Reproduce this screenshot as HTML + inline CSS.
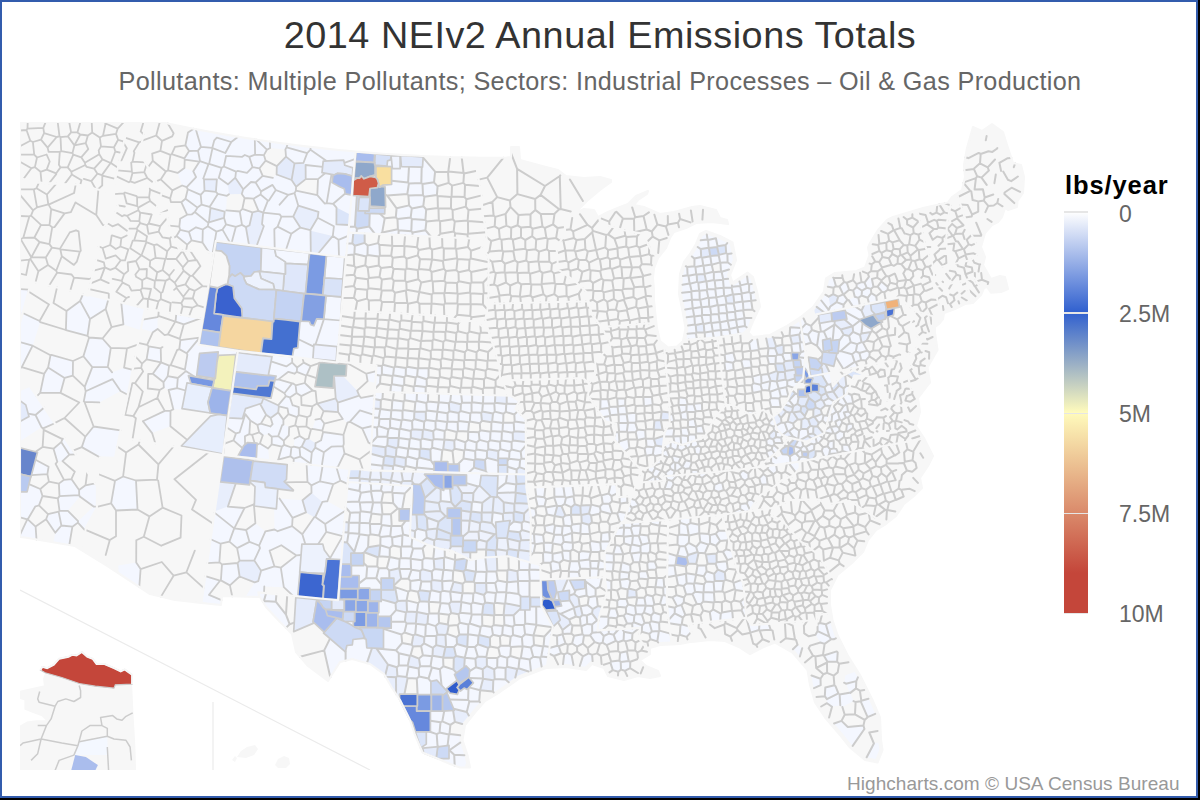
<!DOCTYPE html>
<html><head><meta charset="utf-8"><title>2014 NEIv2 Annual Emissions Totals</title>
<style>
html,body{margin:0;padding:0;background:#000;}
body{width:1200px;height:800px;overflow:hidden;position:relative;font-family:"Liberation Sans",sans-serif;}
#chart{position:absolute;left:0;top:0;width:1194px;height:794px;border:2px solid #335cad;background:#fff;}
#title{position:absolute;left:0;width:1200px;top:13px;text-align:center;font-size:37.8px;letter-spacing:0.52px;color:#333;white-space:nowrap;line-height:44px;}
#sub{position:absolute;left:0;width:1200px;top:66px;text-align:center;font-size:25.2px;letter-spacing:0.36px;color:#666;white-space:nowrap;line-height:30px;}
#map{position:absolute;left:0;top:0;}
#ltitle{position:absolute;left:1065px;top:170px;font-size:25.5px;font-weight:bold;letter-spacing:0.9px;color:#000;white-space:nowrap;line-height:30px;}
#bar{position:absolute;left:1064px;top:212px;width:24px;height:401px;background:linear-gradient(to bottom,#ffffff 0%,#3060cf 25%,#fffbbc 50%,#c4463a 90%,#c4463a 100%);}
.tick{position:absolute;left:1064px;width:24px;height:1.5px;background:#e6e6e6;}
.lab{position:absolute;left:1119px;font-size:23px;color:#666;line-height:26px;white-space:nowrap;}
#credits{position:absolute;right:20.5px;top:773px;font-size:19px;letter-spacing:0.05px;color:#999;white-space:nowrap;line-height:22px;}
</style></head><body>
<div id="chart"></div>
<svg id="map" width="1200" height="800" viewBox="0 0 1200 800">
<defs><clipPath id="plot"><rect x="20" y="122" width="1040" height="648"/></clipPath></defs>
<g clip-path="url(#plot)">
<path d="M20 122l0 415l5 0.5l50 8.5l32.5 20l42.5 28l25 6l46 5l1 -9l38 1l6 10l14 15l12 12l4 18l12 14l20 15l12 -19l12 -3l18 5l14 10l8 14l8 12l10 20l5 15l7.5 17.5l12.5 5l15 6.5l10 3.5l10 0l-2.5 -12.5l-5 -15l2.5 -15l10 -12.5l10 -11.5l15 -9l20 -14l26 -10l20 -1l20 3l6 -6l12 4l4 8l16 4l14 -4l12 2l10 -2l-2 -5l-12 -5l-6 -6l10 -6l0 -6l10 -3l20 -1l10 -2l20 -2l15 1l15 6.5l10 6.5l12.5 -6.5l12.5 -5l17.5 10l15 17.5l2.5 15l5 17.5l10 15l15 17.5l10 12.5l15 12.5l12.5 2.5l5 -12.5l-1.5 -10l-1 -22.5l-7.5 -17.5l-12.5 -25l-12.5 -20l-10 -20l-5 -15l-2.5 -15l0 -15l7.5 -15l14.5 -12l11 -11l5 -12l8 -10l10 -6l10 -8l8 -12l10 -8l8 -8l-2 -10l8 -12l5 -10l-9 -18l-8 -12l4 -14l-2 -14l12 -15.5l-2.5 -15l10 -17.5l-2.5 -17.5l0 -5.5l4 -3l4 -5l1 -6l11 -4l10 -5l8 -1l8 -8l3 -7l3 -1l4 5.7l10 -0.7l7 -3l-3 -12l-5 -1l-9 3l-4 -7l-4 -7l2 -8l-4 -10l4 -14l7 -8l6 -3l4 -5l3 -9l3 2l9 -3l0.5 -6l5.5 -8l1 -16l-3 -12l-8 -2l-5 -15l-5 -16l-11 -8l-10 7l-9 -4l-6 21l-3 17l1 12l-3 13l-10 7l-4 5.5l-25 5.5l-30 9l-6 3l-9 10l-8 13l-2 4.5l1.5 7.5l-4.5 12.5l-8.5 3.5l-21.5 2l-9 5.5l-2 13l-11 15.5l-13 10.5l-13 8.5l-17 9l-17.5 2l-4 -4.5l4.5 -11l7 -15l-3 -15l-4 -14.5l-5.5 -4.5l-15 10l-2.5 -7.5l6 -15l-3.5 -17.5l-12.5 -6.5l-14 -5l-6 3l-4 10l-6 10l-6 8l-4 12l-1 20l3.5 17l3 17l-2.5 13l-6 5.5l-9 1l-8 -6.5l-3 -13l-1.5 -13l-1.5 -15l0 -10l-1 -12l1 -10l4 -10l8 -10l4 -10l4 -6l12 -4l10 -5l16 -1l16 2l-1 -4l-7 -2l-4 -8l-16 -4l-8 1l-18 5l-14 2l-16 -7l-10 -2l4 -5l9 -6l1 -3l-12 5l-8 8l-8 3l-12 5l-10 5l-4 -7l-10 -1l-14 6.6l8 -5.6l10 -10l12 -10l11 -8l0 -2l-11 -3l-16 1l-18 -2l-8 -6l-12 -3l-26 -7l-1 -13l-8 0l0 10l-5.2 0.8l-8.8 0l-8.8 0l-8.8 -0.1l-8.8 -0.1l-8.8 -0.2l-8.8 -0.2l-8.8 -0.3l-8.8 -0.3l-8.8 -0.4l-8.7 -0.4l-8.8 -0.4l-8.8 -0.5l-8.8 -0.6l-8.8 -0.6l-8.7 -0.6l-8.8 -0.7l-8.8 -0.8l-8.7 -0.8l-8.8 -0.8l-8.7 -0.9l-8.8 -1l-8.7 -1l-8.8 -1l-8.7 -1.1l-8.7 -1.1l-8.7 -1.2l-8.7 -1.2l-8.7 -1.3l-8.7 -1.3l-8.7 -1.4l-8.7 -1.4l-8.7 -1.5l-8.6 -1.5l-8.7 -1.6l-8.7 -1.6l-8.6 -1.7l-8.6 -1.7l-8.6 -1.7l-8.6 -1.8l-4.6 -1z" fill="#f7f7f7"/>
<path d="M35.6 526.6l-7.8 -7.3l-0.5 0l-7.3 15.6l0 2l0 0.1l5 0.5l11.5 2zM72.4 526.7l-11 -1.2l-6.1 7.2l-1.9 9.6l15.9 2.7zM35.3 506.5l-15.3 -8l0 18.8l7.3 2l0.5 0zM48 514.2l-1.9 5.1l9.2 13.4l6.1 -7.2l-2.8 -13.9zM58.6 511.6l2.8 13.9l11 1.2l5.5 -4.1l0.2 -1.4l-10.2 -10.4l-8.4 -0.2zM93.6 506.5l-15.5 14.7l-0.2 1.4l7.4 8.1l0.9 -3.7l10.7 -19.3l0 -1zM35.3 506.5l3.7 -1.1l3.5 -9.4l-2.2 -7l-11.3 -4.9l-1.9 7.8l-7.1 0l0 6.6zM59.5 510.6l8.4 0.2l11.9 -14.3l-0.6 -1.3l-19.7 0.9l-1.7 2.3zM79.2 495.2l-0.1 -5.3l-7.7 -10.8l-7.4 0.7l-5.1 3.8l0.6 12.5zM85.5 485.3l-6.4 4.6l0.1 5.3l0.6 1.3l13.8 10l3.3 0.2l0 -20.5l-1.8 -2.8zM47.4 474.1l1.2 -7.4l-13.1 -7l-4 15.4zM53.5 448.7l3.8 13l5.2 -0.6l6.9 -6.4l-8.2 -12.6zM41.6 427.3l-6.1 -12.3l-7.3 -1.4l0.8 3l-9 4.9l0 19.8zM69.4 454.7l6.2 -0.3l-11.3 -16.9l-1.8 1.6l-1.3 3zM35.5 415l6.1 12.3l1.5 1.1l11.6 -5.2l-10.5 -15.7zM20 391.3l0 9.3l5.8 4.3l2.4 8.7l7.3 1.4l8.7 -7.5l-14 -20.8zM20 289.1l0 33.8l9 -33.2zM93.6 426.5l-8.3 10.2l-3.5 10.4l17.9 10.1l15.3 0.5l5.5 -27.3zM48.1 367.6l-3.9 6.2l-4 19.1l20.3 0l4.1 -15zM85.7 391.3l-1.9 10l0.6 0.5l14.9 0.6l21.3 -11.4l-8.2 -11.9zM20 342.1l0 26.2l1.8 -1.1l10.8 -21.5zM51.4 354.9l-0.9 0.4l-2.4 12.3l16.5 10.3l8.2 -2.3l0.2 -14.6zM107.8 367l-15.5 0.1l-7.6 19.8l1 4.4l26.7 -12.2l-0.3 -6.7zM124.1 367.7l-12 4.7l0.3 6.7l8.2 11.9l7.1 3.7l5 -24.8zM22.7 313l-2.7 9.9l0 19.2l12.6 3.6l0.1 0l7.5 -23.6l-0.6 -1.1zM110.8 347.8l-8.3 -9.3l-13.4 -1l-5.7 18.8l8.9 10.8l15.5 -0.1zM66.5 310.9l-0.6 19.1l0 0.1l21.6 5.7l2.5 -16.8l-9.9 -18.1zM80.1 300.9l9.9 18.1l15.7 -10l2.6 -9.5l-20.3 -4.7l-0.2 0.9l-4.9 -1.4zM123.4 324.4l17.3 5.8l4.4 -22l-23.8 -5.6zM176.5 236l10.7 8.6l4.4 -4.3l-2.7 -8.5l-8.7 -2zM196 227.3l-7.1 4.5l2.7 8.5l10.9 2.3l0.3 -13.1zM202.8 229.5l-0.3 13.1l6.4 9.6l3.7 1.2l3.8 -21.8l-8.6 -5.3zM216.4 231.6l-3.8 21.8l1.1 0.4l0.3 -1.9l0.2 -1.3l0.1 0l1.2 -7.5l0 -1.1l0.2 0l0.2 -1.2l14.1 1.8l-7.5 -13zM180.2 218.7l-0.9 8l0.9 3.1l8.7 2l7.1 -4.5l-4 -13l-4.9 0.4zM192 214.3l4 13l6.8 2.2l5 -3.2l0.6 -3.4l-13.6 -10.9zM224 217.8l-15.1 4.5l-0.5 0.6l-0.6 3.4l8.6 5.3l6.1 -2l3.5 -5.2zM235.9 226.8l-9.9 -2.4l-3.5 5.2l7.5 13l1.6 0.2zM245.9 227.1l-3.9 -2.2l-6.1 1.9l-4.3 16l17.4 2.2zM274.3 229.2l-10.5 -3l-7.2 19.8l18.1 2.3zM291.3 233.8l-13.7 -7.2l-3.3 2.6l0.4 19.1l11.3 1.4zM291.3 233.8l-5.3 15.9l24.8 3.2l-0.3 -22.2l-0.2 -0.5l-10 -2.6zM338.5 239.8l-5.7 -3.8l-0.2 0.1l-14.6 17.7l21 2.7zM338.5 239.8l0.5 16.7l4.2 0.6l1.5 0.1l1.4 0.2l2 -21.6zM185.5 198.7l-4.2 3.5l5.8 12.5l4.9 -0.4l2.8 -2.3l2.7 -4.4zM194.8 212l13.6 10.9l0.5 -0.6l1.6 -14.4l-0.9 -1l-8 -2.3l-4.1 3zM224.7 211.6l-0.7 6.2l2 6.6l9.9 2.4l6.1 -1.9l-2.2 -13.4l-13.6 -1.2zM239.8 211.5l2.2 13.4l3.9 2.2l3.6 -1.8l3 -13l-10.1 -3.5zM263.2 212.7l-1.2 11.4l1.8 2.1l10.5 3l3.3 -2.6l3.8 -9.9l-1.7 -2.3zM277.6 226.6l13.7 7.2l9 -6.2l-7.1 -11l-11.8 0.1zM310.5 230.7l22.1 5.4l0.2 -0.1l1.1 -9.7l-16.2 -8.5l-7.4 12.4zM338.5 239.8l9.6 -4l0.9 -10.8l-12.6 -0.6l-2.5 1.9l-1.1 9.7zM201.6 204.6l-0.9 -9.7l-12.9 -5.7l-2.3 9.5l12 8.9zM200.7 194.9l0.9 9.7l8 2.3l8.2 -13l-1.9 -2.1l-11.4 -1.1zM217.8 193.9l-8.2 13l0.9 1l14.2 3.7l1.5 -1.3l0.7 -14.5zM258.5 210.8l4.7 1.9l4.7 -12.1l-7.3 -6.1l-7.2 4.2zM267.9 200.6l-4.7 12.1l16.5 1.7l-0.1 -9.7l-10.7 -4.2zM279.7 214.4l1.7 2.3l11.8 -0.1l5.1 -10.9l-3.8 -12.6l-6.3 1.8l-8.6 9.8zM324.8 203.6l-6.3 8.2l-0.8 6l16.2 8.5l2.5 -1.9l0.1 -16.8l-3.3 -3.8l-6.5 -0.7zM177.6 172.9l4.5 12.6l4.6 1.7l9.4 -10.1l-2.8 -5.8l-8.9 -3.4zM203.3 178.5l-7.2 -1.4l-9.4 10.1l1.1 2l12.9 5.7l3.8 -4.2l-0.5 -11.5zM215.9 191.8l1.9 2.1l9.1 1.9l2.1 -1.6l-1.1 -9.9l-9.1 -6.5l-1.9 1.5zM253.4 198.7l7.2 -4.2l0.4 -3.1l-5.4 -8.9l-4.6 -0.5l-7.8 7.3l-1.4 4.6l2.8 4.1zM260.6 194.5l7.3 6.1l1 -0.1l6.9 -10.5l-3.3 -5.1l-11.5 6.5zM268.9 200.5l10.7 4.2l8.6 -9.8l-12.4 -4.9zM317.3 195.2l-21.4 -4.5l-1.4 2.4l3.8 12.6l20.2 6.1l6.3 -8.2zM333.2 203.8l3.3 3.8l13.5 6.8l1.7 -19.3l-6.5 -1.3l0 -0.3zM193.3 171.3l2.8 5.8l7.2 1.4l5.2 -14.4l-8.5 -2.9l-0.6 0.5zM216.9 179.3l1.9 -1.5l2.9 -10l-12.6 -3.9l-0.6 0.2l-5.2 14.4l0.7 0.7zM223.9 166.5l-2.2 1.3l-2.9 10l9.1 6.5l7.4 -6.6l0.7 -6zM251 182l-4 -9.2l-9.2 -1.9l-1.8 0.8l-0.7 6l7.9 11.6zM255.6 182.5l7.1 -6.6l-3.2 -7.6l-7 -1.2l-5.5 5.7l4 9.2zM261 191.4l11.5 -6.5l0.4 -7l-10.2 -2l-7.1 6.6zM288.2 194.9l6.3 -1.8l1.4 -2.4l0.2 -4l-4.5 -6.7l-15 -5.5l-3.7 3.4l-0.4 7l3.3 5.1zM318 179.1l-0.7 16.1l7.5 8.4l1.9 -0.5l4.8 -28.6l-6.4 -1.2zM344.3 162.8l0.5 2.5l8.1 2.5l0 0.1l0.1 0l-0.7 8.3l-1.2 -0.4l1.3 0.6l-0.3 11.2l-0.1 4.4l0.4 -4.6l2.5 -28.2l-10.6 3.6zM326.7 203.1l6.5 0.7l12 -10.3l-1 -4.8l-4.6 -1.9l-7.6 -4.3l1.1 -7.7l-1.6 -0.3zM184.7 159.7l14.7 2l0.6 -0.5l-2 -10.6l-8.9 0.4l-4.8 7.4zM200 161.2l8.5 2.9l0.6 -0.2l3.4 -15.8l-0.2 -0.3l-11.3 -0.9l-3 3.7zM221.7 167.8l2.2 -1.3l2.2 -10.7l-0.8 -2.8l-12.8 -4.9l-3.4 15.8zM242.2 156.8l-16.1 -1l-2.2 10.7l12.1 5.2l1.8 -0.8zM252.5 167.1l-3.2 -10.3l-4.5 -1.8l-2.6 1.8l-4.4 14.1l9.2 1.9zM259.5 168.3l6.1 -7.7l-1.7 -5.5l-8.8 -0.5l-5.8 2.2l3.2 10.3zM305.6 165l0.1 14.1l12.3 0l7.1 -5.8l-3.1 -0.6l0.6 -5.9zM188 132.5l-2.6 12.8l3.7 5.7l8.9 -0.4l3 -3.7l-5.2 -17.7l-2.1 -0.4zM201 146.9l11.3 0.9l2 -7.5l-14.9 -10.5l-3.6 -0.6zM231.3 142l-14.5 -4.3l-2.5 2.6l-2 7.5l0.2 0.3l12.8 4.9zM231.3 142l-6 11l0.8 2.8l16.1 1l2.6 -1.8l-3.1 -17.7l-3.6 -0.6zM244.8 155l4.5 1.8l5.8 -2.2l-0.3 -15.3l-3.1 -0.4l-8.7 -1.4l-1.3 -0.2zM255.1 154.6l8.8 0.5l3 -5.4l-10.5 -10.1l-1.6 -0.3zM286.6 147.3l-1.2 2.1l0.6 7.2l8.5 6.8l9 -0.6l3.7 -9.7zM303.5 162.8l2.1 2.2l17 1.8l0.6 -5.7l3.4 -0.1l-16.1 -11.3l-3.3 3.4zM214.3 140.3l2.5 -2.6l0.6 -4.5l-0.4 -0.1l-8.7 -1.6l-8.7 -1.6l-0.2 -0.1zM216.8 137.7l14.5 4.3l6.8 -5.3l-3.8 -0.6l-8.7 -1.5l-8.2 -1.4zM266.9 149.7l3.2 -1.7l-0.2 -6.4l-0.8 -0.1l-8.7 -1.3l-4 -0.6zM285.4 149.4l1.2 -2.1l1 -3.3l-1.1 -0.1l-8.7 -1.2l-7.9 -1.1l0.2 6.4zM286.6 147.3l20.6 5.8l3.3 -3.4l0.1 -2.8l-6.7 -0.8l-8.7 -1.1l-7.6 -1zM326.6 161l17.1 -0.9l0.6 2.7l10.6 -3.6l0.7 -7.7l-7.9 -0.7l-8.8 -0.8l-8.7 -0.9l-8.8 -1l-8.7 -1l-2.1 -0.2l-0.1 2.8zM201.8 329.1l5.9 -33.8l1.3 -7.7l5 -35.7l-1.6 9.5l-5.5 33.5l-8.4 49.9l39.4 6.1l21.6 2.3l-40.7 -6l0 -0.1l0.9 -7.7l-1.1 8l-19.2 -2.9l0 -0.1l2.3 -15.3l0.1 0zM298.5 339.2l-0.7 8.6l-4 0.7l-1.4 8.2l-2.5 -0.2l32.4 4.1l-0.5 -0.9l-8.9 -0.8l0.9 -12.3zM261 353.4l19.1 2l-19.1 -2.1zM223.2 314.9l-0.1 0.9l33.7 3.7l-14.5 -1.8l-0.1 -1.9l-0.3 1.8zM323.9 319.1l-0.1 0l-7.1 -0.2l-2.8 6.9l-3.2 -1.1l-1.3 -3.2l-8.2 -0.4l0 0.2l-15 -1.5l13.8 1.9l-1.5 17.5l15.3 7.4l0.1 -2.2l1.6 0.1zM260.7 247.5l13.3 1.6l35.7 3.8l-0.1 0.6l16.8 1.8l0 0.2l16.8 1.6l-127.3 -16.3l-0.2 1.2zM322.7 295.4l0.1 -0.6l-16.7 -1.1l19.4 2l0 -0.1zM304.2 293.6l-0.2 0l-1 10.5zM276.4 290.1l4.4 0.4l-4.4 -0.6zM272.4 324.4l0.4 -2.9l-0.3 0zM215.5 243.1l-1.2 7.5l1.2 -1.3zM315.5 344.5l21.6 2.1l-0.8 14.5l-14.5 -1.4l0.5 0.9l14.5 1.9l3.7 -42l-16.6 -1.4zM343.1 278l-1.5 18.8l-3.5 -0.2l3.9 0.5l-1.3 21.8l5.4 -61.5l-1.4 -0.2l-1.6 20.8zM142.9 421.3l9.2 11.8l18.3 -6.9l0.1 -15.4l-5.7 0.1zM125.2 414.9l7.1 -31.7l-2.1 -0.8l-6.5 32.4zM177 388.1l-8.4 1.9l4.7 19.3l14.7 0.3l-6 -0.9l3.5 -18.2zM177.8 378l-10.1 -1.8l-4.2 6.1l0.3 5.1l4.8 2.6l8.4 -1.9zM185.5 390.5l1.5 -7.7l4 0.7l-2.6 -7.8l6.7 1.2l-9.3 -5.8l-8 6.9l-0.8 10.1zM163.5 382.3l4.2 -6.1l1.4 -10.5l-8 -3.4l-0.1 0.1l-8.2 11.3zM148.7 346.4l-2.1 12.9l14.4 3.1l0.1 -0.1l-0.4 -14zM212.1 387.6l0.9 0.5l18.1 2.7l0 0.1l-1.1 7.8l-0.6 4l-1.1 7.8l0.9 0.1l1.1 -7.6l0.6 -3.7l0.7 -4.6l3.3 -23l0 -0.1l0.9 -8.4l-1 -0.1l-3.2 27.8l-18.8 -3l0.7 -4.9l-1 4.5l0 0.1l-0.1 0l-0.2 -0.1l-0.1 0.1zM187.4 354.6l-2.5 15l0.9 1.5l9.3 5.8l18.9 3.2l0.3 -1.7l-17.6 -2.8l2.5 -18.9zM180.4 340.2l-1.1 8.9l7.3 4.2l13.1 -15.7zM186.6 353.3l0.8 1.3l11.8 2.1l0.4 -3.4l18.6 -1.5l-0.9 8.1l0.2 0l0.9 -4.6l17.4 -0.8l-1 8.6l1 0.1l1.3 -10.7l0.5 0l0.3 -1.6l-39.4 -6.1l1.2 -7.2zM152.9 332.2l4.7 -3.3l-0.1 -11.8l-14.7 2.5l-1.8 9zM175.5 321.6l8.3 2.7l16.7 -5.9l-24.2 -4.5zM310.7 463.7l-10.4 -7.1l-6.5 2.1l-0.3 4.1l17.7 2zM268.1 448.5l-8.2 -5l-2.9 1.3l-0.7 13.9l13 1.4zM291.4 447.5l-7.3 -2.7l-2.2 1.9l-3.6 13l12.1 -3.4zM293.8 458.7l6.5 -2.1l-0.8 -8.6l-5.7 -1.3l-2.4 0.8l-1 8.8zM310.7 463.7l1.1 -11.1l-10.1 -6l-2.2 1.4l0.8 8.6zM310.7 463.7l0.5 1.1l10.6 1.1l2.1 -13.6l-8.6 -4.7l-3.5 5zM344.5 453.4l-1.4 -7.3l-11.4 0.5l-7.8 5.7l-2.1 13.6l15.7 1.8zM244.9 436.3l-5.3 -3.9l-3.6 1l-2.5 7l8.9 7.6l1.4 -2.5l1.3 -1zM283.8 440.7l-5.6 -4.6l-6.4 0.6l-0.1 7.7l10.2 2.3l2.2 -1.9zM299.5 448l2.2 -1.4l3.5 -7.1l-5.5 -3.5l-5.2 2.5l-0.7 8.2zM315.5 443.2l-0.2 4.4l8.6 4.7l7.8 -5.7l-10.6 -6.3zM236 433.4l3.6 -1l5.7 -18.3l-0.7 -2.1l-2.1 6.6l-14.3 -0.7l-1.4 9.7zM239.6 432.4l5.3 3.9l4.4 -2.2l0.9 -13.7l-4.9 -6.3zM270.5 426.5l-9.6 -2.9l-3.5 1.3l1.7 7.4l3.7 3l5.8 -1.3zM278.2 436.1l3.9 -10.9l-9.5 -1l-2.1 2.3l-1.9 7.5l3.2 2.7zM282.1 425.2l-3.9 10.9l5.6 4.6l5 -5.3l0.4 -8.3l-5.8 -2.5zM321.1 440.3l10.6 6.3l11.4 -0.5l0.7 -2.2l-0.3 -9.1l-20.4 -2.8zM231.6 394.7l0.2 -1.4l0.4 0l0.9 -6.6l-0.2 -0.1l-0.1 0l1.1 -7l0.4 -2.8l-0.1 -0.1l-0.4 2.6l-2.2 15.4zM245.3 414.1l4.9 6.3l7.2 4.5l3.5 -1.3l5.2 -8.8l-6.1 -11l-14.4 4.8l-1 3.4zM278.2 412.4l-7.5 5.5l1.9 6.3l9.5 1l1.3 -0.6l0 -5zM312.4 428.9l9.9 1.8l2 -7.1l-3.5 -4.9l-5.4 0.9zM362.2 428.4l6.3 14.2l2.8 1.7l1.2 -18.3zM296.9 417.2l1.8 -2.1l0.1 -8l-6.2 -1.9l-5.1 3.2l1 5.7zM349.8 421.8l12.4 6.6l10.3 -2.4l0.8 -11.4l-13.4 -4.3zM292.6 405.2l-2.7 -7.8l-4 -1.3l-7.8 9.2l0.8 1.1l8.6 2zM338.1 412.1l4.7 6.9l4.6 3.7l2.4 -0.9l10.1 -11.5l1.1 -12.5l-1.8 -2.1l-21.4 7zM361 397.8l-1.1 12.5l13.4 4.3l1.3 -19.2zM284.4 393.2l7.8 -9.8l-13.8 -4l-3.4 0.3l-0.4 1.1l-2.9 -0.2l3 0.5l-1.2 5.3zM296.5 392.9l-0.9 -7.6l-2.8 -2l-0.6 0.1l-7.8 9.8l1.5 2.9l4 1.3zM301.2 396.1l11.4 -5.6l-7.8 -7.5l-9.2 2.3l0.9 7.6zM234.5 375.3l0.5 -3.6l-0.1 0l-0.5 3.6zM278.4 379.4l10 -7.6l-2.1 -5.4l-15.2 -5l-2.7 13.8l7.7 0.9l-1.1 3.6zM294.5 373.7l2.3 -1.9l0.3 -4.3l-4.9 -4.9l-5.9 3.8l2.1 5.4zM310.6 366.1l-6.9 -3.5l-6.6 4.9l-0.3 4.3l9.2 3.7l0.8 -0.6zM339.9 361.7l-3 -0.3l-0.1 1.1l-11.4 -1.5l-4.6 1.6l18.8 1.2zM375.4 383l0.7 -11.4l-0.7 -0.3l-9.1 2.4l1.3 7.4zM237.6 352.5l0.1 0l10 1.3l24.3 2.9l-0.9 4.7l15.2 5l5.9 -3.8l-0.1 -5.9l-2.2 -0.2l-12 -1.4l-16.9 -1.7l-1.7 -0.2l-19.8 -2.1l-1.6 -0.2l-0.3 1.6zM118.3 565.6l0.4 7.8l20.6 13.5l1.3 -17.8l-4.4 -6.7zM115 480.8l-3.9 22.5l4.9 7.2l21.5 -1l-1.5 -29l-12.9 -4zM209 594.8l-6.6 1.4l-0.9 6.7l3.5 0.4l3.7 0.4l12.3 1.3l0.5 -4.9zM205.3 576.1l-2.9 20.1l6.6 -1.4l11 -14.1zM264.3 586.5l-6.1 -5.3l-3.5 1.1l-8.9 14.3l1.8 0.1l7 0.2l4.7 0.1l-1 -4.6l5.7 0.6zM229.9 585.4l9.7 -8.9l-2 -13.5l-15.6 1.4l-1.1 16zM261.1 570.7l-2.9 10.5l6.1 5.3l19.5 0.7l-3 -19.5l-6.4 -1.4zM296.5 555.4l-15.7 12.3l3 19.5l9.3 8.6l4.7 0.5l2 -23.7l-0.1 0l1.4 -17.6zM219.4 562.3l1.3 -18.6l-10 -4.5l-3.5 23.9zM237.1 548.1l2.5 12.5l14.7 -0.2l5.7 -12.3l-0.9 -2.5l-9.6 -3.7zM260 548.1l-5.7 12.3l6.8 10.3l13.3 -4.4l-4.8 -15.6zM214.5 512.6l-3.8 26.6l10 4.5l8.7 -2.1l4.8 -13.2zM246.1 530l-11.8 -1.7l-0.1 0.1l-4.8 13.2l7.7 6.5l12.4 -6.2zM259.1 545.6l6.3 -14.2l-10 -8.1l-9.3 6.7l3.4 11.9zM260 548.1l9.6 2.6l11.7 -5.5l-3.6 -14l-3.2 -1.7l-9.1 1.9l-6.3 14.2zM301.1 555l0.8 -10.9l3.4 0l-3 -9.8l-10.2 -8.2l-14.4 5.1l3.6 14l15.2 10.2zM342.7 536.1l-13 22.8l11 0.6l-0.3 4.7l0.6 0l2.3 -28.3zM337.9 599.6l0.2 0l1.8 -22l0 -0.7l0 -6l-2 28.7zM307.7 572.8l15.3 1.5l0.1 0l-0.7 10.3l0.1 0.1l2.2 -10.4l0.2 -1l-0.7 0l-16.5 -0.5zM244.5 508l-16.6 -1.4l-13.2 4.6l-0.2 1.4l19.7 15.8l0.1 -0.1zM274.5 529.5l3.2 1.7l14.4 -5.1l0.5 -8.2l-13.1 -19.5l-2.3 -1.3l-0.8 11.8l-2.2 -0.3zM326.2 531.9l-1 -7.9l-9.9 -7l-1.1 0.2l-11.9 17.1l3 9.8l12.9 0zM342.7 536.1l0.6 -0.2l2.1 -24.9l-0.5 0l-19.7 13l1 7.9zM302.5 500.3l-23 -1.9l13.1 19.5l13.4 -5.5zM315.3 517l9.9 7l19.7 -13l-17.5 -9.8l-5 0.7zM327.4 501.2l5.8 -17l-13.2 -2.9l-8.6 4.1l0.1 7.3l10.9 9.2zM322.6 466l-16 -1.8l0.9 17.7l3.9 3.5l8.6 -4.1zM340.4 480.7l-3.9 -13.2l-13.9 -1.5l-2.6 15.3l13.2 2.9zM340.4 480.7l7.2 3.1l0.1 -1.8l1.9 -13l-13.1 -1.5zM356.9 228.7l-2 -2.3l-6 0.4l-0.5 5.8l8.2 0.4zM369.3 226.6l-12.4 2.1l-0.3 4.3l18.3 0.9zM382.2 232.4l-1.6 1.8l17.8 0.8l0.3 -4.8l-0.8 -0.9zM398.4 235l14 0.7l0.2 -3.1l-1.3 -1.4l-12.6 -1zM425.4 230.2l-12.8 2.4l-0.2 3.1l18.3 0.8zM354.9 226.4l2 -30.6l-4.3 -0.3l0.5 -15l4.2 -2.4l-3.3 0l0.3 -3.7l-0.7 -0.9l-1.6 18.5l-0.1 3.1l-0.2 0l-2.8 31.7zM369.3 226.6l5.6 7.3l5.7 0.3l1.6 -1.8l2.5 -14.1l-4.7 -4.5l-10.3 -0.3zM410.7 217.5l-13.2 1.6l0.4 10.2l0.8 0.9l12.6 1l0.5 -12.3zM411.8 218.9l-0.5 12.3l1.3 1.4l12.8 -2.4l1 -8.8l-1 -1.5zM411.8 208.4l-2.7 -3l-12.5 2.9l-0.8 9l1.7 1.8l13.2 -1.6zM426.2 209.5l-2.9 -3.3l-11.5 2.2l-1.1 9.1l1.1 1.4l13.6 1zM423.3 206.2l1.1 -9.4l-1.4 -1.7l-14.6 0.4l0.7 9.9l2.7 3zM387.2 195.6l20.1 -1.6l1.6 -10.4l-0.8 -1.1l-16.5 -1.8l0 3.8l-9.1 0.6l-1.8 1.3l4.4 0.5l0.2 7.7zM408.4 195.5l14.6 -0.4l-0.5 -11l-1.2 -1l-12.4 0.5l-1.6 10.4zM437.6 186.3l-3.6 -4l-11.5 1.8l0.5 11l1.4 1.7l12.5 -1.8zM353.6 173.5l0.7 0.9l1.1 -12.8l16 0.8l-16.2 -1.4l1 -9l18.4 1.7l0.1 0l-0.7 8.9l0.7 0l0.5 -8.6l16 1.4l0 0.2l8.9 0.2l0 12.8l-7.7 0l-1.3 -12.2l-0.6 3.5l-3 1l-0.5 5.3l-11.9 -1.1l0 9.8l-4.8 1.4l5.3 1.1l0.6 0.6l-0.3 -0.5l0 -11.4l15.7 0.5l0 0.1l0 14l16.5 1.8l0.9 -15.7l-7.6 -0.2l-0.9 -11l0 -0.1l9.1 0.6l12.3 0.7l0 -0.5l-0.1 -0.3l-3.9 -0.2l-8.2 -0.4l-0.6 0l-8.8 -0.5l-8.8 -0.6l-8.8 -0.6l-8.7 -0.6l-8.8 -0.7l-8.8 -0.8l-0.8 -0.1l-2 22zM408.1 182.5l0.8 1.1l12.4 -0.5l0.4 -16l-12.7 -0.3zM435.1 171.7l-12 -14l-0.6 9.4l-0.8 0l-0.4 16l1.2 1l11.5 -1.8zM354.8 245.7l-2.5 -2.4l-4.9 0.1l-1.1 11.8l7.4 -0.6l0.7 -0.8zM367.7 245.6l-3 -2.7l-9.9 2.8l-0.4 8.1l11.7 2.6l1.4 -1.4zM379.9 255.5l-0.5 -10.7l-1.3 -1.7l-10.4 2.5l-0.2 9.4l11.3 1.6zM352.3 243.3l1.1 -10.4l-5 -0.3l-1 10.8zM402.7 386.1l-10.8 -1.9l-0.9 1l-0.6 7l11.8 0.4zM425.7 387.1l-11.1 -1.3l-1 1l0.1 6.1l11.9 0.4zM375.9 374.8l-0.9 13.9l5 -5.2l0.5 -7.8zM404.3 377.2l-11.2 -1.9l-0.7 0.8l-0.5 8.1l10.8 1.9l1.5 -1.3zM415.7 377.4l-1.1 8.4l11.1 1.3l1.1 -1.4l-0.2 -6.4l-9.5 -3.1zM376.5 365.6l-0.6 9.2l4.6 0.9l1.4 -1.2l0 -8.6zM394 367.6l-11 -2.9l-1.1 1.2l0 8.6l10.5 1.6l0.7 -0.8zM404.3 377.2l1.4 -1.6l0.2 -7.5l-10.8 -1.7l-1.1 1.2l-0.9 7.7zM407.2 366.7l-1.3 1.4l-0.2 7.5l10 1.8l1.4 -1.2l0.7 -7.6zM418.3 368.1l-0.5 0.5l-0.7 7.6l9.5 3.1l1.9 -2.1l0.1 -8.9zM370 464.2l-0.4 6.2l12.8 0.4l0 -5zM393 466.3l-0.1 4.7l10.8 0.3l0.5 -4l-9.9 -2.2zM416.7 467.4l-0.8 0.8l-0.3 3.4l18.4 0.5l0 -2.9zM485.7 471.1l-11.7 -3.5l-5.7 5.4l19.2 0.5zM516.6 469.5l-9.1 -2.8l0 7.3l9.1 0.2zM370.7 453.8l-0.7 10.4l12.4 1.6l0.8 -0.8l0.7 -7.8zM417.4 459.3l-9.9 -2.8l-1.6 1.6l-0.3 7.9l10.3 2.2l0.8 -0.8zM430.8 460.4l-11.4 -2.9l-2 1.8l-0.7 8.1l17.3 1.8l0 -4.4zM474 467.6l0.2 -7.3l-10.7 -1.7l-5.6 5.6l1.4 0l0 8.5l9 0.3zM498.2 460.8l-11.3 -2.9l-1.9 2l0.7 11.2l1.8 2.4l10.7 0.2l0 -8.5l0 -4.4zM516.6 469.5l2.9 -2.4l0.6 -7.1l-11 -1.3l-1.6 2l0 4.5l0 1.5zM526.1 469.6l-0.1 -10.5l-4.5 -0.7l-1.4 1.6l-0.6 7.1zM395.9 456.3l10 1.8l1.6 -1.6l0.7 -7.8l-10.1 -1.8l-1.6 1.3zM408.8 448.2l-0.6 0.5l-0.7 7.8l9.9 2.8l2 -1.8l0.3 -8zM442.3 450.1l-10.1 -2.4l-1.8 1.8l0.4 10.9l3.2 4.4l0 -3.3l7.1 0zM463.5 458.6l10.7 1.7l1.2 -1.4l-0.2 -8l-10.1 -1.4l-0.9 0.9zM487 451l-10.6 -1.4l-1.2 1.3l0.2 8l9.6 1l1.9 -2zM509.1 458.7l0.4 -7.2l-9.2 -2.4l-2 2l-0.1 7.3l9.3 0l0 2.3zM520.1 460l1.4 -1.6l-0.8 -6.8l-9.1 -2.1l-2.1 2l-0.4 7.2zM520.7 451.6l0.8 6.8l4.5 0.7l-0.1 -13.7zM385.5 447.2l1.8 -1.6l0.5 -7.9l-0.6 -0.9l-9.9 -0.3l-5.9 6.2l-0.2 2.5zM408.2 448.7l0.6 -0.5l0.9 -8.8l-10.9 -1.4l-0.1 0.1l-0.6 8.8zM420.8 448.4l-0.2 -8.3l-9.8 -2l-1.1 1.3l-0.9 8.8l10.9 1.3zM430.4 449.5l1.8 -1.8l0.2 -7.1l-10.2 -2.1l-1.6 1.6l0.2 8.3zM433.7 439.1l-1.3 1.5l-0.2 7.1l10.1 2.4l0.9 -0.8l1.2 -9.6zM464.2 450.4l0.9 -0.9l0.3 -7.3l-9.5 -3.1l-1.6 1.5l0.3 8.1zM468 439.9l-2.6 2.3l-0.3 7.3l10.1 1.4l1.2 -1.3l0.2 -7.1zM476.6 442.5l-0.2 7.1l10.6 1.4l1.3 -1.7l-0.1 -7.2l-8.7 -2.2zM500.3 449.1l-0.2 -7.3l-10 -1.5l-1.9 1.8l0.1 7.2l10 1.8zM511.6 449.5l0 -7.5l-10.1 -1.6l-1.4 1.4l0.2 7.3l9.2 2.4zM512.9 440.6l-1.3 1.4l0 7.5l9.1 2.1l5.2 -6.2l-0.1 -3.5zM372.4 427.1l-1 15.6l5.9 -6.2l-0.3 -8.9zM388.4 429.3l-9.7 -3.2l-1.7 1.5l0.3 8.9l9.9 0.3zM399.4 429.4l-9.3 -1.6l-1.7 1.5l-1.2 7.5l0.6 0.9l10.9 0.4l0.1 -0.1zM409.7 439.4l1.1 -1.3l0 -7.1l-10.5 -2.3l-0.9 0.7l-0.6 8.6zM444.4 439.6l0.3 -8.6l-9.1 -2l-2.4 2.3l0.5 7.8l10.7 0.6zM468.2 431.7l-0.2 8.2l8.6 2.6l2.9 -2.6l-0.7 -7.6zM479.5 439.9l8.7 2.2l1.9 -1.8l0.4 -8.6l-10.2 -1.4l-1.5 2zM500.1 441.8l1.4 -1.4l0.4 -8.7l-10.7 -0.7l-0.7 0.7l-0.4 8.6zM512.7 432.8l-10.2 -1.8l-0.6 0.7l-0.4 8.7l10.1 1.6l1.3 -1.4zM377 427.6l1.7 -1.5l0.8 -7.2l-0.7 -1.2l-5.7 -0.3l-0.7 9.7zM390.1 419.1l-10.6 -0.2l-0.8 7.2l9.7 3.2l1.7 -1.5zM390.1 419.1l0 8.7l9.3 1.6l0.9 -0.7l1.3 -8.2l-10.9 -2.1zM402.5 419.6l-0.9 0.9l-1.3 8.2l10.5 2.3l1.6 -1.8l-0.3 -8.1zM412.1 421.1l0.3 8.1l10.5 0.8l0.9 -0.8l0.4 -7.4l-10.1 -2.8zM425.9 420l-1.7 1.8l-0.4 7.4l9.4 2.1l2.4 -2.3l-0.1 -7.7zM435.6 429l9.1 2l1.7 -1.6l0.7 -7.4l-10.7 -1.6l-0.9 0.9zM457.7 421.9l-10.1 -0.5l-0.5 0.6l-0.7 7.4l10.4 2.6l1.1 -1.1zM458.7 420.9l-1 1l0.2 9l10.2 0.7l1 -9.3zM502.5 431l0.5 -8l-10.8 -1.6l-0.8 0.8l-0.2 8.8l10.7 0.7zM514.2 431.2l-0.5 -8.6l-10.5 0.2l-0.2 0.2l-0.5 8l10.2 1.8zM514.7 421.4l-1 1.2l0.5 8.6l11.6 0.9l-0.1 -9.2zM373.7 408.4l-0.6 9l5.7 0.3l1.5 -8.6zM380.6 408.9l-0.3 0.2l-1.5 8.6l0.7 1.2l10.6 0.2l0.6 -0.7l0.6 -7.9zM391.7 410.1l-0.4 0.4l-0.6 7.9l10.9 2.1l0.9 -0.9l0 -8.8zM414.4 411.4l-11.3 -1.3l-0.6 0.7l0 8.8l9.6 1.5l2 -2.1zM436.4 420.4l0.9 -8.6l-10.6 -1.2l-0.9 1.1l0.1 8.3l9.6 1.3zM447.1 422l0.5 -0.6l-0.1 -8.2l-10.1 -1.5l-0.1 0.1l-0.9 8.6zM458.7 412.9l-9.3 -1.7l-1.9 2l0.1 8.2l10.1 0.5l1 -1zM469.9 421.5l0.4 -8.1l-9.7 -2.4l-1.9 1.9l0 8l10.4 1.4zM481.9 420.8l-0.7 -8l-9.6 -0.5l-1.3 1.1l-0.4 8.1l9.9 1.8zM503 423l0.2 -0.2l0.2 -9l-8.6 -2.2l-1.8 1.8l-0.8 8zM525.7 422.9l0 -3.6l-8 -8l-3.4 3.2l0.4 6.9zM403.1 410.1l0.5 -8.6l-10.7 -1.4l-0.6 0.5l-0.6 9.5l10.8 0.7zM426.3 403.1l-9.7 -2.2l-1.2 1.2l-0.9 9.3l11.3 0.3l0.9 -1.1zM437.4 411.7l1.2 -9.2l-10.7 -0.9l-1.6 1.5l0.4 7.5l10.6 1.2zM448.8 403.3l-10 -1.1l-0.2 0.3l-1.2 9.2l10.1 1.5l1.9 -2zM471.6 412.3l-0.1 -9.6l-9.4 0l-1.2 1.5l-0.3 6.8l9.7 2.4zM481.2 412.8l1 -1.2l0.7 -8l-10.8 -1.4l-0.6 0.5l0.1 9.6zM493 413.4l1.8 -1.8l-0.5 -8.1l-11.3 -0.1l-0.1 0.2l-0.7 8zM506.3 404l-11.4 -1.3l-0.6 0.8l0.5 8.1l8.6 2.2l2.4 -1.9zM517.7 411.3l-2.4 -2.4l2.5 -5l-11.1 -0.3l-0.4 0.4l-0.5 7.9l8.5 2.6zM382.9 392l-8.1 -0.2l-0.5 7.1l6.5 1.4l1.7 -1.5zM404.6 400.3l10.8 1.8l1.2 -1.2l0.4 -7.9l-12.2 -0.3zM416.6 400.9l9.7 2.2l1.6 -1.5l0.3 -8.2l-11.2 -0.4zM450.2 401.8l0.9 -7.8l-12.1 -0.3l-0.2 8.5l10 1.1zM450.2 401.8l10.7 2.4l1.2 -1.5l-0.9 -8.4l-10.1 -0.3zM462.1 402.7l9.4 0l0.6 -0.5l0.1 -7.6l-11 -0.3zM483 403.4l0.3 -8.4l-11.1 -0.4l-0.1 7.6l10.8 1.4zM494.3 403.5l0.6 -0.8l0.4 -7.4l-12 -0.3l-0.3 8.4zM506.7 403.6l11.1 0.3l1.5 -2.9l-8.2 -5.2l-4.4 -0.1zM426.8 537.7l-0.7 -6.8l-8.8 -2.1l-2.3 2.3l-0.3 8l6.9 3zM509.2 525.4l-0.9 5.5l11.4 1.3l2.2 -2.2l-0.2 -7.3l-7.9 -1.1zM521.9 530l8.8 2.4l0.1 -9.5l-6.9 -1.8l-2.2 1.6zM502.8 514.1l-10.1 -1.8l-1 10.6l4.3 5.6l-0.3 -6.4l7.6 -0.9zM473 501.6l-1.1 1l-0.7 9l10.4 1.1l0.2 -0.2l0.5 -9.8zM440.7 500.9l10.6 1.4l-1.3 -13.6l-6.3 0l0 1.7l-3 -1.3zM390.9 480.5l-0.4 4.1l10.6 0.7l0.1 -2.8l-10.2 -2zM516.2 484.5l-10.3 -1.6l-8.5 6.5l-0.1 3.7l18.2 -0.8zM445.4 474.9l21.1 0l0 8.2l11.5 3.4l1.7 -0.7l0 -0.1l1.5 -10.6l5.4 0.3l0 -2l-27.3 -0.7l0 1.2l-11.4 0l0 -1.5l-0.1 0l0 1.5l-1.9 0l-0.5 1zM507.1 474.5l-8.9 0l0 -0.8l-11.6 -0.3l0 2l11.3 0.5l-0.5 13.5l8.5 -6.5zM454.2 754.8l-4.8 -4.5l-0.4 -0.1l0 8.4l-11.5 0l12.5 5.4l4.7 1.6zM454.2 754.8l0.5 10.8l5.3 1.9l5.5 0l0 -0.3l-0.1 -0.5l-0.1 -0.6l-0.1 -0.5l-0.2 -0.5l-0.3 -0.5l-0.1 -0.1l1.7 0l-1.7 -8.7l-0.2 -0.5zM449.4 750.3l4.8 4.5l10.2 0.5l-4.2 -12.7zM409.9 719.9l0.1 0.1l1.9 5.8l3.1 9.2l7.5 17.5l1.1 0.5l-0.9 -4.8l14.9 -1.4l-0.9 -12.7l-6.8 -2.3l-3.6 0l0 12.3l-5.6 3.9l-0.1 0l-5.2 -16.1l0 -0.1l-1.7 -5.4l-1.1 -3.7l-2.7 -2.8zM448.9 734.5l-9.4 -1.9l-2.8 1.5l0.9 12.7l1.3 -0.1l-1.2 0.2l9.9 -1.4zM449.5 733.9l-0.6 0.6l-1.3 11l1.4 -0.2l0 4.9l0.4 0.1l10.8 -7.7l-0.5 -1.7l-0.1 -0.2l-0.1 -0.3l0 -0.3l0 -0.3l0 -0.3l0.7 -4.2zM436.7 734.1l2.8 -1.5l1 -10.3l-10.1 -1.6l0 11.1l-0.5 0zM439.5 732.6l9.4 1.9l0.6 -0.6l0.9 -9l-8.1 -3.5l-1.8 0.9zM440.5 722.3l1.8 -0.9l1.9 -10.4l-1.6 0.1l-1 0.1l0 -0.1l-10.2 0l-1 0l0 9.6zM442.3 721.4l8.1 3.5l4.5 -3l-1.8 -11.5l-8.9 0.6zM449.8 699.5l3.8 9.2l13.2 3.3l2.6 -10.7l-1.3 -1.4zM479.2 701.4l-9.8 -0.1l-2.6 10.7l2 3.4l3.9 -4.8l0 -0.1l7.3 -8.3zM446.3 690.3l0.9 1l-0.6 1.4l-1.4 1l1.7 -1.2l2.9 7l18.3 0.4l0.4 -11.9l-1.4 1.5l-3 -1.4l-3.6 2.9l-3.2 -3.5l1.9 -2.6l-1.9 2.6l1.9 2.5l-1.8 4.3l-7.3 -1.1l-3 -3.6zM469.1 687.4l-0.6 0.6l-0.4 11.9l1.3 1.4l9.8 0.1l0.9 -11.1l0 -0.1zM416.6 706l-13.7 -0.2l0.1 0.2l9.8 0zM416.8 678.6l0.8 16l13.3 0l0 -13l-2.4 -3l-9.4 -2.1zM483.1 678.7l-0.1 -0.2l-13.7 -0.6l4.1 4.9l-4.3 4.6l11 2.8zM494.7 679l-1.4 1.3l-0.4 11.1l0.7 1l4.8 -2.9l10.3 -7.2l-3.2 -2.7zM396.8 667.2l0.6 8.7l9.1 1.1l2 -10.4l-0.8 -1l-8.9 -0.2zM406.5 677l1.1 1.1l9.2 0.5l2.3 -2.1l-0.4 -8l-10.2 -1.9zM419.1 676.5l9.4 2.1l3.4 -11l-1.3 -1.7l-10.4 0.4l-1.5 2.2zM439.9 669.2l-8 -1.6l-3.4 11l2.4 3l0 -0.2l5.9 -1.2l4.7 4.9zM439.9 669.2l1.6 15.9l4.8 5.2l0.8 -0.7l-0.8 -0.9l0 -0.1l10.5 -8.1l0.1 0l0.5 0.9l1.8 3.3l4.4 -3.5l3.8 -2.9l-4.2 2.5l-3.4 2l0 0.1l-0.1 0l0 -0.1l-1.7 -1.9l-1.5 -1.6l0 -0.1l-2 -4.7l0 -0.1l0.1 0l1.9 -1.4l-3 -3.4l-10.1 -3.3l-3.5 2.9zM483 678.5l-0.3 -9.3l-6.7 -2l-6.3 3.9l-0.6 6.2l-0.2 0.1l0.4 0.5zM497.2 667.2l-3 2.2l0.5 9.6l10.8 0.6l0.1 -11.5zM345.6 651.2l-0.2 0.7l-15.4 -13.3l-5.8 11.8l6.1 26.9l0.5 -0.8l9.2 -14.5l5.6 -1.4zM345.5 621.9l5.2 2.6l2.6 1.8l0 -4.8l-7.8 0zM345.6 660.6l4.6 -1.1l1.8 -0.5l14.9 4.1l5.1 -15.1l-5.2 -0.2l-0.7 -8.5l-2.6 -1.1l-10.5 1.3l-0.7 5.3l-5.4 0.7l-1.3 5.7zM398.8 653.2l-2.9 -2.9l-19.3 -1.7l11.3 15.9l8.9 2.7l2 -1.8zM407.7 665.6l2.1 -9.8l-11 -2.6l0 12.2zM420.2 666.3l10.4 -0.4l1.5 -9.7l-9.2 -0.9l-3.9 3.3zM432.5 655.8l-0.4 0.4l-1.5 9.7l1.3 1.7l8 1.6l3.5 -2.9l-0.3 -8.7zM464.8 657.8l-0.6 9.5l1.8 -1.4l3.8 3.8l-0.1 1.4l6.3 -3.9l-0.6 -8.4zM497.4 658l-10.6 -0.3l0.1 8.3l7.3 3.4l3 -2.2zM507.3 657.9l-7.2 -2.1l-2.7 2.2l-0.2 9.2l8.4 0.9l1.5 -1.3zM517.3 669.1l1.2 -0.8l1 -9.5l-9.2 -2.8l-3 1.9l-0.2 8.9zM528.6 671.5l2.3 -0.9l-1.2 -11.1l-8.8 -1.6l-1.4 0.9l-1 9.5zM540.1 657.5l-6.9 -0.8l-3.5 2.8l1.2 11.1l10.7 -4.1zM541.3 656.5l-1.2 1l1.5 9l3.3 -1.3l0.3 -0.1l0.3 -0.1l0.4 0l1.2 -0.1l1.1 -7.7zM336.7 618.2l2.8 1.1l3.1 1.3l0 -1.8l0 0.5l-0.1 0l-2.7 -0.7l-2.9 -0.7l-0.2 0.3zM409.8 655.8l0.8 -0.5l2.4 -8.8l-1.3 -1.8l-9.5 -1.7l-6.3 7.3l2.9 2.9zM432.1 656.2l0.4 -0.4l0.4 -8l-8.8 -4.5l-3 2.8l1.8 9.2zM454 647.1l2 8.8l8.8 1.9l2.6 -10.8l-0.1 0l-10.3 -3zM475 647l-7.6 0l-2.6 10.8l10.6 1l2.4 -2.3zM486.3 657.1l1.9 -9.2l-10.3 -3.6l-2.9 2.7l2.8 9.5zM507.3 657.9l3 -1.9l0.7 -8.9l-1.3 -1.4l-9.2 0l-2.2 2.2l1.8 7.9zM529.7 659.5l3.5 -2.8l-2.4 -9.2l-8.1 -1.2l-1.8 11.6zM540.1 657.5l1.2 -1l1.8 -10.1l-9.1 -1.5l-3.2 2.6l2.4 9.2zM541.3 656.5l6.9 0.7l1.4 -10.1l-6 -1.1l-0.5 0.4zM376.6 648.6l19.3 1.7l6.3 -7.3l-0.8 -8.5l-17.9 -5.6l0 19.6l-7.7 -0.3zM432.9 647.8l3.3 -2.7l0.1 -9.4l-11 0.4l-1 1l-0.2 6.2zM447.1 633.9l-1.6 1l0.5 12l8 0.2l3 -3.1l-0.4 -6.7zM467.4 647l7.6 0l2.9 -2.7l0.6 -8.6l-10.5 -1.5l-0.1 0.1l-0.6 12.7zM509.7 645.7l1.3 1.4l11.6 -0.9l-0.7 -8.9l-8.9 -2.3l-2.3 1.7zM522.7 646.3l8.1 1.2l3.2 -2.6l-0.6 -9.5l-8.3 -1.1l-3.2 3l0.7 8.9zM543.6 646l6 1.1l0.2 -1.6l2.8 -17.7l-8.2 8.7zM404.9 621.4l-13.7 0.4l0 6.4l-7.7 0l0 0.7l17.9 5.6l3.1 -2l2.1 -9.1zM415.8 623.5l-9.2 -0.1l-2.1 9.1l8.8 2.9l1.9 -1.1l1 -10.5zM415.2 634.3l9.1 2.8l1 -1l0.5 -11.2l-9.6 -1.1zM435.6 626.1l-8.1 -2.5l-1.7 1.3l-0.5 11.2l11 -0.4l1.2 -1.2zM459.4 634.6l8.5 -0.3l0.1 -0.1l0.4 -9.7l-8.6 -1.8l-2.1 2.4zM478.5 635.7l0.7 -0.7l1.5 -8l-11 -3.5l-1.3 1l-0.4 9.7zM482.3 625.5l-1.6 1.5l-1.5 8l10.8 2.6l3 -2.8l-1.3 -7.9zM502.2 634.8l0.7 -8.7l-9.2 -1.2l-2 2l1.3 7.9l6.9 1.5zM510.7 636.7l2.3 -1.7l-0.3 -8.3l-8.3 -1.8l-1.5 1.2l-0.7 8.7zM525.1 634.3l-1.1 -9.2l-9.4 -0.2l-1.9 1.8l0.3 8.3l8.9 2.3zM536.5 625l-0.2 -0.2l-11.1 -1.2l-1.2 1.5l1.1 9.2l8.3 1.1l0.1 -0.1zM289.6 624.2l-3.6 -9.6l-10.2 -12.9l-11.9 -0.6l-1 0.8l3.1 5.1l14 15l5.9 5.9zM404.9 621.4l1 -9l-9.9 -2.3l-5.5 6.2l0.7 0l0 5.5zM428.2 614.2l-0.7 9.4l8.1 2.5l3.4 -3.1l-0.3 -9.4l-0.2 -0.1l-9.2 -0.2zM459.8 622.7l8.6 1.8l1.3 -1l2.2 -9.2l-0.5 -0.5l-11.2 -1l-1.7 1.5zM482.1 614.5l-10.2 -0.2l-2.2 9.2l11 3.5l1.6 -1.5zM513.6 615.2l-9.6 0l0.4 9.7l8.3 1.8l1.9 -1.8zM513.6 615.2l1 9.7l9.4 0.2l1.2 -1.5l-0.2 -13.6l-4.5 0l0 -1.4zM525.2 623.6l11.1 1.2l-0.1 -18.1l-5.7 0l0 -3.9l-0.6 -0.1l0 7.3l-4.9 0zM536.3 624.8l0.2 0.2l16.2 2.2l0.1 -0.4l-11.5 -20.6l0 0.5l-5.1 0zM263.9 601.1l2.2 -7.9l-7.8 -0.8l1 4.6l0.7 0l2.9 4.9zM263.9 601.1l11.9 0.6l0.6 -7.5l-10.3 -1zM396 610.1l-0.5 -6.9l-14.3 -3.8l0 2l-2.4 0l0 11.4l-0.9 0l0 3.5l12.6 0zM418.2 603.1l-11.6 -2.7l0.4 11.1l9.9 0.5l0 -0.1zM428.8 601.8l0 -0.1l-8.9 -0.4l-1.7 1.8l-1.3 8.8l11.3 2.3l1.1 -0.9zM438.7 613.6l10.4 1.2l2.1 -1.7l-2.2 -9.3l-8.3 -0.9l-2.2 10.6zM471.4 613.8l-0.3 -9.9l-9.7 -1.8l-1.2 10.7zM483.3 604.6l-10.5 -2.1l-1.7 1.4l0.3 9.9l0.5 0.5l10.2 0.2l0.1 -0.1zM397.7 601l8.9 -0.6l1.8 -8.8l-13.3 -4.5zM431.5 590.3l-1.2 1.1l-1.5 10.3l0 0.1l11.4 0.6l0.4 -10.1zM440.6 592.3l-0.4 10.1l0.5 0.5l8.3 0.9l2.2 -2.2l-1 -9.8l-7.6 -1zM451.2 601.6l9.9 0.1l1.3 -8.5l-12 -1.6l-0.2 0.2zM462.4 593.2l-1.3 8.5l0.3 0.4l9.7 1.8l1.7 -1.4l0.6 -8.9l-10.7 -0.7zM484 595l-9.2 -2.6l-1.4 1.2l-0.6 8.9l10.5 2.1l1.9 -2.1zM486.5 592l-2.5 3l1.2 7.5l8.7 1l1.1 -0.8l0.9 -9.8zM495 602.7l9.6 1.1l0.6 -0.5l1.2 -10.9l-0.2 -0.2l-9.2 -0.3l-1.1 1zM520.5 606.3l0 -9.7l0.7 0l-2.6 -2.6l-12.2 -1.6l-1.2 10.9zM376.3 578.2l-10 -0.3l-7.2 5.5l0 4.8l10.7 0l0 1.4l11.3 0l0 -5.5zM410.4 581l-0.1 9.3l7.6 1.4l1.9 -1.5l1.6 -9l-1.3 -1.5zM431.2 581.4l-9.8 -0.2l-1.6 9l10.5 1.2l1.2 -1.1zM442.6 590.8l7.6 1l0.2 -0.2l3.2 -9.8l-0.9 -1.3l-10.5 0.8zM497 591.9l-1.8 -9l-9 -0.1l0.3 9.2l9.4 0.9zM506.2 592.2l0.8 -9.9l-9.2 -1.9l-2.6 2.5l1.8 9zM506.4 592.4l12.2 1.6l-0.7 -12.7l-10.8 1l-0.1 0l-0.8 9.9zM518.6 594l2.6 2.6l8.3 0l0 -15.5l-11.4 0l-0.2 0.2zM366.3 577.9l0.9 -11.4l-3.4 -3.4l0 2.5l-12.4 0l0 9.9l7.7 0l0 7.9zM378.8 568.2l-1.6 -1.8l-10 0.1l-0.9 11.4l10 0.3zM389.2 570.4l-2.3 -2.3l-8.1 0.1l-2.5 10l4.8 5.9l0 -5.9l8.3 0zM411 569l-11.6 -0.3l1.8 9.9l7.2 0.1l3.2 -9zM411.6 569.7l-3.2 9l2 2.3l9.7 -1.3l0.1 -8.7zM443.4 570l-9 -0.9l-2.6 2.4l0.5 8.5l9.7 1.1zM442.2 581.3l10.5 -0.8l0.5 -9.8l-9.2 -1l-0.6 0.3l-1.4 11.1zM473.8 581.8l1.1 1.2l11.1 -0.3l0.5 -10.6l-10.5 -0.5l-0.2 0.2zM497.8 580.4l-1.5 -9.1l-9.4 0.3l-0.4 0.5l-0.5 10.6l0.2 0.1l9 0.1zM519.1 569.8l-1.7 1.4l0.7 9.9l11.4 0l0.3 -0.3l-0.7 -10.9zM529.8 580.8l10.8 -0.1l0 -1.2l-0.2 -9.5l-10.9 -0.6l-0.4 0.5zM399.6 558.9l-9.9 -2l-2.8 11.2l2.3 2.3l9.9 -2.1zM401.1 557.9l-1.5 1l-0.5 9.4l0.3 0.4l11.6 0.3l-0.3 -10.3l-0.3 -0.3zM422.4 569.3l0 -9.1l-11.7 -1.5l0.3 10.3l0.6 0.7l8.6 1.3zM422.4 569.3l9.4 2.2l2.6 -2.4l-0.7 -9.9l-0.4 -0.4l-8.9 -0.8l-2 2.2zM454.1 570l1 -9.9l-0.1 -0.2l-10.2 -2.9l-0.9 0.8l0.1 11.9l9.2 1zM465.5 569.8l10.3 2l0.2 -0.2l-0.1 -12.6l-5.3 1l-3.4 -1.6zM476 571.6l10.5 0.5l0.4 -0.5l-1.6 -14.2l-1.5 0.1l-7.9 1.5zM519.1 569.8l10 0.1l0.4 -0.5l0.3 -7l-10.9 -3.1zM529.5 569.4l10.9 0.6l-0.1 -5l-9.8 -2.4l-0.7 -0.2zM379.1 556.3l10.6 0.6l0.1 -8.8l-9.5 -2.9zM411.5 546.5l-9.5 -0.3l-1.2 0.9l0.3 10.8l9.3 0.5l2.7 -9.8zM424.4 558l-1.8 -9.6l-9.5 0.2l-2.7 9.8l0.3 0.3l11.7 1.5zM433.7 559.2l10.2 -1.4l0.9 -0.8l-0.1 -7.5l-4.6 -0.6l-5.7 -1.9l-1.1 11.8zM347.1 542.5l1.5 -9.6l-0.2 -0.3l-4.8 -0.3l-0.8 9.8zM348.6 532.9l-1.5 9.6l7.2 9.4l5.4 -17.6l-0.5 -0.5zM364.3 552.3l3.8 -5.1l0.5 -11.6l-8.9 -1.3l-5.4 17.6l0.4 1.3l7.8 0zM390.3 535.9l-9.8 1l-0.2 8.3l9.5 2.9l2.8 -2.6l-0.5 -7.9zM402 546.2l0.4 -10.9l-10.3 2.3l0.5 7.9l8.2 1.6zM412.3 538l-2.4 -1.1l0 -0.7l-6.8 -1.7l-0.7 0.8l-0.4 10.9l9.5 0.3zM426.2 544.1l-13.9 -6.1l-0.8 8.5l1.6 2.1l9.5 -0.2zM359.5 522.8l-10.7 -0.2l-0.4 10l0.2 0.3l10.6 0.9zM370 523.8l-0.4 -0.6l-9.9 -0.5l-0.2 0.1l-0.3 11l0.5 0.5l8.9 1.3l1.8 -1.3zM379.1 535.5l2.8 -10.4l-0.8 -1.1l-11.1 -0.2l0.4 10.5zM379.1 535.5l1.4 1.4l9.8 -1l1 -9.7l-9.4 -1.1zM403.1 534.5l-1.3 -8.6l-10.1 0l-0.4 0.3l-1 9.7l1.8 1.7l10.3 -2.3zM409.9 536.2l1 -21.7l-0.4 0l-0.2 0.2l0 6.1l-4.7 0l-3.8 5.1l1.3 8.6zM359.9 512.3l-9.7 0.4l-1.4 9.9l10.7 0.2l0.2 -0.1zM371.6 513.4l-0.5 -0.8l-10.3 -1.4l-0.9 1.1l-0.2 10.4l9.9 0.5zM381.9 525.1l9.4 1.1l0.4 -0.3l-0.7 -11.9l-8.5 0.3l-0.7 0.5l-0.7 9.2zM350.2 512.7l9.7 -0.4l0.9 -1.1l-1 -8.6l-0.9 -1.2l-12.8 0.5l-0.4 5.4zM373.2 502.3l-0.2 -0.2l-13.2 0.5l1 8.6l10.3 1.4zM382.5 514.3l-1.1 -11.7l-0.1 -0.1l-8.1 -0.2l-2.1 10.3l0.5 0.8l10.2 1.4zM358.9 501.4l2 -8.7l-1.5 -1.7l-12.2 -2.4l-1.1 13.3zM358.9 501.4l0.9 1.2l13.2 -0.5l-2.1 -10.9l-10 1.5zM383.2 492.6l-2.3 -2.1l-9.7 0.4l-0.3 0.3l2.1 10.9l0.2 0.2l8.1 0.2zM404.9 493.4l-12.4 -0.7l0.7 10.5l4.6 5.3l2.8 0.4l1.6 0zM359.4 491l1 -8.2l-12.7 -0.8l-0.5 6.6zM370.9 491.2l0.3 -0.3l-0.4 -7.5l-10.4 -0.6l-1 8.2l1.5 1.7zM371.2 490.9l9.7 -0.4l1.2 -6.4l-11.3 -0.7zM393.2 484.8l-11.1 -0.7l-1.2 6.4l2.3 2.1l8.9 -0.6zM392.1 492l0.4 0.7l12.4 0.7l7.2 -7.4l-18.9 -1.2zM578.6 572l-9.6 -0.5l-0.3 7l11.5 -0.5zM598.7 569.5l-0.9 -0.8l-7.2 -0.4l-0.7 0.8l0.1 8.6l8 -0.3zM559.4 562.9l-6.8 -1.9l-2.3 1.7l1.2 9.1l9 -1.9zM569 571.5l9.6 0.5l1.7 -3.4l-1.7 -7.5l-8.1 0.2l-0.4 0.2l-1.5 9.6zM590.2 560.9l-1 -1.4l-10.3 1.2l-0.3 0.4l1.7 7.5l9.6 0.5l0.7 -0.8zM598.9 560.9l-8.7 0l0.4 7.4l7.2 0.4zM599.6 560.2l-0.7 0.7l-1.1 7.8l0.9 0.8l6.1 -0.4l-0.1 -7.4zM543 553l0.3 9.6l7 0.1l2.3 -1.7l0 -7.2l-0.6 -0.8l-7.8 -1.1zM562.1 551.9l-9.5 1.9l0 7.2l6.8 1.9l3.9 -3zM570.1 561.5l0.4 -0.2l-0.2 -10.2l-7.5 -0.5l-0.7 1.3l1.2 8zM590.8 552.1l-9.7 -1l-2.1 1.6l-0.1 8l10.3 -1.2zM534.6 543.4l-4 -0.3l0 12.4l3.1 -2.9l1.7 -8.4zM552 553l0.9 -9.4l-0.7 -0.7l-8.1 -0.3l-0.5 0.5l0.6 8.8zM561.5 544.9l1.3 5.7l7.5 0.5l2.5 -1.7l0.1 -6.3l-0.4 -0.3l-8.8 -1zM599.2 552l1.8 -1.4l-0.7 -8.2l-9.4 -1.4l-1.1 1.8l1.3 9zM600.3 542.4l0.7 8.2l4.7 0.7l4.8 -9.2l-0.6 -0.5l-9 0zM534.6 543.4l-0.6 -9.3l-0.4 -0.5l-2.9 0.1l-0.1 9.4zM534.6 543.4l0.8 0.8l8.2 -1.1l0.5 -0.5l-1 -7.5l-9.1 -1zM562.9 535.9l-1 -1.1l-7.6 -0.1l-2.1 8.2l0.7 0.7l8.6 1.3l2.2 -3.1zM572.5 542.8l-0.5 -9.8l-9.1 2.9l0.8 5.9zM609.9 541.6l-0.7 -9.7l-7.8 1.1l-0.5 8.6zM553.7 534.1l1.3 -8.5l-1.3 -1.5l-9.2 1.9l0.8 6zM553.7 534.1l0.6 0.6l7.6 0.1l0.7 -8.4l-7.6 -0.8zM572 533l0.3 -0.4l-1.5 -6.3l-7 -0.9l-1.2 1l-0.7 8.4l1 1.1zM572.3 532.6l8.1 0.8l0.4 -9.9l-8.4 0.9l-1.6 1.9zM589 524.8l-7.3 -2.1l-0.9 0.8l-0.4 9.9l0.5 0.5l9 0.1zM570.8 526.3l1.6 -1.9l-1.5 -9.6l-5.5 0.6l-2.5 2.1l0.9 7.9zM618.8 511.7l-1.7 1.8l2.8 8.7l1.1 0.8l3.5 -2.5l2.2 -7.5zM534.6 517.2l1.8 -2.3l-1.1 -6.2l-5.9 -1l1.4 8.8l0 1zM554.6 516.1l2.7 -10.2l-0.4 -0.4l-11.2 1.9l1.3 7.2zM589 513.6l2.1 1.9l8.4 -1.8l1.2 -2.5l-0.8 -4.5l-8.5 -2.1l-0.4 0.4zM602.7 503.5l-2.8 3.2l0.8 4.5l9.9 2.8l1.6 -0.9l-2.9 -9.3zM544.2 497.3l-8 -1l-0.7 1.1l2.2 9l6.9 -0.4l1.6 -6.7zM557.3 505.9l4.2 0.1l3 -1.8l1.5 -6.4l-1.2 -1.1l-10.4 -0.2l-0.3 0.7l2.8 8.3zM571.2 507.2l3.6 -3l-1.4 -8l-7.4 1.6l-1.5 6.4zM608.6 493.5l-7.1 1.9l1.2 8.1l6.6 0.3l2.8 -2.5l-0.7 -5.2zM620.6 503.5l6.7 -1l-0.1 -5.9l-7.6 0.5l0.2 5.6zM536.2 496.3l8 1l1.3 -10.4l-10.4 0.4zM554.4 496.5l10.4 0.2l-1.5 -10.5l-9.1 0.3zM573.4 496.2l0.6 -0.9l-1.6 -9.5l-9.1 0.4l1.5 10.5l1.2 1.1zM617 493.4l-0.6 -9.3l-5.7 0.2l-2.1 9.2l2.8 2.6zM610.4 662.6l2.4 7.5l5.5 1.6l2.7 -2.1l-0.3 -7.6l-1.3 -1.5l-8.3 0.9zM621 669.6l3.8 1.2l5.3 -2.7l0.2 -6.3l-1.6 -0.8l-8 1zM571.5 654.9l-4.3 -2l-3 1.5l-1.2 9.7l2.9 -0.1l0.2 0l0.3 0l7.1 1.1zM592.1 654.9l-3.5 -1.6l-5.7 3l-3.1 9.7l5.1 0.8l5 -4.9l0.2 -0.2l0.2 -0.2l0.3 -0.2l0.3 -0.1l0.3 -0.1l0.3 -0.1l0.3 0l0.3 0l0.3 0l0.2 0.1zM620.7 662l8 -1l-1.8 -9.8l-6.7 1.5l-0.8 7.8zM554 656l7.1 -2.8l-2.3 -7l-1.5 -0.4l-7.8 2.2l-0.8 5.3zM557 635.8l0.3 10l1.5 0.4l6.7 -2.7l-3 -9.2zM577.1 646.6l5.7 -3l1.2 -8.1l-1.5 -1.2l-8.4 1.5l-2 7.7zM600.3 632.1l-8.1 0.7l-2.2 2.4l4.8 6.9l5 1.6l2.8 -1.1l1.2 -6.6zM608.8 633.6l-5 2.4l-1.2 6.6l4.1 2.5l9.1 -4.2l-2.2 -6.2zM613.6 634.7l2.2 6.2l2.3 1.3l5.5 -1.9l0.4 -8.6l-1.7 -2.7l-3.6 0.2zM623.6 640.3l2 1.1l6.4 -1.6l0.5 -6.3l-8.5 -1.8zM572.5 625.5l-1.9 -1.8l-8.1 6.3l0.3 4l8.5 -0.5zM584 635.5l6 -0.3l2.2 -2.4l-0.1 -8.2l-4.9 -0.7l-5.8 2.3l1.1 8.1zM597.2 620.3l-5.1 4.3l0.1 8.2l8.1 -0.7l0.3 -1.8l-3.2 0.1l1.2 -9.9zM600.3 632.1l3.5 3.9l5 -2.4l-0.1 -3.8l-8.1 0.5zM608.8 633.6l4.8 1.1l5.1 -5.5l-10 0.6zM624 631.7l8.5 1.8l6.8 -5.5l-17 1zM587.2 623.9l-0.4 -8.5l-4.3 -0.4l-2.6 2.4l0.8 8.2l0.7 0.6zM587.2 623.9l4.9 0.7l5.1 -4.3l-5.2 -7l-5.2 2.1zM569.2 619.5l6.7 -3l-2.1 -8.4l-13.3 5.7zM582.5 615l4.3 0.4l5.2 -2.1l0.7 -4.2l-5 -4.2l-7.2 1.4zM560.5 613.8l13.3 -5.7l0.4 -0.5l-4.8 -7.8l0 0.8l-9.2 0.7l-0.4 -1.4l1.8 6l-6.6 0.9l-0.9 -1.7l1.6 4.2l-8.2 0.6l2.4 1.2l7.2 -0.5l0.9 2.7zM595.6 596l-6.8 1.2l-1.1 7.7l5 4.2l5.1 -3l-1 -9.3zM585.7 581.5l-0.9 -1.6l0 8.6l-9 1.3l-1.7 4.2l4.4 3.2l8.1 -1.8zM585.7 581.5l0.9 13.9l2.2 1.8l6.8 -1.2l0 -7.1zM574.1 594l1.7 -4.2l-1.4 0.3l-4.9 -10.2l10.2 0l0.7 -1.9l-12.4 0.5l-5.4 12.9l6.8 -1l0 5.1zM579.7 579.9l5.1 0l0.9 1.6l9.9 7.4l4.2 -1.9l2.3 -9.8l-18.4 0.7l-3.2 0.1l-0.1 0l-0.7 1.9zM646.6 455.7l6.3 -1.2l0.9 -7.3l-7.3 -0.8l-1.9 2.2l1.1 6.4zM655.7 445.4l-1.9 1.8l-0.9 7.3l2.2 1.5l7.4 -1.5l0.4 -7.7zM629.4 448.2l-1.1 -8.9l-0.5 -0.5l-8.4 2.6l-1.6 2.4l6.8 7.9zM646.5 446.4l7.3 0.8l1.9 -1.8l-1.8 -6.3l-0.4 -0.3l-7.6 -0.4zM619.4 441.4l-0.6 -9.3l-3.8 0.2l-0.9 7.2l3.7 4.3zM637.5 429.6l-1.8 2.4l1.5 7.6l0.5 0.5l8 -1.8l-0.5 -8zM618.8 422.9l-0.5 0.4l0.8 8.5l7.8 -0.3l1.1 -8.7l-0.1 0zM626.9 431.5l0.8 1l8 -0.5l1.8 -2.4l-2.3 -7l-7.2 0.2zM609.8 416l-7.1 1.2l3.1 4.4l5.5 1.1zM626.6 414l-8 0.6l0.2 8.3l9.1 -0.1zM628 422.8l7.2 -0.2l1.1 -1.2l0 -7.5l-1.1 -1.2l-8.3 0.9l-0.3 0.4l1.3 8.8zM609.8 416l0.5 -0.8l-1.4 -7.1l-8.6 1l-1.9 1.9l4.3 6.2zM608.9 408.1l1.4 7.1l8.2 -0.7l-0.9 -7.9l-8 0.4zM626.9 413.6l-0.8 -7.2l-0.9 -0.8l-7.5 0.9l-0.1 0.1l0.9 7.9l0.1 0.1l8 -0.6zM608.1 399.5l-0.6 -0.5l-6.6 0.2l-0.4 0.3l-0.2 9.6l8.6 -1l0.7 -1.1zM617.7 406.5l7.5 -0.9l0.1 -7.1l-8.1 -0.1zM644.6 406.2l7.5 -1.3l0.6 -0.7l-0.8 -7.4l-8.6 0.3l0.6 8.5zM674.5 442.6l6.7 2.2l-0.7 -8.7l-7.2 0.3zM688 436.1l-6.6 -0.9l-0.9 0.9l0.7 8.7l1.1 0.3l5.8 -2.1zM695.5 434.4l-6 0l-1.5 1.7l0.1 6.9l6.3 -2.3l2.2 -0.8zM673.2 436.3l1.1 -7.6l-0.8 -0.7l-7 0.8l-2 4.2l-0.4 3.6zM680.6 428.4l0.8 6.8l6.6 0.9l1.5 -1.7l-2.1 -6.9l-6.5 0.6zM696.1 426.7l0.1 6.9l8.3 -0.2l-2.2 -8l-6.1 1.2zM688.1 419.9l-0.2 7l8.2 -0.2l0.1 -0.1l-1.8 -7.8l-6.3 1.1zM672.8 422l1.3 -1.5l-1.4 -6.4l-3.1 0.5l0.1 7.1zM680.4 413.1l0.9 6.2l6.8 0.6l-0.8 -7.8l-0.9 -0.8zM678.5 404.9l-0.1 0.1l1.9 8l0.1 0.1l6 -1.8l0.2 -6.4zM686.4 411.3l0.9 0.8l8 -0.3l0.5 -0.6l-2.2 -7l-6 -0.3l-1 1zM695.8 411.2l6.4 -0.5l-0.3 -7.7l-7.8 0.7l-0.5 0.5zM687.6 403.9l-1.4 -5.6l-6.9 -1l-0.5 0.6l-0.3 7l8.1 0zM695.8 333.1l-8.3 0.6l-1.2 6.1l10.6 -0.8zM712.5 331.3l-7.7 1.3l0.1 5.8l8.9 -0.6zM712.7 330.9l-0.2 0.4l1.3 6.5l3.5 -0.2l4.3 -0.7l-0.5 -6.7l-0.3 -0.3zM729.2 329.4l-8.1 0.8l0.5 6.7l8.8 -1.5zM729.5 328.9l-0.3 0.5l1.2 6l8.2 -1.3l-1.3 -6.8zM745 326l-7.7 1.3l1.3 6.8l5 -0.8l2.4 -2.5l1.2 -3.1zM695.7 325l-0.8 -0.6l-6.8 1.1l0.4 2l0 0.2l0 0.3l0 0.3l-0.1 0.3l-0.9 5.1l8.3 -0.6l0.6 -0.7zM710.9 322.5l-7.2 1.4l0.7 8.3l0.4 0.4l7.7 -1.3l0.2 -0.4l-1.3 -8zM712.7 330.9l8.1 -1l-0.7 -7.7l-0.3 -0.3l-8.4 1zM727.6 320.7l-7.5 1.5l0.7 7.7l0.3 0.3l8.1 -0.8l0.3 -0.5l-1.8 -8.2zM727.7 320.7l1.8 8.2l7.8 -1.6l-1.3 -7.6l-0.1 -0.1zM736 319.7l1.3 7.6l7.7 -1.3l-0.6 -7.8zM745 326l2.2 1.7l3 -7.3l0.1 -0.2l1.1 -2.3l-6.9 0.2l-0.1 0.1zM694.9 324.4l-0.5 -8l-0.2 -0.2l-7.5 1.1l1.4 8.2zM694.9 324.4l0.8 0.6l7.5 -1.4l-1.6 -8.2l-7.2 1zM710.6 315.1l-8.5 -0.3l-0.5 0.6l1.6 8.2l0.5 0.3l7.2 -1.4zM719.8 321.9l-1.3 -7.9l-7.3 0.4l-0.6 0.7l0.3 7.4l0.5 0.4zM718.9 313.6l-0.4 0.4l1.3 7.9l0.3 0.3l7.5 -1.5l-0.8 -7.7zM727.1 312.6l-0.3 0.4l0.8 7.7l0.1 0l8.2 -1.1l-0.9 -7.9zM744.5 318.1l-1.3 -7.8l-7.8 0.9l-0.4 0.5l0.9 7.9l0.1 0.1l8.4 -1.5zM694.2 316.2l-1.4 -7.8l-0.1 -0.1l-7.5 1.1l0.2 1l0.1 0.1l1.2 6.8zM694.4 316.4l7.2 -1l0.5 -0.6l-0.3 -7.5l-0.3 -0.2l-8.7 1.3l1.4 7.8zM711.2 314.4l-1.1 -7.4l-0.9 -0.6l-7.4 0.9l0.3 7.5l8.5 0.3zM718.5 314l0.4 -0.4l-0.6 -8.2l-0.6 -0.4l-7.6 2l1.1 7.4zM725.8 304.6l-7.5 0.8l0.6 8.2l7.9 -0.6l0.3 -0.4zM735.4 311.2l-1.8 -7.7l-7 0.1l-0.8 1l1.3 8l7.9 -0.9zM743.2 310.3l0.2 -0.3l-0.5 -8.2l-0.4 -0.3l-8.3 1.2l-0.6 0.8l1.8 7.7zM752.5 309.5l-1.3 -8.8l-8.3 1.1l0.5 8.2zM692.7 308.3l-0.8 -8.5l-8.4 1.1l1.7 8.5zM692.8 308.4l8.7 -1.3l-1.2 -7.2l-0.6 -0.5l-7.8 0.4l0.8 8.5zM700.3 299.9l1.2 7.2l0.3 0.2l7.4 -0.9l-0.4 -8.4l-0.5 -0.4zM708.8 298l0.4 8.4l0.9 0.6l7.6 -2l-1.4 -7.6l0 -0.1zM724.1 295.6l-7.8 1.8l1.4 7.6l0.6 0.4l7.5 -0.8l0.8 -1l-1.3 -7.1zM734.2 302.7l8.3 -1.2l-1 -7.8l-8.2 0.8zM751.2 300.7l-0.6 -7.5l-1.5 -1.1l-7.4 1.3l-0.2 0.3l1 7.8l0.4 0.3zM750.6 293.2l0.6 7.5l4.5 -0.4l-1.6 -8.1zM691.9 299.8l-0.6 -8.1l-9.2 1l-0.1 1.1l1.5 7.1zM699.1 290.4l-7.5 0.8l-0.3 0.5l0.6 8.1l7.8 -0.4l-0.2 -8.7zM699.7 299.4l0.6 0.5l8 -2.3l-1.6 -7.6l-7.2 0.7zM708.3 297.6l0.5 0.4l7.5 -0.7l-1.1 -8.4l-7.9 0.4l-0.6 0.7zM716.3 297.3l0 0.1l7.8 -1.8l-0.5 -7.8l-8 0.7l-0.4 0.4zM731.6 287.4l-7.9 0.3l-0.1 0.1l0.5 7.8l1.2 0.9l7.6 -2.3zM741.5 293.7l0.2 -0.3l-1.5 -7.5l-8.1 0.9l-0.5 0.6l1.3 6.8l0.4 0.3zM748 283.6l-7.5 1.8l-0.3 0.5l1.5 7.5l7.4 -1.3l0 -7.8zM749.1 292.1l1.5 1.1l3.5 -1l-2.3 -8.2l-2.7 0.3zM689.9 283.7l-0.3 -0.2l-7.1 1.3l-0.4 7.9l9.2 -1l0.3 -0.5zM698.3 282.7l-1.2 -0.8l-7.2 1.8l1.7 7.5l7.5 -0.8zM706.7 290l0.6 -0.7l-0.8 -7.8l-0.4 -0.3l-7.8 1.5l0.8 7.7l0.4 0.3zM707.3 289.3l7.9 -0.4l0.4 -0.4l-0.9 -7.9l-0.8 -0.6l-7.4 1.5zM723.6 287.8l0.1 -0.1l-0.7 -8l-8.3 0.9l0.9 7.9zM723.2 279.3l-0.2 0.4l0.7 8l7.9 -0.3l0.5 -0.6l-0.2 -1.4l-0.2 0l-0.3 -0.1l-0.3 -0.1l-0.2 -0.2l-0.3 -0.1l-0.2 -0.2l-0.2 -0.2l-0.2 -0.3l-0.1 -0.2l-0.1 -0.3l-0.1 -0.3l-1.6 -4.6zM739.5 281.5l-5.3 3.5l-0.3 0.1l-0.2 0.2l-0.3 0.1l-0.3 0l-0.3 0.1l-0.3 0l-0.3 0l-0.3 -0.1l0.2 1.4l8.1 -0.9l0.3 -0.5zM747.1 276.4l-7.6 5.1l1 3.9l7.5 -1.8zM748 283.6l1.1 0.7l2.7 -0.3l-1.4 -5.3l-3.1 -2.5l-0.2 0.2zM689.6 283.5l-1.1 -7.7l-0.9 -0.6l-4.7 0.9l-0.4 8.7zM696.2 274.2l-7.7 1.6l1.1 7.7l0.3 0.2l7.2 -1.8l-0.4 -7.3zM706.5 281.5l7.4 -1.5l-0.1 -7.8l-0.5 -0.5l-8.7 2.2l-0.1 0.1l1.6 7.2zM713.8 272.2l0.1 7.8l0.8 0.6l8.3 -0.9l0.2 -0.4l-1.6 -7.5l-0.6 -0.4zM721.6 271.8l1.6 7.5l4.9 -0.5l-0.9 -2.9l-0.1 -0.2l-0.1 -0.3l0 -0.3l0 -0.3l0 -0.3l0.1 -0.3l0.1 -0.3l1.8 -4.4zM687.2 267.1l-1.4 -0.9l-2.8 8.4l-0.1 1.5l4.7 -0.9zM695.4 267l-1 -0.8l-7.2 0.9l0.4 8.1l0.9 0.6l7.7 -1.6zM704.5 274l0.1 -0.1l-1 -8.2l-0.3 -0.2l-7.9 1.5l0.8 7.2l0.5 0.4zM704.6 273.9l8.7 -2.2l-1.6 -7l-0.2 -0.2l-7.9 1.2zM727.6 262.2l-7.2 0.5l0.6 8.7l0.6 0.4l7.4 -2.3l1.9 -4.8zM694.5 258.6l-0.1 7.6l1 0.8l7.9 -1.5l-1.2 -7.7l-0.9 -0.7zM703.3 265.5l0.3 0.2l7.9 -1.2l-1.2 -8.3l-8.2 1.6zM710.3 256.1l0 0.1l1.2 8.3l0.2 0.2l8.4 -2.3l-1.4 -7.2zM718.7 255.2l1.4 7.2l0.3 0.3l7.2 -0.5l-0.2 -8.2l-1.2 -0.9l-7.3 1.8zM727.4 254l0.2 8.2l3.3 2.5l2 -5l-1.3 -6.3zM694.5 258.6l6.7 -1.5l-0.4 -8l-3.1 -2.1l-5.1 8.5l-0.2 0.3l-0.5 0.7zM725.6 245.1l0.6 8l1.2 0.9l4.2 -0.6l-1.8 -8.9l-2.6 -1.4zM700.8 249.1l7.8 -1.3l-0.5 -7.8l-0.5 -0.4l-6.9 0.7l-1.9 4.8l-0.1 0.2l-0.1 0.2l-0.9 1.5zM708.6 247.8l0.3 0.2l8.2 -1l0.5 -0.7l-1.7 -8.1l-7.8 1.8zM727.2 243.1l-8.4 -4.3l-2.6 -1l-0.3 0.4l1.7 8.1l8 -1.2zM707.6 239.6l-0.8 -5.1l-0.6 -0.2l-3.8 1.9l-1.7 4.1zM715.9 238.2l0.3 -0.4l-9.4 -3.3l0.8 5.1l0.5 0.4zM746 411.1l-0.7 0.7l4.4 2.4l6 -1.8l-1.8 -1.7zM771 397.9l-1.6 2.2l1.7 6.7l9.6 0.2l-1.4 -8.6zM779 388.8l-0.4 -0.2l-8.5 3.1l0.9 6.2l8.3 0.5l1.5 -1.9zM788.4 396.2l-2.2 -9.1l-7.2 1.7l1.8 7.7zM752.6 393l8.4 -1.7l1 -1.3l-1.4 -5.2l-7.1 -1.7l-1.8 2.1zM768.9 390.6l1.4 -9.5l-8.8 2.3l-0.9 1.4l1.4 5.2zM770.1 391.7l8.5 -3.1l-1.9 -7.1l-6 -0.7l-0.4 0.3l-1.4 9.5zM786.2 387.1l1.1 -1.3l-0.1 -5l-1.5 -1.4l-8.8 1.9l-0.2 0.2l1.9 7.1l0.4 0.2zM787.2 380.8l0.1 5l6.9 2.1l5.3 -5.8l-4.2 0l-0.4 -3.6zM760.6 384.8l0.9 -1.4l-0.4 -8.5l-0.9 -0.5l-7.7 2.2l1 6.5zM770.3 381.1l0.4 -0.3l-2.5 -6.7l-0.2 -0.1l-6.9 0.9l0.4 8.5zM798.8 357.2l-0.3 2.9l0 -0.1l2 0l0.9 7.4l-0.1 -0.5l2.6 -0.3l0 3.1l0.2 -1.6l0.9 -8.9l0.1 -1.2zM733 362.7l-7.6 -1.2l-1 1.3l0.9 7.4l1.3 1.1l7.1 -1.6zM751 367.5l0.7 -0.8l-1.3 -7.3l-7.3 -0.5l-1.8 1.8l1.8 7.9zM775.1 364l0.4 -0.4l0.4 -7.5l-8.2 -0.4l-0.6 0.6l1.8 7.6zM775.9 356.1l-0.4 7.5l7.9 -0.4l1.3 -2l-2.5 -6.5l-4.8 -0.2zM783.7 353.1l-1.5 1.6l2.5 6.5l8.4 -1l0 -0.1l-1.2 0l-0.8 -7.2zM799.1 355.3l-0.3 1.9l6.3 0.8l0.4 -5.3l-0.3 -1.9l-4.3 1.5zM735.6 360.4l-2.3 -7.8l-7.7 1.3l-1 1.3l0.8 6.3l7.6 1.2zM774.9 347.9l-6.4 0.3l-0.8 7.5l8.2 0.4l1.5 -1.6zM800.9 352.3l-1.3 -9.2l-7.6 0.8l-0.7 1l1.1 7.7l7 0l-0.3 2.7zM800.9 352.3l4.3 -1.5l-1.5 -8.6l-3.2 0l-0.9 0.9zM749.1 342.9l1.3 7.8l0.6 0.4l7.4 -1.1l0.4 -0.9l-1.5 -9.6l-4.5 0.5l-0.2 0l-0.3 0l-0.1 0zM803.7 342.2l-2 -12l-2.5 4.3l1.3 7.7zM789.6 335.6l0.5 0.4l9.1 -1.5l2.5 -4.3l-0.4 -2.2l-10.6 -0.8l-0.6 0.4zM801.3 328l-1.2 -7l-9.4 6.2zM644.2 482.2l11.2 -0.9l-0.2 -4.4l-1.9 -0.6zM655.4 481.3l6.5 -0.6l-4.4 -4.2l-2.3 0.4zM655.2 476.9l2.3 -0.4l3.8 -5.6l-6 -2.7l-2.9 5.2l0.9 2.9zM674.7 471.1l-4.2 -2.3l-5.2 4l1.5 3.3l6.7 -0.5zM691.4 474.1l7.1 -0.5l-0.6 -3.3l-6.6 -0.6zM647.7 470.9l4.7 2.5l2.9 -5.2l-1.2 -2.3l-0.6 -0.5l-0.8 0.8l-4.7 1.5zM675.2 462.7l-1.7 -0.8l-3.8 3.6l0.8 3.3l4.2 2.3l0.5 -0.3zM677.7 470.5l4.8 -3.3l-0.2 -0.4l-3.8 -4l-3.3 -0.1l0 8.1zM682.5 467.2l2.8 1.8l4.5 -0.7l2 -5.7l-0.9 -1.1l-5.2 -1.2l-3.4 6.5zM766.4 452.9l2.7 5.5l5.9 -4.6l-3.3 -4.1l-4.5 1.3zM654.1 465.9l7.7 -3l-2.1 -3.4l-6.2 5.9zM678.5 462.8l2.5 -5.3l-7.7 -1.9l-1.4 1.3l1.6 5l1.7 0.8zM774 444.9l-1.6 1.3l-0.7 3.5l3.3 4.1l1.2 -0.9l2.9 -3.3zM667.6 457.3l1.9 -0.7l-2.9 -7.4l-0.2 -0.1l-3.7 2.3l-0.2 4zM695.3 453.6l3.5 1.3l1.6 -1.3l0.8 -6l-2.9 -1.9l-4.1 2zM772.4 446.2l1.6 -1.3l0.5 -1.8l-1.4 -3.9l-3.6 -1.2l-3.3 2.1l0.7 4.7zM773.1 439.2l1.4 3.9l7.8 -0.4l-1.4 -4.9l-4.9 -0.9zM670.5 447.7l0.2 -4l-0.8 -1.2l-5.4 3l1.9 3.6l0.2 0.1zM669.9 442.5l0.8 1.2l-0.2 4l4.6 2.5l2.3 -1.2l0.8 -5.2l-1.6 -0.5l-5.1 -1.7l-1.6 0.9zM677.4 449l3.9 2l5.4 -3.2l-2.2 -3.5l-2.2 0.8l-4.1 -1.3zM686.7 447.8l1.2 0.2l2.8 -1.7l0.7 -4.5l-6.9 2.5zM690.7 446.3l3.5 1.4l4.1 -2l-0.6 -3.9l-1.5 -1.8l-1.8 0.7l-3 1.1zM776.1 432.2l-0.1 4.7l4.9 0.9l1.9 -2.7l-0.8 -0.3l-2.8 -3.1zM773.4 426.6l0.6 3.5l2.1 2.1l3.1 -0.5l-2.4 -2.8l-1.1 -3.5zM769.4 421.7l-0.2 2.8l0 0.1l4.2 2l2.3 -1.2l-2.3 -7.3zM740.1 508.7l-6.1 2.6l-1.1 2l11.5 -1.4zM740.4 504l-0.3 4.7l4.3 3.2l4.9 -0.6l0.8 -1.1l-3.2 -6.9zM751.6 499.7l-3.7 0.6l-1 3l3.2 6.9l4.1 -6.4l1 -1.4zM630.8 512.4l1.2 -4.7l-2.9 -2.9l-2.8 9.7zM632 507.7l6.1 -1.9l0.4 -0.8l-3.1 -4.9l-4.6 -1.4l-1.7 6.1zM718.5 492l5.3 -2l-1.5 -6.9l-2.9 -0.5l-5 2.3l-0.5 5.1zM759.3 478.2l1.4 5.7l1.5 0.8l5.4 -0.5l-1 -7.8l-3.2 -2.4zM672.3 481l-4.7 -1.2l-3.1 9l6.6 0.4l2.6 -5.1zM741.7 478.6l3.2 2.2l3.6 -2.4l-0.1 -4.8l-5.6 -3.4l-3.4 3.6zM767.5 468.9l5.8 5.3l3.8 -2.7l-1 -6.6l-7.4 1zM795.9 472.6l4 -4.7l-0.6 -6.3l-10.6 1.5zM667.6 479.8l4.7 1.2l5.3 -5.6l0 -0.1l-12.9 1zM699.1 476.4l3.1 1.5l4.3 -3.1l0.1 -1.9l-7.1 0.6zM657.3 641.4l1.6 -10.4l-7 0.5l-2.6 2.4l1.2 5.4zM658.1 642.4l1 -0.3l0.4 -0.1l0.4 0l11.3 -0.6l-0.9 -7.8l-10.9 -3l-0.5 0.4l-1.6 10.4zM641.8 631.8l0.3 -6.4l-8.3 -3.2l-1.6 1.2l0.2 5l7.6 -0.5l-0.5 6.2zM649.4 622.6l-4.8 0.5l-2.5 2.3l-0.3 6.4l7.5 2.1l2.6 -2.4zM659.4 630.6l-0.3 -7.8l-7.9 -1.5l-1.8 1.3l2.5 8.9l7 -0.5zM608.1 625.3l0.5 -7.9l-0.7 -0.6l-8.7 -0.3l-0.2 0.6l-1.6 13.3l4.9 -0.2zM627 623.4l5.2 0l1.6 -1.2l0.5 -6.6l-8.3 -2.2l-2.3 2.2zM636 613.9l-1.7 1.7l-0.5 6.6l8.3 3.2l2.5 -2.3l-2.8 -8.7zM651.2 615.5l0 5.8l7.9 1.5l1.5 -1.4l0.3 -6.7l-7.1 -2.2zM618.2 616.2l-2.2 -7.6l-6.2 -0.1l-1.9 8.3l0.7 0.6l7.9 0.8zM628.1 604.5l-2.2 3.1l0.1 5.8l8.3 2.2l1.7 -1.7l-0.9 -7.8zM645.8 605.4l-0.1 -0.1l-9.8 0.1l-0.8 0.7l0.9 7.8l5.8 0.5l2.2 -1.8zM652.7 605.9l-6.9 -0.5l-1.8 7.2l7.2 2.9l2.6 -3zM617.2 600.8l0.2 6l8.5 0.8l2.2 -3.1l-1.7 -5.5l-6.9 -0.3zM645.7 605.3l-1.3 -7.6l-7.2 -0.2l-1.3 7.9zM654.4 604.5l-1.8 -8.3l-6.1 -1.4l-2.1 2.9l1.3 7.6l0.1 0.1l6.9 0.5zM666.9 604.2l-0.2 -2.2l0.1 -6.3l-3.3 -0.7l-1.3 0.9l-2.1 7.9l2 1.7zM664.2 586.6l-1 1.2l0.3 7.2l3.3 0.7l0.2 -9zM611 590l0.4 -0.4l-0.1 -8.5l-6.2 -1.9l1.4 11.2zM619.8 579.8l1.1 8.1l6.8 1.5l1.2 -0.9l1.5 -7.3l-1.7 -2.4zM656.8 577.7l-1.3 9.2l7.7 0.9l1 -1.2l-0.7 -8.6zM629.2 572.7l-9 -1.3l-0.5 0.5l-0.3 7.6l0.4 0.3l8.9 -1zM640.3 571.3l-1.7 1.6l0.4 5.5l8.8 0.9l0.9 -1.2l-2 -6.9zM613 570.7l0.7 -8.3l-9 -0.3l0.1 8.8l7.2 0.5zM630.2 565l-7.9 -2.7l-0.8 0.5l-1.3 8.6l9 1.3l1.4 -1.7zM655.6 569.5l1.4 -2l-2.2 -5.9l-6 0l-1.6 1.3l0.5 7zM613.2 553.7l-8.3 -0.8l-0.3 0.5l0.1 8.7l9 0.3l0.2 -0.2l-0.2 -8zM640.6 552.2l-9.5 1.4l2.3 8.6l5.6 0.1l1 -0.7l1.3 -8.6zM620.2 546l-4.6 -1.1l-2.4 8.8l0.5 0.5l9.6 -0.1zM640.4 546.3l-8.4 -1.9l-1.2 1.1l-1 7.1l1.3 1l9.5 -1.4zM647.7 553.6l2.4 -1.7l0.2 -8.4l-0.8 -0.6l-7.8 1.8l-1.3 1.6l0.2 5.9l0.7 0.8zM633 535.8l-0.1 -0.1l-8.9 1.1l-0.1 6.5l6.9 2.2l1.2 -1.1zM638.7 535.5l-5.7 0.3l-1 8.6l8.4 1.9l1.3 -1.6zM639.8 534.6l-1.1 0.9l3 9.2l7.8 -1.8l-1.4 -7.4zM614.7 535.7l8.7 0.6l0.8 -8.8l-0.2 -0.2l-6.3 1l-3.2 6l-0.4 0.8zM624.2 527.5l-0.8 8.8l0.6 0.5l8.9 -1.1l-2.1 -7.6zM640.9 526l-0.6 -0.6l-7.9 0.6l-1.6 2.1l2.1 7.6l0.1 0.1l5.7 -0.3l1.1 -0.9zM624 527.3l-0.5 -4.1l-3.1 0.2l-2.7 4.9zM624 527.3l0.2 0.2l6.6 0.6l1.6 -2.1l-0.6 -3.4l-8.3 0.6zM640.3 525.4l0 -3.5l-8.5 0.7l0.6 3.4zM659.5 525.6l0.9 -5.2l-9.9 0.8l0.4 2.6l8.6 1.9zM681.7 624.3l-1.2 0.8l-0.8 9.7l6.9 2.1l4.5 -4.8l-2.4 -5.4l-0.1 -0.5zM680.5 625.1l1.2 -0.8l1.2 -6.8l-8.2 -4.2l-6 6.5l0.4 3.5zM720.8 613.7l-7.8 -4.3l-3.2 2.7l1.4 9.5l9 -1zM732.2 611.1l-0.3 -0.3l-9.9 1.6l-1.2 1.3l-0.6 6.9l12.8 -1.3zM742.7 607.6l-1.2 2.6l3.7 7.7l1.1 -0.1l-1 -10.7zM674.7 613.3l0.1 -5.5l-7.6 -1.5l1.5 13.5zM677 606.1l-2.2 1.7l-0.1 5.5l8.2 4.2l2.4 -2.6l-3.8 -9.9zM745.3 607.1l-0.8 -9.1l-4.2 3.8l2.4 5.8zM683.8 602.3l0.2 -4.8l-7.6 -2.4l-4 2.3l4.6 8.7l4.5 -1.1zM696.8 603.9l4 0.2l2.5 -2.7l0 -9l-8.2 -0.6l-2.7 2.3zM703.3 592.4l0 9l10.4 1l0.9 -0.7l-0.7 -9.2l-10.3 -0.5zM692.4 594.1l2.7 -2.3l-1.4 -8.1l-7 -0.5l-3.1 2.9l2.5 8.3zM703.3 592.4l0.3 -0.4l0.4 -7.7l-9.6 -1.2l-0.7 0.6l1.4 8.1zM703.6 592l10.3 0.5l0.5 -0.7l-0.8 -9.9l-7.6 -0.4l-2 2.8zM723.8 581l-9.1 0l-1.1 0.9l0.8 9.9l8 -0.6zM733.5 582.9l1.3 6.1l0.8 0.9l8.3 1.4l-0.6 -7.7l-1.7 -3.7zM686.7 583.2l-0.7 -9.5l-9.8 2l1.8 9.3l5.6 1.1zM694.4 583.1l1.7 -8.3l-0.2 -0.1l-9.5 -1.5l-0.4 0.5l0.7 9.5l7 0.5zM706 581.5l7.6 0.4l1.1 -0.9l-0.5 -7.1l-7.6 -2.6l-2.8 5zM676 575.6l-1.5 -10l-7.2 -0.1l-0.2 11.7zM703.8 576.3l2.8 -5l-0.6 -5.8l-8.4 -0.3l-1.7 9.5l0.2 0.1zM717.8 569.6l7 2.6l3 -3.4l-1.1 -7.6l-10 1.1l-1.2 1.4zM674.5 565.6l1 -0.8l1.4 -8.8l-9.3 -2.9l-0.3 12.4zM727.4 560.1l6.4 -2.2l-1.9 -7l-5.8 -1.7l-3.2 2.6zM686.8 557.4l1.3 -2.4l-3.1 -9l-5.3 0.2l-2.5 9.6zM688.1 555l9.5 -3l-1.4 -5.1l-7.4 -4.1l-3.8 3.2zM697.6 552l1 0.8l6.2 0.5l3.7 -8.7l-8.2 -2.6l-4.1 4.9zM677.5 544.4l2.2 1.8l5.3 -0.2l3.8 -3.2l0.4 -7.3l-0.5 -0.3l-9.5 -0.6l-1.5 1zM699.3 533.2l0 0.1l1 8.7l8.2 2.6l1.6 -1.1l-0.2 -8.4l-1.4 -1.1zM709.9 535.1l0.2 8.4l5.8 2.2l4.3 -4.7l-4.4 -7.3zM718.7 530.5l-2.9 3.2l4.4 7.3l7.1 -0.8l1.3 -1.2l-2.3 -8.2zM679.2 524.7l0 9.9l9.5 0.6l-1.5 -10.1l-6.7 -2.2zM688.7 535.2l0.5 0.3l10.1 -2.2l0 -0.1l-0.2 -8.4l-8.7 -1.8l-3.2 2.1zM687.2 525.1l3.2 -2.1l0.2 -5.3l-11.3 1l1.2 4.2zM873.9 743.5l-7.2 13.8l8.9 1.8l3.8 -9.5l-1.1 -7.2zM847.8 727l-6.3 -6.1l-7.4 2.6l8.2 9.5l0 0.1l4.9 6.1zM864.4 729l-0.9 -3.6l-15.7 1.6l-0.6 12.2l5 6.2l0.5 0.5zM861.3 700.7l-0.6 0.6l6.9 15.9l7.6 -3.3l-5.4 -12.6l-1.3 -2.6zM827 703.2l5 3.5l8.3 -1.5l-0.7 -10.7l-1.2 -1.1l-11.5 5.7zM849.5 692.7l-9.9 1.8l0.7 10.7l2.1 1.8l11.1 -5.9l-3.2 -8.2zM824.8 696.2l2.1 2.9l11.5 -5.7l-2.9 -7.2l-1.1 -0.9l-9.1 2.2zM856.3 681.1l-10.3 2.6l3.5 9l0.8 0.2l5.7 -4.5zM820.7 685.1l-0.2 -6.4l-9 -3.2l1.4 8.8l1.1 3.8zM857.9 677.4l-0.5 -0.9l-2.8 -4.5l-9.1 3.3l-1.4 7.4l1.9 1l10.3 -2.6zM827.3 661.4l9.8 0.4l0.6 -9.3l-1 -1.1l-12.9 4.1zM802.2 648.2l-4.7 -3.4l-4.6 4.5l1.1 0.6l0.3 0.2l0.2 0.2l0.3 0.2l5.1 6zM817.6 631.1l-2.1 3.6l4.9 7.8l4.2 1.4l6.6 -4.6l-1.9 -2.7zM817.6 631.1l11.7 5.5l-3.5 -12.3l-5.9 -1.3l-2.4 1zM831.2 639.3l2.5 0l2.1 -1l-1 -2l-0.1 -0.4l-4.6 -13.7l-4.3 2.1l3.5 12.3zM759 630l0.4 -5.4l-7.8 0.6l-5.3 -7.4l4.1 14.8zM770.7 629.8l-2 -6l-9.3 0.8l-0.4 5.4l0.7 0.4zM807.7 457.5l-5.2 -1l-2.8 1.1l-1.7 4.2l1.3 -0.2l10 -1.9zM776.3 458.2l-3.5 -2.7l-1.7 1.4l0 5.9l3.9 2.2l3.2 -0.4zM782.6 454.2l-6.3 4l1.9 6.4l4.3 -0.6zM789.9 456.4l-2.2 -1.9l-5.1 -0.3l-0.1 9.8l8 -1.2zM799.7 457.6l-3.6 -3.9l-1.6 -0.3l-4.6 3l0.6 6.4l7.5 -1zM796.1 453.7l3.6 3.9l2.8 -1.1l-0.6 -4.8l-1.3 -1.9zM829.3 454l0.9 -4.8l-2.7 -2.9l-4.5 0.9l-1.3 3.7l2.7 6l3.7 -0.6zM836.4 449.1l-2.7 -0.7l-3.5 0.8l-0.9 4.8l8.9 -0.7l0 -0.2zM848.8 445.6l-2.2 -0.9l-4.5 0.1l0.4 6.2l5.6 1.6l3 -0.6zM793.6 447l0.9 6.4l1.6 0.3l4.5 -3.9l0.2 -1.5l-5.9 -1.9zM800.6 449.8l1.3 1.9l6.3 0.1l-2.4 -5l-2.5 -0.9l-2.5 2.4zM805.8 446.8l2.4 5l0.2 0.3l5.7 -2.5l0.2 -5l-2.8 -0.9zM833.7 440.6l-4.9 1l-1.3 4.7l2.7 2.9l3.5 -0.8zM800.8 448.3l2.5 -2.4l-1.4 -5.3l-3.3 -0.7l-0.4 0.3l-3.3 6.2zM811.5 443.7l2.8 0.9l2.6 -1.7l-1.5 -5.6l-6 2.8zM816.9 442.9l2.1 0l4.2 -4.7l-4 -2.7l-3.8 1.8zM839.6 430.9l-4.4 3l0.5 5.3l3.1 1.9l5.2 -4.1l-0.1 -4.8zM823.2 438.2l0.4 -0.1l1.1 -5.9l-0.2 -0.4l-0.4 1.4l-4.9 2.3zM824.7 432.2l6.2 1.5l2.5 -0.7l-2.5 -5.9l-0.5 -0.4l-5.3 3.1l-0.6 2zM839.2 427.9l-2.7 -1.9l-5.6 1.1l2.5 5.9l1.8 0.9l4.4 -3zM853.1 427.7l-0.4 -3.7l-3.1 -0.5l-2.7 1.4l-0.7 6.2l1.3 0.5zM841.5 420.5l-1.8 -1.3l-4.3 2.3l1.1 4.5l2.7 1.9l3 -5.4zM829.7 422.6l1.9 -1.4l0.6 -6.6l-2.5 -0.3l-2.3 7.6zM839.7 419.2l-1.9 -7l-1.4 -0.5l-4.2 2.9l-0.6 6.6l3.8 0.3zM840.1 411.3l-2.3 0.9l1.9 7l1.8 1.3l4.4 -2.9l-2.1 -5.1zM845.9 417.6l2.2 0l3.2 -2.9l-1 -1.7l-2.2 -1.5l-4.3 1zM832.2 414.6l4.2 -2.9l-2.7 -5.5l-1.4 -0.6l-2.6 8.7zM843.7 406l-3.6 5.3l3.7 1.2l4.3 -1l-1.2 -7.4l-0.2 0zM837.3 403l6.4 3l3 -1.9l-4.2 -7.3l-3.1 1.8zM851.5 395l-4.4 -2l-0.6 1.4l-4 2.4l4.2 7.3l0.2 0l5.8 -0.9l0.4 -0.8zM794.1 427.2l-5.1 4l3.8 5.1l5.4 3.1l0.9 -8.6zM807.4 428.8l-6.3 0.3l-2 1.7l-0.9 8.6l0.1 0.4l1.8 0.4l7.8 -4.4l0.5 -1.5zM813.2 433.4l0.2 -6.9l-2.9 -0.8l-3.1 3.1l1 5.5zM784.7 422.8l-3.2 -0.3l-5.6 3.4l0.9 3l5.2 5.9l0.4 0.2l5.2 -4zM794.1 427.2l-1.1 -3.8l-5.3 -1.8l-3 1.2l2.9 8.2l1.4 0.2zM823.6 415.6l-1.6 -1.7l-7.5 3.1l4.3 5.9l3.5 -2.4zM826.9 415.5l-3.3 0.1l-1.3 4.9l4.4 3.8l2.4 -7.9zM832.4 405.2l0.9 -3l0.9 -0.5l-5.4 -3.5l-5.6 2.9l2.1 4.5l4.7 0.3zM793 407.3l0.7 -1.3l-4.6 -5.6l-1.9 0l-2.6 4.1zM795.4 393.5l-6.3 6.9l4.6 5.6l3.7 -2.1l1.4 -7l-0.9 0l0 -2.4zM846.3 386l-2.7 2.4l0.5 7.4l2.4 -1.4l3.6 -8.7zM824.6 387.4l1.5 5.3l6.8 -1.3l-2.2 -7.2l-3.1 0.3zM827.6 384.5l3.1 -0.3l1.5 -1.4l-1.8 -10l-7.7 1.4l0.1 0.5l-0.8 0.1zM803.9 370.7l0.3 0.1l0.3 -2.5l0.5 -0.1l2.3 3.3l2 2.8l-0.5 -2.4l-3.3 -19.2l-0.5 6.5l-0.9 8.9l-0.2 1.6l0 1zM855.6 362.1l-0.9 -0.2l-11.2 7.4l0.1 0.8l14.6 -3zM843.5 369.3l11.2 -7.4l-2.7 -7.7l-11.3 -3.1l-2.5 0.5l-0.2 1.9l-4.6 -0.5l3.5 0.4l-0.9 3.8zM854.7 361.9l0.9 0.2l5.6 -2.1l-1.8 -7l-3.5 -1.7l-3.9 2.9zM867.3 350.6l-7.9 2.4l1.8 7l4.6 0.4l3.6 -4l0.3 -4zM855.9 351.3l1.3 -7.2l-6.5 -1.9l-10 8.9l11.3 3.1zM859.4 353l7.9 -2.4l-4.3 -8l-1.5 -0.5l-4.3 2l-1.3 7.2zM840.7 351.1l10 -8.9l-1.6 -6.3l-5.4 -1.2l-4.3 5.6l-1.2 11.3zM857.2 344.1l4.3 -2l-1.5 -7.1l-6.9 -3.2l-4 4.1l1.6 6.3zM811.1 342.7l-3.1 -8l-5.7 -1.1l1.9 11.1zM808 334.7l3.1 8l5.9 3.1l2 -13.5l-7.1 -2.3zM823.8 331.4l-2.9 -0.1l-1.9 1l-2 13.5l5.6 7.2l0.1 -1.1l6.1 0.6l0.3 -2.1l-5.7 1.1l-0.8 -11.4l4.6 -1zM834.1 324.9l-10.3 6.5l3.4 7.7l3.4 -0.7l0.3 2.3l1.8 -0.3zM843.7 334.7l-2.9 -5.2l-6.2 -5.3l-0.5 0.7l-1.4 15.5l6.8 -0.9l-0.1 0.8zM852.7 326.3l0.4 5.5l6.9 3.2l1.4 -1.6l1.2 -10.5l-2.7 -2.3zM861.4 333.4l9.6 -1.5l1.3 -1l-0.5 -2.6l-0.8 0.5l-5.2 -3l-3.2 -2.9zM808 334.7l3.9 -4.7l-0.8 -4.2l-5.1 -2.2l-4.6 5.1l0.9 4.9zM834.6 324.2l0 -3.2l-2.5 0.4l-0.1 -0.2l-12.3 2.2l1.2 7.9l2.9 0.1l10.3 -6.5zM859.9 320.6l-0.9 -0.8l0.3 -0.2l-13.7 -7.4l1.3 6.9l-2.3 0.4l8 6.7l0.1 0.1zM803.6 318.5l-1.7 1.3l-0.3 0.2l-1.5 1l1.3 7.7l4.6 -5.1zM834.5 310.7l0.1 0.3l0.5 0.5l7.4 -1l2.7 -0.4l0 0.1l0.4 2l13.7 7.4l5.3 -1.8l-3.1 -7.1l-6.6 -4.2l-14.4 2.9l-6 1.3zM843.6 304.7l-7 -2.6l-6.4 4.4l-1.5 3.4l-0.3 2l15.1 -3.1zM848.7 300.1l4.4 6.7l6.7 -1.4l-1.4 -7.5l-3.6 -1.1zM876.2 296.2l-4.9 -3l-3.7 4.6l1.4 5.7l8 -1.6zM821.3 300.5l-4.6 6.4l8 5.8l3.7 -0.8l0.3 -2zM828.7 309.9l1.5 -3.4l-1.5 -9.8l-3.3 -2l-4.1 5.8zM838.2 296.7l-1.6 5.4l7 2.6l3.8 -4.9l-3.8 -5.2l-0.4 -0.2zM853.2 290.4l1.6 6.4l3.6 1.1l3.2 -2.4l0.4 -4.8l-5.4 -3.7zM862 290.7l-0.4 4.8l6 2.3l3.7 -4.6l-0.4 -4.3l-4.1 -1.1zM882 291.8l2.3 0.6l3.5 -2.6l-0.1 -3l-6.3 -5.4l-3.8 5.3zM843.6 294.6l5.5 -4.8l-2.3 -7.1l-2.7 -0.6l-4.7 4.4l3.8 7.9zM856.6 284.2l0 2.8l5.4 3.7l4.8 -2.9l-2.3 -5.2l-3 -0.5zM866.8 287.8l4.1 1.1l2.6 -2.2l-1.6 -7.7l-3 -2.2l-4.4 5.8zM833.6 287.7l2.4 -1.5l-2.4 -8.2l-0.4 -0.4l-4.4 2.7l-1 6.4z" fill="#f4f7ff"/>
<path d="M249 245l7.6 1l7.2 -19.8l-1.8 -2.1l-12.5 1.2l-3.6 1.8zM208.9 222.3l15.1 -4.5l0.7 -6.2l-14.2 -3.7zM252.5 212.3l-3 13l12.5 -1.2l1.2 -11.4l-4.7 -1.9zM310.3 230.2l7.4 -12.4l0.8 -6l-20.2 -6.1l-5.1 10.9l7.1 11zM204.5 190.7l11.4 1.1l1 -12.5l-12.9 -0.1zM243.2 189.3l-7.9 -11.6l-7.4 6.6l1.1 9.9l12.8 -0.3zM311.8 452.6l3.5 -5l0.2 -4.4l-6.9 -4.7l-3.4 1l-3.5 7.1zM266.1 414.8l4.6 3.1l7.5 -5.5l0.7 -6l-0.8 -1.1l-14.7 -6.8l-1.8 4.8l-1.6 0.5zM323.6 411l14.5 1.1l-0.3 -9.4l-2.1 -4.4l-18.5 5.4zM333.8 378.2l0.4 -0.2l1.5 20.3l2.1 4.4l21.4 -7l-2 -5l-14.2 -14.7l-9.1 0l-0.1 2.2zM239.6 560.6l-2 2.4l2 13.5l15.1 5.8l3.5 -1.1l2.9 -10.5l-6.8 -10.3zM244.7 457.4l-21.9 -2.4l-8.1 56.2l13.2 -4.6l7.9 -23.2l-15.7 -1.5l3.6 -25.5l20.3 2.9zM311.5 492.7l-9 7.6l3.5 12.1l8.2 4.8l1.1 -0.2l7.1 -15.1zM377.7 186.6l1.5 -0.3l0.2 0l-0.8 -3zM382.4 465.8l0 5l10.5 0.2l0.1 -4.7l-9.8 -1.3zM516.6 474.2l9.5 0.3l0 -4.9l-6.6 -2.5l-2.9 2.4zM498.3 451.1l-10 -1.8l-1.3 1.7l-0.1 6.9l11.3 2.9l0 -1.5l0 -0.9zM454.6 448.7l-0.3 -8.1l-9.9 -1l0 0.1l-1.2 9.6l9.3 1.6zM410.8 431l0 7.1l9.8 2l1.6 -1.6l0.7 -8.5l-10.5 -0.8zM433.2 431.3l-9.4 -2.1l-0.9 0.8l-0.7 8.5l10.2 2.1l1.3 -1.5zM514.2 431.2l-1.5 1.6l0.2 7.8l12.9 1.3l0 -9.8zM425.8 411.7l-11.3 -0.3l-0.1 0l-0.3 7.6l10.1 2.8l1.7 -1.8zM492.2 421.4l0.8 -8l-10.8 -1.8l-1 1.2l0.7 8l9.5 1.4zM380.8 400.3l-6.5 -1.4l-0.6 9.5l6.6 0.7l0.3 -0.2zM460.9 404.2l-10.7 -2.4l-1.4 1.5l0.6 7.9l9.3 1.7l1.9 -1.9zM494.9 402.7l11.4 1.3l0.4 -0.4l0 -7.9l-11.4 -0.4zM517.6 558.9l12.9 3.7l0.1 -11.1l-11.4 -1.6l-0.8 0.6zM436.3 538.7l-2.2 1.7l0.1 6.5l5.9 2l9.1 1.3l2 -3.9l-0.6 0l0 -5.8zM521.2 540.2l-1.5 1.3l-0.5 8.4l11.4 1.6l0.1 -11.6zM427.6 529.4l-1.5 1.5l0.7 6.8l7.3 2.7l2.2 -1.7l0.9 -10.1zM415 531.1l2.3 -2.3l-0.8 -14.1l-5.1 0l0.9 -9.3l-1 0.1l-1.1 24.5zM479.6 530.5l15 3.8l1.7 -0.6l-0.3 -5.2l-4.3 -5.6l-10 -1.4l-1.6 1.5zM445.6 516.2l-5.1 -5.1l-16.2 0.9l-0.1 2.2l2.7 3.3l11.7 4.3zM461.2 510.5l0 7.7l0 2.4l8.5 0.1l0.3 -0.3l0.9 -8.5zM481.6 512.7l0.1 8.8l10 1.4l1 -10.6l-0.1 -0.1l-10.8 0.3zM503.9 512.9l-1.1 1.2l0.5 7.1l6.8 -0.7l-0.9 4.9l4.6 -3.8l-0.3 -8.9zM440.5 511.1l-1.7 -8.1l-14 -1.9l-0.5 10.9zM455.1 507l-3.8 -4.7l-10.6 -1.4l-1.9 2.1l1.7 8.1l5.1 5.1l1.7 0.1l0 -8.1l7.7 0zM481.8 512.5l10.8 -0.3l1.2 -15.2l-2.9 -0.4l-0.2 -0.2l-8.4 6.3zM492.6 512.2l0.1 0.1l10.1 1.8l1.1 -1.2l-0.2 -10.6l-6.5 -6.2l-0.1 1.3l-3.3 -0.4zM514.3 503.8l-10.6 -1.5l0.2 10.6l9.6 -0.2l0.9 -1.2zM514.9 503.1l-0.6 0.7l0.1 7.7l9.7 2l5.4 -5.4l-0.7 -4.3zM440.7 500.9l0 -11.8l-4 -1.8l-11.8 10.7l-0.1 3.1l14 1.9zM461.7 500.4l10.2 2.2l1.1 -1l0.4 -8.6l-11.5 0.1zM369.5 479.6l-9.6 -1l-0.4 4.2l10.2 0.6zM411.7 481.1l-8.8 -0.4l-1.7 1.8l-0.1 2.8l11 0.7l-0.8 19.5l1 -0.1l0.5 -5.3l-0.7 -16.3l1.8 0.1zM371 470.5l-1.4 -0.1l-9.3 -0.9l-1 8.2l0.6 0.9l9.6 1l0.3 -0.2zM381.2 479.1l9.7 1.4l0.1 0l2.1 -9.5l-12.6 -0.3zM466.8 712l-13.2 -3.3l0.7 1.6l-1.2 0.1l1.8 11.5l7.3 2.1l0 -0.1l0.1 -0.3l0.2 -0.2l0.2 -0.3l6.1 -7.7zM396 677.3l-10.5 -0.6l6.5 11.3l4.1 6.2zM407.6 678.1l-1.1 -1.1l-9.1 -1.1l-1.4 1.4l0.1 16.9l3.4 5l0 -5l4.9 0zM483.1 678.7l-3 11.5l0 0.1l12.8 1.1l0.4 -11.1zM375.8 648.2l-3.8 -0.2l-5.1 15.1l3.1 0.9l14 10l1.1 1.9l2.8 -11.4l-11.3 -15.9zM396 677.3l1.4 -1.4l-0.6 -8.7l-8.9 -2.7l-2.8 11.4l0.4 0.8zM482.7 669.2l0.3 9.3l0.1 0.2l10.2 1.6l1.4 -1.3l-0.5 -9.6l-7.3 -3.4zM517.3 669.1l-10.2 -2.3l-1.5 1.3l-0.1 11.5l3.2 2.7l6.6 -4.7zM518.5 668.3l-1.2 0.8l-2 8.5l3 -2.1l0.3 -0.1l0.3 -0.2l9.7 -3.7zM408.5 666.6l10.2 1.9l1.5 -2.2l-1.2 -7.7l-8.4 -3.3l-0.8 0.5l-2.1 9.8zM486.8 657.7l-0.5 -0.6l-8.5 -0.6l-2.4 2.3l0.6 8.4l6.7 2l4.2 -3.2zM443.2 657.5l2.2 -10.3l-9.2 -2.1l-3.3 2.7l-0.4 8l10.6 1.8zM421.1 646.1l3 -2.8l0.2 -6.2l-9.1 -2.8l-1.9 1.1l-1.6 9.3l1.3 1.8zM436.3 635.7l-0.1 9.4l9.2 2.1l0.6 -0.3l-0.5 -12l-8 -0.4zM439 623l-3.4 3.1l1.9 8.4l8 0.4l1.6 -1l1.6 -8.2l-0.9 -1.3zM416.9 612l-9.9 -0.5l-1.1 0.9l-1 9l1.7 2l9.2 0.1zM425.8 624.9l1.7 -1.3l0.7 -9.4l-11.3 -2.3l0 0.1l-1.1 11.5l0.4 0.3zM325.4 609.4l0.1 0.2l0 -0.1l0.1 0l5 0.5l6.4 0.5l5.6 0.5l0 -0.7l0.5 0l0 -0.5l-11.8 0l-0.1 0l0 -0.1l0 -0.3l-5.8 0zM397.7 601l-2.2 2.2l0.5 6.9l9.9 2.3l1.1 -0.9l-0.4 -11.1zM451.2 613.1l7.3 1.2l1.7 -1.5l1.2 -10.7l-0.3 -0.4l-9.9 -0.1l-2.2 2.2zM505.2 603.3l-0.6 0.5l-1 11l0.4 0.4l9.6 0l6.9 -6.6l0 -2.3zM432.3 580l-1.1 1.4l0.3 8.9l9.1 2l2 -1.5l-0.4 -9.5l-0.2 -0.2zM462.6 583.8l-9 -2l-3.2 9.8l12 1.6l0.3 -0.3zM399.1 568.3l-9.9 2.1l0.2 7.8l4.5 0l0 7.3l7.3 -6.9l-1.8 -9.9zM420.1 579.7l1.3 1.5l9.8 0.2l1.1 -1.4l-0.5 -8.5l-9.4 -2.2l-2.2 1.7zM518.1 581.1l-0.7 -9.9l-8.7 -1.8l-1.3 1l-0.3 11.9l10.8 -1zM444 569.7l-0.1 -11.9l-10.2 1.4l0.7 9.9l9 0.9zM486.9 571.6l9.4 -0.3l1 -1.1l-0.5 -13.4l-11.5 0.6zM348.4 532.6l0.4 -10l-4.3 -0.7l-0.9 10.4zM558 613.3l2.2 6.8l-2.3 2.2l4.6 7.7l8.1 -6.3l-1.4 -4.2l-8.7 -5.7zM575.9 616.5l4 0.9l2.6 -2.4l-2 -8.7l-0.8 -0.4l-5.5 1.7l-0.4 0.5zM597.8 606.1l-5.1 3l-0.7 4.2l5.2 7l1.4 0.2l0.4 -3.4l3.2 -10zM574.2 607.6l5.5 -1.7l-1.2 -8.7l-4.4 -3.2l-4.7 1.5l0 4.3zM540.6 579.5l0.4 17.8l0.3 0l0 6l0.8 -0.3l0.3 -2.7l3 -1.9l-3.5 -2.4l-0.7 -15.4l0 -0.1l13.3 0l0 0.1l2.2 10.9l-1.9 6.6l-0.4 1.4l-2 -0.5l-1.7 -0.3l-2 0l1.9 1l0.9 0.6l-0.2 -0.3l0 -0.1l0.1 0l7.8 0l-0.6 -3.3l-0.8 -4.5l0 -0.1l4.8 -0.6l5.4 -12.9l-27.4 1zM703.7 323.9l-0.5 -0.3l-7.5 1.4l0.7 7.4l8 -0.2zM732.9 294.2l-7.6 2.3l1.3 7.1l7 -0.1l0.6 -0.8l-0.9 -8.2zM697.1 281.9l1.2 0.8l7.8 -1.5l-1.6 -7.2l-7.8 0.6zM776.7 381.5l0.2 -0.2l1.2 -9.1l-1.7 -1.1l-8.2 3l2.5 6.7zM776.9 381.3l8.8 -1.9l-1 -7.7l-6.6 0.5zM785.3 370.9l-0.6 0.8l1 7.7l1.5 1.4l7.7 -2.3l-0.5 -3.8l1.5 0l0 0.7l-0.6 -5.9zM768.2 347.9l0.3 0.3l6.4 -0.3l1.2 -1.6l-2.8 -8.9l-0.6 -0.4l-1.3 0.7l-0.2 0.1l-0.3 0.1l-0.3 0l-0.3 0.1l-4.1 0.4zM792 343.9l7.6 -0.8l0.9 -0.9l-1.3 -7.7l-9.1 1.5zM769.1 434.4l0.4 3.6l3.6 1.2l2.9 -2.3l0.1 -4.7l-2.1 -2.1zM792.8 436.3l-5.2 0.8l1.8 0.8l8.9 1.9l-0.1 -0.4zM800.1 440.2l6.2 1.3l5.6 -2.6l-4 -3.1zM813.2 433.4l-4.8 0.9l-0.5 1.5l4 3.1l5.1 -2.4zM787.6 431l-5.2 4l5.2 2.1l5.2 -0.8l-3.8 -5.1zM817.3 426.2l-3.9 0.3l-0.2 6.9l3.8 3.1l6.6 -3.1zM807.4 428.8l3.1 -3.1l-2.4 -6.3l-3.2 -1.5l-3.4 1.7l-0.4 9.5zM781.5 422.5l-0.5 -4.5l-3.3 -4.8l-4.7 3.8l2.9 8.9zM792.1 411.7l-2.2 1l-2.2 8.9l5.3 1.8l4.8 -4.1l-4.4 -6.8zM797.8 419.3l3.7 0.3l3.4 -1.7l-0.1 -1.8l-4.3 -4.8l-7.1 1.2zM813.3 416.7l1.2 0.3l7.5 -3.1l-1.3 -4.3l-5 -2.2l-2.3 1.9zM829.1 416.4l3.3 -11.2l-2.4 0.7l-3.1 9.6zM781 418l5.3 -6.3l-4 -3.5l-1.9 2.9l-2.7 2.1zM793 407.3l-8.4 -2.8l-2.3 3.7l4 3.5l3.6 1l2.2 -1zM793.7 406l-0.7 1.3l-0.9 4.4l1.3 0.8l7.1 -1.2l0.7 -4.8l-3.8 -2.6zM815.7 407.4l5 2.2l4.6 -4l-2.1 -4.5l-2.2 -1.9l-6.1 3.2zM828.8 398.2l-2.9 -5.1l-4.4 2.6l-0.5 3.5l2.2 1.9zM833.4 391.7l-0.5 -0.3l-6.8 1.3l-0.2 0.4l2.9 5.1l5.4 3.5l4.2 -2.5zM843.6 388.4l-4.4 -2.9l-5.8 6.2l5 7.5l5.7 -3.4zM839.2 385.5l4.4 2.9l2.7 -2.4l-1.1 -11.4l-4.1 2.1l-4 4.6zM821.8 356.6l-4 3.2l4.4 5.3l-2.1 3l1.8 -0.1l0.8 6.2l7.1 -1.3l-4.2 -8.6l-4.4 -1.1l0.8 -6.1zM866.7 340.7l4.3 -8.8l-9.6 1.5l-1.4 1.6l1.5 7.1l1.5 0.5zM852.6 326.2l-8 -6.7l-10 1.5l0 3.2l6.2 5.3zM861.5 310.7l3.1 7.1l8.7 -3l0.1 0l1.3 1.8l2.8 4l0.7 0.1l-3 -4.4l-1 -1.5l1.1 -0.2l-3.8 -4.1l-0.8 -5.8l13.6 -2.8l0.2 -1.5l-20.1 4.1l-2.9 6.2z" fill="#e8eefc"/>
<path d="M310.8 252.9l7.2 0.9l14.6 -17.7l-22.1 -5.4zM276.8 166.1l-0.2 8.4l15 5.5l2.9 -16.6l-8.5 -6.8zM291.6 180l4.5 6.7l9.6 -7.6l-0.1 -14.1l-2.1 -2.2l-9 0.6zM395.9 456.3l-1.2 1l-0.4 7.8l9.9 2.2l1.4 -1.3l0.3 -7.9zM371.2 445.2l-0.5 8.6l13.2 3.4l1.6 -1.5l0 -8.5zM387.3 445.6l-1.8 1.6l0 8.5l9.2 1.6l1.2 -1l0.6 -8.1zM398.1 446.9l0.6 -8.8l-10.9 -0.4l-0.5 7.9l9.2 2.6zM486.2 582.8l-0.2 -0.1l-11.1 0.3l-0.1 9.4l9.2 2.6l2.5 -3zM581.7 522.7l7.3 2.1l3 -2.4l-0.9 -6.9l-2.1 -1.9l-7.6 1.5zM554.6 516.1l8.3 1.4l2.5 -2.1l-3.9 -9.4l-4.2 -0.1zM580.4 506.1l0.4 8.5l0.6 0.5l7.6 -1.5l2 -8.6l-9.7 0.4zM662.9 446.8l0.1 -0.4l1.2 -10.6l-10.3 3.3l1.8 6.3zM654.5 429.6l8.1 0.4l-1.8 -9.8l-0.2 -0.1l-6.2 0.5l-0.7 8.3zM660.6 420.1l0.2 0.1l8.9 -0.1l-0.1 -7.7l-7.8 -1l-0.1 0zM702.1 257.8l8.2 -1.6l0 -0.1l-1.4 -8.1l-0.3 -0.2l-7.8 1.3l0.4 8zM784.7 361.2l-1.3 2l1.9 7.7l10 -1.4l-0.2 -2l0.3 -0.1l-1.5 0l-0.8 -7.2zM782.4 344.7l-6.3 1.6l-1.2 1.6l2.5 6.6l4.8 0.2l1.5 -1.6l-0.1 -7.6zM627.2 597.7l9.6 -0.6l-0.6 -6.7l-7.3 -1.9l-1.2 0.9zM714.2 573.9l0.5 7.1l9.1 0l1.8 -1.2l-0.8 -7.6l-7 -2.6zM696.2 564l2.4 -11.2l-1 -0.8l-9.5 3l-1.3 2.4l1.5 6zM716.7 562.3l-0.2 -8.7l-10.6 0.8l1.7 9.4l7.9 -0.1zM817.3 426.2l1.5 -3.3l-4.3 -5.9l-1.2 -0.3l-5.2 2.7l2.4 6.3l2.9 0.8zM797.4 403.9l3.8 2.6l4.3 -0.5l3.4 -8.1l-1.7 -4.6l-0.6 0.1l0 3.5l-7.8 0zM843.7 334.7l5.4 1.2l4 -4.1l-0.4 -5.5l-0.1 -0.1l-11.8 3.3zM816.7 306.9l-1.3 1.8l-0.1 0.3l-0.2 0.2l-0.2 0.1l-1.5 1.2l0.8 4.3l10.5 -2.1zM838.2 296.7l-5 -2.6l-4.5 2.6l1.5 9.8l6.4 -4.4z" fill="#e4ebfb"/>
<path d="M336.5 207.6l-0.1 16.8l12.6 0.6l1 -10.6zM364.6 233.4l-11.2 -0.5l-1.1 10.4l2.5 2.4l9.9 -2.8zM383.9 457.2l-0.7 7.8l9.8 1.3l1.3 -1.2l0.4 -7.8l-9.2 -1.6zM419.4 457.5l11.4 2.9l-0.4 -10.9l-9.6 -1.1l-1.1 1.1zM495.6 550.6l-9.4 -1l-0.1 0l-0.2 7.8l10.3 -0.5zM518.4 550.5l-9.9 -1.5l-1.3 1.7l-0.5 5.6l1.3 -0.1l9.6 2.7zM494.6 534.3l-7.8 7.5l-0.6 7.8l9.4 1l1.2 -1.3l0.6 -11.2l-0.9 0l-0.2 -4.4zM436.3 538.7l14.3 1.8l0 -4.9l4.3 0l0 -0.1l-3 0l0 -1.2l-14.7 -5.7zM507.4 538.7l12.3 2.8l1.5 -1.3l-1.5 -8l-11.4 -1.3l-1.2 7.2l-0.2 0zM417.3 528.8l8.8 2.1l1.5 -1.5l-0.7 -11.9l-2.7 -3.3l0 0.5l-7.7 0zM451.9 534.3l0 -16.1l-4.6 0l0 -1.9l-1.7 -0.1l-7 5.6l-1.4 6.8zM470.9 511.9l-0.9 8.5l10.1 2.6l1.6 -1.5l-0.1 -8.8l-10.4 -1.1zM513.5 512.7l0.3 8.9l7.9 1.1l2.2 -1.6l0.2 -7.6l-9.7 -2zM471.9 502.6l-10.2 -2.2l-6.6 6.6l-0.1 1.2l6.2 0l0 2.3l9.7 1.4l0.3 -0.3zM451.3 502.3l3.8 4.7l6.6 -6.6l0.2 -7.3l-4.7 -7.7l-4.6 0l0 3.3l-2.6 0zM528.8 503.8l-1.4 -9.3l-11.6 -1.7l-0.9 10.3zM419.8 484.5l0.9 0.1l4.2 12.7l0 0.7l11.8 -10.7l-2.1 -0.9l-4.8 -5.8l-2.5 -2.8zM516.6 484.1l-0.4 0.4l-0.7 7.8l0.3 0.5l11.6 1.7l-1.1 -6.9l-0.1 -4.2zM359.3 477.7l1 -8.2l-1.7 -0.2l-9 -0.3l-1.3 9.1zM516.6 484.1l9.6 -0.7l-0.1 -8.9l-10.4 -0.3zM464.8 657.8l-8.8 -1.9l-2.2 1.9l-0.3 11.8l3 3.4l7.7 -5.7zM453.8 657.8l2.2 -1.9l-2 -8.8l-8 -0.2l-0.6 0.3l-2.2 10.3zM457 644l10.3 3l0.6 -12.7l-8.5 0.3l-2.8 2.7zM490.1 646.5l-0.1 -8.9l-10.8 -2.6l-0.7 0.7l-0.6 8.6l10.3 3.6zM485.2 602.5l-1.9 2.1l-1.1 9.8l11.8 1.1l0.5 -0.4l-0.6 -11.6zM381.2 590l0 9.4l14.3 3.8l2.2 -2.2l0 -0.1l-2.6 -13.8l-1.2 -1.2l0 4.1l-12.7 0zM417.9 591.7l2 9.6l8.9 0.4l1.5 -10.3l-10.5 -1.2zM463.3 571.6l2.1 9.9l8.4 0.3l2 -10l-10.3 -2zM341 564.2l9.9 0l0 -11l3.8 0l-0.4 -1.3l-7.2 -9.4l-4.3 -0.4l-1.8 22.1zM368.1 547.2l-3.8 5.1l13.4 4.9l1.4 -0.9l1.2 -11.1zM580.8 514.6l-0.4 -8.5l-5.6 -1.9l-3.6 3l-0.2 7.5zM726.2 253.1l-0.6 -8l-8 1.2l-0.5 0.7l1.8 7.9zM778.1 372.2l6.6 -0.5l0.6 -0.8l-1.9 -7.7l-7.9 0.4l-0.4 0.4l1.3 7.1zM814.1 449.6l-5.7 2.5l-0.7 5.4l1.6 2.2l3.6 -0.6l2.7 -3.6l0 -4.2zM800.5 411.3l4.3 4.8l3.1 -6.6l-2.4 -3.5l-4.3 0.5zM814.9 402.4l6.1 -3.2l0.5 -3.5l-5.5 -4.2l-4.7 0l0.1 1.2l-4.2 0.6l1.7 4.6zM789.1 400.4l6.3 -6.9l-3.2 -3.3l-1.3 1.4l-2.9 7.7l-0.8 1.1zM821.5 395.7l4.4 -2.6l0.2 -0.4l-1.5 -5.3l-5.9 -1.6l0 5.7l-2.7 0zM830.7 384.2l2.2 7.2l0.5 0.3l5.8 -6.2l-2.1 -4.2l-4.2 5l-0.7 -3.5zM807.9 377.7l2.1 0.2l3 0.3l-2 5.3l-0.1 0l0 0.2l0.3 0.1l0 -0.5l0.1 0l7.3 0.9l0.1 0l0 1.6l5.9 1.6l3 -2.9l-5.6 -9.7l-9.2 1.2l-3 0.5l-0.1 0l-0.1 0l0 -0.2l-1.7 1.4zM853 378.7l1.3 -3.2l13.3 0.8l-14.3 -6l-7.3 3.9z" fill="#dbe5f9"/>
<path d="M354.9 226.4l2 2.3l12.4 -2.1l0.4 -13.1l-4.7 -0.1l0 -0.1l0.3 -2.4l-7.3 0l1.2 -13.8l8.1 0.2l2.7 0l-0.3 -6.2l-0.7 5.5l0 0.1l-2 -0.2l-10.1 -0.7l-2 30.6zM475.4 458.9l-1.2 1.4l-0.2 7.3l11.7 3.5l-0.7 -11.2zM455.1 560.1l-1 9.9l9.2 1.6l2.2 -1.8l1.7 -11.4l-0.4 -0.2zM717.1 247l-8.2 1l1.4 8.1l8.4 -0.9l0.2 -0.3zM789 444.2l0 1.1l4.6 1.7l1.3 -0.6l3.3 -6.2l0.4 -0.3l-6.1 -1.4l0.6 1.8l-4.1 3.9zM805.5 406l2.4 3.5l5.5 -0.2l2.3 -1.9l-0.8 -5l-6 -4.5z" fill="#cddaf5"/>
<path d="M470.3 552.3l-7.7 0l0 -6l-11.4 0l-2 3.9l1.8 0.3l19.2 9.3zM507.2 550.7l-10.4 -1.4l-1.2 1.3l0.6 6.3l10.5 -0.6zM434.1 540.4l-7.3 -2.7l-5.2 4.4l5.5 2.4l7.1 2.4zM486.1 549.6l0.1 0l0.6 -7.8l-7.7 -2.1l-2.5 2.1l0 7.8zM506.9 538.1l-9.5 0l-0.6 11.2l10.4 1.4l1.3 -1.7l-1.1 -10.3zM519.2 549.9l0.5 -8.4l-12.3 -2.8l1.1 10.3l9.9 1.5zM415 531.1l-4.8 -1.1l-0.3 6.9l4.8 2.2zM479.1 539.7l-0.6 -8.2l-9.9 0.3l-5.4 4.7l0 3.9l13.4 0l0 1.4zM479.6 530.5l-1.1 1l0.6 8.2l7.7 2.1l7.8 -7.5zM521.9 530l-2.2 2.2l1.5 8l9.5 -0.3l0 -7.5zM437.2 528.6l1.4 -6.8l-11.7 -4.3l0.7 11.9l9.6 -0.8zM461.2 520.6l0 14.9l-6.3 0l0 0.1l8.3 0l0 0.9l5.4 -4.7l1.1 -11.1zM469.7 520.7l-1.1 11.1l9.9 -0.3l1.1 -1l0.5 -7.5l-10.1 -2.6zM530.8 522.9l0 -6.4l-1.3 -8.4l-5.4 5.4l-0.2 7.6zM478 486.5l-4.6 6.5l-0.4 8.6l9.3 1.1l8.4 -6.3l-11 -10.6zM503.7 502.3l10.6 1.5l0.6 -0.7l0.9 -10.3l-0.3 -0.5l-18.2 0.8l-0.1 3zM359.9 478.6l-0.6 -0.9l-11 0.4l-0.6 3.9l11.8 0.8zM380.5 479.9l-10.7 -0.5l-0.3 0.2l0.2 3.8l10.3 0.6zM390.9 480.5l-9.7 -1.4l-0.7 0.8l-0.5 4.1l10.5 0.6zM461.9 493.1l11.5 -0.1l4.6 -6.5l-11.5 -3.4l0 2.3l-9.3 0zM369.8 479.4l10.7 0.5l0.7 -0.8l-0.7 -8.4l-9.5 -0.2zM391 480.5l10.2 2l1.7 -1.8l-1.6 -9.4l-8.2 -0.3zM402.9 480.7l8.8 0.4l1.6 -9.5l-12 -0.3zM411.7 481.1l2.2 2.8l5.9 0.6l7.5 -6.7l-2.8 -3.3l0.1 -0.3l19 0l0.1 0l0 0.7l1.7 0l0.5 -1l-11.9 0l0 -1.8l-0.1 0l-20.6 -0.5l-1.6 9.5zM516.6 484.1l-0.9 -9.9l-8.2 -0.2l0 0.5l-0.4 0l-1.2 8.4l10.3 1.6z" fill="#eef2fd"/>
<path d="M688.3 563.4l-1.5 -6l-9.6 -1.6l-0.3 0.2l-1.4 8.8l10.4 1.8z" fill="#aabded"/>
<path d="M807.7 457.5l0.7 -5.4l-0.2 -0.3l-6.3 -0.1l0.6 4.8z" fill="#bccbf0"/>
<path d="M782.6 454.2l5.1 0.3l0.9 -8.8l-2.5 0.5l-5.8 3.8z" fill="#c5d4f3"/>
<path d="M789 445.3l-0.4 0.4l-0.9 8.8l2.2 1.9l4.6 -3l-0.9 -6.4z" fill="#a9bdee"/>
<g stroke="#cccccc" stroke-width="2.0" stroke-linejoin="round" stroke-linecap="round">
<path d="M356.9 228.7l-2 -2.3l-6 0.4M356.6 233l0.3 -4.3M369.3 226.6l-12.4 2.1M374.9 233.9l-5.6 -7.3M382.2 232.4l-1.6 1.8M398.4 235l0.3 -4.8l-0.8 -0.9l-15.7 3.1M412.4 235.7l0.2 -3.1l-1.3 -1.4l-12.6 -1M425.4 230.2l-12.8 2.4M430.7 236.5l-5.3 -6.3M440.3 233.8l-2.6 3.1M454.7 237.7l0.4 -4.5l-1.4 -1.8l-13.4 2.4M467.5 234.5l-12.4 -1.3M467.8 238.3l-0.3 -3.8M486.1 232.2l-18 1.6l-0.6 0.7M354.9 226.4l2 -30.6M354.3 174.4l-0.7 -0.9M369.3 226.6l0.4 -13.1M382.2 232.4l2.5 -14.1l-4.7 -4.5M397.5 219.1l-1.7 -1.8l-11.1 1M397.9 229.3l-0.4 -10.2M410.7 217.5l-13.2 1.6M411.3 231.2l0.5 -12.3l-1.1 -1.4M425.4 230.2l1 -8.8l-1 -1.5l-13.6 -1M440.3 233.8l-0.2 -12.5l-1.3 -1.1l-12.4 1.2M453.7 231.4l1.1 -9.9l-1.9 -2.3l-12.8 2.1M468.1 233.8l-0.1 -12.8l-0.4 -0.4l-12.8 0.9M484.3 222.3l-16.3 -1.3M395.8 217.3l0.8 -9M396.6 208.3l-9.3 -12.7l-0.1 0M387.2 195.6l-1.9 -1M411.8 208.4l-2.7 -3l-12.5 2.9M410.7 217.5l1.1 -9.1M426.2 209.5l-2.9 -3.3l-11.5 2.2M425.4 219.9l0.8 -10.4M437.9 208l-11.7 1.5M438.8 220.2l-0.3 -11.6l-0.6 -0.6M452.9 219.2l-0.3 -9.1l-1.6 -1.8l-12.5 0.3M467.6 220.6l0.9 -10.5l-2.7 -3.5l-13.2 3.5M482.2 208.8l-13.7 1.3M387.2 195.6l9.4 12.7M409.1 205.4l-0.7 -9.9l-1.1 -1.5l-20.1 1.6M423.3 206.2l1.1 -9.4l-1.4 -1.7l-14.6 0.4M437.6 195.9l-0.7 -0.9l-12.5 1.8M437.9 208l-0.3 -12.1M451 208.3l0.1 -11.3l-13.5 -1.1M465.8 206.6l0.6 -7.3l-1.8 -2.2l-13 -0.6l-0.5 0.5M481.7 195.4l-15.3 3.9M407.3 194l1.6 -10.4l-0.8 -1.1l-16.5 -1.8M423 195.1l-0.5 -11l-1.2 -1l-12.4 0.5M437.6 186.3l-3.6 -4l-11.5 1.8M436.9 195l0.7 -8.7M452 185.6l-3.3 -2.7l-11.1 3.4M451.6 196.5l0.4 -10.9M464.6 197.1l0.4 -12.4l-1.6 -1.8l-11.4 2.7M479.9 185.9l-14.9 -1.2M408.1 182.5l0.9 -15.7M421.9 156.8l0 -0.5M421.9 156.3l-0.1 -0.3M421.3 183.1l0.4 -16M435.1 171.7l-12 -14M434 182.3l1.1 -10.6M448 171.9l-12.9 -0.2M448.7 182.9l-0.7 -11M463.4 182.9l0.6 -9.3l-0.4 -0.5l-15.3 -1.6l-0.3 0.4M476.9 170.7l-12.9 2.9M421.9 156.3l0.5 0.5M448.3 171.5l1.9 -14.4M463.6 173.1l-1.9 -15.7M471.5 317.2l-1.2 -1.3l-13.2 -1.1l-3.5 3.9M471 320.9l0.5 -3.7M486.1 315.5l-14.6 1.7M357.2 301.2l-3.2 -3.5l-11.5 0.3M355.4 310.8l1.8 -9.6M367 298.6l-9.8 2.6M369 311.6l-0.2 -11.2l-1.8 -1.8M380.6 312.3l1.4 -10.2l-1.6 -2.2l-11.6 0.5M395 303l-0.8 -1.1l-12.2 0.2M394.3 313.1l0.7 -10.1M408 303.8l-0.7 -0.7l-12.3 -0.1M407.6 313.9l0.4 -10.1M419.4 303.8l-1.9 -2l-9.5 2M419.7 314.6l-0.3 -10.8M431.5 303.6l-12.1 0.2M430.9 315.2l0.6 -11.6M443.9 304.7l-12.3 -1.2M444.3 316l-0.4 -11.3M457.3 303.5l-12.1 -0.3l-1.3 1.5M457.1 314.8l0.8 -10.5l-0.6 -0.8M470.6 304l-12.7 0.3M470.3 315.9l0.5 -11.8l-0.2 -0.1M483 304.5l-12.2 -0.4M487.3 309.3l-4.3 -4.8M354 297.7l1.7 -9l-1.8 -2.6l-10.4 1.2M367.2 289.8l-11.5 -1.1M367 298.6l0.2 -8.8M368.5 288.3l-1.3 1.5M380.4 299.9l1.4 -9.4l-0.8 -0.9l-12.5 -1.3M394.2 301.9l0.8 -9.2l-2.4 -2.4l-10.8 0.2M407.3 303.1l-1.4 -12.5l-10.9 2.1M417.5 301.8l1.8 -9.8l-0.1 0l-12.6 -2.2l-0.7 0.8M431.6 303.5l0.1 -8.9l-12.4 -2.6M444.1 293.3l-10.8 -0.4l-1.6 1.7M445.2 303.2l-1.1 -9.9M444.6 292.8l-0.5 0.5M457.3 303.5l0.5 -9.5l-0.4 -0.4l-12.8 -0.8M470.5 293.2l-0.5 -0.6l-12.2 1.4M470.6 304l-0.1 -10.8M483 304.5l0.1 -10.5l-12.6 -0.8M488.4 293.3l-4.6 -0.2l-0.7 0.9M353.9 286.1l2 -8.3l-1.7 -3l-9.7 0.7M367.9 279.2l-12 -1.4M368.5 288.3l-0.6 -9.1M379.5 276.9l-10.6 1.1l-1 1.2M381 289.6l0.9 -10.1l-2.4 -2.6M392.6 290.3l1.2 -9.6l-1.8 -2.4l-10.1 1.2M406.6 289.8l-0.3 -7.6l-1.2 -1.6l-11.3 0.1M419.2 292l2 -9.6l-2.9 -3.2l-12 3M433.3 292.9l-0.6 -11.5l-0.9 -0.9l-10.6 1.9M444.6 292.8l1.2 -10.3l-1.4 -1.7l-11.7 0.6M457.4 293.6l-0.4 -10.5l-11.2 -0.6M470 292.6l0.5 -9.1l-11.7 -2.3l-1.8 1.9M483.8 293.1l-0.6 -10.6l-11.6 0l-1.1 1M488.5 277l-5.3 5.5M354.2 274.8l1.6 -7l-1.6 -1.9l-8.7 -1.2M365.3 265.3l-9.5 2.5M368.9 278l-1.2 -10.6l-2.4 -2.1M378.8 265.5l-11.1 1.9M379.5 276.9l1.5 -9l-2.2 -2.4M392 266.8l-11 1.1M392 278.3l1.6 -9.5l-1.6 -2M405.1 280.6l0.3 -11.1l-11.8 -0.7M418.3 279.2l-0.5 -9.1l-11.2 -1.6l-1.2 1M431.8 280.5l-0.2 -8.5l-1.7 -2l-11 -0.9l-1.1 1M445.9 271l-1.9 -2.1l-12.4 3.1M444.4 280.8l1.5 -9.8M458.5 272.2l-2.1 -2.1l-10.5 0.9M458.8 281.2l-0.3 -9M471.6 282.5l-0.4 -10.4l-2.2 -2.1l-10.5 2.2M488.5 268.6l-17.3 3.5M354.2 265.9l-0.5 -11.3l-7.4 0.6M366.1 256.4l-11.7 -2.6l-0.7 0.8M365.3 265.3l0.8 -8.9M378.8 256.6l-11.3 -1.6l-1.4 1.4M378.8 265.5l0 -8.9M392.8 257.8l-1.6 -2.1l-11.3 -0.2l-1.1 1.1M392 266.8l0.8 -9M406.6 268.5l0 -9.8l-2.4 -2.3l-11.4 1.4M418.9 269.1l1.1 -10.2l-2.3 -3.5l-11.1 3.3M429.9 270l2.2 -10.6M432.1 259.4l-12.1 -0.5M444 268.9l-1.1 -7.8l-10.8 -1.7M456.4 270.1l1.2 -11.1l-0.6 -0.7l-13.3 1.9l-0.8 0.9M469 270l0.5 -10.3l-11.9 -0.7M488.6 262.2l-17.8 -3.7l-1.3 1.2M354.8 245.7l-2.5 -2.4l-4.9 0.1M354.4 253.8l0.4 -8.1M367.7 245.6l-3 -2.7l-9.9 2.8M367.5 255l0.2 -9.4M379.9 255.5l-0.5 -10.7l-1.3 -1.7l-10.4 2.5M391.2 255.7l1.2 -9.6l-0.2 -0.3l-12.8 -1M404.5 246.1l-0.3 -0.4l-11.8 0.4M404.2 256.4l0.3 -10.3M417.7 255.4l1 -5.5l-1.7 -2.7l-12.5 -1.1M432.1 259.4l0 -9.8l-2.1 -1.7l-11.3 2M443.7 260.2l0.1 -11.8l-1.4 -1.2l-10.3 2.4M455.4 248.2l-11.6 0.2M457 258.3l-0.8 -9.4l-0.8 -0.7M470.8 258.5l0.1 -7.8l-3 -3.8l-11.7 2M481.8 247.1l-10.9 3.6M352.3 243.3l1.1 -10.4M364.7 242.9l-0.1 -9.5M378.1 243.1l1.3 -9M392.2 245.8l-0.3 -11.1M404.2 245.7l0.9 -10.4M417 247.2l1.4 -11.2M430 247.9l-0.6 -11.4M442.4 247.2l-0.3 -10.1M455.4 248.2l0.2 -10.5M467.9 246.9l1.4 -8.5M391 385.2l-11 -1.7l-5 5.2M390.4 392.2l0.6 -7M402.7 386.1l-10.8 -1.9l-0.9 1M402.2 392.6l0.5 -6.5M413.6 386.8l-9.4 -2l-1.5 1.3M413.7 392.9l-0.1 -6.1M425.7 387.1l-11.1 -1.3l-1 1M425.6 393.3l0.1 -6.2M426.8 385.7l-1.1 1.4M437.3 393.6l0.6 -6.6l-11.1 -1.3M448.8 387.6l-10.9 -0.6M448.5 393.9l0.3 -6.3M460.3 388.4l-10.1 -2.4l-1.4 1.6M460.1 394.3l0.2 -5.9M471.4 387.8l-10.3 -0.2l-0.8 0.8M471.4 394.6l0 -6.8M482.7 389.3l-10.2 -2.6l-1.1 1.1M483.1 395l-0.4 -5.7M494.6 387.6l-10.6 0.1l-1.3 1.6M494.6 395.3l0 -7.7M495.7 386.3l-1.1 1.3M505.8 388.7l-10.1 -2.4M380 383.5l0.5 -7.8l-4.6 -0.9M381.9 374.5l-1.4 1.2M391.9 384.2l0.5 -8.1l-10.5 -1.6M404.3 377.2l-11.2 -1.9l-0.7 0.8M404.2 384.8l0.1 -7.6M414.6 385.8l1.1 -8.4l-10 -1.8l-1.4 1.6M426.8 385.7l-0.2 -6.4l-9.5 -3.1l-1.4 1.2M437.9 387l0.8 -8.8l-10.2 -1l-1.9 2.1M439.9 376.9l-1.2 1.3M450.2 386l-0.4 -7l-9.9 -2.1M461.1 387.6l0.6 -8.9l-10.2 -1.7l-1.7 2M472.5 386.7l0.4 -7.6l-9.8 -1.8l-1.4 1.4M473.4 378.5l-0.5 0.6M484 387.7l0 -8.5l-10.6 -0.7M495.7 386.3l-0.2 -6l-9.8 -2.9l-1.7 1.8M499.8 375.4l-4.3 4.9M381.9 374.5l0 -8.6l-5.4 -0.3M394 367.6l-11 -2.9l-1.1 1.2M393.1 375.3l0.9 -7.7M405.7 375.6l0.2 -7.5l-10.8 -1.7l-1.1 1.2M407.2 366.7l-1.3 1.4M417.1 376.2l0.7 -7.6l-10.6 -1.9M418.3 368.1l-0.5 0.5M428.5 377.2l0.1 -8.9l-10.3 -0.2M439.9 376.9l-0.3 -7.2l-10.4 -1.9l-0.6 0.5M441.1 368l-1.5 1.7M451.5 377l0.4 -8l-0.3 -0.5l-10.5 -0.5M463.1 377.3l-0.2 -7.7l-11 -0.6M464.3 368l-1.4 1.6M473.4 378.5l0.8 -8.4l-9.9 -2.1M475.5 368.8l-1.3 1.3M485.7 377.4l-0.1 -6.6l-10.1 -2M499.5 370.8l-12.2 -2.1l-1.7 2.1M349.1 354.7l-11.4 -1.6M348.7 362.6l0.4 -7.9M360.6 355.9l-10.2 -2.6l-1.3 1.4M360.3 363.8l0.3 -7.9M362.2 354.2l-1.6 1.7M371.2 365l1.2 -8.5l-10.2 -2.3M383.6 358.1l-10.1 -2.7l-1.1 1.1M383 364.7l0.6 -6.6M395.1 366.4l0.7 -9l-10.7 -0.9l-1.5 1.6M407.2 366.7l0.2 -8.3l-11.5 -1.1M407.7 358.1l-0.3 0.3M418.3 368.1l0.1 -9.3l-10.7 -0.7M429.2 367.8l0.7 -8.1l-11.1 -1.4l-0.4 0.5M430.9 358.5l-1 1.2M441.1 368l-0.5 -8.1l-9.7 -1.4M452.7 360.2l-10.5 -1.9l-1.6 1.6M451.6 368.5l1.1 -8.3M464.3 368l-0.3 -7.4l-10.7 -1l-0.6 0.6M464.7 359.8l-0.7 0.8M475.5 368.8l0.3 -8.5l-11.1 -0.5M487.3 368.7l0.1 -7.6l-10.9 -1.5l-0.7 0.7M497.8 360.4l-9.9 0l-0.5 0.7M350.8 345.5l-12.4 -1.2M350.4 353.3l0.4 -7.8M362.2 354.2l0.7 -7.8l-11.5 -1.6l-0.6 0.7M374.4 347.4l-11.2 -1.3l-0.3 0.3M373.5 355.4l0.9 -8M374.9 346.9l-0.5 0.5M385.1 356.5l-0.5 -8.9l-9.7 -0.7M386 346.1l-1.4 1.5M395.9 357.3l0.8 -8.3l-10.7 -2.9M397.3 348.3l-0.6 0.7M407.7 358.1l0.7 -9.4M408.3 348.5l-11 -0.2M418.8 358.3l0.8 -9.2l-11.2 -0.4M430.9 358.5l-0.2 -7.4l-10.3 -2.8l-0.8 0.8M442.5 350l-10.2 -0.6l-1.6 1.7M442.2 358.3l0.3 -8.3M453.3 359.6l0.2 -8.9l-10.5 -1.2l-0.5 0.5M464.7 359.8l0.2 -7.6l-10.4 -2.5l-1 1M476.5 359.6l0 -7.3l-9.3 -2.7l-2.3 2.6M487.9 360.4l0.2 -8.4l-9.1 -2.2l-2.5 2.5M493.6 346.7l-5.5 5.3M351.4 344.8l0.6 -8.2M351.9 336.4l-12.7 -1.3M363.2 346.1l1 -9.4l-12.2 -0.1M364.5 336.4l-0.3 0.3M374.9 346.9l-0.1 -9l-10.3 -1.5M386 346.1l0.8 -7.5l-10.5 -2.2l-1.5 1.5M397.9 338.8l-10.8 -0.5M397.3 348.3l0.6 -9.5M408.4 339.9l-10 -1.6l-0.5 0.5M408.3 348.5l0.1 -8.6M410.2 338.1l-1.8 1.8M420.4 348.3l0.5 -7.1l-10.7 -3.1M432.5 340.5l-11.3 0.4M432.3 349.4l0.2 -8.9M433.5 339.3l-1 1.2M443 349.5l0.3 -7.6l-9.8 -2.6M454.5 349.7l0.9 -7.7l-10 -2.1l-2.1 2M467.2 349.6l-0.3 -7.5l-11 -0.6l-0.5 0.5M467.5 341.4l-0.6 0.7M479 349.8l-0.2 -8l-11.3 -0.4M492.2 342.4l-13.2 -0.8l-0.2 0.2M351.9 336.4l0.6 -8.9l-12.4 -2M353.1 326.9l-0.6 0.6M364.5 336.4l0 -7.6l-11.4 -1.9M376.3 336.4l0.5 -8.1l-11.2 -1l-1.1 1.5M387.9 329.4l-11 -1.3l-0.1 0.2M387.1 338.3l0.8 -8.9M388.1 329.2l-0.2 0.2M398.4 338.3l0.3 -8.3l-10.6 -0.8M399.7 328.8l-1 1.2M410.2 338.1l0.4 -7l-10.9 -2.3M421.2 340.9l1.3 -10l-11.3 -0.4l-0.6 0.6M433.5 339.3l-0.1 -7.4l-10.9 -1M445.4 339.9l-0.1 -8l-11.7 -0.3l-0.2 0.3M455.9 341.5l0.4 -8.6l-10.4 -1.7l-0.6 0.7M457.9 331.2l-1.6 1.7M467.5 341.4l0 -7.8l-9.6 -2.4M479 341.6l0.6 -7.8l-10.3 -2.2l-1.8 2M489.2 333.1l-8.3 -0.6l-1.3 1.3M354.3 318.1l-13.4 -2.1M353.1 326.9l1.2 -8.7M365.6 327.3l-0.1 -8.7l-11.2 -0.4M376.9 328.1l1 -8.7l-0.4 -0.7l-12 -0.2M388.1 329.2l0.6 -8.9l-10.8 -0.9M399.7 328.8l0.2 -6.9l-10.4 -2.3l-0.8 0.7M411.2 330.5l0.6 -8.8l-0.3 -0.4l-10.1 -1l-1.5 1.6M422.5 330.9l-0.1 -8.5l-10.6 -0.7M434.4 322.9l-10.9 -1.9l-1.1 1.4M433.6 331.6l0.8 -8.7M445.9 331.2l0.6 -8.1l-11.8 -0.5l-0.3 0.3M446.9 322.6l-0.4 0.5M457.9 331.2l0 -7.3l-11 -1.3M469.3 331.6l0.5 -10.6M460 321.7l-2.1 2.2M480.9 332.5l-0.5 -7.5M354.3 318.1l0.4 -7.3M365.5 318.5l0.4 -7.1M377.5 318.7l0.6 -6.6M389.5 319.6l0.6 -6.8M401.4 320.3l-0.1 -6.8M411.5 321.3l1.2 -7.1M423.5 321l0 -6.2M434.7 322.6l0.5 -7.1M446.9 322.6l0.1 -6.5M382.4 470.8l0 -5l-12.4 -1.6M392.9 471l0.1 -4.7l-9.8 -1.3l-0.8 0.8M403.7 471.3l0.5 -4l-9.9 -2.2l-1.3 1.2M405.6 466l-1.4 1.3M415.6 471.6l0.3 -3.4l-10.3 -2.2M416.7 467.4l-0.8 0.8M434 469.2l-17.3 -1.8M485.7 471.1l-11.7 -3.5l-5.7 5.4M487.5 473.5l-1.8 -2.4M516.6 469.5l-9.1 -2.8M516.6 474.2l0 -4.7M526.1 469.6l-6.6 -2.5l-2.9 2.4M383.2 465l0.7 -7.8l-13.2 -3.4M394.3 465.1l0.4 -7.8l-9.2 -1.6l-1.6 1.5M395.9 456.3l-1.2 1M405.6 466l0.3 -7.9l-10 -1.8M417.4 459.3l-9.9 -2.8l-1.6 1.6M416.7 467.4l0.7 -8.1M430.8 460.4l-11.4 -2.9l-2 1.8M434 464.8l-3.2 -4.4M474 467.6l0.2 -7.3l-10.7 -1.7l-5.6 5.6M475.4 458.9l-1.2 1.4M485.7 471.1l-0.7 -11.2l-9.6 -1M498.2 460.8l-11.3 -2.9l-1.9 2M519.5 467.1l0.6 -7.1l-11 -1.3l-1.6 2M526 459.1l-4.5 -0.7l-1.4 1.6M385.5 455.7l0 -8.5l-14.3 -2M387.3 445.6l-1.8 1.6M395.9 456.3l0.6 -8.1l-9.2 -2.6M407.5 456.5l0.7 -7.8l-10.1 -1.8l-1.6 1.3M408.8 448.2l-0.6 0.5M419.4 457.5l0.3 -8l-10.9 -1.3M430.8 460.4l-0.4 -10.9l-9.6 -1.1l-1.1 1.1M442.3 450.1l-10.1 -2.4l-1.8 1.8M441.1 461.5l1.2 -11.4M452.5 450.9l-9.3 -1.6l-0.9 0.8M453.9 464.2l-1.4 -13.3M463.5 458.6l0.7 -8.2l-9.6 -1.7l-2.1 2.2M475.4 458.9l-0.2 -8l-10.1 -1.4l-0.9 0.9M487 451l-10.6 -1.4l-1.2 1.3M486.9 457.9l0.1 -6.9M498.3 451.1l-10 -1.8l-1.3 1.7M498.2 458.4l0.1 -7.3M509.1 458.7l0.4 -7.2l-9.2 -2.4l-2 2M521.5 458.4l-0.8 -6.8l-9.1 -2.1l-2.1 2M525.9 445.4l-5.2 6.2M387.3 445.6l0.5 -7.9l-0.6 -0.9l-9.9 -0.3l-5.9 6.2M398.1 446.9l0.6 -8.8l-10.9 -0.4M408.8 448.2l0.9 -8.8l-10.9 -1.4l-0.1 0.1M420.8 448.4l-0.2 -8.3l-9.8 -2l-1.1 1.3M432.2 447.7l0.2 -7.1l-10.2 -2.1l-1.6 1.6M433.7 439.1l-1.3 1.5M443.2 449.3l1.2 -9.6l-10.7 -0.6M454.6 448.7l-0.3 -8.1l-9.9 -1M465.1 449.5l0.3 -7.3l-9.5 -3.1l-1.6 1.5M468 439.9l-2.6 2.3M476.4 449.6l0.2 -7.1l-8.6 -2.6M488.3 449.3l-0.1 -7.2l-8.7 -2.2l-2.9 2.6M500.3 449.1l-0.2 -7.3l-10 -1.5l-1.9 1.8M511.6 449.5l0 -7.5l-10.1 -1.6l-1.4 1.4M512.9 440.6l-1.3 1.4M525.8 441.9l-12.9 -1.3M377.3 436.5l-0.3 -8.9l-4.6 -0.5M388.4 429.3l-9.7 -3.2l-1.7 1.5M387.2 436.8l1.2 -7.5M399.4 429.4l-9.3 -1.6l-1.7 1.5M398.8 438l0.6 -8.6M410.8 438.1l0 -7.1l-10.5 -2.3l-0.9 0.7M422.2 438.5l0.7 -8.5l-10.5 -0.8l-1.6 1.8M433.2 431.3l-9.4 -2.1l-0.9 0.8M433.7 439.1l-0.5 -7.8M444.4 439.6l0.3 -8.6l-9.1 -2l-2.4 2.3M455.9 439.1l0.9 -7.1l-10.4 -2.6l-1.7 1.6M468.1 431.6l-10.2 -0.7l-1.1 1.1M468 439.9l0.2 -8.2M479.5 439.9l-0.7 -7.6l-10.6 -0.6M490.1 440.3l0.4 -8.6l-10.2 -1.4l-1.5 2M501.5 440.4l0.4 -8.7l-10.7 -0.7l-0.7 0.7M512.7 432.8l-10.2 -1.8l-0.6 0.7M512.9 440.6l-0.2 -7.8M514.2 431.2l-1.5 1.6M525.8 432.1l-11.6 -0.9M378.7 426.1l0.8 -7.2l-0.7 -1.2l-5.7 -0.3M390.1 419.1l-10.6 -0.2M390.1 427.8l0 -8.7M400.3 428.7l1.3 -8.2l-10.9 -2.1l-0.6 0.7M402.5 419.6l-0.9 0.9M412.4 429.2l-0.3 -8.1l-9.6 -1.5M423.8 429.2l0.4 -7.4l-10.1 -2.8l-2 2.1M425.9 420l-1.7 1.8M435.6 429l-0.1 -7.7l-9.6 -1.3M446.4 429.4l0.7 -7.4l-10.7 -1.6l-0.9 0.9M457.7 421.9l-10.1 -0.5l-0.5 0.6M457.9 430.9l-0.2 -9M458.7 420.9l-1 1M468.1 431.6l1 -9.3l-10.4 -1.4M480.3 430.3l-0.5 -7l-9.9 -1.8l-0.8 0.8M491.2 431l0.2 -8.8l-9.5 -1.4l-2.1 2.5M502.5 431l0.5 -8l-10.8 -1.6l-0.8 0.8M514.2 431.2l-0.5 -8.6l-10.5 0.2M514.7 421.4l-1 1.2M525.7 422.9l-11 -1.5M378.8 417.7l1.5 -8.6l-6.6 -0.7M390.7 418.4l0.6 -7.9l-10.7 -1.6M391.7 410.1l-0.4 0.4M402.5 419.6l0 -8.8l-10.8 -0.7M414.4 411.4l-11.3 -1.3l-0.6 0.7M414.1 419l0.3 -7.6M425.8 411.7l-11.3 -0.3M425.9 420l-0.1 -8.3M436.4 420.4l0.9 -8.6l-10.6 -1.2l-0.9 1.1M447.6 421.4l-0.1 -8.2l-10.1 -1.5l-0.1 0.1M458.7 412.9l-9.3 -1.7l-1.9 2M458.7 420.9l0 -8M469.9 421.5l0.4 -8.1l-9.7 -2.4l-1.9 1.9M481.9 420.8l-0.7 -8l-9.6 -0.5l-1.3 1.1M492.2 421.4l0.8 -8l-10.8 -1.8l-1 1.2M503.2 422.8l0.2 -9l-8.6 -2.2l-1.8 1.8M514.7 421.4l-0.4 -6.9l-8.5 -2.6l-2.4 1.9M517.7 411.3l-3.4 3.2M380.8 400.3l-6.5 -1.4M380.6 408.9l0.2 -8.6M382.5 398.8l-1.7 1.5M391.7 410.1l0.6 -9.5l-9.8 -1.8M403.1 410.1l0.5 -8.6l-10.7 -1.4l-0.6 0.5M414.5 411.4l0.9 -9.3l-10.8 -1.8l-1 1.2M426.3 403.1l-9.7 -2.2l-1.2 1.2M426.7 410.6l-0.4 -7.5M437.4 411.7l1.2 -9.2l-10.7 -0.9l-1.6 1.5M448.8 403.3l-10 -1.1l-0.2 0.3M449.4 411.2l-0.6 -7.9M460.9 404.2l-10.7 -2.4l-1.4 1.5M460.6 411l0.3 -6.8M471.6 412.3l-0.1 -9.6l-9.4 0l-1.2 1.5M482.2 411.6l0.7 -8l-10.8 -1.4l-0.6 0.5M494.8 411.6l-0.5 -8.1l-11.3 -0.1M506.3 404l-11.4 -1.3l-0.6 0.8M505.8 411.9l0.5 -7.9M517.8 403.9l-11.1 -0.3l-0.4 0.4M382.5 398.8l0.4 -6.8M392.9 400.1l1 -7.8M404.6 400.3l0.2 -7.6M416.6 400.9l0.4 -7.9M427.9 401.6l0.3 -8.2M438.8 402.2l0.2 -8.5M450.2 401.8l0.9 -7.8M462.1 402.7l-0.9 -8.4M472.1 402.2l0.1 -7.6M483 403.4l0.3 -8.4M494.9 402.7l0.4 -7.4M506.7 403.6l0 -7.9M451.2 546.3l-2 3.9M470.2 559.8l0.1 -7.5M485.9 557.4l0.2 -7.8l-9.5 0M495.6 550.6l-9.4 -1M496.2 556.9l-0.6 -6.3M507.2 550.7l-10.4 -1.4l-1.2 1.3M506.7 556.3l0.5 -5.6M518.4 550.5l-9.9 -1.5l-1.3 1.7M517.6 558.9l0.8 -8.4M530.6 551.5l-11.4 -1.6l-0.8 0.6M434.1 540.4l-7.3 -2.7l-5.2 4.4M434.2 546.9l-0.1 -6.5M436.3 538.7l-2.2 1.7M450.6 540.5l-14.3 -1.8M486.2 549.6l0.6 -7.8l-7.7 -2.1l-2.5 2.1M494.6 534.3l-7.8 7.5M496.8 549.3l0.6 -11.2M496.3 533.7l-1.7 0.6M508.5 549l-1.1 -10.3l-0.5 -0.6M519.2 549.9l0.5 -8.4l-12.3 -2.8M521.2 540.2l-1.5 1.3M530.7 539.9l-9.5 0.3M415 531.1l-4.8 -1.1M414.7 539.1l0.3 -8M426.8 537.7l-0.7 -6.8l-8.8 -2.1l-2.3 2.3M427.6 529.4l-1.5 1.5M436.3 538.7l0.9 -10.1l-9.6 0.8M451.9 534.3l-14.7 -5.7M479.1 539.7l-0.6 -8.2l-9.9 0.3l-5.4 4.7M479.6 530.5l-1.1 1M494.6 534.3l-15 -3.8M521.2 540.2l-1.5 -8l-11.4 -1.3M521.9 530l-2.2 2.2M530.7 532.4l-8.8 -2.4M417.3 528.8l-0.8 -14.1M412.3 505.4l-1 0.1M427.6 529.4l-0.7 -11.9l-2.7 -3.3M437.2 528.6l1.4 -6.8l-11.7 -4.3M447.3 516.3l-1.7 -0.1l-7 5.6M468.6 531.8l1.1 -11.1l-8.5 -0.1M479.6 530.5l0.5 -7.5l-10.1 -2.6l-0.3 0.3M496 528.5l-4.3 -5.6l-10 -1.4l-1.6 1.5M521.9 530l-0.2 -7.3l-7.9 -1.1l-4.6 3.8M530.8 522.9l-6.9 -1.8l-2.2 1.6M445.6 516.2l-5.1 -5.1l-16.2 0.9M470 520.4l0.9 -8.5l-9.7 -1.4M481.7 521.5l-0.1 -8.8l-10.4 -1.1l-0.3 0.3M491.7 522.9l1 -10.6l-0.1 -0.1l-10.8 0.3l-0.2 0.2M502.8 514.1l-10.1 -1.8M503.3 521.2l-0.5 -7.1M503.9 512.9l-1.1 1.2M513.8 521.6l-0.3 -8.9l-9.6 0.2M523.9 521.1l0.2 -7.6l-9.7 -2l-0.9 1.2M529.5 508.1l-5.4 5.4M440.5 511.1l-1.7 -8.1l-14 -1.9M455.1 507l-3.8 -4.7l-10.6 -1.4l-1.9 2.1M455 508.2l0.1 -1.2M471.9 502.6l-10.2 -2.2l-6.6 6.6M471.2 511.6l0.7 -9M473 501.6l-1.1 1M481.8 512.5l0.5 -9.8l-9.3 -1.1M492.6 512.2l1.2 -15.2M490.7 496.4l-8.4 6.3M503.9 512.9l-0.2 -10.6l-6.5 -6.2M514.3 503.8l-10.6 -1.5M514.4 511.5l-0.1 -7.7M514.9 503.1l-0.6 0.7M528.8 503.8l-13.9 -0.7M440.7 500.9l0 -11.8M436.7 487.3l-11.8 10.7M451.3 502.3l-1.3 -13.6M461.7 500.4l0.2 -7.3l-4.7 -7.7M473 501.6l0.4 -8.6l-11.5 0.1M478 486.5l-4.6 6.5M479.7 485.8l-1.7 0.7M514.9 503.1l0.9 -10.3l-0.3 -0.5l-18.2 0.8M527.4 494.5l-11.6 -1.7M359.9 478.6l-0.6 -0.9l-11 0.4M359.5 482.8l0.4 -4.2M369.5 479.6l-9.6 -1M369.7 483.4l-0.2 -3.8M380.5 479.9l-10.7 -0.5l-0.3 0.2M380 484l0.5 -4.1M390.9 480.5l-9.7 -1.4l-0.7 0.8M390.5 484.6l0.4 -4.1M401.1 485.3l0.1 -2.8l-10.2 -2M411.7 481.1l-8.8 -0.4l-1.7 1.8M413.9 483.9l-2.2 -2.8M427.3 477.8l-7.5 6.7M478 486.5l-11.5 -3.4M516.2 484.5l-10.3 -1.6l-8.5 6.5M515.5 492.3l0.7 -7.8M516.6 484.1l-0.4 0.4M526.2 483.4l-9.6 0.7M359.3 477.7l1 -8.2M369.8 479.4l1.2 -8.9M381.2 479.1l-0.7 -8.4M391 480.5l2.1 -9.5M402.9 480.7l-1.6 -9.4M411.7 481.1l1.6 -9.5M445.4 474.9l0.5 -1M486.6 475.4l0 -2M505.9 482.9l1.2 -8.4M516.6 484.1l-0.9 -9.9M454.2 754.8l-4.8 -4.5l-0.4 -0.1M454.7 765.6l-0.5 -10.8M464.4 755.3l-10.2 -0.5M460.2 742.6l-10.8 7.7M437.6 746.8l-0.9 -12.7M436.7 734.1l-6.8 -2.3M448.9 734.5l-9.4 -1.9l-2.8 1.5M447.6 745.5l1.3 -11M449.5 733.9l-0.6 0.6M460.2 735.3l-10.7 -1.4M439.5 732.6l1 -10.3l-10.1 -1.6M449.5 733.9l0.9 -9l-8.1 -3.5l-1.8 0.9M454.9 721.9l-4.5 3M462.2 724l-7.3 -2.1M442.3 721.4l1.9 -10.4M454.9 721.9l-1.8 -11.5M466.8 712l-13.2 -3.3M468.8 715.4l-2 -3.4M466.8 712l2.6 -10.7l-1.3 -1.4l-18.3 -0.4M479.2 701.4l-9.8 -0.1M480 702.2l-0.8 -0.8M468.1 699.9l0.4 -11.9M447.1 689.6l-0.8 0.7M479.2 701.4l0.9 -11.1l0 -0.1l-11 -2.8M492.9 691.4l-12.8 -1.1M493.6 692.4l-0.7 -1M396 677.3l-10.5 -0.6M396.1 694.2l-0.1 -16.9M407.6 678.1l-1.1 -1.1l-9.1 -1.1l-1.4 1.4M404.4 694.2l3.2 -16.1M416.8 678.6l-9.2 -0.5M417.6 694.6l-0.8 -16M430.9 681.6l-2.4 -3l-9.4 -2.1l-2.3 2.1M483 678.5l-13.7 -0.6M480.1 690.2l3 -11.5M492.9 691.4l0.4 -11.1l-10.2 -1.6M494.7 679l-1.4 1.3M508.7 682.3l-3.2 -2.7l-10.8 -0.6M324.2 650.4l-24.2 6.3M330.3 677.3l-6.1 -26.9M372 648l-5.1 15.1M385.1 675.9l2.8 -11.4l-11.3 -15.9l-0.8 -0.4M397.4 675.9l-0.6 -8.7l-8.9 -2.7M406.5 677l2 -10.4l-0.8 -1l-8.9 -0.2l-2 1.8M419.1 676.5l-0.4 -8l-10.2 -1.9M428.5 678.6l3.4 -11l-1.3 -1.7l-10.4 0.4l-1.5 2.2M439.9 669.2l-8 -1.6M441.5 685.1l-1.6 -15.9M456.5 673l-3 -3.4M453.5 669.6l-10.1 -3.3M443.4 666.3l-3.5 2.9M483 678.5l-0.3 -9.3l-6.7 -2l-6.3 3.9M494.7 679l-0.5 -9.6l-7.3 -3.4l-4.2 3.2M497.2 667.2l-3 2.2M505.5 679.6l0.1 -11.5l-8.4 -0.9M517.3 669.1l-10.2 -2.3l-1.5 1.3M515.3 677.6l2 -8.5M518.5 668.3l-1.2 0.8M528.6 671.5l-10.1 -3.2M330 638.6l-5.8 11.8M345.6 660.6l0 -9.4M345.5 621.5l0 0.4M398.8 653.2l-2.9 -2.9l-19.3 -1.7M398.8 665.4l0 -12.2M407.7 665.6l2.1 -9.8l-11 -2.6M420.2 666.3l-1.2 -7.7l-8.4 -3.3l-0.8 0.5M430.6 665.9l1.5 -9.7l-9.2 -0.9l-3.9 3.3M432.5 655.8l-0.4 0.4M443.4 666.3l-0.3 -8.7l-10.6 -1.8M453.5 669.6l0.3 -11.8l-10.6 -0.3M464.8 657.8l-8.8 -1.9l-2.2 1.9M464.2 667.3l0.6 -9.5M476 667.2l-0.6 -8.4l-10.6 -1M486.8 657.7l-0.5 -0.6l-8.5 -0.6l-2.4 2.3M486.9 666l-0.1 -8.3M497.4 658l-10.6 -0.3M497.2 667.2l0.2 -9.2M507.3 657.9l-7.2 -2.1l-2.7 2.2M507.1 666.8l0.2 -8.9M518.5 668.3l1 -9.5l-9.2 -2.8l-3 1.9M530.9 670.6l-1.2 -11.1l-8.8 -1.6l-1.4 0.9M540.1 657.5l-6.9 -0.8l-3.5 2.8M541.6 666.5l-1.5 -9M541.3 656.5l-1.2 1M548.2 657.2l-6.9 -0.7M294.3 622.6l-4.7 1.6l-3.7 3.7M410.6 655.3l2.4 -8.8l-1.3 -1.8l-9.5 -1.7l-6.3 7.3M422.9 655.3l-1.8 -9.2l-8.1 0.4M432.5 655.8l0.4 -8l-8.8 -4.5l-3 2.8M443.2 657.5l2.2 -10.3l-9.2 -2.1l-3.3 2.7M456 655.9l-2 -8.8l-8 -0.2l-0.6 0.3M464.8 657.8l2.6 -10.8M467.3 647l-10.3 -3l-3 3.1M475 647l-7.6 0M477.8 656.5l-2.8 -9.5M486.3 657.1l1.9 -9.2l-10.3 -3.6l-2.9 2.7M498.3 647.9l-8.2 -1.4l-1.9 1.4M500.1 655.8l-1.8 -7.9M510.3 656l0.7 -8.9l-1.3 -1.4l-9.2 0l-2.2 2.2M520.9 657.9l1.8 -11.6l-0.1 -0.1l-11.6 0.9M533.2 656.7l-2.4 -9.2l-8.1 -1.2M541.3 656.5l1.8 -10.1l-9.1 -1.5l-3.2 2.6M549.6 647.1l-6 -1.1l-0.5 0.4M402.2 643l-0.8 -8.5l-17.9 -5.6M404.5 632.5l-3.1 2M411.7 644.7l1.6 -9.3l-8.8 -2.9M424.1 643.3l0.2 -6.2l-9.1 -2.8l-1.9 1.1M436.2 645.1l0.1 -9.4l-11 0.4l-1 1M446 646.9l-0.5 -12l-8 -0.4l-1.2 1.2M447.1 633.9l-1.6 1M457 644l-0.4 -6.7l-9.5 -3.4M467.3 647l0.6 -12.7l-8.5 0.3l-2.8 2.7M477.9 644.3l0.6 -8.6l-10.5 -1.5l-0.1 0.1M490.1 646.5l-0.1 -8.9l-10.8 -2.6l-0.7 0.7M493 634.8l-3 2.8M500.5 645.7l-0.6 -9.4l-6.9 -1.5M509.7 645.7l1 -9l-8.5 -1.9l-2.3 1.5M522.6 646.2l-0.7 -8.9l-8.9 -2.3l-2.3 1.7M534 644.9l-0.6 -9.5l-8.3 -1.1l-3.2 3M543.6 646l0.8 -9.5l-10.9 -1.2M552.6 627.8l-8.2 8.7M404.9 621.4l-13.7 0.4M404.5 632.5l2.1 -9.1l-1.7 -2M415.8 623.5l-9.2 -0.1M415.2 634.3l1 -10.5l-0.4 -0.3M425.3 636.1l0.5 -11.2l-9.6 -1.1M435.6 626.1l-8.1 -2.5l-1.7 1.3M437.5 634.5l-1.9 -8.4M439 623l-3.4 3.1M447.1 633.9l1.6 -8.2l-0.9 -1.3l-8.8 -1.4M459.4 634.6l-1.7 -9.5l-9 0.6M468 634.2l0.4 -9.7l-8.6 -1.8l-2.1 2.4M479.2 635l1.5 -8l-11 -3.5l-1.3 1M482.3 625.5l-1.6 1.5M493 634.8l-1.3 -7.9l-9.4 -1.4M502.2 634.8l0.7 -8.7l-9.2 -1.2l-2 2M513 635l-0.3 -8.3l-8.3 -1.8l-1.5 1.2M525.1 634.3l-1.1 -9.2l-9.4 -0.2l-1.9 1.8M536.3 624.8l-11.1 -1.2l-1.2 1.5M533.5 635.3l3 -10.3M552.7 627.2l-16.2 -2.2M289.6 624.2l-3.6 -9.6l-10.2 -12.9l-11.9 -0.6l-1 0.8M404.9 621.4l1 -9l-9.9 -2.3l-5.5 6.2M416.9 612l-9.9 -0.5l-1.1 0.9M415.8 623.5l1.1 -11.5M427.5 623.6l0.7 -9.4l-11.3 -2.3M439 623l-0.3 -9.4M438.5 613.5l-9.2 -0.2l-1.1 0.9M447.8 624.4l1.3 -9.6l-10.4 -1.2M459.8 622.7l-1.3 -8.4l-7.3 -1.2l-2.1 1.7M469.7 623.5l2.2 -9.2l-0.5 -0.5l-11.2 -1l-1.7 1.5M482.1 614.5l-10.2 -0.2M482.3 625.5l-0.2 -11M494 615.5l-11.8 -1.1M493.7 624.9l0.3 -9.4M504.4 624.9l-0.4 -9.7l-0.4 -0.4l-9.1 0.3l-0.5 0.4M513.6 615.2l-9.6 0M514.6 624.9l-1 -9.7M525.2 623.6l-0.2 -13.6M520.5 608.6l-6.9 6.6M536.3 624.8l-0.1 -18.1M530.5 602.8l-0.6 -0.1M263.9 601.1l2.2 -7.9M275.8 601.7l0.6 -7.5M286 614.6l1.2 -19.3M396 610.1l-0.5 -6.9l-14.3 -3.8M397.7 601l-2.2 2.2M407 611.5l-0.4 -11.1l-8.9 0.6M418.2 603.1l-11.6 -2.7M416.9 611.9l1.3 -8.8M428.8 601.8l0 -0.1l-8.9 -0.4l-1.7 1.8M429.3 613.3l-0.5 -11.5M438.5 613.5l2.2 -10.6l-0.5 -0.5l-11.4 -0.6M451.2 613.1l-2.2 -9.3l-8.3 -0.9M460.2 612.8l1.2 -10.7l-0.3 -0.4l-9.9 -0.1l-2.2 2.2M471.4 613.8l-0.3 -9.9l-9.7 -1.8M483.3 604.6l-10.5 -2.1l-1.7 1.4M482.2 614.4l1.1 -9.8M485.2 602.5l-1.9 2.1M494.5 615.1l-0.6 -11.6l-8.7 -1M495 602.7l-1.1 0.8M503.6 614.8l1 -11l-9.6 -1.1M505.2 603.3l-0.6 0.5M520.5 606.3l-15.3 -3M397.7 600.9l-2.6 -13.8M395.1 587.1l-1.2 -1.2M406.6 600.4l1.8 -8.8l-13.3 -4.5M410.3 590.3l-1.9 1.3M419.9 601.3l-2 -9.6l-7.6 -1.4M428.8 601.7l1.5 -10.3l-10.5 -1.2l-1.9 1.5M431.5 590.3l-1.2 1.1M440.2 602.4l0.4 -10.1l-9.1 -2M451.2 601.6l-1 -9.8l-7.6 -1l-2 1.5M461.1 601.7l1.3 -8.5l-12 -1.6l-0.2 0.2M472.8 602.5l0.6 -8.9l-10.7 -0.7M484 595l-9.2 -2.6l-1.4 1.2M485.2 602.5l-1.2 -7.5M486.5 592l-2.5 3M495 602.7l0.9 -9.8l-9.4 -0.9M505.2 603.3l1.2 -10.9l-0.2 -0.2l-9.2 -0.3l-1.1 1M521.2 596.6l-2.6 -2.6l-12.2 -1.6M376.3 578.2l-10 -0.3l-7.2 5.5M381.1 584.1l-4.8 -5.9M401.2 578.6l-7.3 6.9M410.3 590.3l0.1 -9.3l-2 -2.3l-7.2 -0.1M419.8 590.2l1.6 -9l-1.3 -1.5l-9.7 1.3M431.2 581.4l-9.8 -0.2M431.5 590.3l-0.3 -8.9M432.3 580l-1.1 1.4M442.6 590.8l-0.4 -9.5l-0.2 -0.2l-9.7 -1.1M450.4 591.6l3.2 -9.8l-0.9 -1.3l-10.5 0.8M462.6 583.8l-9 -2M462.7 592.9l-0.1 -9.1M474.8 592.4l0.1 -9.4l-1.1 -1.2l-8.4 -0.3l-2.8 2.3M486.2 582.8l-0.2 -0.1l-11.1 0.3M486.5 592l-0.3 -9.2M497 591.9l-1.8 -9l-9 -0.1M506.2 592.2l0.8 -9.9l-9.2 -1.9l-2.6 2.5M518.6 594l-0.7 -12.7l-10.8 1M529.5 596.6l0 -15.5l-11.4 0l-0.2 0.2M529.8 580.8l-0.3 0.3M540.6 580.7l-10.8 0.1M366.3 577.9l0.9 -11.4l-3.4 -3.4M378.8 568.2l-1.6 -1.8l-10 0.1M376.3 578.2l2.5 -10M389.2 570.4l-2.3 -2.3l-8.1 0.1M389.4 578.2l-0.2 -7.8M399.1 568.3l-9.9 2.1M401.2 578.6l-1.8 -9.9l-0.3 -0.4M411 569l-11.6 -0.3M408.4 578.7l3.2 -9l-0.6 -0.7M420.1 579.7l0.1 -8.7l-8.6 -1.3M432.3 580l-0.5 -8.5l-9.4 -2.2l-2.2 1.7M443.4 570l-9 -0.9l-2.6 2.4M442 581.1l1.4 -11.1M452.7 580.5l0.5 -9.8l-9.2 -1l-0.6 0.3M465.4 581.5l-2.1 -9.9l-9.2 -1.6l-0.9 0.7M473.8 581.8l2 -10l-10.3 -2l-2.2 1.8M486 582.7l0.5 -10.6l-10.5 -0.5l-0.2 0.2M497.8 580.4l-1.5 -9.1l-9.4 0.3l-0.4 0.5M507.1 582.3l0.3 -11.9l-10.1 -0.2l-1 1.1M518.1 581.1l-0.7 -9.9l-8.7 -1.8l-1.3 1M519.1 569.8l-1.7 1.4M529.8 580.8l-0.7 -10.9l-10 -0.1M540.4 570l-10.9 -0.6l-0.4 0.5M377.2 566.4l0.5 -9.2l-13.4 -4.9l-1.8 0.9M379.1 556.3l-1.4 0.9M386.9 568.1l2.8 -11.2M389.7 556.9l-10.6 -0.6M399.6 558.9l-9.9 -2M399.1 568.3l0.5 -9.4M401.1 557.9l-1.5 1M411 569l-0.3 -10.3M410.4 558.4l-9.3 -0.5M422.4 569.3l0 -9.1l-11.7 -1.5M434.4 569.1l-0.7 -9.9M433.3 558.8l-8.9 -0.8l-2 2.2M444 569.7l-0.1 -11.9l-10.2 1.4M454.1 570l1 -9.9M455 559.9l-10.2 -2.9l-0.9 0.8M465.5 569.8l1.7 -11.4M466.8 558.2l-11.7 1.9M476 571.6l-0.1 -12.6M486.9 571.6l-1.6 -14.2M497.3 570.2l-0.5 -13.4M508.7 569.4l-0.3 -13.1M519.1 569.8l-0.2 -10.5M529.5 569.4l0.3 -7M354.7 553.2l-0.4 -1.3M354.3 551.9l-7.2 -9.4M347.1 542.5l-4.3 -0.4M368.1 547.2l-3.8 5.1M379.1 556.3l1.2 -11.1l-12.2 2M389.7 556.9l0.1 -8.8l-9.5 -2.9M392.6 545.5l-2.8 2.6M401.1 557.9l-0.3 -10.8l-8.2 -1.6M411.5 546.5l-9.5 -0.3l-1.2 0.9M410.4 558.4l2.7 -9.8l-1.6 -2.1M424.4 558l-1.8 -9.6l-9.5 0.2M433.3 558.8l1.1 -11.8M426.2 544.1l-3.6 4.3M444.8 557l-0.1 -7.5M455 559.9l0.3 -7.4M347.1 542.5l1.5 -9.6l-0.2 -0.3l-4.8 -0.3M354.3 551.9l5.4 -17.6l-0.5 -0.5l-10.6 -0.9M368.1 547.2l0.5 -11.6l-8.9 -1.3M380.3 545.2l0.2 -8.3l-1.4 -1.4l-8.7 -1.2l-1.8 1.3M390.3 535.9l-9.8 1M392.6 545.5l-0.5 -7.9l-1.8 -1.7M402 546.2l0.4 -10.9l-10.3 2.3M409.9 536.2l-6.8 -1.7l-0.7 0.8M411.5 546.5l0.8 -8.5M348.4 532.6l0.4 -10l-4.3 -0.7M359.5 522.8l-10.7 -0.2M359.2 533.8l0.3 -11M370 523.8l-0.4 -0.6l-9.9 -0.5l-0.2 0.1M370.4 534.3l-0.4 -10.5M379.1 535.5l2.8 -10.4l-0.8 -1.1l-11.1 -0.2M390.3 535.9l1 -9.7l-9.4 -1.1M403.1 534.5l-1.3 -8.6l-10.1 0M410.9 514.5l-0.4 0M405.6 520.8l-3.8 5.1M348.8 522.6l1.4 -9.9l-4.5 -5.4M359.9 512.3l-9.7 0.4M359.7 522.7l0.2 -10.4M371.6 513.4l-0.5 -0.8l-10.3 -1.4l-0.9 1.1M369.6 523.2l2 -9.8M381.1 524l0.7 -9.2l-10.2 -1.4M391.7 525.9l-0.7 -11.9l-8.5 0.3l-0.7 0.5M400.6 508.9l-2.8 -0.4l-6.8 5.5M360.8 511.2l-1 -8.6l-0.9 -1.2l-12.8 0.5M373.2 502.3l-0.2 -0.2l-13.2 0.5M371.1 512.6l2.1 -10.3M382.5 514.3l-1.1 -11.7M381.3 502.5l-8.1 -0.2M397.8 508.5l-4.6 -5.3l-11.8 -0.6M358.9 501.4l2 -8.7l-1.5 -1.7l-12.2 -2.4M373 502.1l-2.1 -10.9l-10 1.5M383.2 492.6l-2.3 -2.1l-9.7 0.4M381.3 502.5l1.9 -9.9M393.2 503.2l-0.7 -10.5l-0.4 -0.7l-8.9 0.6M404.9 493.4l-12.4 -0.7M402.2 508.9l2.7 -15.5M412.1 486l-7.2 7.4M359.4 491l1 -8.2M371.2 490.9l-0.4 -7.5M380.9 490.5l1.2 -6.4M392.1 492l1.1 -7.2M500 303.4l-0.8 -7.2l-10.8 1.8M511.4 295.9l-1.4 -1.4l-10.4 1.1l-0.4 0.6M509.9 303.2l1.5 -7.3M520.3 297l-0.5 -0.4l-8.4 -0.7M520.9 302.9l-0.6 -5.9M533.2 302.6l-0.8 -5.1l-1.9 -2l-10.2 1.5M546.5 296.7l-3 -2.5l-11.1 3.3M545.9 302.3l0.6 -5.6M557.7 302.1l0.3 -5.1l-3.7 -2.9l-7.8 2.6M569 301.8l-0.7 -4.6l-1.7 -1.3l-8.6 1.1M578.8 293.6l-10.5 3.6M580.2 301.5l-1.4 -7.9M582.3 288l-3.5 5.6M499.6 295.6l-2.4 -9.5l-3.2 -1.7l-5.5 0.9M510.2 285.5l-4.2 -3l-8.8 3.6M510 294.5l0.2 -9M518 282.1l-7.8 3.4M519.8 296.6l1.5 -12.3l-3.3 -2.2M530.5 295.5l0.9 -11.1l-0.8 -0.6l-9.3 0.5M543.5 294.2l-2.1 -10l-10 0.2M554.3 294.1l1.3 -10.1l-0.9 -0.9l-13.1 0.9M564.1 283.7l-8.5 0.3M566.6 295.9l-0.2 -10.5l-2.3 -1.7M577.8 283.7l-11.4 1.7M494 284.4l1.9 -11.3l-1.9 -1.4l-5.5 1.4M506 282.5l-0.8 -9.8l-0.6 -0.5l-8.7 0.9M517.7 273.1l-0.8 -0.8l-11.7 0.4M518 282.1l-0.3 -9M530.6 283.8l-0.5 -10.1l-1.4 -1.3l-11 0.7M541.6 284l0.9 -11.1l-2.6 -2l-9.8 2.8M554.7 283.1l-0.9 -9.7l-2.5 -2.5l-8.8 2M564.1 283.7l1.9 -8.8M561.2 271.7l-7.4 1.7M494 271.7l-1.9 -9.9l-3.5 -2.6M504.6 272.2l0.3 -8.4l-2.9 -3.1l-9.9 1.1M516.9 272.3l0.8 -9.9l-2.7 -2.2l-10.1 3.6M528.5 262.3l-2.3 -1.8l-8.5 1.9M528.7 272.4l-0.2 -10.1M539.9 270.9l-1.2 -9.1l-0.5 -0.6l-9.7 1.1M551.3 270.9l0.6 -7l-2.6 -2.5l-10.6 0.4M557.6 261.3l-5.7 2.6M502 260.7l1.3 -9.2l-1.1 -1.1l-12.8 1.2l-2.6 2.6M515 260.2l-1.7 -9l-10 0.3M514.3 249.9l-1 1.3M526.2 260.5l0.8 -10.3l-1.7 -1.5l-11 1.2M538.2 261.2l0.8 -9.6l-3.4 -2.3l-8.6 0.9M549 251l-2.2 -1.7l-7.8 2.3M549.3 261.4l-0.3 -10.4M556.8 251l-7.8 0M491.2 241l-4.7 -4M489.4 251.6l1.8 -10.6M502.2 250.4l-0.7 -10.6l-1.7 -1.2l-8.6 2.4M514.3 249.9l-1.5 -10.1l-1.8 -1.4l-9.5 1.4M521 237.4l-8.2 2.4M525.3 248.7l0 -8.7l-4.3 -2.6M535.6 249.3l0.6 -9.8l-4 -3.3l-6.9 3.8M546.8 249.3l0.9 -10.2l-1.3 -1.3l-10.2 1.7M556.1 238.1l-8.4 1M560.4 241.1l-4.3 -3M499.8 238.6l-0.9 -9.8l-4.2 -2.4l-9 2.2M511 238.4l0.2 -10.6l-4.8 -2.2l-7.5 3.2M521 237.4l0 -9.8l-3.4 -2.3l-6.4 2.5M532.6 228.8l-2.1 -2l-9.5 0.8M532.2 236.2l0.4 -7.4M546.4 237.8l-1.6 -9.8l-2.3 -1.4l-9.9 2.2M556.1 238.1l1.6 -10l-4.6 -3.7l-8.3 3.6M565 227l-7.3 1.1M493.6 215.4l-10.6 0.9M494.7 226.4l0.6 -9.5l-1.7 -1.5M506.4 225.6l-0.8 -11.7l-10.3 3M517.6 225.3l0.9 -10.3l-8 -8.1l-4.9 7M530.5 226.8l0 -12.5l-12 0.7M540.8 214.1l-5.5 -4.2l-4.8 4.4M542.5 226.6l-1.7 -12.5M553.1 224.4l1.4 -10.6l-13.7 0.3M560.7 209l-1.5 0.3l-4.7 4.5M570.7 211.5l-10 -2.5M493.6 215.4l-1.2 -13.5l-10.3 3.4M510.5 206.9l-0.6 -6.3l-12.7 -3.5l-4.8 4.8M535.3 209.9l-0.1 -10.9l-17.8 -4.9l-7.5 6.5M559.2 209.3l-18.6 -14.4l-5.4 4.1M497.2 197.1l-10 -19.5l-8.6 2M560.7 209l-0.9 -33l-14.8 10l-4.4 8.9M582.9 200.9l-13 -21.4M560.3 175.4l-0.5 0.6M517.4 194.1l-0.3 -25.3l-6.1 -15.7M503.3 157.8l-16.1 19.8M545 186l-27.9 -17.2M512.3 373.4l-0.3 -0.2l-10.1 1.7l-1.9 2.1M512.9 380.2l-0.6 -6.8M521.4 373.5l-9.1 -0.1M521.3 380l0.1 -6.5M530.8 379.7l0 -6.1l-0.5 -0.4l-8.7 0.1M540.4 373.4l-1.3 -1l-8.3 1.2M540.3 379.4l0.1 -6M548.9 372.8l-0.6 -0.5l-7.9 1.1M549.6 379.1l-0.7 -6.3M558.4 372.7l-0.9 -0.9l-8.6 1M558.6 378.8l-0.2 -6.1M567.4 378.5l0.1 -6.3l-0.4 -0.3l-8.7 0.8M576.4 372.5l-0.9 -0.8l-8 0.5M576.6 378.2l-0.2 -5.7M585.5 380.3l0 -8.8M585.4 371.4l-9 1.1M595.1 371.1l-9.6 0.4M501.8 363.7l-2.9 0.3M501.9 374.9l1.1 -9.9l-1.2 -1.3M512 373.2l-0.1 -7.8l-0.8 -0.7l-8.1 0.3M521 364.7l-1.1 -0.9l-8 1.6M521.6 373.3l-0.6 -8.6M529.8 364l-0.3 -0.3l-8.5 1M530.3 373.2l-0.5 -9.2M539.1 372.4l-0.3 -8.5l-0.3 -0.3l-8.7 0.4M548.3 372.3l-0.2 -8.5l-0.8 -0.6l-8.5 0.7M557.5 371.8l0.2 -7.6l-1.6 -1.6l-8 1.2M566.4 363.5l-0.5 -0.4l-8.2 1.1M567.1 371.9l-0.7 -8.4M575.5 371.7l0.4 -8.5l-1.3 -1.1l-8.2 1.4M584.2 362.8l-0.8 -0.7l-7.5 1.1M585.4 371.4l-1.2 -8.6M595.3 363.2l-2.2 -1.8l-8.9 1.4M501.8 363.7l0.5 -7.7l-1.3 -1.1l-4.7 0.5M511.1 364.7l-0.5 -9.5l-0.6 -0.5l-7.7 1.3M519.9 363.8l-0.1 -8l-0.7 -0.7l-8.5 0.1M528.6 354.5l-8.8 1.3M529.5 363.7l-0.3 -8.6l-0.6 -0.6M538.5 363.6l-0.2 -8.2l-1.1 -1l-8 0.7M547.3 363.2l-0.3 -8.5l-0.3 -0.3l-8.4 1M556.1 362.6l0.4 -7.5l-0.6 -0.5l-8.9 0.1M565.9 363.1l-1 -8.9l-0.6 -0.4l-7.8 1.3M574.6 362.1l-0.6 -8.2l-0.6 -0.6l-8.5 0.9M583.4 362.1l0.1 -8.9l-9.5 0.7M593.1 361.4l-0.9 -8.6l-8.6 0.2M603 353.5l-1.9 -1.7l-8.8 0.8l-0.1 0.2M501 354.9l-0.4 -8.2l-0.7 -0.6l-6.2 0.9M509.2 346l-8.6 0.7M510 354.7l0 -7.8l-0.8 -0.9M519.1 355.1l0.1 -8.6l-0.6 -0.6l-8.6 1M527 345.7l-7.8 0.8M528.6 354.5l-0.5 -7.9l-1.1 -0.9M537.2 354.4l0.7 -8l-1.8 -1.5l-8 1.7M546.7 354.4l-0.2 -7.8l-1.4 -1l-7.2 0.8M555.9 354.6l-1 -9.3l-0.3 -0.3l-8.1 1.6M563.9 345.4l-0.4 -0.4l-8.6 0.3M564.3 353.8l-0.4 -8.4M573.6 345.4l-0.9 -1l-8.8 1M573.4 353.3l0.2 -7.9M583.6 353l-1.2 -8.4M582.3 344.6l-8.7 0.8M592.3 352.6l-0.4 -8.3l-1.2 -1.1l-8.3 1.4M601.1 351.8l0 -8.1l-0.9 -0.7l-8.3 1.3M609.6 342l-8.5 1.7M499.9 346.1l-0.1 -8.1l-1.2 -1.1l-7.8 1.1M509.2 337.7l-0.9 -0.8l-8.5 1.1M509.2 346l0 -8.3M516.6 336.8l-7.4 0.9M518.6 345.9l-0.7 -8l-1.3 -1.1M526.9 337.3l-0.8 -0.6l-8.2 1.2M527 345.7l-0.1 -8.4M535.9 337.2l-1.1 -0.9l-7.9 1M536.1 344.9l-0.2 -7.7M545.1 345.6l0 -8.2l-1.7 -1.5l-7.5 1.3M553.5 336.1l-8.4 1.3M554.6 345l-0.4 -8.3l-0.7 -0.6M563.5 345l0 -8.7l-0.6 -0.5l-8.7 0.9M572.7 344.4l-0.1 -7.7l-1.3 -1.1l-7.8 0.7M581.4 335.5l-0.8 -0.5l-8 1.7M582.3 344.6l-0.9 -9.1M590.7 343.2l0 -8.1l-0.8 -0.7l-8.5 1.1M600.2 343l-1.3 -8.5M598.8 334.5l-8.1 0.6M605.1 333.8l-6.2 0.7M497 327.7l-9.2 0.9M498.6 336.9l0 -7.9l-1.6 -1.3M506.2 327.4l-7.6 1.6M508.3 336.9l-0.6 -8.3l-1.5 -1.2M517.4 328.8l-1.9 -1.8l-7.8 1.6M516.6 336.8l0.8 -8M524.9 327.9l-7.5 0.9M526.1 336.7l-0.8 -8.5l-0.4 -0.3M534.8 336.3l-0.4 -8.5l-0.7 -0.6l-8.4 1M543.4 335.9l0.6 -8.2l-0.5 -0.5l-9.1 0.6M553 328.1l-1 -0.8l-8 0.4M553.5 336.1l-0.5 -8M562.9 335.8l-0.5 -8.4l-1.3 -1.1l-8.1 1.8M571.3 335.6l-0.1 -8.8l-0.4 -0.3l-8.4 0.9M580.6 335l-0.8 -8.5l-8.6 0.3M589.9 334.4l-0.4 -8.7M589.3 325.6l-9.1 0.6l-0.4 0.3M598.6 324.8l-9.1 0.9M598.8 334.5l-0.2 -9.7M599.2 324.1l-0.6 0.7M497 327.7l0.3 -8.1l-1.5 -1.3l-10.2 2M506 319.5l-1.1 -1.1l-7.6 1.2M506.2 327.4l-0.2 -7.9M515.5 327l0.2 -7.4l-1.1 -1l-8.6 0.9M524.4 319.3l-0.9 -0.8l-7.8 1.1M524.9 327.9l-0.5 -8.6M533.7 327.2l0 -7.5l-1.1 -1.1l-8.2 0.7M543.5 327.2l-0.6 -8.4l-1 -0.7l-8.2 1.6M552 327.3l0 -8.7l-1.6 -1.3l-7.5 1.5M561.2 318.6l-1.4 -1.2l-7.8 1.2M561.1 326.3l0.1 -7.7M570.8 326.5l-0.4 -8.6l-1 -0.8l-8.2 1.5M580.2 326.2l-0.7 -8.9l-0.7 -0.5l-8.4 1.1M589.3 325.6l-0.7 -8.7l-1 -0.7l-8.1 1.1M593 316l-4.4 0.9M495.8 318.3l-0.3 -7.9l-0.7 -0.7l-7.8 1M504.9 318.4l0.2 -8l-0.8 -0.6l-8.8 0.6M512.4 309.5l-7.3 0.9M514.6 318.6l-0.2 -7.5l-2 -1.6M523.5 318.5l0.3 -7.9l-1.6 -1.4l-7.8 1.9M532.6 318.6l-0.1 -8.3l-0.7 -0.6l-8 0.9M541.9 318.1l-1 -8l-0.7 -0.5l-7.7 0.7M550.4 317.3l0 -7.8l-0.8 -0.7l-8.7 1.3M559.8 317.4l-0.4 -7.6l-1.3 -1.2l-7.7 0.9M569.4 317.1l-0.5 -8.2l-1 -0.8l-8.5 1.7M578.3 308.6l-1.6 -1.4l-7.8 1.7M578.8 316.8l-0.5 -8.2M587.2 307.9l-0.9 -0.7l-8 1.4M587.6 316.2l-0.4 -8.3M590.1 307.5l-2.9 0.4M494.8 309.7l0 -6.1M504.3 309.8l-0.3 -6.5M512.4 309.5l0.7 -6.4M522.2 309.2l-0.2 -6.3M531.8 309.7l-0.3 -7M540.2 309.6l0.2 -7.1M549.6 308.8l-0.6 -6.5M558.1 308.6l0.3 -6.6M567.9 308.1l-0.9 -6.3M576.7 307.2l0.2 -5.6M586.3 307.2l-0.5 -5.8M621 487.2l-4.5 -1.7M621.4 497l-0.4 -9.8M632.5 486l-8.6 -1.7l-2.9 2.9M634.8 488.1l-2.3 -2.1M536.2 487.2l-2 -5.1l-0.5 -0.4l-7.5 -0.2M543.1 487l0.7 -6.5l-9.6 1.6M552.7 486.6l-0.2 -4l-8.7 -2.1M561.5 486.2l1.4 -5.9l-8.7 -0.1l-1.7 2.4M570 481.1l-6.5 -1.2l-0.6 0.4M570.5 485.9l-0.5 -4.8M571.6 479.9l-1.6 1.2M579.8 485.5l-1.1 -5.5l-0.4 -0.3l-6.7 0.2M588.3 485.2l0.6 -5.1l-0.8 -0.5l-9.4 0.4M595.9 478.4l-7 1.7M598.2 484.8l-1.9 -6.2l-0.4 -0.2M605.3 477.3l-9 1.3M606.4 484.5l1 -5.3l-2.1 -1.9M615.2 484.2l-1 -6.1l-6.8 1.1M623.9 484.3l-1.3 -6.1l-7.9 -0.6l-0.5 0.5M632.5 486l-2.2 -11.1l-6 1.4l-1.7 1.9M639.4 475.4l-8.4 -1.3l-0.7 0.8M533.7 481.7l3 -8.4l-1.9 -1.9l-8.7 2.1M543.8 480.5l-0.2 -6.3l-6.9 -0.9M554.2 480.2l-1.8 -8l-6.5 -0.4l-2.3 2.4M563.5 479.9l-1 -7.2l-9.5 -1l-0.6 0.5M571.6 479.9l-0.4 -9.6l-1.3 -1.3l-7.4 3.6M578.3 479.7l1.9 -9.1l-9 -0.3M588.1 479.6l-2.5 -9.2l-4.5 -0.6l-0.9 0.8M595.9 478.4l-0.1 -6.5l-8.1 -2.7l-2.1 1.2M605.3 477.3l0.2 -7.5l-9.2 1.4l-0.5 0.7M614.7 477.6l-0.2 -6.7l-2.2 -2l-6.4 0.4l-0.4 0.5M624.3 476.3l-3.3 -7.3l-6.5 1.9M631 474.1l-0.3 -6.1l-0.3 -0.5l-7.6 -1.3l-1.8 2.8M639 467.5l-8.3 0.5M535.1 463.5l-9.1 -0.3M534.8 471.4l0.4 -7.8M545.9 471.8l-2.3 -8.1l-8.4 -0.1M553 471.7l1.9 -6.5l-2.9 -3.5l-7.8 1.1l-0.6 0.9M562.5 472.6l-2.1 -8.9l-5.5 1.5M569.9 469l-0.4 -5l-8.2 -1.1l-0.9 0.8M581.1 469.8l-1.6 -7.4l-1.9 -1.6l-7.4 2.3l-0.7 0.9M587.7 469.2l1.9 -6.2l-1.9 -2.8l-8.2 2.2M596.3 471.2l0.4 -8.3l-7.1 0.1M605.9 469.3l-2.9 -8l-5.3 0.7l-1 0.9M612.9 458.8l-9.2 1.6l-0.7 0.9M612.3 468.9l1.8 -9l-1.2 -1.1M622.8 466.2l-2.2 -6.1l-6.5 -0.2M630.4 467.5l1.7 -7M631.5 459.8l-9.2 -1.6l-1.7 1.9M534.9 453.4l-9 1.7M535.1 463.5l0.2 -9.5l-0.4 -0.6M544.2 462.8l0 -7.1l-8.9 -1.7M545.2 454.5l-1 1.2M552 461.7l1.5 -6.5l-8.3 -0.7M561.3 462.9l-0.8 -7l-6.9 -0.7M570.2 463.1l-2.5 -9l-4.9 -0.3l-2.3 2.1M577.1 452.7l-7.7 0.1l-1.7 1.3M577.6 460.8l0.4 -6.7l-0.9 -1.4M587.7 460.2l0.7 -5.8l-0.6 -0.5l-9.8 0.2M597.7 462l-3.8 -8.6l-5.5 1M595.8 451.4l-1.9 2M603.7 460.4l-0.8 -6.7l-7.1 -2.3M604.5 452l-1.6 1.7M612.9 458.8l-0.6 -6.8l-7.8 0M622.3 458.2l1 -7l-10.3 -0.6l-0.7 1.4M623.7 450.7l-0.4 0.5M534.9 453.4l0.5 -5.4l-0.9 -1.3l-8.6 -1.7M545 446.6l-9.6 1.4M545.2 454.5l-0.2 -7.9M553.1 445.8l-7.2 -0.2l-0.9 1M553.6 455.2l-0.4 -9.3M562.8 453.8l-2.4 -8.8l-7.2 0.9M569.4 452.8l-0.6 -7.1l-7.8 -1.4l-0.6 0.7M578.2 446.2l-0.5 -0.8l-7.9 -0.5l-1 0.8M577.1 452.7l1.1 -6.5M587.8 453.9l-1.6 -8.1l-8 0.4M594.1 443.7l-6.5 0.4l-1.4 1.7M595.8 451.4l0.5 -6l-2.2 -1.7M604.5 452l-0.8 -8.7l-0.2 -0.1l-7.2 2.2M613 450.6l-0.8 -6.6l-8.5 -0.7M615.2 440.8l-3 3.2M534.5 446.7l1.7 -7.9l-1.4 -1.8l-9 1.2M545.9 445.6l-2.1 -7l-7.6 0.2M553.1 445.8l-0.4 -9.4l-0.7 -0.5l-7.8 2l-0.4 0.7M561 444.3l1.2 -6.6l-2.9 -2.5l-6.6 1.2M569.8 444.9l0.3 -8.4l-1.4 -1.1l-6.5 2.3M577.7 445.4l-0.1 -7.5l-7.5 -1.4M587.6 444.1l-2.4 -6.9l-7.3 0.5l-0.3 0.2M594.1 434.6l-7.3 0.6l-1.6 2M594.1 443.7l0 -9.1M603.5 443.2l-0.7 -7.7l-8.6 -1M614.6 435.8l-1.6 -1.2l-9.9 0.6l-0.3 0.3M534.8 437l0.3 -7l-0.7 -0.9l-8.7 -0.8M543.3 430.3l-8.2 -0.3M544.2 437.9l-0.9 -7.6M552 435.9l-1.7 -7.6l-0.4 -0.3l-4.9 0.6l-1.7 1.7M559.3 435.2l-0.3 -6.5l-8.7 -0.4M559.4 428.1l-0.4 0.6M568.7 435.4l0.6 -6.2l-1.6 -2.2l-8.3 1.1M577.9 437.7l0.7 -9.5l-0.4 -0.3l-8.9 1.3M586.8 435.2l-2.4 -7.7l-5.8 0.7M594.3 426.1l-8.8 0.3l-1.1 1.1M594.2 434.5l0.1 -8.4M603.7 427.4l-9.1 -1.7l-0.3 0.4M603.1 435.2l0.6 -7.8M613 434.6l-2.6 -8.6l-6.2 0.9l-0.5 0.5M611.1 422.6l-0.4 3.1M610.6 425.7l-0.2 0.3M534.4 429.1l2.3 -8.5l-2.4 -1.9l-8.6 2.1M545 428.6l-3.6 -8.7l-4.7 0.7M549.9 428l2 -8l-1.2 -0.9l-8.2 -0.3l-1.1 1.1M559.4 428.1l-1.6 -8.8l-5.9 0.7M568.2 420.7l-8.8 -2.9l-1.6 1.5M567.7 427l0.5 -6.3M578.2 427.9l-2.1 -8.1l-6.3 -0.3l-1.6 1.2M585.5 426.4l-0.8 -7l-7.9 -0.3l-0.7 0.7M594.6 425.7l0.5 -7.7l-8.9 -0.7l-1.5 2.1M595.4 417.7l-0.3 0.3M604.2 426.9l-1.5 -9.7M602.6 417.1l-7.2 0.6M534.3 418.7l-0.8 -5.4l-2.4 -2.5l-5.9 0.2l-3.9 3.9M542.5 418.8l0.2 -7.1l-1.3 -1.5l-7.9 3.1M550.7 419.1l-0.7 -8.3l-7.3 0.9M559.4 417.8l0.4 -6.2l-0.2 -0.4l-9.2 -0.8l-0.4 0.4M569.8 419.5l-0.2 -8.7l-0.1 -0.1l-9.7 0.9M576.8 419.1l1.5 -8.8l-0.9 -0.5l-7.8 1M586.2 417.3l-1.8 -6.6l-1.2 -0.9l-4.9 0.5M595.4 417.7l-1.1 -8.9l-9.9 1.9M595.4 406.7l-1.1 2.1M525.2 411l-1.2 -9.2l-5.3 0.4M531.1 410.8l3.5 -7.7l-2 -1.6l-8.4 0.2l-0.2 0.1M541.4 410.2l-1 -7.2l-5.8 0.1M550.4 410.4l-0.4 -6.6l-9.5 -0.9M559.6 411.2l0 -7l-2.5 -2.1l-4.8 -0.3l-2.3 2M569.5 410.7l-1.5 -8.9l-0.6 -0.4l-7.8 2.8M575.5 401.5l-7.5 0.3M577.4 409.8l-1.9 -8.3M584.8 402l-7.7 -2.1l-1.6 1.6M583.2 409.8l1.7 -7.7M592.3 402.3l-7.4 -0.2M524.2 401.7l0.1 -6.8l-1.5 -1.9l-9.7 3.3l-0.3 0.6M532.6 401.5l-0.3 -8.2l-8 1.6M541.8 396.9l-2.9 -4.6l-6.6 1M540.5 402.9l1.3 -6M552.3 401.8l-2.4 -7.1l-0.8 -0.4l-7.3 2.6M557.1 402.1l2.2 -8.1l-3.3 -2.3l-6.1 3M567.4 401.4l-0.6 -6.5l-2.2 -1.7l-5.3 0.8M577.1 399.9l0.1 -6.2l-2.6 -2.1l-7.8 3.3M584.8 402l0.9 -9.1l-1.3 -0.7l-7.2 1.5M588.3 392.5l-2.6 0.4M513.1 396.3l-0.1 -8.5l-8.7 -1.9M522.8 393l-0.5 -7.1l-6.5 -0.3l-2.8 2.2M530.2 386.3l-7.5 -0.6l-0.4 0.2M532.3 393.3l-2.1 -7M538.9 392.3l2.1 -6.4l-1.1 -1.3l-8.1 0.2l-1.6 1.5M546.5 386.2l-5.5 -0.3M549.1 394.3l-2.6 -8.1M556 391.7l-0.2 -5.5l-7.1 -1.6l-2.2 1.6M557.8 384.4l-2 1.8M564.6 393.2l0 -7.2l-6.8 -1.6M574.6 391.6l-0.4 -6l-9 -0.1l-0.6 0.5M584.4 392.2l-1.6 -7.8l-8.5 1.1l-0.1 0.1M583.2 383.9l-0.4 0.5M589 383.5l-5.8 0.4M515.8 385.6l-1.7 -5.4M522.7 385.7l0.7 -5.8M531.8 384.8l-0.4 -5.1M539.9 384.6l-0.2 -5.2M548.7 384.6l0.6 -5.5M557.8 384.4l-0.1 -5.6M565.2 385.5l0.8 -6.9M574.3 385.5l-0.5 -7.2M583.2 383.9l-0.7 -5.8M551 579.1l-0.3 -5.9l-10.3 -3.3M561.3 570.7l-0.8 -0.8l-9 1.9l-0.8 1.4M559.7 578.8l1.6 -8.1M568.7 578.5l0.3 -7l-0.4 -0.4l-7.3 -0.4M578.6 572l-9.6 -0.5M580.2 578l-1.6 -6M589.9 569.1l-9.6 -0.5l-1.7 3.4M590 577.7l-0.1 -8.6M598.7 569.5l-0.9 -0.8l-7.2 -0.4l-0.7 0.8M598 577.4l0.7 -7.9M604.8 569.1l-6.1 0.4M550.3 562.7l-7 -0.1l-3.5 2.3M551.5 571.8l-1.2 -9.1M559.4 562.9l-6.8 -1.9l-2.3 1.7M560.5 569.9l-1.1 -7M568.6 571.1l1.5 -9.6l-6.8 -1.6l-3.9 3M580.3 568.6l-1.7 -7.5l-8.1 0.2l-0.4 0.2M590.2 560.9l-1 -1.4l-10.3 1.2l-0.3 0.4M590.6 568.3l-0.4 -7.4M598.9 560.9l-8.7 0M597.8 568.7l1.1 -7.8M599.6 560.2l-0.7 0.7M604.7 561.7l-5.1 -1.5M543.3 562.6l-0.3 -9.6l-9.3 -0.4l-3.1 2.9M552.6 561l0 -7.2l-0.6 -0.8l-7.8 -1.1l-1.2 1.1M562.1 551.9l-9.5 1.9M563.3 559.9l-1.2 -8M570.5 561.3l-0.2 -10.2l-7.5 -0.5l-0.7 1.3M578.9 560.7l0.1 -8l-6.2 -3.3l-2.5 1.7M590.8 552.1l-9.7 -1l-2.1 1.6M589.2 559.5l1.6 -7.4M599.6 560.2l-0.4 -8.2l-8.1 -0.2M601 550.6l-1.8 1.4M605.7 551.3l-4.7 -0.7M534.6 543.4l-4 -0.3M533.7 552.6l1.7 -8.4l-0.8 -0.8M543.6 543.1l-8.2 1.1M544.2 551.9l-0.6 -8.8M552 553l0.9 -9.4l-0.7 -0.7l-8.1 -0.3l-0.5 0.5M561.5 544.9l-8.6 -1.3M562.8 550.6l-1.3 -5.7M572.8 549.4l0.1 -6.3l-0.4 -0.3l-8.8 -1l-2.2 3.1M581.1 551.1l0.9 -7.4l-2.5 -2.1l-6.6 1.5M591.1 551.8l-1.3 -9l-7.8 0.9M601 550.6l-0.7 -8.2l-9.4 -1.4l-1.1 1.8M610.5 542.1l-0.6 -0.5l-9 0l-0.6 0.8M534.6 543.4l-0.6 -9.3l-0.4 -0.5l-2.9 0.1M544.1 542.6l-1 -7.5l-9.1 -1M552.2 542.9l2.1 -8.2l-0.6 -0.6l-8.4 -2.1l-2.2 3.1M562.9 535.9l-1 -1.1l-7.6 -0.1M563.7 541.8l-0.8 -5.9M572.5 542.8l-0.5 -9.8l-9.1 2.9M579.5 541.6l1.4 -7.7l-0.5 -0.5l-8.1 -0.8l-0.3 0.4M590.9 541l-1 -6.9M589.9 534l-9 -0.1M601.4 533l-2 -1.4l-9.5 2.5M600.9 541.6l0.5 -8.6M609.9 541.6l-0.7 -9.7l-7.8 1.1M609.5 531.7l-0.3 0.2M615.4 532.6l-5.9 -0.9M533.6 533.6l1.8 -7.7l-4.6 -0.9M545.3 532l-0.8 -6l-0.7 -0.7l-7.5 -0.1l-0.9 0.7M553.7 534.1l1.3 -8.5l-1.3 -1.5l-9.2 1.9M561.9 534.8l0.7 -8.4l-7.6 -0.8M572.3 532.6l-1.5 -6.3l-7 -0.9l-1.2 1M580.4 533.4l0.4 -9.9l-8.4 0.9l-1.6 1.9M589 524.8l-7.3 -2.1l-0.9 0.8M589.9 534l-0.9 -9.2M599.4 531.6l-0.6 -8l-6.8 -1.2l-3 2.4M609.5 531.7l0.3 -6.9l-2.3 -3l-6.5 -0.3l-2.2 2.1M619.9 522.2l-10.1 2.6M621 523l-1.1 -0.8M534.6 517.2l-3.8 0.3M536.3 525.2l-1.7 -8M543.8 525.3l0.8 -8.7l-8.2 -1.7l-1.8 2.3M553.7 524.1l0.9 -8M554.6 516.1l-7.6 -1.5l-2.4 2M563.8 525.4l-0.9 -7.9l-8.3 -1.4M572.4 524.4l-1.5 -9.6l-5.5 0.6l-2.5 2.1M581.7 522.7l-0.3 -7.6l-0.6 -0.5l-9.8 0.1l-0.1 0.1M592 522.4l-0.9 -6.9l-2.1 -1.9l-7.6 1.5M601 521.5l-1.5 -7.8l-8.4 1.8M607.5 521.8l3.1 -7.8l-9.9 -2.8l-1.2 2.5M619.9 522.2l-2.8 -8.7l-4.9 -0.4l-1.6 0.9M618.8 511.7l-1.7 1.8M626.7 513l-7.9 -1.3M536.4 514.9l-1.1 -6.2l-5.9 -1M545.7 507.4l-1.1 -1.4l-6.9 0.4l-2.4 2.3M547 514.6l-1.3 -7.2M554.6 516.1l2.7 -10.2l-0.4 -0.4l-11.2 1.9M565.4 515.4l-3.9 -9.4l-4.2 -0.1M571 514.7l0.2 -7.5l-6.7 -3l-3 1.8M580.8 514.6l-0.4 -8.5l-5.6 -1.9l-3.6 3M589 513.6l2 -8.6l-9.7 0.4l-0.9 0.7M600.7 511.2l-0.8 -4.5l-8.5 -2.1l-0.4 0.4M602.7 503.5l-2.8 3.2M612.2 513.1l-2.9 -9.3l-6.6 -0.3M618.8 511.7l1.8 -8.2l-0.8 -0.8l-7.7 -1.4l-2.8 2.5M627.3 502.5l-6.7 1M629.4 503.6l-2.1 -1.1M535.5 497.4l-7.3 2.1M537.7 506.4l-2.2 -9M544.2 497.3l-8 -1l-0.7 1.1M544.6 506l1.6 -6.7l-2 -2M556.9 505.5l-2.8 -8.3l-7.9 2.1M564.5 504.2l1.5 -6.4l-1.2 -1.1l-10.4 -0.2l-0.3 0.7M574.8 504.2l-1.4 -8l-7.4 1.6M574 495.3l-0.6 0.9M581.3 505.4l1.3 -9.8l-8.6 -0.3M591.4 504.6l-0.7 -6.4l-1.5 -1.7l-6.6 -0.9M602.7 503.5l-1.2 -8.1l-0.9 -0.7l-9.9 3.5M608.6 493.5l-7.1 1.9M612.1 501.3l-0.7 -5.2l-2.8 -2.6M619.8 502.7l-0.2 -5.6M617 493.4l-5.6 2.7M627.3 502.5l-0.1 -5.9M536.2 496.3l-1.1 -9M544.2 497.3l1.3 -10.4M554.4 496.5l-0.2 -10M564.8 496.7l-1.5 -10.5M574 495.3l-1.6 -9.5M582.6 495.6l0.4 -10.2M589.2 496.5l3 -11.4M600.6 494.7l-2.7 -9.9M608.6 493.5l2.1 -9.2M618.3 671.7l-5.5 -1.6l-3.3 2.3M618 675.4l0.3 -3.7M627.2 676l-2.4 -5.2l-3.8 -1.2l-2.7 2.1M630.1 668.1l-5.3 2.7M638 673l-7.9 -4.9M643.1 667.3l-2.4 6.1M612.8 670.1l-2.4 -7.5l-6.7 2.1M621 669.6l-0.3 -7.6l-1.3 -1.5l-8.3 0.9l-0.7 1.2M630.1 668.1l0.2 -6.3l-1.6 -0.8l-8 1M637.1 659.3l-6.8 2.5M558.1 664.4l-4.1 -8.4l-5.3 -2.7M564.2 654.4l-3.1 -1.2l-7.1 2.8M563 664.1l1.2 -9.7M571.5 654.9l-4.3 -2l-3 1.5M573.5 665.1l-2 -10.2M582.9 656.3l-5.8 -4.8l-5.6 3.4M579.8 666l3.1 -9.7M592.1 654.9l-3.5 -1.6l-5.7 3M592.6 661.1l-0.5 -6.2M600.9 655.8l-3.9 -2.4l-4.9 1.5M601.6 664l-0.7 -8.2M608.5 653.6l-7.6 2.2M611.1 661.4l-2.6 -7.8M619.4 660.5l0.8 -7.8l-2.1 -1.8l-8.8 0.9l-0.8 1.8M628.7 661l-1.8 -9.8l-6.7 1.5M637.9 657.8l-0.6 -5.4l-2.2 -2.1l-7.2 0.1l-1 0.8M641.1 650.6l-3.8 1.8M647 651.8l-5.9 -1.2M561.1 653.2l-2.3 -7l-1.5 -0.4l-7.8 2.2M567.2 652.9l0.6 -8.2l-2.3 -1.2l-6.7 2.7M577.1 651.5l0 -4.9l-5 -3.1l-4.3 1.2M588.6 653.3l-0.9 -5.4l-4.9 -4.3l-5.7 3M597 653.4l2.8 -9.7l-5 -1.6l-7.1 5.8M609.3 651.8l-2.6 -6.7l-4.1 -2.5l-2.8 1.1M618.1 650.9l0 -8.7l-2.3 -1.3l-9.1 4.2M627.9 650.4l-2.3 -9l-2 -1.1l-5.5 1.9M635.1 650.3l0.5 -7.8l-3.6 -2.7l-6.4 1.6M641.1 650.6l3 -5.4M640.2 640.1l-4.6 2.4M557.3 645.8l-0.3 -10l-5.5 -1M565.5 643.5l-3 -9.2l-5.5 1.5M574.1 635.8l-2.8 -2.3l-8.5 0.5l-0.3 0.3M572.1 643.5l2 -7.7M582.8 643.6l1.2 -8.1l-1.5 -1.2l-8.4 1.5M594.8 642.1l-4.8 -6.9l-6 0.3M600.3 632.1l-8.1 0.7l-2.2 2.4M602.6 642.6l1.2 -6.6l-3.5 -3.9M608.8 633.6l-5 2.4M615.8 640.9l-2.2 -6.2l-4.8 -1.1M623.6 640.3l0.4 -8.6l-1.7 -2.7M618.7 629.2l-5.1 5.5M632 639.8l0.5 -6.3l-8.5 -1.8M639.3 628l-6.8 5.5M562.8 634l-0.3 -4M562.5 630l-4.6 -7.7M549.9 611.1l-2.4 -1.2M542.1 603l-0.8 0.3M572.5 625.5l-1.9 -1.8l-8.1 6.3M571.3 633.5l1.2 -8M581.4 626.2l-0.7 -0.6l-8.2 -0.1M582.5 634.3l-1.1 -8.1M592.2 632.8l-0.1 -8.2l-4.9 -0.7l-5.8 2.3M597.2 620.3l-5.1 4.3M600.3 632.1l0.3 -1.8M598.6 620.5l-1.4 -0.2M608.8 633.6l-0.1 -3.8M570.6 623.7l-1.4 -4.2l-8.7 -5.7l-2.5 -0.5M579.9 617.4l-4 -0.9l-6.7 3M580.7 625.6l-0.8 -8.2M587.2 623.9l-0.4 -8.5l-4.3 -0.4l-2.6 2.4M597.2 620.3l-5.2 -7l-5.2 2.1M575.9 616.5l-2.1 -8.4l-13.3 5.7M582.5 615l-2 -8.7l-0.8 -0.4l-5.5 1.7l-0.4 0.5M592 613.3l0.7 -4.2l-5 -4.2l-7.2 1.4M597.8 606.1l-5.1 3M602.2 607.1l-4.4 -1M574.2 607.6l-4.8 -7.8M579.7 605.9l-1.2 -8.7l-4.4 -3.2l-4.7 1.5M587.7 604.9l1.1 -7.7l-2.2 -1.8l-8.1 1.8M595.6 596l-6.8 1.2M597.8 606.1l-1 -9.3l-1.2 -0.8M606 595.4l-9.2 1.4M585.7 581.5l-0.9 -1.6M575.8 589.8l-1.7 4.2M586.6 595.4l-0.9 -13.9M595.6 596l0 -7.1l-9.9 -7.4M599.8 587l-4.2 1.9M606.6 591.3l-6.8 -4.3M562.6 591.4l5.4 -12.9M579.7 579.9l0.7 -1.9M599.8 587l2.3 -9.8M608.3 320.2l-10.9 1.6M609 326.4l-0.4 -5.9l-0.3 -0.3M619.3 325.6l0.6 -4.6l-2.1 -2.1l-9.2 1.6M630 324.8l0 -4.3l-0.8 -0.7l-9.3 1.2M639.4 318.1l-9.4 2.4M639.8 324l-0.4 -5.9M648.9 323.3l-0.9 -5.2l-8.3 -0.2M648.3 317.8l-0.3 0.3M652.7 316.9l-4.4 0.9M596.1 320l1.9 -8.9l-0.5 -0.5l-6.6 0.1M608.3 320.2l-1.6 -8.4l-8.7 -0.7M617.8 318.9l0.7 -7.3l-2.6 -2.1l-7.7 0.5l-1.5 1.8M629.2 319.8l-2.3 -9.6l-8.4 1.4M639.7 317.9l-1.9 -9.4l-1.6 -1.6l-8.7 2.4l-0.6 0.9M648.3 317.8l-0.6 -11.1l-9.9 1.8M647.8 306.7l-0.1 0M651.6 306.3l-3.8 0.4M597.5 310.6l-0.5 -8.1l-4.2 -2.8l-4.1 1.6M608.2 310l-1 -8.2l-3.3 -2.5l-6.9 3.2M615.9 309.5l1.8 -8l-3.8 -2.5l-6.7 2.8M627.5 309.3l-3.6 -9.5l-6.2 1.7M636.2 306.9l0.5 -7.3l-3.2 -2.7l-9 1.9l-0.6 1M647.8 306.7l-2.5 -10.2l-8.6 3.1M651 296.3l-5.1 -0.6l-0.6 0.8M593.5 290.8l-0.7 -0.9l-7.9 0.5M592.8 299.7l0.7 -8.9M603.7 292.4l-1.5 -1.3l-8.7 -0.3M603.9 299.3l-0.2 -6.9M613.9 299l-0.3 -9l-9.9 2.4M624.5 298.8l-2.4 -8.5l-8.4 -0.5M633.5 288.6l-10.3 0.5l-1.1 1.2M633.5 296.9l0 -8.3M634.4 287.3l-0.9 1.3M645.9 295.7l-1 -8.3l-1.3 -1l-9.2 0.9M650.6 285.7l-5.7 1.7M580.2 281.5l-2.3 2.3M592.8 289.9l0.2 -6.9l-2.8 -2.5l-10 1M602.2 291.1l1.3 -11l-1.8 -1.5l-8.7 4.4M613.7 289.8l-1.5 -9.2l-8.7 -0.5M614.1 278.6l-1.9 2M623.2 289.1l0.5 -10.5l-1.4 -0.8l-8.2 0.8M630.1 277.6l-6.4 1M634.4 287.3l-3.6 -9.2l-0.7 -0.5M643.6 286.4l-0.7 -10l-12.1 1.7M650.4 274.3l-7.2 1.6l-0.3 0.5M570.4 270.8l-1.8 -1.7l-9.2 1.4M570.7 278.1l-0.3 -7.3M580.2 281.5l2.1 -9.7l-4.4 -3l-7.5 2M589.5 269.4l-7.2 2.4M590.2 280.5l0.4 -10.2l-1.1 -0.9M600.2 271.3l-9.6 -1M601.7 278.6l-1.5 -7.3M610.1 267.9l-8.6 1.8l-1.3 1.6M614.1 278.6l-2.2 -9.6l-1.8 -1.1M622.3 277.8l-0.8 -10.7l-1.3 -1.1l-8.3 3M631.8 267.2l-10.3 -0.1M630.1 277.6l2 -10.1l-0.3 -0.3M643.2 275.9l-3.5 -9l-7.6 0.6M651.8 265.3l-0.8 -0.7l-9.2 -0.5l-2.1 2.8M568.6 269.1l-0.2 -6.6l-1.9 -1.8l-8.9 1.3M578.8 259.9l-1.9 -1.5l-8.5 4.1M577.9 268.8l0.9 -8.9M589.5 269.4l-0.5 -6.8l-2.9 -2.9l-7.3 0.2M601.5 269.7l-1.6 -10.2l-1.7 -1.2l-9.2 4.3M610 259.3l-2.4 -1.9l-7.7 2.1M610.1 267.9l-0.1 -8.6M620.2 266l0 -6.4l-2.2 -2l-8 1.7M631.8 267.2l-2.3 -10.3l-0.2 -0.2l-9.1 2.9M641.8 264.1l-1.1 -7.8l-0.2 -0.2l-11 0.8M651 264.6l0.4 -8.6l-2.4 -1.9l-8.3 2.2M655.2 255.1l-3.8 0.9M566.5 260.7l-1.1 -10.3M565.3 250.3l-8.4 2.9M576.9 258.4l-1.6 -6.8l-1.2 -1.1l-8.7 -0.1M587.8 251.5l-2.4 -2.2l-10.1 2.3M586.1 259.7l1.7 -8.2M598.2 258.3l-2 -8.2M596.1 250.1l-8.3 1.4M605.3 247.4l-9.1 2.7M607.6 257.4l0.5 -7.5l-2.8 -2.5M618 257.6l-0.5 -9.2l-9.4 1.5M629.3 256.7l-1.1 -8.8l-2 -1.5l-8.5 1.6l-0.2 0.4M640.5 256.1l-1.3 -8.6l-2.5 -1.6l-8.5 2M649 254.1l0.2 -7.5M648.1 244.3l-8.9 3.2M565.3 250.3l-1.9 -9.7l-1.7 -1.5M573.9 238l-10.5 2.6M574.1 250.5l2.5 -10.4l-2.7 -2.1M585.4 249.3l-0.6 -10.4l-8.2 1.2M596.1 250.1l-3.9 -17.8l-7.4 6.6M592.9 230.9l-0.7 1.4M605.3 247.4l0.8 -12.4l-13.2 -4.1M617.7 248l-3.3 -9.3l-6.3 -4.3l-2 0.6M626.2 246.4l0.2 -9.4l-1.1 -1.3l-10.9 3M636.7 245.9l0.3 -9.7l-10.6 0.8M639.8 233.3l-2.8 2.9M573.9 238l-0.8 -6.6l-2.6 -2.2l-5.4 0.8M592.9 230.9l-0.9 -2.9l-4.5 -3.2l-14.4 6.6M625.3 235.7l-0.7 -5.4M613.5 227.2l-5.4 7.2M570.5 229.2l1.7 -11.3M587.5 224.8l-7.6 -10.6M598.5 220l-6.5 8M648.3 467.6l-0.8 -0.9l-9.9 -2.5l-1.1 0.8M637.6 464.2l0.8 -7.3l-1.1 -1l-8.1 1.2M647.5 466.7l-0.9 -11l-0.9 -0.7l-7.3 1.9M655.3 463.8l-0.2 -7.8l-2.2 -1.5l-6.3 1.2M662.5 454.5l-7.4 1.5M637.3 455.9l-1.9 -7.8l-6 0.1l-4.8 3.5M645.7 455l-1.1 -6.4l-7.6 -1.9l-1.6 1.4M652.9 454.5l0.9 -7.3l-7.3 -0.8l-1.9 2.2M655.7 445.4l-1.9 1.8M662.9 446.8l-7.2 -1.4M629.4 448.2l-1.1 -8.9l-0.5 -0.5l-8.4 2.6l-1.6 2.4M637 446.7l0.7 -6.6l-0.5 -0.5l-8.9 -0.3M646.5 446.4l-0.6 -8l-0.2 -0.1l-8 1.8M655.7 445.4l-1.8 -6.3l-0.4 -0.3l-7.6 -0.4M664.2 435.8l-10.3 3.3M619.4 441.4l-0.6 -9.3l-3.8 0.2M627.8 438.8l-0.1 -6.3l-0.8 -1l-7.8 0.3M637.2 439.6l-1.5 -7.6l-8 0.5M637.5 429.6l-1.8 2.4M645.7 438.3l-0.5 -8l-7.7 -0.7M653.5 438.8l1 -9.2l-0.8 -0.7l-7.5 0.3l-1 1.1M662.6 430l-8.1 -0.4M665.1 431.7l-2.5 -1.7M618.3 423.3l-3.5 0M619.1 431.8l-0.8 -8.5M618.8 422.9l-0.5 0.4M626.9 431.5l1.1 -8.7M627.9 422.8l-9.1 0.1M637.5 429.6l-2.3 -7l-7.2 0.2M646.2 429.2l-1 -8.2l-8.9 0.4l-1.1 1.2M653.7 428.9l0.7 -8.3l-1.5 -1.3l-7.6 1.6l-0.1 0.1M662.6 430l-1.8 -9.8l-0.2 -0.1l-6.2 0.5M669.7 420.1l-8.9 0.1M609.8 416l-7.1 1.2M611.3 422.7l-1.5 -6.7M618.8 422.9l-0.2 -8.3M618.5 414.5l-8.2 0.7l-0.5 0.8M626.6 414l-8 0.6M627.9 422.8l-1.3 -8.8M636.3 421.4l0 -7.5l-1.1 -1.2l-8.3 0.9l-0.3 0.4M645.3 420.9l-1.2 -7.7l-7.8 0.7M652.9 419.3l-0.1 -6l-0.1 0l-8.1 -0.8l-0.5 0.7M660.6 420.1l1.1 -8.7l-8.9 1.9M669.6 412.4l-7.8 -1l-0.1 0M610.3 415.2l-1.4 -7.1l-8.6 1l-1.9 1.9M618.5 414.5l-0.9 -7.9l-8 0.4l-0.7 1.1M626.9 413.6l-0.8 -7.2l-0.9 -0.8l-7.5 0.9M635.2 412.7l0.6 -6.6l-1.3 -1.5l-8.4 1.8M644.6 412.5l0 -6.3l-0.7 -0.6l-8.1 0.5M652.7 413.3l-0.6 -8.4l-7.5 1.3M661.8 411.4l-1.4 -6.1l-7.7 -1.1l-0.6 0.7M669.3 401.9l-6.8 0.5l-2.1 2.9M600.3 409.1l0.2 -9.6l-10.6 -0.7M608.1 399.5l-0.6 -0.5l-6.6 0.2l-0.4 0.3M609.6 407l-1.5 -7.5M617.7 406.5l-0.5 -8.1l-1 -1l-8.1 2.1M625.2 405.6l0.1 -7.1l-8.1 -0.1M634.5 404.6l-0.2 -6.5l-7.4 -1.4l-1.6 1.8M643.9 405.6l-0.6 -8.5l-0.3 -0.2l-7.2 -0.2l-1.5 1.4M652.7 404.2l-0.8 -7.4l-8.6 0.3M652.8 395.7l-0.9 1.1M662.5 402.4l-2.6 -7.8l-0.3 -0.2l-6.8 1.3M668.4 392.8l-8.5 1.8M600.3 390.4l-8.5 1.1l-3.7 4.3M600.9 399.2l-0.6 -8.8M607.5 399l0.4 -8.4l-7 -0.9l-0.6 0.7M616.2 397.4l0.4 -6.1l-7.4 -1.8l-1.3 1.1M626.9 396.7l-1.5 -6.2l-1.1 -0.9l-6.6 0.7l-1.1 1M635.8 396.7l-0.6 -8.6l-1 -0.7l-8.8 3.1M644.1 387.7l-1 -0.9l-7.9 1.3M643 396.9l1.1 -9.2M652.8 395.7l-2.9 -7.9l-5.8 -0.1M659.5 386l-0.2 -0.3l-8.4 1.1l-1 1M659.6 394.4l-0.1 -8.4M667.7 385.4l-8.2 0.6M592.7 384l-2.7 -1.9M591.8 391.5l0.9 -7.5M600.9 389.7l-0.9 -7.8l-0.2 -0.2l-7.1 2.3M609.2 389.5l-0.1 -6.8l-2.2 -1.3l-6.9 0.5M617.7 390.3l-1.7 -8.7l-1 -0.8l-5.9 1.9M624.3 389.6l0.2 -8.1l-8.5 0.1M634.2 387.4l-1.6 -6.9l-7.6 0.4l-0.5 0.6M643.1 386.8l-0.3 -6.9l-1.9 -1.3l-8.1 1.6l-0.2 0.3M650.9 386.8l0 -8l-1.7 -1.5l-6.4 2.6M658.4 378.9l-7.5 -0.1M659.3 385.7l-0.9 -6.8M659.7 377.1l-1.3 1.8M666.9 376.5l-7.2 0.6M599.8 381.7l-1.6 -6.8l-3.2 -0.2M598.7 374l-0.5 0.9M606.9 381.4l0.8 -8.4l-1.4 -1.2l-7.6 2.2M615 380.8l0.6 -6.8l-0.7 -0.8l-7.2 -0.2M623.1 373.1l-7.5 0.9M625 380.9l-1.9 -7.8M632.8 380.2l-0.8 -8.5l-0.4 -0.3l-7.1 -0.1l-1.4 1.8M640.9 378.6l-0.8 -8.2l-8.1 1.3M649.2 377.3l0.2 -6.5l-0.1 -0.2l-8.9 -0.6l-0.3 0.4M659.7 377.1l-2.4 -6.9l-7.9 0.6M666 367.3l-8.7 2.9M598.7 374l-1.5 -9.6l-1.9 -1.4M606.3 371.8l0 -5.6l-2.1 -2l-7 0.2M614.9 373.2l-0.1 -8.3l-0.5 -0.5l-8 1.8M624.5 371.3l-1.7 -6.6l-8 0.2M631.6 371.4l0.2 -8.5l-1.4 -1.4l-6.6 1.5l-1 1.7M640.4 370l-0.6 -6.9M639.8 363.1l-8 -0.2M647.8 361.8l-8 1.3M649.3 370.6l-0.1 -7.5l-1.4 -1.3M657.3 370.2l-0.6 -9l-7.5 1.9M665.5 361.4l-7.8 -1.5l-1 1.3M604.2 364.2l2.3 -7.7l-3.6 -2.9M614.3 364.4l-0.9 -8l-0.5 -0.3l-6.4 0.4M623.8 363l-2.9 -7.9l-7.5 1.3M630.4 361.5l0.9 -6.2l-1.1 -1.3l-8 -0.5l-1.3 1.6M639.8 363.1l-0.4 -8l-0.6 -0.5l-7.5 0.7M647.5 354.5l-0.6 -0.4l-7.5 1M647.8 361.8l-0.3 -7.3M657.7 359.9l-1.7 -6.7l-8.5 1.3M664.4 350.3l-8.3 2.7M612.9 356.1l-0.4 -8.7l-1.9 -2M622.2 353.5l-0.7 -6.4l-0.4 -0.6l-8.6 0.9M630.9 346.1l-9.4 1M630.2 354l1 -7.7l-0.3 -0.2M638.5 346.6l-2 -1.6l-5.3 1.3M638.8 354.6l-0.3 -8M646.9 354.1l-0.9 -8.2l-7.5 0.7M656.1 353l-2.2 -8.7l-7.1 0.6l-0.8 1M656.8 340.5l-2.9 3.8M621.1 346.5l0.2 -7.1l-1.7 -1.1l-7.1 -0.1l-2.9 3.9M627.4 338.1l-0.7 -0.4l-5.4 1.7M630.9 346.1l-3.5 -8M636.5 345l1 -6.9l-0.6 -0.7l-9.5 0.7M646.8 344.9l-2 -7l-7.3 0.2M646.9 335.1l-2.1 2.8M655.8 335.9l-8.9 -0.8M612.5 338.2l-1.9 -6.5l-6.7 -0.2M619.6 338.3l0.1 -8.9l-0.9 -0.7l-7.6 2.2l-0.6 0.8M626.7 337.7l1.3 -8.1l-8.3 -0.2M636.9 337.4l-0.6 -8.1l-7.6 -0.4l-0.7 0.7M646.9 335.1l-1.8 -5.5l-1.7 -1.2l-6.6 0.5l-0.5 0.4M653.8 326.1l-8.7 3.5M611.2 330.9l-0.7 -4.6M618.8 328.7l-0.1 -3M628.7 328.9l-0.9 -4M636.8 328.9l-0.2 -4.6M643.4 328.4l1.1 -4.8M673.3 436.4l-0.1 -0.1l-9.1 0.3M674.5 442.6l-1.2 -6.2M681.2 444.8l-0.7 -8.7l-7.2 0.3M688 436.1l-6.6 -0.9l-0.9 0.9M688.1 443l-0.1 -6.9M695.5 434.4l-6 0l-1.5 1.7M696.6 439.9l-1.1 -5.5M705.9 434.5l-1.4 -1.1l-8.3 0.2l-0.7 0.8M673.2 436.3l1.1 -7.6l-0.8 -0.7l-7 0.8M681.4 435.2l-0.8 -6.8l-6.3 0.3M689.5 434.4l-2.1 -6.9l-6.5 0.6l-0.3 0.3M687.9 426.9l-0.5 0.6M696.2 433.6l-0.1 -6.9l-8.2 0.2M704.5 433.4l-2.2 -8l-6.1 1.2M703.6 423.8l-1.3 1.6M711 424.9l-7.4 -1.1M673.5 428l-0.7 -6l-3.1 -0.3M674.1 420.5l-1.3 1.5M680.9 428.1l-0.8 -7.6l-6 0M687.9 426.9l0.2 -7l-6.8 -0.6l-1.2 1.2M696.2 426.6l-1.8 -7.8l-6.3 1.1M703.6 423.8l-0.8 -4.3l-7.9 -1.3l-0.5 0.6M711.5 417.3l-7.5 0l-1.2 2.2M713.8 419.3l-2.3 -2M674.1 420.5l-1.4 -6.4l-3.1 0.5M672.9 413.8l-0.2 0.3M681.3 419.3l-0.9 -6.2M680.3 413l-7.4 0.8M688.1 419.9l-0.8 -7.8l-0.9 -0.8l-6 1.8M694.9 418.2l0.4 -6.4l-8 0.3M704 417.3l-1.1 -6.2l-0.7 -0.4l-6.4 0.5l-0.5 0.6M708.9 409.4l-6 1.7M711.5 417.3l-1.3 -7l-1.3 -0.9M717.1 409.2l-6.9 1.1M719.9 411.7l-2.8 -2.5M672.1 407l-2.5 0.1M672.9 413.8l-0.8 -6.8M678.4 405l-5.4 0.9l-0.9 1.1M680.3 413l-1.9 -8M686.4 411.3l0.2 -6.4l-8.1 0M695.8 411.2l-2.2 -7l-6 -0.3l-1 1M702.2 410.7l-0.3 -7.7l-7.8 0.7l-0.5 0.5M708.9 409.4l0.5 -6.9l-6.5 -0.7l-1 1.2M717.1 409.2l-0.8 -6.7l-6.4 -0.4l-0.5 0.4M717.7 401.3l-1.4 1.2M725.4 402.5l-7.7 -1.2M670.2 398.6l-1.3 -1M673 405.9l-2.8 -7.3M678.5 404.9l0.3 -7l-8.6 0.7M687.6 403.9l-1.4 -5.6l-6.9 -1l-0.5 0.6M694.1 403.7l1 -7.5l-0.9 -0.9l-6.4 0.6l-1.6 2.4M702.9 401.8l-1.6 -5.7l-6.2 0.1M709.9 402.1l-0.3 -7.6l-0.5 -0.5l-7.1 1.2l-0.7 0.9M717.7 401.3l-0.3 -6.8l-7.8 0M724.2 393l-6.8 1.5M679.3 397.3l-0.8 -6.1l-8.2 0.6l-1.8 1.7M687.8 395.9l-2.1 -6l-7.1 1.1M694.2 395.3l-0.1 -6.8l-0.6 -0.6l-6.9 0.6l-0.9 1.4M702 395.2l-1 -7.4l-0.5 -0.3l-6.4 1M709.1 394l0 -5.8l-1.4 -1.3l-6.7 0.9M717.4 394.5l-1.5 -8.2l-0.1 -0.1l-6.7 2M723.3 385.6l-7.4 0.7M670.3 391.8l0.1 -8.1l-2.8 0.1M678.6 391l-1 -7.3l-6.6 -0.6l-0.6 0.6M686.6 388.5l-1.6 -6.5l-7.3 1.5M693.1 381.7l-7.7 -0.3l-0.4 0.6M693.5 387.9l-0.4 -6.2M700.3 379.8l-6.6 1l-0.6 0.9M700.5 387.5l-0.2 -7.7M707.7 386.9l-0.3 -6.6l-7 -0.7l-0.1 0.2M715.8 386.2l-1.1 -6.5l-6.1 -0.5l-1.2 1.1M722.4 378.9l-6.6 -0.3l-1.1 1.1M671 383.1l-0.7 -6.5l-3.7 -2.9M677.7 383.5l-0.1 -8.6M677.5 374.8l-7.2 1.8M685.4 381.4l-0.4 -5.8l-7.4 -0.7M685.9 374.6l-0.9 1M693.7 380.8l-2 -6.5l-5.8 0.3M700 374l-7 -1l-1.3 1.3M700.4 379.6l-0.4 -5.6M708.6 379.2l-0.7 -7l-7.5 1.3l-0.4 0.5M715.8 378.6l-0.1 -7.1l-0.6 -0.5l-6.6 0.2l-0.6 1M721.4 370.8l-5.7 0.7M677.5 374.8l-0.7 -6.4l-10.7 -0.7M685.9 374.6l-1 -6.8l-1.5 -1.1l-6.1 1.2l-0.5 0.5M693 373l0 -7.1l-0.7 -0.5l-7.4 2.4M698.7 365.1l-5.7 0.8M700.4 373.5l-0.7 -7.8l-1 -0.6M708.5 371.2l-2.1 -6.2l-0.4 -0.4l-6.3 1.1M715.1 371l0 -7.2l-0.7 -0.6l-8 1.8M720.5 362.8l-5.4 1M677.3 367.9l-1.3 -8l-8 2l-2.2 2.7M683.4 366.7l0.2 -7.7l-7.1 0.3l-0.5 0.6M692.3 365.4l-1.9 -6.3l-6.7 -0.1M698.7 357.8l-7.3 0l-1 1.3M698.7 365.1l0 -7.3M706 364.6l0.3 -7l-0.6 -0.7l-6 -0.2l-1 1.1M714.4 363.2l-1.2 -6l-6.9 0.4M714.7 355.4l-1.5 1.8M719.5 355.4l-4.8 0M668 361.9l0 -7.8l-1.2 -1.1l-2.1 0.3M676.5 359.3l-1.6 -6.1l-6.9 0.9M683.7 359l-0.4 -7.5l-8.3 1.4M691.4 357.8l0 -6.4l-1.3 -1.3l-6.7 1.4M699.7 356.7l-1.7 -5.9l-6.6 0.6M705.7 356.9l0.7 -6.7l-1.5 -1.5l-6.6 1.6l-0.3 0.5M714.7 355.4l-2.2 -6.1l-6.1 0.9M718.6 347.9l-5.3 0l-0.8 1.4M675 352.9l-0.3 -3.1M683.4 351.5l-1.8 -5.1M690.1 350.1l0.3 -5.2l-1 -0.9l-5.2 0M697 342.4l-6.6 2.5M698.3 350.3l-1.3 -7.9M704.9 348.7l-0.4 -5.9l-4.3 -4M699.6 338.8l-2.6 3.6M713.3 347.9l-0.8 -6.3M712.4 341.6l-7.9 1.2M717.7 340.8l-5.2 0.8M689.4 344l-0.7 -4.4M712.4 341.6l-0.5 -3.7M695.8 333.1l-8.3 0.6M696.9 339l-1.1 -5.9M696.4 332.4l-0.6 0.7M704.9 338.4l-0.1 -5.8l-0.4 -0.4l-8 0.2M712.5 331.3l-7.7 1.3M713.8 337.8l-1.3 -6.5M712.7 330.9l-0.2 0.4M721.6 336.9l-0.5 -6.7M720.8 329.9l-8.1 1M729.2 329.4l-8.1 0.8M730.4 335.4l-1.2 -6M729.5 328.9l-0.3 0.5M738.6 334.1l-1.3 -6.8M737.3 327.3l-7.8 1.6M745 326l-7.7 1.3M747.2 327.7l-2.2 -1.7M695.7 325l-0.8 -0.6l-6.8 1.1M696.4 332.4l-0.7 -7.4M703.7 323.9l-0.5 -0.3l-7.5 1.4M704.4 332.2l-0.7 -8.3M710.9 322.5l-7.2 1.4M712.7 330.9l-1.3 -8l-0.5 -0.4M720.8 329.9l-0.7 -7.7M719.8 321.9l-8.4 1M727.6 320.7l-7.5 1.5M729.5 328.9l-1.8 -8.2M737.3 327.3l-1.3 -7.6M735.9 319.6l-8.2 1.1M745 326l-0.6 -7.8l-8.4 1.5M751.4 317.9l-6.9 0.2M694.9 324.4l-0.5 -8l-0.2 -0.2l-7.5 1.1M703.2 323.6l-1.6 -8.2l-7.2 1M710.6 315.1l-8.5 -0.3l-0.5 0.6M710.9 322.5l-0.3 -7.4M719.8 321.9l-1.3 -7.9l-7.3 0.4l-0.6 0.7M718.9 313.6l-0.4 0.4M727.6 320.7l-0.8 -7.7l-7.9 0.6M727.1 312.6l-0.3 0.4M735.9 319.6l-0.9 -7.9l-7.9 0.9M744.5 318.1l-1.3 -7.8l-7.8 0.9l-0.4 0.5M754.5 311.2l-2 -1.7l-9.1 0.5l-0.2 0.3M694.2 316.2l-1.4 -7.8l-0.1 -0.1l-7.5 1.1M702.1 314.8l-0.3 -7.5l-0.3 -0.2l-8.7 1.3M711.2 314.4l-1.1 -7.4l-0.9 -0.6l-7.4 0.9M718.9 313.6l-0.6 -8.2l-0.6 -0.4l-7.6 2M725.8 304.6l-7.5 0.8M727.1 312.6l-1.3 -8M735.4 311.2l-1.8 -7.7l-7 0.1l-0.8 1M743.4 310l-0.5 -8.2l-0.4 -0.3l-8.3 1.2l-0.6 0.8M752.5 309.5l-1.3 -8.8M751.2 300.7l-8.3 1.1M755.7 300.3l-4.5 0.4M692.7 308.3l-0.8 -8.5l-8.4 1.1M701.5 307.1l-1.2 -7.2l-0.6 -0.5l-7.8 0.4M709.2 306.4l-0.4 -8.4l-0.5 -0.4l-8 2.3M717.7 305l-1.4 -7.6M716.3 297.3l-7.5 0.7M724.1 295.6l-7.8 1.8M726.6 303.6l-1.3 -7.1l-1.2 -0.9M732.9 294.2l-7.6 2.3M734.2 302.7l-0.9 -8.2l-0.4 -0.3M742.5 301.5l-1 -7.8l-8.2 0.8M751.2 300.7l-0.6 -7.5l-1.5 -1.1l-7.4 1.3M754.1 292.2l-3.5 1M691.9 299.8l-0.6 -8.1l-9.2 1M699.1 290.4l-7.5 0.8l-0.3 0.5M699.7 299.4l-0.2 -8.7l-0.4 -0.3M708.3 297.6l-1.6 -7.6l-7.2 0.7M716.3 297.3l-1.1 -8.4l-7.9 0.4l-0.6 0.7M724.1 295.6l-0.5 -7.8l-8 0.7l-0.4 0.4M731.6 287.4l-7.9 0.3l-0.1 0.1M732.9 294.2l-1.3 -6.8M741.7 293.4l-1.5 -7.5l-8.1 0.9l-0.5 0.6M748 283.6l-7.5 1.8l-0.3 0.5M749.1 292.1l0 -7.8l-1.1 -0.7M751.8 284l-2.7 0.3M689.9 283.7l-0.3 -0.2l-7.1 1.3M691.6 291.2l-1.7 -7.5M698.3 282.7l-1.2 -0.8l-7.2 1.8M699.1 290.4l-0.8 -7.7M707.3 289.3l-0.8 -7.8l-0.4 -0.3l-7.8 1.5M715.6 288.5l-0.9 -7.9l-0.8 -0.6l-7.4 1.5M723.7 287.7l-0.7 -8l-8.3 0.9M732.1 286.8l-0.2 -1.4M728.1 278.8l-4.9 0.5M740.5 285.4l-1 -3.9M748 283.6l-0.9 -7.2M689.6 283.5l-1.1 -7.7l-0.9 -0.6l-4.7 0.9M696.2 274.2l-7.7 1.6M697.1 281.9l-0.4 -7.3l-0.5 -0.4M706.1 281.2l-1.6 -7.2l-7.8 0.6M713.9 280l-0.1 -7.8l-0.5 -0.5l-8.7 2.2M723.2 279.3l-1.6 -7.5l-0.6 -0.4l-7.2 0.8M729 269.5l-7.4 2.3M687.2 267.1l-1.4 -0.9M687.6 275.2l-0.4 -8.1M695.4 267l-1 -0.8l-7.2 0.9M696.2 274.2l-0.8 -7.2M704.6 273.9l-1 -8.2M703.3 265.5l-7.9 1.5M713.3 271.7l-1.6 -7M711.5 264.5l-7.9 1.2M720.4 262.7l-0.3 -0.3l-8.4 2.3M721 271.4l-0.6 -8.7M727.6 262.2l-7.2 0.5M730.9 264.7l-3.3 -2.5M694.4 266.2l0.1 -7.6l-2.6 -2.1M703.3 265.5l-1.2 -7.7l-0.9 -0.7l-6.7 1.5M711.5 264.5l-1.2 -8.3l-8.2 1.6M720.1 262.4l-1.4 -7.2l-8.4 0.9M727.6 262.2l-0.2 -8.2l-1.2 -0.9l-7.3 1.8l-0.2 0.3M731.6 253.4l-4.2 0.6M701.2 257.1l-0.4 -8l-3.1 -2.1M710.3 256.1l-1.4 -8.1l-0.3 -0.2l-7.8 1.3M717.1 247l-8.2 1M718.9 254.9l-1.8 -7.9M726.2 253.1l-0.6 -8l-8 1.2l-0.5 0.7M727.2 243.1l-1.6 2M708.6 247.8l-0.5 -7.8l-0.5 -0.4l-6.9 0.7M717.6 246.3l-1.7 -8.1l-7.8 1.8M707.6 239.6l-0.8 -5.1M659.3 240.4l-6.6 -3.8l-5.8 5.3M658.2 252.9l1.1 -12.5M666.8 238l-7.5 2.4M646.7 229.5l-12.4 2.7M652.7 236.6l-0.9 -5.1l-5.1 -2M665.9 226.5l-8.5 -1.9l-5.6 6.9M668.4 234.9l-2.5 -8.4M677.9 222.7l-10 1.7l-2 2.1M679 227.2l-1.1 -4.5M680.1 219l-2.2 3.7M690.5 222.4l-10.4 -3.4M609.6 226.1l-0.5 -4.5l-7.5 -3M619.7 228.9l3.2 -10.5l-6.5 -6.6M615.3 212.2l-6.2 9.4M634.3 232.2l-0.3 -13.5l-11.1 -0.3M646.7 229.5l-3.2 -13.5l-8.3 1.3l-1.2 1.4M657.4 224.6l-3 -9.8M648.9 212.4l-5.4 3.6M667.9 224.4l-0.1 -8.5M680.1 219l-1 -5.3M692.6 221.4l-1.7 -11M702.4 219.6l0.6 -9.8M635.2 217.3l-3 -9.9M746 411.1l-0.7 0.7M755.7 412.4l-1.8 -1.7l-7.9 0.4M770.1 408.3l-7.9 1.5l-0.7 0.9M771.9 416.2l-1.8 -7.9M782.2 408.4l-1.5 -1.4l-9.6 -0.2l-1 1.5M746 411.1l-0.2 -8.4l-1 -0.8l-7.3 1.7l-1.7 3.1M753.9 410.7l-1 -7.8l-7.1 -0.2M762.2 409.8l-1.4 -8.5l-6.3 -0.1l-1.6 1.7M771.1 406.8l-1.7 -6.7l-7.4 0.1l-1.2 1.1M771 397.9l-1.6 2.2M780.7 407l-1.4 -8.6l-8.3 -0.5M788.4 396.2l-7.6 0.3l-1.5 1.9M789 396.5l-0.6 -0.3M727.9 396.6l-3.2 0.6M728.3 405.1l-0.4 -8.5M737.5 403.6l-3 -7.8l-5.6 -0.3l-1 1.1M736.7 393.5l-2.2 2.3M744.8 401.9l0.2 -7.3l-8.3 -1.1M754.5 401.2l-1.9 -8.1l-7 0.9l-0.6 0.6M762 400.2l-1 -8.9l-8.4 1.7M771 397.9l-0.9 -6.2l-1.2 -1.1l-6.9 -0.6l-1 1.3M779 388.8l-0.4 -0.2l-8.5 3.1M780.8 396.5l-1.8 -7.7M788.4 396.2l-2.2 -9.1l-7.2 1.7M794.2 387.9l-6.9 -2.1l-1.1 1.3M728.9 395.5l-2.4 -6.9l-2.8 0.1M736.7 387.4l-8.9 -0.8l-1.3 2M736.7 393.5l0 -6.1M744.1 385.6l-6.6 0.7l-0.8 1.1M745.6 394l-1.5 -8.4M752.6 393l-0.9 -7.8l-7 -0.2l-0.6 0.6M762 390l-1.4 -5.2l-7.1 -1.7l-1.8 2.1M768.9 390.6l1.4 -9.5l-8.8 2.3l-0.9 1.4M778.6 388.6l-1.9 -7.1l-6 -0.7M787.3 385.8l-0.1 -5l-1.5 -1.4l-8.8 1.9l-0.2 0.2M794.9 378.5l-7.7 2.3M727.8 386.6l-0.3 -6.6l-0.9 -0.7l-4.1 0.1M735.4 378.3l-7.9 1.7M737.5 386.3l-2.1 -7.9M744.7 385l-0.5 -7.5l-8.8 0.9M753.5 383.1l-1 -6.5M752.3 376.4l-7.6 0.5l-0.5 0.6M761.5 383.4l-0.4 -8.5l-0.9 -0.5l-7.7 2.2M770.7 380.8l-2.5 -6.7M768 374l-6.9 0.9M776.9 381.3l1.2 -9.1l-1.7 -1.1l-8.2 3M785.7 379.4l-1 -7.7l-6.6 0.5M785.3 370.9l-0.6 0.8M795.3 369.5l-10 1.4M725.3 370.2l-3.8 0.9M726.6 379.3l0 -8l-1.3 -1.1M733.7 369.7l-7.1 1.6M735.4 378.3l-0.3 -7.5l-1.4 -1.1M742.8 369l-7.7 1.8M744.7 376.9l-1.9 -7.9M751 367.5l-7.9 1.1l-0.3 0.4M752.3 376.4l-1.3 -8.9M760.2 374.4l-1.5 -7.7l-7 0l-0.7 0.8M767.3 365.5l-6.9 -0.6l-1.7 1.8M768 374l-0.7 -8.5M776.4 371.1l-1.3 -7.1l-6.2 -0.1l-1.6 1.6M785.3 370.9l-1.9 -7.7l-7.9 0.4l-0.4 0.4M784.7 361.2l-1.3 2M793.1 360.2l-8.4 1M805.1 358l-6.3 -0.8M725.3 370.2l-0.9 -7.4l-3.9 0.6M733 362.7l-7.6 -1.2l-1 1.3M733.7 369.7l-0.7 -7M743.1 368.6l-1.8 -7.9l-5.7 -0.3l-2.6 2.3M751.7 366.7l-1.3 -7.3l-7.3 -0.5l-1.8 1.8M760.4 364.9l-1.2 -6.9l-8.4 1l-0.4 0.4M768.9 363.9l-1.8 -7.6l-6.9 0.1l-1 1.6M775.5 363.6l0.4 -7.5l-8.2 -0.4l-0.6 0.6M784.7 361.2l-2.5 -6.5l-4.8 -0.2l-1.5 1.6M783.7 353.1l-1.5 1.6M791.1 352.9l-7.4 0.2M805.2 350.8l-4.3 1.5l-1.8 3M725.4 361.5l-0.8 -6.3l-5.2 -0.6M735.6 360.4l-2.3 -7.8l-7.7 1.3l-1 1.3M741.6 350.9l-7.6 0.7l-0.7 1M743.1 358.9l-0.6 -7l-0.9 -1M750.8 359l0.2 -7.9l-0.6 -0.4l-7.9 1.2M758.4 350l-7.4 1.1M760.2 356.4l-1.8 -6.4M767.7 355.7l0.8 -7.5l-0.3 -0.3l-9.4 1.2l-0.4 0.9M774.9 347.9l-6.4 0.3M777.4 354.5l-2.5 -6.6M782.4 344.7l-6.3 1.6l-1.2 1.6M783.7 353.1l-0.1 -7.6l-1.2 -0.8M792.4 352.6l-1.1 -7.7l-7.7 0.6M800.9 352.3l-1.3 -9.2l-7.6 0.8l-0.7 1M803.7 342.2l-3.2 0l-0.9 0.9M725.6 353.9l-1.6 -8.8l-5.7 0.6M734 351.6l-1.4 -7.6l-0.4 -0.2l-7.7 0.8l-0.5 0.5M742.3 343.4l-1.4 -1.2l-8.3 1.8M741.6 350.9l0.7 -7.5M750.4 350.7l-1.3 -7.8l-6.8 0.5M758.8 349.1l-1.5 -9.6M752.2 340l-3.1 2.9M768.2 347.9l-2 -9.5M776.1 346.3l-2.8 -8.9l-0.6 -0.4M782.4 344.7l-0.3 -6.7l-8.8 -0.6M792 343.9l-1.9 -7.9l-0.5 -0.4l-6.1 0.8l-1.4 1.6M800.5 342.2l-1.3 -7.7l-9.1 1.5M801.7 330.2l-2.5 4.3M724.5 344.6l-1.2 -8M732.2 343.8l-0.5 -8.6M740.9 342.2l-0.6 -8.4M783.5 336.4l-1.8 -4.2M789.6 335.6l0.5 -8M801.3 328l-10.6 -0.8M655.4 481.3l-0.2 -4.4l-1.9 -0.6l-9.1 5.9M661.9 480.7l-4.4 -4.2l-2.3 0.4M645.3 473.1l-4.2 -2.9M644 482.2l1.3 -9.1M653.3 476.3l-0.9 -2.9l-4.7 -2.5l-2.4 2.2M657.5 476.5l3.8 -5.6l-6 -2.7l-2.9 5.2M665.3 472.8l-3.5 -2.1l-0.5 0.2M666.8 476.1l-1.5 -3.3M674.7 471.1l-4.2 -2.3l-5.2 4M673.5 475.6l1.2 -4.5M680.5 475l-2.8 -4.5l-2.5 0.3l-0.5 0.3M684.6 474.7l0.7 -5.7l-2.8 -1.8l-4.8 3.3M691.4 474.1l-0.1 -4.4l-1.5 -1.4l-4.5 0.7M698.5 473.6l-0.6 -3.3l-6.6 -0.6M704.3 467.1l-0.4 -0.1l-5.1 2.1l-0.9 1.2M704.7 473.1l-0.4 -6M710.9 467.8l-2.7 -1.4l-3.9 0.7M712.6 472.3l-1.7 -4.5M717.8 463.9l-1.3 -0.6l-5.6 4.5M719.9 471.5l-2.1 -7.6M723 471.2l1.5 -6.6l-2.2 -1.7l-4.5 1M732.1 466.4l-4.4 -2.2l-3.2 0.4M731.9 470.2l0.2 -3.8M735.4 463.4l-0.5 0.1l-2.8 2.9M740.8 469.3l-5.4 -5.9M744.2 464.3l-3.2 -3.3l-5.6 2.4M743.6 469l0.6 -4.7M753.8 467.9l-3 -5.5l-6.6 1.9M758.3 466.8l1.1 -6.1l-4 -2.7l-4.3 3.1l-0.3 1.3M762.8 459.6l-3.4 1.1M766.3 460.5l-3.5 -0.9M647.7 470.9l0.3 -3.2M655.3 468.2l-1.2 -2.3l-0.6 -0.5M661.8 462.9l-7.7 3M661.8 470.7l1.9 -6.6l-1.9 -1.2M664.4 463.8l-0.7 0.3M670.5 468.8l-0.8 -3.3l-5.3 -1.7M675.2 462.7l-1.7 -0.8l-3.8 3.6M675.2 470.8l0 -8.1M682.3 466.8l-3.8 -4l-3.3 -0.1M689.8 468.3l2 -5.7l-0.9 -1.1l-5.2 -1.2l-3.4 6.5M698.8 469.1l-3.5 -6.8l-3.5 0.3M703.9 467l-2.7 -6l-2.2 -1.5l-3.7 2.8M708.2 466.4l0.5 -6.9l-2.2 -0.6l-5.3 2.1M715.3 459.4l-3.6 -2.1l-3 2.2M716.5 463.3l-1.2 -3.9M722.3 462.9l0.7 -4.3l-3 -2.6l-4.7 3.4M727.7 464.2l0.3 -6.3l-1.2 -0.5l-3.8 1.2M734.9 463.5l-2.6 -6.5l-4.3 0.9M732.8 456l-0.5 1M741 461l0.6 -3.1l-2.6 -1.8l-6.2 -0.1M745.9 454.5l-4.3 3.4M751.1 461.1l-4.9 -6.4M755.4 458l0.8 -4.6l-4.3 -0.9l-5.7 2.2M762.8 459.6l-2 -6.4l-2.7 -1.5l-1.9 1.7M769.1 458.4l-2.7 -5.5l-5.6 0.3M775 453.8l-3.3 -4.1l-4.5 1.3l-0.8 1.9M661.8 462.9l-2.1 -3.4M664.4 463.8l3.2 -6.5l-5.1 -1.9M673.5 461.9l-1.6 -5l-2.4 -0.3l-1.9 0.7M678.5 462.8l2.5 -5.3l-7.7 -1.9l-1.4 1.3M685.7 460.3l-2.4 -3.7l-0.5 -0.2l-1.8 1.1M689.5 453.7l-6.2 2.9M690.9 461.5l0.5 -6.8l-1.9 -1M699 459.5l-0.2 -4.6l-3.5 -1.3l-3.9 1.1M706.5 458.9l-2.7 -4.8l-3.4 -0.5l-1.6 1.3M709.7 451.3l-5.9 2.8M711.7 457.3l-0.4 -4.5l-1.6 -1.5M720 456l0.1 -4l-3.1 -1.3l-5.7 2.1M726.8 457.4l-1.1 -5.3l-4.6 -0.6l-1 0.5M732.8 456l-0.3 -5.4l-3.1 -1l-3.7 2.5M739 456.1l-1.1 -6.5l-4 0.1l-1.4 0.9M745.9 454.5l-1.9 -5.6l-2.7 -1.1l-3.4 1.8M751.9 452.5l-1.5 -6.3l-2 -0.6l-4.4 3.3M758.1 451.7l0.2 -2.6l-4.3 -3.5l-3.6 0.6M760.1 447.3l-1.8 1.8M767.2 451l-1.8 -3.9l-5.3 0.2M771.7 449.7l0.7 -3.5l-5.5 -1.4l-1.5 2.3M774 444.9l-1.6 1.3M779.1 449.6l-5.1 -4.7M782.3 442.7l-7.8 0.4l-0.5 1.8M783.8 444.2l-1.5 -1.5M669.5 456.6l-2.9 -7.4M666.4 449.1l-3.7 2.3M673.3 455.6l1.8 -5.4l-4.6 -2.5l-3.9 1.5M682.8 456.4l-1.5 -5.4l-3.9 -2l-2.3 1.2M687.9 448l-1.2 -0.2l-5.4 3.2M689.5 453.7l-1.6 -5.7M695.3 453.6l-1.1 -5.9l-3.5 -1.4l-2.8 1.7M700.4 453.6l0.8 -6l-2.9 -1.9l-4.1 2M705.2 446l-4 1.6M709.7 451.3l-1 -3.4l-3.5 -1.9M716.3 446.2l-6.3 0.5l-1.3 1.2M717 450.7l-0.7 -4.5M717.8 442.3l-1.5 3.9M721.1 451.5l1.3 -4.7l-4.6 -4.5M729.4 449.6l-1.9 -3.9l-1.3 -0.7l-3.8 1.8M733.9 449.7l0.1 -6.4l-1.8 -1.7l-4.7 4.1M740.5 445l-3.1 -2.1l-3.4 0.4M741.3 447.8l-0.8 -2.8M748.4 445.6l-0.4 -4l-4.9 -2.3l-2.6 5.7M751.3 438l-3.3 3.6M754 445.6l1.5 -5.6l-4.2 -2M760.1 447.3l0.5 -7.1l-1.7 -1.2l-3.4 1M766.2 440.1l-0.5 -0.1l-5.1 0.2M766.9 444.8l-0.7 -4.7M774.5 443.1l-1.4 -3.9l-3.6 -1.2l-3.3 2.1M782.3 442.7l-1.4 -4.9l-4.9 -0.9l-2.9 2.3M782.8 435.1l-1.9 2.7M666.4 449.1l-1.9 -3.6M670.5 447.7l0.2 -4l-0.8 -1.2M677.4 449l0.8 -5.2M686.7 447.8l-2.2 -3.5M690.7 446.3l0.7 -4.5M698.3 445.7l-0.6 -3.9l-1.5 -1.8M705.2 446l-0.1 -4.3l-1.8 -1l-5.6 1.1M710 446.7l2.7 -6.9l-3.3 -1.6l-4.3 3.5M717.8 442.3l-0.2 -1.4l-2.4 -1.2l-2.5 0.1M724.2 439.2l-2.6 -0.3l-4 2M726.2 445l-2 -5.8M732.2 441.6l-0.6 -4l-4.4 -0.2l-3 1.8M738 436.9l-3.6 -1.9l-2.8 2.6M737.4 442.9l0.6 -6M742.1 437.2l-4.1 -0.3M743.1 439.3l-1 -2.1M750.4 434.3l-2.2 -0.8l-5.2 2.4l-0.9 1.3M751.3 438l-0.9 -3.7M752.4 432.6l-2 1.7M758.9 439l0.1 -5.2l-6.6 -1.2M765.7 440l-3.1 -8.2l-1.7 -0.4l-1.9 2.4M769.5 438l-0.4 -3.6l-2.9 -2.8l-3.6 0.2M776 436.9l0.1 -4.7l-2.1 -2.1l-4.9 4.3M779.2 431.7l-3.1 0.5M703.3 440.7l-0.9 -2.9M709.4 438.2l-1.4 -4l-1.5 -0.8M715.2 439.7l0.5 -6.2l-3.6 -2l-4.1 2.7M719.9 430.9l-4.2 2.6M721.6 438.9l-1.3 -7.7l-0.4 -0.3M727.2 437.4l-1.8 -7.1l-5.1 0.9M734.4 435l0 -4l-4.2 -2.5l-4.7 1.7l-0.1 0.1M735.5 430.1l-1.1 0.9M743 435.9l-1.7 -6.1l-5.8 0.3M748.2 433.5l-1.2 -2.9l-4.2 -2.2l-1.5 1.4M753.2 429.2l-4 -3l-2.2 4.4M752.4 432.6l0.8 -3.4M760.9 431.4l-1 -3.4l-3 -1.8l-3.7 3M766.2 431.6l3 -7M769.2 424.5l-5.1 -0.1l-4.2 3.6M773.4 426.6l-4.2 -2M774 430.1l-0.6 -3.5M775.7 425.4l-2.3 1.2M712.1 431.5l1 -5.9l-1.4 -2M719.9 430.9l-1.7 -3.5l-5.1 -1.8M725.5 430.2l-1.8 -5.7l-1.5 -1.7l-4 4.6M730.2 428.5l-0.3 -3.7l-6.2 -0.3M735.5 430.1l1.3 -5.1l-3.6 -3.8l-3.1 2.7l-0.2 0.9M740.9 423.1l-4.1 1.9M742.8 428.4l0.4 -4l-2.3 -1.3M749.2 426.2l-0.8 -3.3l-0.5 -0.3l-4.7 1.8M755.6 422.3l-7.2 0.6M756.9 426.2l-1.3 -3.9M756.3 421l-0.7 1.3M764.1 424.4l-2.2 -3.4l-2.4 -1.4l-3.2 1.4M769.2 424.5l0.2 -2.8l-2.6 -4l-4.9 3.3M773.4 418.1l-4 3.6M722.2 422.8l0 -1.7l-7.1 -4.1M730.1 423.9l-5 -4.5l-2.9 1.7M733.2 421.2l0.4 -1.6l-2.7 -2.8l-4.9 0.9l-0.9 1.7M740.9 423.1l-1.3 -4.5l-1.7 -0.8l-4.3 1.8M747.9 422.6l-0.8 -7.9l-7.5 3.9M747.7 413.1l-0.6 1.6M756.3 421l-3.9 -7.6M759.5 419.6l3.4 -9.3M766.8 417.7l-1.2 -6.1M726 417.7l-1.7 -4.9l-5 -0.5M725.7 411.3l-1.4 1.5M730.9 416.8l1.3 -5.9l-6.5 0.4M737.9 417.8l-0.9 -7l-4.6 0l-0.2 0.1M739.8 408.9l-2.8 1.9M725.7 411.3l-0.7 -5.1M732.4 410.8l-1.8 -6M633 521.1l-7.6 -3.8M632.9 522.5l0.1 -1.4M641.5 519.4l-5.3 -1.2l-3.2 2.9M642.7 521.7l-1.2 -2.3M657.5 516.7l-4.6 3.1l-0.4 1.2M664.4 520.1l-6.9 -3.4M708 512.5l-3.6 -1.2l-5.7 5.6M708.9 515.9l-0.9 -3.4M715.5 512.6l-6.4 -0.7l-1.1 0.6M715.9 515.2l-0.4 -2.6M722 512l-4 -2.6l-2.5 3.2M721.6 514.7l0.4 -2.7M726.7 511.2l-4.7 0.8M729.9 513.7l-3.2 -2.5M740.1 508.7l-6.1 2.6l-1.1 2M744.4 511.9l-4.3 -3.2M636.2 518.2l-1.3 -3.8l-4.1 -2l-4.5 2.1M643.8 513.7l-4.8 -3.3l-4.1 4M641.5 519.4l2.3 -5.7M652.9 519.8l-4.7 -7.5l-1 -0.3l-3.4 1.7M657.5 516.7l0.7 -4l-5.1 -3l-4.9 2.6M665.8 510.6l-3.4 -1.5l-4.2 3.6M669.8 519.6l-4 -9M675.9 510.5l-5.2 -3.8l-4.9 3.9M669.8 519.6l6.1 -9.1M680.8 518.6l-0.5 -7l-2.4 -1.6l-2 0.5M691.1 517.6l-3.3 -8.2l-7.5 2.2M696.6 517.1l-0.3 -8.9l-2.6 -2l-5.7 2.7l-0.2 0.5M704.4 511.3l-0.7 -2.3l-2.5 -1.8l-4.9 1M709.1 511.9l3.4 -6.8l-4.5 -2.6l-4.3 6.5M718 509.4l-0.5 -4.1l-1 -0.4l-4 0.2M726.7 511.2l-0.7 -5.1l-6.7 -2l-1.8 1.2M734 511.3l-1.5 -7.2l-2.8 -1.4l-3.7 3.4M738.4 501.6l-5.9 2.5M740.1 508.7l0.3 -4.7l-2 -2.4M750.1 510.2l-3.2 -6.9l-6.5 0.7M751.6 499.7l-3.7 0.6l-1 3M755.2 502.4l-3.6 -2.7M630.8 512.4l1.2 -4.7l-2.9 -2.9M639 510.4l-0.9 -4.6l-6.1 1.9M646.1 506.5l-4.4 -2.5l-3.2 1l-0.4 0.8M647.2 512l-1.1 -5.5M653.8 504.9l-3.2 -2l-4.5 3.6M653.1 509.7l0.7 -4.8M662.4 509.1l-1.2 -3.5l-2.8 -1.9l-4.6 1.2M665.6 501.2l-4.4 4.4M670.7 506.7l0.6 -4.4l-5.7 -1.1M677.9 510l1.5 -7.4l-6.5 -1.8l-1.6 1.5M688 508.9l-3.4 -7.3l-2.3 -0.3l-2.9 1.3M693.7 506.2l1.5 -5.2l-6.5 -2.8l-4.1 3.4M701.2 507.2l-2 -7.4l-0.9 -0.1l-3.1 1.3M708 502.5l-0.7 -1.9l-4.7 -2.2l-3.4 1.4M716.5 504.9l-2.5 -6.5l-2.8 -1.8l-3.9 4M719.3 504.1l1.8 -4.5l-2 -3.1l-5.1 1.9M729.7 502.7l-1.5 -5.3l-7.1 2.2M738.4 501.6l0.4 -4l-7.4 -2.1l-2.7 0.6l-0.5 1.3M741.4 494.7l-2.6 2.9M747.9 500.3l-2.9 -4.8l-3.6 -0.8M748.7 492.6l-3.7 2.9M751.6 499.7l2.5 -5.7l-5.4 -1.4M755.5 493.4l-1.4 0.6M760.5 495.1l-5 -1.7M638.5 505l-3.1 -4.9l-4.6 -1.4M641.7 504l2.3 -5.4l-4.4 -3.1l-4.2 4.6M650.6 502.9l-1 -5.3l-1.5 -0.5l-4.1 1.5M658.4 503.7l-0.4 -5.1l-4.4 -3.1l-4 2.1M665.6 501.2l-2 -5.6l-5.6 3M672.9 500.8l-0.3 -4.4l-8.7 -1.6l-0.3 0.8M674.1 493.3l-1.5 3.1M682.3 501.3l-2.6 -8.1l-1.6 -0.7l-4 0.8M688.7 498.2l0.2 -2.8l-5.8 -3.5l-3.4 1.3M698.3 499.7l-3.1 -8.1l-2.8 -1.3l-3.5 5.1M702.6 498.4l0.8 -5.2l-4.5 -2.5l-3.7 0.9M711.2 496.6l0.6 -5.3l-4.9 -0.9l-3.5 2.8M719.1 496.5l-0.6 -4.5l-4.6 -2l-2.1 1.3M726 490.9l-2.2 -0.9l-5.3 2M728.7 496.1l-2.7 -5.2M731.4 495.5l4.7 -7.5l-6.3 -0.7l-3.8 3.6M736.6 487.8l-0.5 0.2M741.4 494.7l-1.8 -6.1l-3 -0.8M748.7 492.6l-0.2 -5.3l-3.9 -3.3l-5 4.6M754.6 486.5l-6.1 0.8M755.5 493.4l-0.9 -6.9M755.2 485.7l-0.6 0.8M761.1 494.7l1.1 -10l-1.5 -0.8l-5.5 1.8M767.6 484.2l-5.4 0.5M774 486.8l-6.4 -2.6M639.6 495.5l-0.9 -4.6l-4.4 -1.6M643.7 488.7l-5 2.2M648.1 497.1l-2.7 -7.5l-1.7 -0.9M653.6 495.5l1.7 -5.7l-2.5 -1.9l-7.4 1.7M663.9 494.8l-0.7 -5.3l-3.1 -1.1l-4.8 1.4M674.1 493.3l-3 -4.1l-6.6 -0.4l-1.3 0.7M673.7 484.1l-2.6 5.1M678.1 492.5l0.6 -7l-5 -1.4M683.1 491.9l1.7 -3.8l-3.9 -3.8l-2.2 1.2M692.4 490.3l-1.1 -3.4l-6.5 1.2M698.9 490.7l2.4 -6.3l-6.6 -0.7l-3.1 2.1l-0.3 1.1M706.9 490.4l-2.9 -6l-1.3 -0.6l-1.4 0.6M714.4 484.9l-3 -3.7l-7.4 3.2M713.9 490l0.5 -5.1M723.8 490l-1.5 -6.9l-2.9 -0.5l-5 2.3M729.8 487.3l-0.8 -5.5l-2.3 -2.4l-4.4 3.7M735 481.9l-6 -0.1M736.6 487.8l-1.6 -5.9M735.4 481.1l-0.4 0.8M744.6 484l0.3 -3.2l-3.2 -2.2l-6.3 2.5M755.2 485.7l-4.1 -6.9l-2.6 -0.4l-3.6 2.4M755.6 476.9l-4.5 1.9M760.7 483.9l-1.4 -5.7l-3.7 -1.3M767.6 484.2l-1 -7.8l-3.2 -2.4l-4.1 4.2M773 474.7l-6.4 1.7M774.9 486.1l-1.9 -11.4M781.4 473.5l-4.3 -2l-3.8 2.7l-0.3 0.5M781.5 480.5l-0.1 -7M785.2 471.8l-3.8 1.7M792.1 476.1l-6.9 -4.3M643.7 488.7l0.3 -6.5M652.8 487.9l-1.5 -6.3M660.1 488.4l-1.1 -7.4M664.5 488.8l3.1 -9l-2.9 -3.5M672.3 481l-4.7 -1.2M673.7 484.1l-1.4 -3.1M680.9 484.3l1.7 -4.4l-5 -4.5l-5.3 5.6M691.6 485.8l-4.2 -5.5l-4.1 -0.5l-0.7 0.1M694.7 483.7l1.1 -6.9l-3.6 -2.7M691.8 474.1l-4.4 6.2M702.7 483.8l-0.5 -5.9l-3.1 -1.5l-3.3 0.4M706.5 474.8l-4.3 3.1M711.4 481.2l0 -2.5l-4.9 -3.9M717.8 476.1l-3 -0.2l-3.4 2.8M719.4 482.6l-1.6 -6.5M726.7 479.4l0.5 -8.6M726.5 470.8l-8.7 5.3M735.4 481.1l-3.2 -9l-2.7 -1.6M741.7 478.6l-2.3 -4.8l-7.2 -1.7M748.5 478.4l-0.1 -4.8l-5.6 -3.4l-3.4 3.6M752.7 468l-4.3 5.6M755.6 476.9l-0.8 -9.1M763.3 471.7l-5.3 -4.3M763.4 474l-0.1 -2.3M773.3 474.2l-5.8 -5.3l-4.2 2.8M777.1 471.5l-1 -6.6M768.7 465.9l-1.2 3M785.2 471.8l1.8 -8.5M795.9 472.6l-7.2 -9.5M683.3 479.8l2 -5.2M699.1 476.4l0.4 -2.9M706.5 474.8l0.1 -1.9M714.8 475.9l-0.9 -3.7M742.8 470.2l0.1 -1.1M647.4 642l-6.4 -0.9M648.1 645.7l-0.7 -3.7M658.1 642.4l-0.8 -1l-6.8 -2.1l-3.1 2.7M650.5 639.3l-1.2 -5.4l-7.5 -2.1l-2.3 2.3M657.3 641.4l1.6 -10.4l-7 0.5l-2.6 2.4M670.3 633.6l-10.9 -3l-0.5 0.4M615.9 626.4l-7.8 -1.1l-5.8 4.9M615.8 629.4l0.1 -3M624.3 625.7l-7 -1.1l-1.4 1.8M624.8 628.8l-0.5 -3.1M632.2 623.4l-5.2 0l-2.7 2.3M632.4 628.4l-0.2 -5M641.8 631.8l0.3 -6.4l-8.3 -3.2l-1.6 1.2M649.4 622.6l-4.8 0.5l-2.5 2.3M651.9 631.5l-2.5 -8.9M659.4 630.6l-0.3 -7.8l-7.9 -1.5l-1.8 1.3M660.6 621.4l-1.5 1.4M669 622.5l-8.4 -1.1M608.1 625.3l0.5 -7.9l-0.7 -0.6l-8.7 -0.3M617.3 624.6l-0.8 -6.4l-7.9 -0.8M627 623.4l-3.3 -7.8l-5.5 0.6l-1.7 2M633.8 622.2l0.5 -6.6l-8.3 -2.2l-2.3 2.2M636 613.9l-1.7 1.7M644.6 623.1l-2.8 -8.7l-5.8 -0.5M644 612.6l-2.2 1.8M651.2 621.3l0 -5.8l-7.2 -2.9M660.6 621.4l0.3 -6.7l-7.1 -2.2l-2.6 3M667.9 612.9l-4.4 -0.8l-2.6 2.6M608.7 607.3l-6.5 -0.1M607.9 616.8l1.9 -8.3l-1.1 -1.2M618.2 616.2l-2.2 -7.6l-6.2 -0.1M626 613.4l-0.1 -5.8l-8.5 -0.8l-1.4 1.8M628.1 604.5l-2.2 3.1M636 613.9l-0.9 -7.8l-7 -1.6M645.8 605.4l-0.1 -0.1l-9.8 0.1l-0.8 0.7M644 612.6l1.8 -7.2M652.7 605.9l-6.9 -0.5M653.8 612.5l-1.1 -6.6M663.5 612.1l-1.4 -6.6l-2 -1.7l-5.7 0.7l-1.7 1.4M666.9 604.2l-4.8 1.3M608.7 607.3l0.9 -6.8l-4.8 -1.4M617.4 606.8l-0.2 -6l-6.1 -1.2l-1.5 0.9M628.1 604.5l-1.7 -5.5l-6.9 -0.3l-2.3 2.1M627.2 597.7l-0.8 1.3M635.9 605.4l1.3 -7.9l-0.4 -0.4l-9.6 0.6M645.7 605.3l-1.3 -7.6l-7.2 -0.2M654.4 604.5l-1.8 -8.3l-6.1 -1.4l-2.1 2.9M662.2 595.9l-6.7 -1.8l-2.9 2.1M660.1 603.8l2.1 -7.9M666.8 595.7l-3.3 -0.7l-1.3 0.9M611.1 599.6l-0.1 -9.6l-4.5 0.4M611.4 589.6l-0.4 0.4M619.5 598.7l-2.4 -8.2l-5.7 -0.9M620.9 587.9l-3.8 2.6M627.2 597.7l0.5 -8.3l-6.8 -1.5M636.8 597.1l-0.6 -6.7l-7.3 -1.9l-1.2 0.9M646.5 594.8l-1.2 -6.2l-4.7 -1l-4.4 2.8M655.5 594.1l-0.5 -6.8l-7.8 -0.5l-1.9 1.8M663.2 587.8l-7.7 -0.9l-0.5 0.4M663.5 595l-0.3 -7.2M664.2 586.6l-1 1.2M667 586.7l-2.8 -0.1M611.4 589.6l-0.1 -8.5l-6.2 -1.9M620.9 587.9l-1.1 -8.1l-0.4 -0.3l-6.6 0.5l-1.5 1.1M628.9 588.5l1.5 -7.3l-1.7 -2.4l-8.9 1M640.6 587.6l-3.1 -7l-7.1 0.6M647.2 586.8l0.6 -7.5l-8.8 -0.9l-1.5 2.2M648.7 578.1l-0.9 1.2M655.5 586.9l1.3 -9.2l-8.1 0.4M664.2 586.6l-0.7 -8.6l-6.7 -0.3M667.2 575.4l-3.7 2.6M612 571.4l-7.2 -0.5M612.8 580l-0.8 -8.6M619.4 579.5l0.3 -7.6l-6.7 -1.2l-1 0.7M629.2 572.7l-9 -1.3l-0.5 0.5M628.7 578.8l0.5 -6.1M638.6 572.9l-8 -1.9l-1.4 1.7M639 578.4l-0.4 -5.5M640.3 571.3l-1.7 1.6M648.7 578.1l-2 -6.9l-6.4 0.1M656.8 577.7l-1.2 -8.2l-7.9 0.4l-1 1.3M667.3 567.4l-10.3 0.1l-1.4 2M613 570.7l0.7 -8.3l-9 -0.3M620.2 571.4l1.3 -8.6l-7.6 -0.6l-0.2 0.2M630.2 565l-7.9 -2.7l-0.8 0.5M630.6 571l-0.4 -6M639 562.3l-5.6 -0.1l-3.2 2.8M640.3 571.3l-1.3 -9M647.2 562.9l-7.2 -1.3l-1 0.7M647.7 569.9l-0.5 -7M657 567.5l-2.2 -5.9l-6 0l-1.6 1.3M656.7 558.9l-1.9 2.7M667.4 560.1l-10.7 -1.2M613.2 553.7l-8.3 -0.8M613.9 562.2l-0.2 -8l-0.5 -0.5M622.3 562.3l1 -8.1M623.3 554.1l-9.6 0.1M633.4 562.2l-2.3 -8.6l-1.3 -1l-6.5 1.6M640.6 552.2l-9.5 1.4M640 561.6l1.3 -8.6l-0.7 -0.8M648.8 561.6l-1.1 -8l-6.4 -0.6M656.7 558.9l-0.7 -4.7l-5.9 -2.3l-2.4 1.7M667.6 553l-9 -1.5l-2.6 2.7M613.2 553.7l2.4 -8.8l-0.3 -0.3l-6.5 0.7M620.2 546l-4.6 -1.1M623.3 554.1l-3.1 -8.1M629.8 552.6l1 -7.1l-6.9 -2.2l-3.7 2.7M640.4 546.3l-8.4 -1.9l-1.2 1.1M640.6 552.2l-0.2 -5.9M650.1 551.9l0.2 -8.4l-0.8 -0.6l-7.8 1.8l-1.3 1.6M658.6 551.5l-0.7 -7.9l-0.8 -0.6l-6.8 0.5M667.7 543.3l-9.8 0.3M614.7 535.7l-0.6 -0.6M615.3 544.6l-0.6 -8.9M623.9 543.3l0.1 -6.5l-0.6 -0.5l-8.7 -0.6M633 535.8l-0.1 -0.1l-8.9 1.1M632 544.4l1 -8.6M638.7 535.5l-5.7 0.3M641.7 544.7l-3 -9.2M639.8 534.6l-1.1 0.9M649.5 542.9l-1.4 -7.4l-8.3 -0.9M657.1 543l1.3 -9.3l-8.8 -0.3l-1.5 2.1M667.9 535.9l-9.1 -2.5l-0.4 0.3M623.4 536.3l0.8 -8.8M624 527.3l-6.3 1M632.9 535.7l-2.1 -7.6l-6.6 -0.6M640.9 526l-0.6 -0.6l-7.9 0.6l-1.6 2.1M639.8 534.6l1.1 -8.6M648.7 526.3l-7.8 -0.3M649.6 533.4l-0.9 -7.1M658.8 533.4l0.7 -7.7l-8.6 -1.9l-2.2 2.5M668.1 526.2l-8.6 -0.6M624 527.3l-0.5 -4.1M632.4 526l-0.6 -3.4M640.3 525.4l0 -3.5M650.9 523.8l-0.4 -2.6M659.5 525.6l0.9 -5.2M678.4 635.9l-8 -1.3M677.8 641.1l0.6 -5.2M686.6 636.9l-6.9 -2.1l-1.3 1.1M687.5 639.4l-0.9 -2.5M691.1 632.1l-4.5 4.8M679.7 634.8l0.8 -9.7l-11.4 -1.8M681.7 624.3l-1.2 0.8M688.6 626.2l-6.9 -1.9M681.7 624.3l1.2 -6.8l-8.2 -4.2l-6 6.5M690.9 614.3l-5.6 0.6l-2.4 2.6M693.2 623.5l-2.3 -9.2M700.4 615.5l-8.8 -1.8l-0.7 0.6M702.1 622.6l-1.7 -7.1M709.8 612.1l-6.6 -1.5l-2.8 4.9M711.2 621.6l-1.4 -9.5M720.8 613.7l-7.8 -4.3l-3.2 2.7M720.2 620.6l0.6 -6.9M731.9 610.8l-9.9 1.6l-1.2 1.3M733 619.3l-0.8 -8.2M741.5 610.2l-9.3 0.9M745.2 617.9l-3.7 -7.7M742.7 607.6l-1.2 2.6M745.3 607.1l-2.6 0.5M674.7 613.3l0.1 -5.5l-7.6 -1.5M677 606.1l-2.2 1.7M685.3 614.9l-3.8 -9.9l-4.5 1.1M691.6 613.7l1.4 -7.7l-9.2 -3.7l-2.3 2.7M703.2 610.6l-2.4 -6.5l-4 -0.2l-3.8 2.1M713 609.4l0.7 -7l-10.4 -1l-2.5 2.7M722 612.4l-0.2 -10.1l-7.2 -0.6l-0.9 0.7M731.9 610.8l-0.9 -8.3l-5.7 -2l-3.5 1.8M742.7 607.6l-2.4 -5.8l-6.4 -1.3l-2.9 2M744.5 598l-4.2 3.8M677 606.1l-4.6 -8.7l-5.6 -0.6M683.8 602.3l0.2 -4.8l-7.6 -2.4l-4 2.3M696.8 603.9l-4.4 -9.8l-6.3 0.3l-2.1 3.1M703.3 601.4l0 -9l-8.2 -0.6l-2.7 2.3M714.6 601.7l-0.7 -9.2l-10.3 -0.5l-0.3 0.4M725.3 600.5l-1 -7.6l-1.9 -1.7l-8 0.6l-0.5 0.7M733.9 600.5l1.7 -10.6l-0.8 -0.9l-10.5 3.9M743.9 591.3l-8.3 -1.4M675.3 586.7l-8.3 0.2M676.4 595.1l-1.1 -8.4M686.1 594.4l-2.5 -8.3l-5.6 -1.1l-2.7 1.7M695.1 591.8l-1.4 -8.1l-7 -0.5l-3.1 2.9M703.6 592l0.4 -7.7l-9.6 -1.2l-0.7 0.6M714.4 591.8l-0.8 -9.9l-7.6 -0.4l-2 2.8M723.8 581l-9.1 0l-1.1 0.9M722.4 591.2l1.4 -10.2M734.8 589l-1.3 -6.1l-1 -1l-6.9 -2.1l-1.8 1.2M741.6 579.9l-8.1 3M678 585l-1.8 -9.3M676 575.6l-8.9 1.6M686.7 583.2l-0.7 -9.5l-9.8 2M694.4 583.1l1.7 -8.3l-0.2 -0.1l-9.5 -1.5l-0.4 0.5M706 581.5l-2.2 -5.2l-7.7 -1.5M714.7 581l-0.5 -7.1l-7.6 -2.6l-2.8 5M725.6 579.8l-0.8 -7.6l-7 -2.6l-3.6 4.3M732.5 581.9l4.1 -12.2l-8.8 -0.9l-3 3.4M737 569.5l-0.4 0.2M676 575.6l-1.5 -10l-7.2 -0.1M685.9 566.6l-10.4 -1.8l-1 0.8M686.4 573.2l-0.5 -6.6M695.9 574.7l1.7 -9.5l-1.4 -1.2l-7.9 -0.6l-2.4 3.2M706.6 571.3l-0.6 -5.8l-8.4 -0.3M707.6 563.8l-1.6 1.7M717.8 569.6l-2.3 -5.9l-7.9 0.1M727.8 568.8l-1.1 -7.6l-10 1.1l-1.2 1.4M727.4 560.1l-0.7 1.1M733.8 557.9l-6.4 2.2M675.5 564.8l1.4 -8.8l-9.3 -2.9M688.3 563.4l-1.5 -6l-9.6 -1.6M696.2 564l2.4 -11.2l-1 -0.8l-9.5 3l-1.3 2.4M707.6 563.8l-1.7 -9.4l-1.1 -1.1l-6.2 -0.5M716.7 562.3l-0.2 -8.7l-10.6 0.8M727.4 560.1l-4.5 -8.3l-4.7 -0.4l-1.7 2.2M731.9 550.9l-5.8 -1.7l-3.2 2.6M677.2 555.8l2.5 -9.6l-2.2 -1.8l-9.8 1.1M688.1 555l-3.1 -9l-5.3 0.2M697.6 552l-1.4 -5.1l-7.4 -4.1l-3.8 3.2M704.8 553.3l3.7 -8.7l-8.2 -2.6l-4.1 4.9M718.2 551.4l-2.3 -5.7l-5.8 -2.2l-1.6 1.1M726.1 549.2l1.2 -9l-7.1 0.8l-4.3 4.7M728.6 539l-1.3 1.2M677.5 544.4l0.2 -8.8l-9.8 -2.5M688.8 542.8l0.4 -7.3l-0.5 -0.3l-9.5 -0.6l-1.5 1M700.3 542l-1 -8.7l-10.1 2.2M699.3 533.2l0 0.1M710.1 543.5l-0.2 -8.4l-1.4 -1.1l-9.2 -0.8M720.2 541l-4.4 -7.3l-5.9 1.4M718.7 530.5l-2.9 3.2M726.3 530.8l-7.6 -0.3M679.2 534.6l0 -9.9l-11.2 3.4M688.7 535.2l-1.5 -10.1l-6.7 -2.2l-1.3 1.8M699.3 533.2l-0.2 -8.4l-8.7 -1.8l-3.2 2.1M710.1 523l-0.9 -1.2l-10 2.9l-0.1 0.1M708.5 534l1.6 -11M718.7 530.5l-2.4 -5.5l-6.2 -2M722.8 518.2l-6.5 6.8M680.5 522.9l-1.2 -4.2M690.4 523l0.2 -5.3M699.2 524.7l-0.5 -7.8M709.2 521.8l0.6 -6M757.2 618.5l-3.6 6.5M766.8 624l0 -0.3l-9.6 -5.2M779.3 620.2l-0.4 -0.5l-7.8 -2l-3.5 3.3l-0.8 2.7M779 623l0.3 -2.8M786.4 619.3l-0.5 -0.3l-6.6 1.2M787.7 622.3l-1.3 -3M795.5 616.9l-2 -1.4l-7.1 3.8M795 621.7l0.5 -4.8M798.6 616.1l-3.1 0.8M802.4 621.1l-3.8 -5M806.5 613l-1.1 -0.8l-4.4 1.4l-2.4 2.5M807 620.7l-0.5 -7.7M816.4 619.3l-0.2 -0.1M816.2 619.2l-2.4 -6.8M813.8 612.4l-7.3 0.6M827 613.9l-4.4 -2.9l-8 0.1l-0.8 1.3M757.2 618.5l-0.3 -3.8l-3.9 -1.7l-6.8 3.7M759 613.7l-2.1 1M767.6 621l-5.2 -7.1l-3.4 -0.2M771.1 617.7l0.6 -5.3l-0.5 -0.9l-4.2 -2.2l-4.6 4.6M778.9 619.7l0.4 -7.3l-7.6 0M785.9 619l-1.2 -8.4l-3.1 -0.5l-2.3 2.3M791.6 610.5l-4.4 -1.1l-2.5 1.2M793.5 615.5l-1.9 -5M801 613.6l-5 -6.5l-0.4 -0.1l-4 3.5M805.4 612.2l-0.4 -3.8l-2.2 -3.1l-6.8 1.8M814.6 611.1l-0.1 -5.7l-2.7 -1.5l-6.8 4.5M822.6 611l-1.8 -7.1l-2 -1.1l-4.3 2.6M827 603.2l-6.2 0.7M753 613l-0.8 -6.8l-2.3 -1.5l-4.4 3.7M759 613.7l1 -7.6l-3.5 -1.6l-4.3 1.7M767 609.3l-1.6 -4.4l-5.4 1.2M771.2 611.5l4.3 -6.9l-2.7 -2.1l-7.1 1.5l-0.3 0.9M781.6 610.1l-3.2 -5.5l-2.9 0M787.2 609.4l0.2 -6.8l-7.3 -0.6l-1.7 2.6M794.3 601.7l-1.8 -2.1l-4.1 1.8l-1 1.2M795.6 607l-1.3 -5.3M802.8 605.3l0.5 -5l-9 1.4M811.8 603.9l-1.7 -2.9l-1.8 -1.2l-5 0.4l0 0.1M818.8 602.8l0.2 -5.4l-3.5 -1.2l-5.4 4.8M822.1 594.8l-3.1 2.6M827 596.9l-4.9 -2.1M745.5 600.6l-0.7 -0.1M749.9 604.7l-0.7 -1.3l-3.7 -2.8M756.5 604.5l1.1 -5.3l-3.4 -3l-5 7.2M765.7 604l-1.3 -5.5l-0.9 -0.8l-5.9 1.5M772.8 602.5l0.1 -4.8l-2.7 -1.5l-5.8 2.3M780 597.2l-4 -1.1l-3.1 1.6M780.1 602l-0.1 -4.8M788.4 601.4l-5.3 -6.1l-0.8 -0.2l-2.3 2.1M793.2 595.3l-3.3 -2.4l-6.8 2.4M792.5 599.6l0.7 -4.3M803.3 600.2l-2.4 -6.7l-2.6 -1.1l-5.1 2.9M808.3 599.8l1.3 -6.1l-5.6 -1.5l-3.1 1.3M815.5 596.2l-3.3 -4l-2.6 1.5M822.1 594.8l-0.2 -4l-0.5 -0.8l-8.5 -0.4l-0.7 2.6M827.1 589.4l-5.2 1.4M745.5 600.6l4.5 -8.6l-6 -0.6M754.2 596.2l-1 -3.1l-2.6 -1.4l-0.6 0.3M763.5 597.7l-0.8 -5.2l-5.4 -1.1l-4.1 1.7M770.2 596.2l-0.1 -6.9l-3.8 -1.5l-3.6 4.7M774.1 588.6l-4 0.7M776 596.1l-1.5 -7.2l-0.4 -0.3M782.3 595.1l-1.1 -5.6l-6.7 -0.6M789.9 592.9l-1.5 -5l-6.6 0.8l-0.6 0.8M797.9 589.2l-2.8 -3.6l-6 0.9l-0.7 1.4M798.3 592.4l-0.4 -3.2M804 592.2l2.9 -6.3l-4.6 -1.2l-4.4 4.5M812.9 589.6l-1.2 -3.5l-2.3 -1.2l-2.5 1M821.4 590l0 -6.2l-4.2 -1.2l-5.5 3.5M828.8 585.6l-2.8 -3.1l-2 -0.5l-2.6 1.8M831.5 579l-5.5 3.5M832 579.3l-0.5 -0.3M750.6 591.7l0.1 -7.8l-1 -0.8l-6.2 3.1M754.4 583.2l-3.7 0.7M757.3 591.4l0.9 -6.9l-3.8 -1.3M766.3 587.8l-1.4 -3.6l-2.2 -0.8l-4.5 1.1M774.1 588.6l1.6 -7.5M775.5 580.9l-7 -1l-3.6 4.3M781.8 588.7l-0.4 -6.9l-5.7 -0.7M789.1 586.5l-2.1 -6l-2.2 -0.9l-3.4 2.2M796.2 579.3l-2.4 -1.4l-6.8 2.6M795.1 585.6l1.1 -6.3M802.3 584.7l-1.9 -5.5l-1.3 -0.5l-2.9 0.6M809.4 584.9l-1.1 -6.4l-1.6 -0.9l-6.3 1.6M817.2 582.6l-1.8 -5.9l-1.3 -1.1l-5.8 2.9M824 582l-0.5 -6.1l-8.1 0.8M828.5 572.4l-4.5 2.5M824 574.9l-0.5 1M749.7 583.1l-2 -4.1l-5.8 1.4M756.5 577.7l-4.4 -3l-4.2 3.1l-0.2 1.2M754.4 583.2l2.1 -5.5M760 576.6l-3.5 1.1M762.7 583.4l-2.7 -6.8M768.5 579.9l-0.5 -3.1l-2.4 -3.3l-4.8 1.3l-0.8 1.8M775.5 580.9l0.6 -6.4l-1.7 -1.1l-6.4 3.4M784.8 579.6l-0.9 -5l-3.6 -1.7l-4.2 1.6M788.3 570.7l-4.4 3.9M793.8 577.9l-1.3 -5.6l-4.2 -1.6M794.9 570.3l-2.4 2M799.1 578.7l1.1 -6.7l-5.3 -1.7M805.5 571.6l-2.4 -1.5l-2.9 1.9M806.7 577.6l-1.2 -6M814.1 575.6l0.3 -4.7l-3 -2l-5.9 2.7M824 574.9l-5.7 -6.2l-3.9 2.2M818.9 567.5l-0.6 1.2M825.6 567.4l-6.7 0.1M747.9 577.8l-3.2 -4.4l-4.8 -1.2l-1.3 0.9M748.8 566.7l-4.1 6.7M752.1 574.7l1.6 -4.6l-4.9 -3.4M760.8 574.8l-4.1 -5.5l-3 0.8M757.4 568.2l-0.7 1.1M765.6 573.5l1.2 -3.3l-5.3 -4.1l-4.1 2.1M774.4 573.4l-2.2 -4.3l-2.1 -0.8l-3.3 1.9M780.3 572.9l-0.4 -5.4l-1.7 -1.8l-6 3.4M788.3 570.7l-1 -4.2l-7.4 1M794.6 562.8l-6.6 1.4l-0.7 2.3M794.9 570.3l1.3 -6.3l-1.6 -1.2M803.1 570.1l-0.7 -4.7l-3.5 -1.4l-2.7 0M811.4 568.9l-2 -6.7l-1.7 -0.3l-5.3 3.5M818.9 567.5l-0.3 -6l-4.8 -2.1l-4.4 2.8M821.4 560.1l-2.8 1.4M739.9 572.2l0.9 -8.1l-1.6 -0.8l-3.7 0.5M748.8 566.7l-1.1 -2.2l-2.6 -1.2l-4.3 0.8M753.8 559.6l-6.1 4.9M757.4 568.2l-2.7 -7.7l-0.9 -0.9M761.5 566.1l1.1 -3.8l-7.9 -1.8M770.1 568.3l-0.7 -5.8l-1 -0.7l-5.5 0.3l-0.3 0.2M778.2 565.7l-0.1 -4.5l-1.5 -1.3l-7.2 2.6M788 564.2l-3 -4.6l-6.9 1.6M794.6 562.8l-0.2 -5.5l-5.4 -2l-3.4 2.6l-0.6 1.7M798.9 564l2.8 -8.5l-4.2 -1.1l-3.1 2.9M807.7 561.9l-4.1 -6.6l-1.9 0.2M813.8 559.4l-0.3 -7.9l-8.7 2l-1.2 1.8M813.7 551.1l-0.2 0.4M739.2 563.3l-0.9 -7l-1.3 -1.3l-3.3 2.6M745.3 556.7l-1 -1.1l-6 0.7M745.1 563.3l0.2 -6.6M754.3 555.4l-2.2 -1l-6.8 2.3M753.8 559.6l0.5 -4.2M762.9 562.1l-1.4 -6.6l-5.6 -1l-1.6 0.9M768.3 554.6l-4.1 -0.9l-2.7 1.8M768.4 561.8l-0.1 -7.2M776.6 559.9l-1.5 -7l-2.2 -0.6l-4.6 2.3M785.6 557.9l-5.1 -6.9l-1.3 -0.8l-4.1 2.7M789 555.3l0.1 -4.6l-8.6 0.3M790 549l-0.9 1.7M797.5 554.4l-1.7 -6.1l-0.5 -0.3l-5.3 1M804.8 553.5l-1.5 -6.5l-2.3 -0.7l-5.2 2M806.1 545.4l-2.8 1.6M737 555l-0.9 -4.1l-2.7 -1.1l-1.7 0.4M743.9 550.7l-4.7 -1.3l-3.1 1.5M744.3 555.6l-0.4 -4.9M752.1 554.4l-2.5 -3.9l-3.3 -1.3l-2.4 1.5M757.1 548.6l-4.4 -2.8l-3.1 4.7M755.9 554.5l1.2 -5.9M764.2 553.7l-0.5 -5.6l-2.8 -2.3l-3.8 2.8M772.9 552.3l-3.1 -5.9l-6.1 1.7M779.2 550.2l0.4 -1.9l-4 -5l-5.6 1.8l-0.2 1.3M790 549l-4.3 -5.6l-1.1 -0.1l-5 5M795.3 548l-1.3 -6.7l-3.2 -1.8l-5.1 3.9M801 546.3l-0.7 -5.3M798.6 539.2l-4.6 2.1M733.4 549.8l0.3 -7.5l-4.9 -2.6M739.2 549.4l1.7 -6.8l-2.8 -2l-4.4 1.7M745.6 542l-4.7 0.6M746.3 549.2l-0.2 -6.9l-0.5 -0.3M752.7 545.8l-1.2 -4.5l-5.4 1M760.7 541.4l-8.5 -0.8l-0.7 0.7M760.9 545.8l-0.2 -4.4M770 545.1l-2.5 -5.8l-6.2 1.4l-0.6 0.7M776.5 538.3l-3.9 -1.3l-4.4 1.3l-0.7 1M775.6 543.3l0.9 -5M784.6 543.3l-3.2 -4.8l-2.3 -1.2l-2.6 1M788.2 533.8l-6.8 4.7M790.8 539.5l-0.4 -4.7l-2.2 -1M793.2 533l-2.8 1.8M738.1 540.6l-0.1 -3.6l-5.7 -3.4l-3.8 5M741.4 533.7l-3.4 3.3M745.6 542l-1.3 -7.9l-2.9 -0.4M752.2 540.6l0 -6.8l-4.1 -2.1l-3.8 2.4M761.3 540.7l-1.8 -6.9l-4.3 -1.6l-3 1.6M768.2 538.3l-1.7 -5l-5 -0.9l-2 1.4M772.6 537l0.3 -7.4l-3.8 -1.6l-2.6 5.3M779.1 537.3l0.7 -6.9l-2.3 -1.7l-4.6 0.9M783.3 529.4l-3.5 1M788.2 533.8l-2.2 -3l-2.7 -1.4M788.8 528l-2.8 2.8M732.3 533.6l0 -3l-2.6 -1.7l-3.7 0.8M741.4 533.7l-3.1 -5.8l-0.7 -0.2l-5.3 2.9M743 526l-4.7 1.9M748.1 531.7l-0.5 -2.8l-4.6 -2.9M751.2 523.3l-3.6 5.6M755.2 532.2l1 -6.1l-5 -2.8M761.5 532.4l1.3 -6.7l-3.4 -1.1l-3.2 1.5M769.1 528l-1.8 -3.3l-4.5 1M771.9 521l-4.1 2.6l-0.5 1.1M777.5 528.7l-0.1 -5.7l-5.5 -2M783.3 529.4l1.7 -5.7M781.2 519.7l-3.8 3.3M729.7 528.9l-0.5 -6.3l-1.4 -1l-3.9 0.7M737.6 527.7l-1.7 -6.3l-0.3 -0.1l-6.4 1.3M744.2 520.8l-3.6 -1.7l-4.7 2.3M743 526l1.2 -5.2M746.4 520l-2.2 0.8M751.2 523.3l-0.4 -1.4l-4.4 -1.9M758.8 517.8l-4.2 -1.2l-3.8 5.3M759.4 524.6l-0.6 -6.8M762.8 515.6l-4 2.2M767.8 523.6l-3.8 -7.5l-1.2 -0.5M768.7 514.4l-4.7 1.7M771.9 521l0.6 -3.7l-3.8 -2.9M773.2 516.8l-0.7 0.5M727.8 521.6l0.5 -7.7M735.6 521.3l-2.7 -8M740.6 519.1l-0.2 -6.7M746.4 520l0.8 -8.4M754.6 516.6l-2.5 -5.7M762.8 515.6l-0.9 -6.1M768.7 514.4l1.9 -6.2M873.9 743.5l-7.2 13.8M864.4 729l-11.7 16.9M873.9 743.5l-4.6 -11M877.6 730.9l-8.3 1.6M847.8 727l-6.3 -6.1l-7.4 2.6M864.4 729l-0.9 -3.6l-15.7 1.6M875.2 713.9l-7.6 3.3l-2.9 2.7l-1.2 5.5M864.7 719.9l-9.7 -5.6l-10.3 0.5l-3.2 6.1M832 706.7l-5 -3.5l-5.8 3.3M829.1 717.6l2.9 -10.9M844.7 714.8l-2.3 -7.8M855 714.3l0.6 -12.2l-2.1 -1M867.6 717.2l-6.9 -15.9l-5.1 0.8M861.3 700.7l-0.6 0.6M868.5 698.7l-7.2 2M826.9 699.1l-2.1 -2.9l-8.3 0.8M840.3 705.2l-0.7 -10.7M838.4 693.4l-11.5 5.7M849.5 692.7l-9.9 1.8M861.3 700.7l-1.4 -10l-3.9 -2.3l-5.7 4.5M864.2 690.1l-4.3 0.6M824.8 696.2l0.5 -8.7M820.7 685.1l-6.7 3M838.4 693.4l-2.9 -7.2l-1.1 -0.9l-9.1 2.2M846 683.7l-1.9 -1M856.3 681.1l-10.3 2.6M856 688.4l0.3 -7.3M857.9 677.4l-1.6 3.7M820.7 685.1l-0.2 -6.4l-9 -3.2M834.4 685.3l-0.8 -9.6l-6.5 -2.9l-3.7 1.4l-2.9 4.5M837.7 672.4l-4.1 3.3M823.4 674.2l-7.2 -6.2M827.1 672.8l-0.1 -10.3l-10.8 5.5M837.7 672.4l1.5 -8.7l-2.1 -1.9l-9.8 -0.4M848.5 662.2l-9.3 1.5M816.2 668l-0.8 -11.6l-2.4 -0.7l-8.1 6.7M823 654.9l-7.6 1.5M827.3 661.4l-3.5 -5.9M837.1 661.8l0.6 -9.3l-1 -1.1l-12.9 4.1M797.5 644.8l-4.6 4.5M799.9 656.5l2.3 -8.3M813 655.7l-4.3 -7.4M824.6 643.9l-4.2 -1.4l-10.2 3.1l-1.5 2.7M823 654.9l1.6 -11M833.7 639.3l-2.5 0l-6.6 4.6M835.8 638.3l-2.1 1M756.3 645l-3.1 -1.3M757.2 646.9l-0.9 -1.9M762.7 639.2l-6.4 5.8M769 641.7l-6.3 -2.5M785.8 638.3l-5.2 3.9M797.5 644.8l-1.4 -4.7l-1.1 -0.6l-9.2 -1.2M808.8 636.3l-4.6 -3M815.5 634.7l-6.7 1.6M817.6 631.1l-2.1 3.6M831.2 639.3l-1.9 -2.7l-11.7 -5.5M730.4 636.6l-5.3 -2.6M732 640.8l-1.6 -4.2M742.3 634.5l-4.6 -4.3l-7.3 6.4M753.2 643.7l-2.9 -11l-8 1.8M762.7 639.2l-3 -8.8l-0.7 -0.4l-8.6 2.6M774.3 639.6l-1.7 -9l-1.9 -0.8l-11 0.6M785.8 638.3l-0.9 -15.8M795 639.5l-2.3 -13.9l-7 -3.2M804.2 633.3l-0.3 -7.5M817.6 631.1l-0.1 -7.1M817.5 624l-0.9 -0.3M807.4 620.7l-3.5 5.1M829.3 636.6l-3.5 -12.3l-5.9 -1.3l-2.4 1M830.1 622.2l-4.3 2.1M701 629.2l-2.6 -1.4M705.6 637.4l-4.6 -8.2M714.7 628.1l-4.8 -3.6M725.1 634l-0.8 -9.5l-9.6 3.6M737.7 630.2l-1 -2l-11.3 -5.2l-1.1 1.5M750.4 632.6l-4.1 -14.8M744.2 618.1l-7.5 10.1M759 630l0.4 -5.4M770.7 629.8l-2 -6M819.9 623l2.2 -8.7M698.4 627.8l0.6 -4.9M725.4 623l0 -2.9M839.7 563.6l-11.1 8.9M843.6 566.1l-3.9 -2.5M839.7 563.6l-1 -3.2l-8.6 -2.7l-6.2 2.9l-1.3 1.6M855.2 555.6l-12.5 -3l-4 7.8M823.9 560.6l-0.8 -11.1l-3.9 -3.6l-6.2 4.7M832.7 547.3l-9.6 2.2M830.1 557.7l3 -10.2l-0.4 -0.2M842.7 552.6l-2.6 -4.8l-0.6 -0.4l-6.4 0.1M855.4 555.4l-1.3 -7.2l-6.2 -5.1l-7.8 4.7M864.2 541.3l-6.7 -0.7l-3.4 7.6M809.2 542.5l-7.1 -1.8l-1.3 0.8M810.1 548.4l-0.9 -5.9M819.2 545.9l0.4 -5.1l-4.6 -3.6l-5.8 5.3M826.4 538.1l-6.8 2.7M832.7 547.3l-4.4 -8.6l-1.9 -0.6M839.5 547.4l0.2 -8.8l-5.3 -3.9l-6.1 4M847.9 543.1l1.3 -5.6l-4.1 -1.9l-5.4 3M857.5 540.6l-3.9 -4.7l-4.4 1.6M866.4 531.4l-12.4 3.6l-0.4 0.9M868.6 534.4l-2.2 -3M802.1 540.7l4.1 -8.1l-4.1 -3.9l-8.6 4.7M815 537.2l-0.5 -1l-6.3 -3.5l-2 -0.1M826.4 538.1l-2.2 -10.4l-4.3 -1.5l-5.4 10M834.4 534.7l1.3 -6.6l-6.4 -2.4l-5.1 2M845.1 535.6l-1.9 -7.4l-3.5 -2.4l-4 2.3M854 535l-0.6 -8.2l-10.2 1.4M866.4 531.4l-1.3 -4.4l-7.3 -3l-4 2.1l-0.4 0.7M870.1 520.4l-5 6.6M879.7 524.3l-9.6 -3.9M795.4 519l-7.4 5.9l-0.6 1.5M802.1 528.7l-0.2 -5.6l-6.5 -4.1M808.2 532.7l6.3 -11.6l-9.7 0.5l-2.9 1.5M819.9 526.2l-3.5 -5.3l-0.8 -0.2l-1.1 0.4M822.7 515.8l-6.3 5.1M829.3 525.7l0 -5.5l-6.6 -4.4M839.7 525.8l1.2 -6.6l-5.6 -4.1l-6 5.1M845.9 516.4l-5 2.8M853.8 526.1l-7.9 -9.7M857.8 524l0.6 -9.1l-3.3 -2.4l-8.1 2.3l-1.1 1.6M870.1 520.4l-1.5 -7.3M868 512.8l-9.6 2.1M788 524.9l-6.5 -11.5l-5.1 4.6M795.1 515.5l-3 -2.1l-10 -1.9l-0.6 1.9M795.4 519l-0.3 -3.5M805.5 513.8l-6.4 -2.7l-4 4.4M804.8 521.6l0.7 -7.8M815.6 520.7l-4.2 -9.7l-5.9 2.8M822.7 515.8l1.9 -5.5l-3.7 -6.2l-9.4 6.1l-0.1 0.8M835.3 515.1l-1.8 -4.4l-8.9 -0.4M847 514.8l-4.7 -12.9M838.2 502.5l-4.7 8.2M855.1 512.5l0.1 -8.1M782.1 511.5l-1.9 -6.5M792.1 513.4l-1.3 -13.4M799.1 511.1l2.3 -11.3M811.5 510.2l-9.4 -10.4M820.9 504.1l0.2 -3.1M886.4 519.4l0.5 -9.3M886.9 510.1l-1.7 -0.2M885.2 509.9l-10.2 7.5M887.3 509.9l-0.4 0.2M895.3 511.6l-8 -1.7M875.7 505.9l-10.3 -0.7l-4.2 3.1M873.5 516.4l2.2 -10.5M885.2 509.9l-6.5 -5.3l-1.6 -0.3l-1.4 1.6M885.9 500.7l-7.2 3.9M887.3 509.9l1.7 -7.2l-3.1 -2M895.8 500l-0.1 -0.1l-6.7 2.8M903.7 496.5l-7.9 3.5M840.8 499.3l-1.1 3M848.6 500.9l0 -1.2l-1.4 -2.2l-6.4 1.8M860.2 507.6l-2.1 -7.5l-9.5 -0.4M866.6 494.8l-8.2 3.9l-0.3 1.4M865.4 505.2l3.4 -7.7l-2.2 -2.7M875.6 498.4l-6.8 -0.9M877.1 504.3l-1.5 -5.9M885.9 500.7l-1.8 -7l-0.7 -0.2l-6.4 2.8l-1.4 2.1M893.3 492.4l-1.9 -0.8l-7.3 2.1M895.7 499.9l-2.4 -7.5M903.7 496.5l-2.4 -6.7l-2.6 -1.3l-5.4 3.9M914.7 491.1l-4.8 -2.3l-8.6 1M771.1 506.7l-7.4 -6.6l-5.1 9.8M771.1 508.1l0 -1.4M778.2 502.5l-3.3 -1.3l-3.8 5.5M778.5 505.9l-0.3 -3.4M829.7 496l-1.1 -0.3l-10.9 3.7M831.9 503.5l-2.2 -7.5M840.8 499.3l-3.7 -4.3l-3.6 -1l-3.8 2M848.1 493.3l-4.3 -3.9l-6.7 5.6M847.2 497.5l0.9 -4.2M855.7 492l-3 -0.8l-4.6 2.1M858.4 498.7l-2.7 -6.7M866.6 494.8l-0.5 -5.2l-4.4 -1.4l-6 3.8M877 496.3l-4.3 -9.7l-1.9 -0.5l-4.7 3.5M883.4 493.5l-3.1 -9.1l-0.5 -0.2l-7.1 2.4M891.4 491.6l-3.1 -9.7l-1.1 -0.5l-6.9 3M898.7 488.5l0.8 -7.5M895.7 480.1l-7.4 1.8M901.2 479.7l-1.7 1.3M917.9 482.9l-4.7 -5M763.7 500.1l0.3 -2.6l-3 -2.8M774.9 501.2l-2 -4.1l-5.8 -0.3l-3.1 0.7M784.8 502.6l-1.9 -1.6M782.8 501l0.6 -6.8M783.4 494.2l-6.1 -2.9M777.3 491.3l-4.4 5.8M794.6 500l-5.6 -7.5l-0.5 -0.2l-5.1 1.9M799.5 499.9l1.9 -9.7l-4.1 -2.6l-8.3 4.9M807.1 488.9l-1.5 -0.7l-4.2 2M808.6 499.6l-1.5 -10.7M815.6 490l-8.5 -1.1M817.4 499.4l-1.8 -9.4M822.4 485.6l-5.6 2.4l-1.2 2M828.6 495.7l-3.9 -10l-2.3 -0.1M833.5 494l1.5 -8.2l-8.1 -1.7l-2.2 1.6M843.8 489.4l-1.8 -5.4l-3.8 -0.5l-3.2 2.3M852.7 491.2l-0.5 -7.2l-5.9 -3.9l-4.3 3.9M861.7 488.2l-2.7 -6.9l-6.8 2.7M870.8 486.1l-1.3 -5l-6.8 -2.9l-3.4 2.3l-0.3 0.8M879.8 484.2l-2.3 -7l-5 -1.1l-3 5M887.2 481.4l-0.6 -4.3l-5.1 -3.9l-4 4M892 471.6l-0.4 -0.1l-5 5.6M895.7 480.1l-3.7 -8.5M901.2 479.7l0.7 -4.6M896.3 470l-4.3 1.6M912.2 471.8l-5.3 -1.3l-5 4.6M916.6 468l-4.4 3.8M767.1 496.8l2.1 -6.8M777.3 491.3l-1.5 -6M788.5 492.3l-1.1 -6.1l-8.4 -3.5M797.3 487.6l-1.7 -4.6l-5.2 -0.2l-3 3.4M805.6 488.2l0.4 -6.3l-8.1 -2.9l-2.3 4M816.8 488l-3.4 -7.6l-4.5 -1.7l-2.9 3.2M822.4 485.6l-2 -6.7l-2.5 -1.8l-4.5 3.3M826.9 484.1l1.3 -6.2l-2.9 -1.5l-4.9 2.5M838.2 483.5l-4.6 -8.9l-5.4 3.3M846.9 477.3l-1.6 -3l-11.6 -0.1l-0.1 0.4M846.3 480.1l0.6 -2.8M854 474.7l-7.1 2.6M859.3 480.5l-5.3 -5.8M862.7 478.2l0.9 -4.9l-5 -3.5l-4.5 4.6M872.5 476.1l-2.2 -6.5l-6.7 3.7M881.5 473.2l-0.6 -5.7l-4.8 -1.4l-5.6 2.9l-0.2 0.6M891.6 471.5l-5.7 -6.6l-5 2.6M898.5 463.5l-11.9 0.1l-0.7 1.3M906.9 470.5l-3.1 -7.5l-5 0.3M916.6 468l-1 -4.9l-3.1 -2.8l-7.7 1.5M790.4 482.8l-2.4 -5.1M797.9 479l-0.8 -5.2l-1.4 -0.9M808.9 478.7l-0.7 -5.7l-5.4 -1l-5.7 1.8M811.4 469.8l-3.2 3.2M817.9 477.1l0.2 -7.5l-6.7 0.2M825.3 476.4l-3.7 -6.9l-2.6 -0.5l-0.9 0.6M833.7 474.2l-0.8 -5.7l-3.6 -1.3l-7.7 2.3M845.3 474.3l-0.2 -5.6l-9.9 -2.1l-2.3 1.9M854.1 474.4l-4.7 -9.5l-1.3 0l-3 3.8M858.1 464.7l-2.7 -1.8l-6 2M858.6 469.8l-0.5 -5.1M864.8 463.1l-6.7 1.6M870.5 469l-5.1 -5.6l-0.6 -0.3M876.1 466.1l-0.5 -4l-3 -3.6l-7.2 4.9M886.6 463.6l0 -3.9l-4.4 -6.2l-6.6 8.6M895.1 455.4l-0.5 -0.1l-8 4.4M904.8 461.8l-0.7 -9.3M899.3 452.5l-4.2 2.9M912.5 460.3l1 -7.9l-0.4 -0.7l-5.6 -2.4l-3.4 3.2M923.2 457.7l-2.8 -4.4M802.8 472l-0.5 -11M811.4 469.8l-4.2 -9.7M819 469l-0.1 -6l-8.8 -3.4M829.3 467.2l-2 -6.1l-5.9 -3l-2.5 4.9M835.2 466.6l1.9 -6.8l-4.8 -3.7l-5 5M848.1 464.9l-3.6 -5.7l-3.7 -1l-3.7 1.6M855.4 462.9l0.4 -11.8M850.8 452.1l-6.3 7.1M865.1 453.1l-3 -3.1M864.8 463.1l0.3 -10M872.6 458.5l-1.1 -4l-6.4 -1.4M882.2 453.5l-1.2 -4.9l-9.5 5.9M894.6 455.3l-6.7 -10.1M881.5 446.4l-0.5 2.2M899.3 452.5l-3.2 -8.8M907.5 449.3l-1.6 -7.4M913.1 451.7l7.6 -12.6M821.4 458.1l-0.1 -0.6M832.3 456.1l-0.2 -0.6M840.8 458.2l-0.1 -4.3M766.6 466.2l-0.4 -2.3M766.2 463.9l-1.7 -1.9M771.1 462.8l-4.9 1.1M775 465l-3.9 -2.2M807.7 457.5l-5.2 -1l-2.8 1.1l-1.7 4.2M809.3 459.7l-1.6 -2.2M815.6 455.5l-2.7 3.6M838.2 453.3l-8.9 0.7l-1.2 2.3M838.3 454.4l-0.1 -1.1M842.5 451l-4.3 2.1l0 0.2M848.1 452.6l-5.6 -1.6M862.5 448.3l-4.7 -0.1l-2.4 3M864 449.6l-1.5 -1.3M880 442.4l-6.4 3.9M882.7 446.2l-2.7 -3.8M889.2 440.7l-5.2 5.2M893.5 444.2l-4.3 -3.5M908.2 435.6l-2.8 3.4l-0.7 3.1M919.2 436.2l-6.9 2.3M771.1 462.8l0 -5.9M776.3 458.2l-3.5 -2.7M789.9 456.4l-2.2 -1.9l-5.1 -0.3M790.5 462.8l-0.6 -6.4M799.7 457.6l-3.6 -3.9l-1.6 -0.3l-4.6 3M802.5 456.5l-0.6 -4.8l-1.3 -1.9l-4.5 3.9M807.7 457.5l0.7 -5.4l-0.2 -0.3l-6.3 -0.1M814.1 449.6l-5.7 2.5M815.6 455.5l0 -4.2M821.7 450.9l-6.1 0.4M824.4 456.9l-2.7 -6M829.3 454l0.9 -4.8l-2.7 -2.9l-4.5 0.9l-1.3 3.7M836.4 449.1l-2.7 -0.7l-3.5 0.8M838.2 453.1l-1.8 -4M842.1 444.8l-1.7 -0.7M842.5 451l-0.4 -6.2M848.8 445.6l-2.2 -0.9l-4.5 0.1M851.1 452l-2.3 -6.4M857.8 448.2l0.7 -6.5M858.3 441.6l-6.6 0.3l-2.9 3.7M862.5 448.3l1.9 -7.6M871.3 448.3l-6.9 -7.6M871.8 437.2l-7 2.6M873.6 446.3l-0.1 -6.7M880 442.4l1.1 -3.7M889.1 440.6l-6.8 -2.6M881.5 438.1l-0.4 0.6M898 434.2l-7.3 0.8l-1.6 5.6M896.4 443.6l1.6 -9.4M905.4 439l-7.2 -5M908.2 435.6l0.1 -2.3M906.6 431.4l-8.2 1.6l-0.2 1M915.4 430.5l-7.1 2.8M782.6 454.2l-2.3 -4.2M787.7 454.5l0.9 -8.8l-2.5 0.5l-5.8 3.8M789 445.3l-0.4 0.4M794.5 453.4l-0.9 -6.4l-4.6 -1.7M800.6 449.8l0.2 -1.5l-5.9 -1.9l-1.3 0.6M808.2 451.8l-2.4 -5l-2.5 -0.9l-2.5 2.4M814.1 449.6l0.2 -5l-2.8 -0.9l-5.7 3.1M823 447.2l-4 -4.3l-2.1 0l-2.6 1.7M828.8 441.6l-2.1 -2.2l-3.1 -1.3M823.2 438.2l-4.2 4.7M827.5 446.3l1.3 -4.7M833.7 440.6l-4.9 1M833.7 448.4l0 -7.8M840.4 444.1l-1.6 -3l-3.1 -1.9M844 437l-5.2 4.1M846.6 444.7l-1.1 -6.5l-1.5 -1.2M851.7 441.9l-1 -4.3l-5.2 0.6M858.3 441.6l-1.5 -5.2l-2.2 -2.4l-3.1 1l-0.8 2.6M864.8 439.8l-0.7 -3.8M862.7 434l-5.9 2.4M873.2 432.7l-3 -1.4M877.4 431.5l-0.7 -0.3M889 430.8l-2.1 0.1M897.3 429.4l-1.9 -1.1M906.6 431.4l-0.4 -2.2l-4.5 -3.4l-4.4 3.6M913.3 424.7l-3.6 -0.9M786.1 446.2l-2.6 -1.6M789 445.3l0 -1.1l-2 -3.6M794.9 446.4l3.3 -6.2M798.2 440.2l0.4 -0.3M792.5 438.5l0.6 1.8M793.1 440.3l-4.1 3.9M803.3 445.9l-1.4 -5.3M816.9 442.9l-1.5 -5.6M823.2 438.2l-4 -2.7M826.7 439.4l4.2 -5.7l-6.2 -1.5l-1.1 5.9M835.7 439.2l-0.5 -5.3l-1.8 -0.9l-2.5 0.7M839.6 430.9l-4.4 3M844 437l-0.1 -4.8l-4.3 -1.3M847.5 431.6l-1.3 -0.5l-2.3 1.1M856 431.2l-2.9 -3.5l-5.6 3.9M854.6 434l1.4 -2.8M861.3 429.3l-5.3 1.9M862.7 434l-1.2 -4.6M870.2 431.3l-2.8 -3.4l-5.9 1.5M872.7 423.5l-4.6 2.4l-0.7 2M879.1 424.6l-2.7 3.6M883.4 429.1l0.3 -5.6M890.3 429l-1.5 -5l-4.3 -1.6M895.4 428.3l-0.2 -7.1l-2.5 -0.3l-3.9 3.1M901.7 422.4l-5.7 -1.7M909.7 423.8l-1.5 -2.3l-3.7 -1.4M833.4 433l-2.5 -5.9l-0.5 -0.4l-5.3 3.1M839.2 427.9l-2.7 -1.9l-5.6 1.1M839.6 430.9l-0.4 -3M846.9 424.9l-4.7 -2.4l-3 5.4M846.2 431.1l0.7 -6.2M853.1 427.7l-0.4 -3.7l-3.1 -0.5l-2.7 1.4M859.1 422.2l-2.9 -0.7M861.3 429.3l-2.2 -7.1M868.1 425.9l-2.9 -5.1l-5.1 0.7l-1 0.7M872.7 423.5l0.5 -2.2l-6.2 -2.7l-1.8 2.2M876.1 418.3l-2.9 3M883 417.5l-6.4 -0.3l-0.5 1.1M884.5 422.4l-1.1 -4.7l-0.4 -0.2M892.7 420.9l-2.6 -3.8M885.9 416.1l-2.5 1.6M896 420.7l1.7 -7.2l-3.2 -1l-4.4 4.6M901.7 412.1l-4 1.4M910.3 411.5l-0.1 0M916.1 406.1l-5.8 5.4M830.4 426.7l-0.7 -4.1l-2.3 -0.7M831.6 421.2l-1.9 1.4M836.5 426l-1.1 -4.5M841.5 420.5l-1.8 -1.3l-4.3 2.3M842.2 422.5l-0.7 -2M849.6 423.5l-1.5 -5.9l-2.2 0l-4.4 2.9M856.2 421.5l-2.4 -5.9l-2.5 -0.9l-3.2 2.9M861.1 416.1l-4.3 -3l-3 2.5M867 418.6l0.3 -4.9l-1.3 -1.2l-4.9 3.6M887.5 409.8l-2.1 -1.4l-4.2 1.9M894.5 412.5l-3.2 -3.7M891.9 407.1l-0.6 1.7M901.7 412.1l-0.7 -6.4M895.9 403.8l-4 3.3M910.2 411.5l-2.8 -5.8M831.6 421.2l0.6 -6.6l-2.5 -0.3M839.7 419.2l-1.9 -7l-1.4 -0.5l-4.2 2.9M840.1 411.3l-2.3 0.9M845.9 417.6l-2.1 -5.1M851.3 414.7l-1 -1.7l-2.2 -1.5l-4.3 1M854.1 405.6l-3.8 7.4M856.8 413.1l1.9 -4.3l-4.6 -3.2M866 412.5l-1.5 -3.4l-2.7 -0.9l-3.1 0.6M877.5 405.5l-8.5 -1.2M880.2 403.9l-2.4 1.2M887.6 400.7l-0.1 0.2M836.4 411.7l-2.7 -5.5l-1.4 -0.6M843.7 406l-6.4 -3l-3.6 3.2M840.1 411.3l3.6 -5.3M848.1 411.5l-1.2 -7.4l-0.2 0l-3 1.9M854.1 405.6l-1.4 -2.4l-5.8 0.9M861.8 408.2l-0.7 -8.9l-0.9 -0.4l-7.1 3.5l-0.4 0.8M864.9 398.9l-3.8 0.4M877.8 405.1l-2.9 -5.1l-3.3 -0.3l-2.6 2.2M878.1 397.1l-3.2 2.9M880.2 403.9l0.8 -5.6M880.9 398.2l-2.8 -1.1M837.3 403l2.1 -4.4M846.7 404.1l-4.2 -7.3M851.5 395l-4.4 -2M853.1 402.4l-1.6 -7.4M860.2 398.9l-1.2 -4.1l-5 -1l-2.5 1.2M866.9 393.2l-1.2 -1.7l-3.8 -1.3M871.6 399.7l0.1 -5.8l-4.8 -0.7M878.1 397.1l-2.5 -5.8M875.3 391.3l-3.6 2.6M855.3 387.2l-5.3 -1.3M855.8 387l-0.5 0.2M861.5 390.3l-5.7 -3.3M869.9 384.6l-6.1 -1.6l-1.9 7.2M865.7 391.5l4.5 -6M875.3 391.3l-5.1 -5.8M855.8 387l2.8 -6.2M860.2 380.4l-1.6 0.4M867.6 376.3l-4.9 5.1M792.8 436.3l-5.2 0.8M798.3 439.8l-0.1 -0.4l-5.4 -3.1M811.9 438.9l-4 -3.1l-7.8 4.4M813.2 433.4l-4.8 0.9l-0.5 1.5M817 436.5l-3.8 -3.1M787.6 431l-5.2 4M792.8 436.3l-3.8 -5.1l-1.4 -0.2M794.1 427.2l-5.1 4M798.2 439.4l0.9 -8.6l-5 -3.6M807.4 428.8l-6.3 0.3l-2 1.7M808.4 434.3l-1 -5.5M813.2 433.4l0.2 -6.9l-2.9 -0.8l-3.1 3.1M817.3 426.2l-3.9 0.3M823.6 433.4l-6.3 -7.2M822.3 420.5l-3.5 2.4l-1.5 3.3M826.7 424.3l-4.4 -3.8M784.7 422.8l-3.2 -0.3l-5.6 3.4M787.6 431l-2.9 -8.2M794.1 427.2l-1.1 -3.8l-5.3 -1.8l-3 1.2M801.1 429.1l0.4 -9.5l-3.7 -0.3l-4.8 4.1M810.5 425.7l-2.4 -6.3l-3.2 -1.5l-3.4 1.7M818.8 422.9l-4.3 -5.9l-1.2 -0.3l-5.2 2.7M823.6 415.6l-1.6 -1.7l-7.5 3.1M822.3 420.5l1.3 -4.9M826.9 415.5l-3.3 0.1M829.1 416.4l-2.2 -0.9M781.5 422.5l-0.5 -4.5l-3.3 -4.8M789.9 412.7l-3.6 -1l-5.3 6.3M787.7 421.6l2.2 -8.9M792.1 411.7l-2.2 1M797.8 419.3l-4.4 -6.8l-1.3 -0.8M804.9 417.9l-0.1 -1.8l-4.3 -4.8l-7.1 1.2M813.3 416.7l0.1 -7.4l-5.5 0.2l-3.1 6.6M822 413.9l-1.3 -4.3l-5 -2.2l-2.3 1.9M826.9 415.5l3.1 -9.6l-4.7 -0.3l-4.6 4M832.4 405.2l-2.4 0.7M786.3 411.7l-4 -3.5M793 407.3l-8.4 -2.8M792.1 411.7l0.9 -4.4M793.7 406l-0.7 1.3M800.5 411.3l0.7 -4.8l-3.8 -2.6l-3.7 2.1M807.9 409.5l-2.4 -3.5l-4.3 0.5M815.7 407.4l-0.8 -5l-6 -4.5l-3.4 8.1M825.3 405.6l-2.1 -4.5l-2.2 -1.9l-6.1 3.2M834.2 401.7l-5.4 -3.5l-5.6 2.9M793.7 406l-4.6 -5.6l-1.9 0M795.4 393.5l-6.3 6.9M797.4 403.9l1.4 -7M797.9 394.5l-2.5 -1M808.9 397.9l-1.7 -4.6M821 399.2l0.5 -3.5l-5.5 -4.2M828.8 398.2l-2.9 -5.1l-4.4 2.6M833.4 391.7l-0.5 -0.3l-6.8 1.3l-0.2 0.4M838.4 399.2l-5 -7.5M843.6 388.4l-4.4 -2.9l-5.8 6.2M844.1 395.8l-0.5 -7.4M846.3 386l-2.7 2.4M850.1 385.7l-3.8 0.3M795.4 393.5l-3.2 -3.3M826.1 392.7l-1.5 -5.3l-5.9 -1.6M832.9 391.4l-2.2 -7.2l-3.1 0.3l-3 2.9M839.2 385.5l-2.1 -4.2M832.2 382.8l-1.5 1.4M846.3 386l-1.1 -11.4M853 378.7l-7 -4.5M811.2 383.8l-0.3 -0.1M827.6 384.5l-5.6 -9.7M803.9 370.7l0.3 0.1M910.1 401.8l-4.7 -1.2M901.5 402.6l-1.5 2.7M914.8 398.9l-4.7 2.9M896 393.2l-1.8 5.9M901.5 402.6l-1.5 -7.4M905.4 400.6l1.4 -4.5M903.4 394l-3.4 1.2M914.8 398.9l-2.6 -4.9l-5.4 2.1M912.5 390l-0.3 4M889.6 397.8l0.3 -4.3M896.7 390.9l-0.3 2M903.4 394l1.9 -5M900.4 388.1l-3.7 2.8M910.8 389l-4.6 -0.5M887.7 392.1l-0.6 -6.8l-2.1 0.1M900.2 384l-3.7 -1.9l-4 2.3M900.4 388.1l-0.2 -4.1M908.9 380.3l-4.8 1.8M888.9 383.8l-0.7 -6.1M885.2 376l-6 1.3M898 376.6l-7.5 -0.8l-2.3 1.9M896.5 382.1l1.5 -5.5M877 372.8l-6.9 2.1M879.2 377.3l-1.8 -4.3l-0.4 -0.2M885.2 376l-0.8 -6l-3.9 -0.5l-3.1 3.5M890.5 375.8l1.2 -6.4M894.2 369l-2.5 0.4M901.6 368.3l-2.1 3.5M843.7 375.4l-3.8 -4.5M857.9 369l-2.2 2.4M868.7 369.2l-2.8 -0.4l-3.5 2.5M870.1 374.9l-1.4 -5.7M872.2 366.5l-3.5 2.7M877 372.8l-4.8 -6.3M887.8 366.4l-3.2 -4.7M894.2 369l2.7 -7.4l-1.3 -2.1M901.6 368.3l-1.3 -4.9M850.9 371.6l0.3 -3M857.9 369l-0.3 -1.7M865.9 368.8l-1.5 -3M915.7 379.7l-6.5 2.1M919.3 377.4l-3.5 2.1l-0.1 0.2M915.8 379.5l-5.6 -9.2M913.2 368l-3 2.3M821.8 356.6l-4 3.2M829.8 372.9l-4.2 -8.6M822 357.1l-0.2 -0.5M843.6 370.1l-0.1 -0.8l-7.5 -12.1M855.6 362.1l-0.9 -0.2l-11.2 7.4M858.2 367.1l-2.6 -5M866.7 365.4l-0.9 -5l-4.6 -0.4l-5.6 2.1M875.9 360.7l-6.5 -4.3l-3.6 4M876.9 363.3l-1 -2.6M885.8 361.5l0 -4.4l-4.2 -1.7l-5.7 5.3M893.5 359.9l0 -3.1l-5.1 -1.6l-2.6 1.9M900.2 354.8l-0.8 -0.4l-5.9 2.4M911 354l-4.3 -2.5M854.7 361.9l-2.7 -7.7l-11.3 -3.1l-2.5 0.5M861.2 360l-1.8 -7l-3.5 -1.7l-3.9 2.9M867.3 350.6l-7.9 2.4M869.4 356.4l0.3 -4l-2.4 -1.8M881.6 355.4l-2.7 -4.8l-5.8 -0.2l-3.4 2M888.4 355.2l0.9 -8.1l-6.8 -0.8l-3.6 4.3M890.8 346l-1.5 1.1M906.7 351.5l0.3 -7.1l-7.8 -1.1M910.1 342.8l-3.1 1.6M855.9 351.3l1.3 -7.2l-6.5 -1.9l-10 8.9M867.3 350.6l-4.3 -8l-1.5 -0.5l-4.3 2M866.7 340.7l-3.7 1.9M873.1 350.4l0.9 -8.4l-7.3 -1.3M878.7 338.2l-4.7 3.8M882.5 346.3l-3.5 -8l-0.3 -0.1M890.8 346l-2.8 -10.3l-0.3 -0.3l-8.7 2.9M895 334.8l-7 0.9M910.1 342.8l-1.8 -9.2l-3.8 -1.3l-5.6 4.7M821.8 356.6l0.3 -0.4M822.6 353l-5.6 -7.2M817 345.8l-5.9 -3.1M811.1 342.7l-6.9 2M850.7 342.2l-1.6 -6.3l-5.4 -1.2l-4.3 5.6M861.5 342.1l-1.5 -7.1l-6.9 -3.2l-4 4.1M866.7 340.7l4.3 -8.8l-9.6 1.5l-1.4 1.6M875.8 333.4l-3.5 -2.5l-1.3 1M878.7 338.2l-2.9 -4.8M887.7 335.4l-0.7 -5.3l-4.5 -1.9l-6.7 5.2M895 334.8l0.2 -6.9M889 327.3l-2 2.8M904.5 332.3l-2.1 -6.2l-3.1 -1.9M911.2 322.3l-1.7 -0.3l-7.1 4.1M811.1 342.7l-3.1 -8l-5.7 -1.1M817 345.8l2 -13.5l-7.1 -2.3l-3.9 4.7M823.8 331.4l-2.9 -0.1l-1.9 1M827.2 339.1l-3.4 -7.7M834.1 324.9l-10.3 6.5M832.7 340.4l1.4 -15.5M843.7 334.7l-2.9 -5.2l-6.2 -5.3l-0.5 0.7M853.1 331.8l-0.4 -5.5l-0.1 -0.1l-11.8 3.3M861.4 333.4l1.2 -10.5M859.9 320.6l-7.2 5.7M872.3 330.9l-0.5 -2.6M882.5 328.2l-1.8 -5.1M889 327.3l-1.1 -10.1M878.9 313.7l-0.2 0.2M899.3 324.2l-1.9 -4.9l-6.7 -3.2M905.7 315l-2.2 -0.3l-6.1 4.6M811.9 330l-0.8 -4.2l-5.1 -2.2l-4.6 5.1M820.9 331.3l-1.2 -7.9M818.8 317.5l-7.7 8.3M834.6 324.2l0 -3.2M852.6 326.2l-8 -6.7M859.3 319.6l-13.7 -7.4M903.5 314.7l-2.7 -8.6M806 323.6l-2.4 -5.1M834.6 311.5l0 -0.5M834.6 311l-0.1 -0.3M834.6 311l0.5 0.5M864.6 317.8l-3.1 -7.1M861.5 310.7l-6.6 -4.2M884.3 301.9l0.2 -1.5M864.4 304.5l-2.9 6.2M920.3 374.2l-1 0.1M925.2 372.2l-4.9 2M919.3 374.3l-0.6 -7.8l-5.6 -1.8l-1.6 0.5M925 365.9l-4.5 -1l-1.8 1.6M920.5 364.9l0 -3.3M916.3 358.5l-3.2 6.2M924.7 358.6l-4.2 3M916.3 358.5l-0.7 -3.3M921.7 352.5l-1.5 -0.4l-4.6 3.1M929.1 358.7l0.1 -6.5l-3.7 -1.2M920.2 352.1l-0.6 -1.8l-2.9 -2.6M927.4 343.7l-5.8 -0.2M921.6 343.5l-0.6 -0.7M927.4 339.5l-0.4 -0.7M932.6 337l-5.2 2.5M925.7 332.9l-3.1 -0.8l-4.7 4M922.6 332.1l-1.3 -5.3M918.3 324.8l-2.1 1.5M929 331.5l-2.7 -7.6l-5 2.9M914 321.2l-2.8 1M926.4 323.7l-1.4 -6M920.4 317.9l-2.3 6.2M931.5 323.7l-1.1 -8.2M928 314.8l-3 2.9M911.2 322.2l2.8 -0.9M920.4 317.9l-5.3 -6M926.7 307.8l-4.9 5l-0.1 0.2M932.4 316.1l-3.3 -7.2M938.4 304l-9.3 4.9M921.8 312.8l-3.7 -8.3l-4.8 0.6l-2.8 2M926.7 307.8l-1 -5.3l-3.9 -1.2l-3.7 3.2M937.4 300.1l-6.1 -0.6l-5.6 3M906.7 296.1l-7.4 -1.1l-2.7 2.9M906 303.3l0.7 -7.2M913.3 305.1l0 -10.4l-5.3 0.2l-1.3 1.2M919.8 295.1l-5.4 -1l-1.1 0.6M921.8 301.3l-2 -6.2M926.1 290.8l-1.7 -0.3l-4.6 4.6M934 287.5l-7.9 3.3M824.7 312.7l-8 -5.8M843.6 304.7l-7 -2.6l-6.4 4.4l-1.5 3.4l-0.3 2M843.5 308.8l0.1 -4.1M847.4 299.8l-3.8 4.9M853.1 306.8l-4.4 -6.7M859.8 305.4l-1.4 -7.5l-3.6 -1.1M869 303.5l-1.4 -5.7l-6 -2.3l-3.2 2.4M876.2 296.2l-4.9 -3l-3.7 4.6M877 301.9l-0.8 -5.7M885.7 300.1l-1.4 -7.7l-2.3 -0.6l-5.8 4.4M890.4 290.5l-2.6 -0.7l-3.5 2.6M899.3 295l-0.5 -6.6l-1.1 -0.8l-7.3 2.9M908 294.9l-1.9 -5.9l-2.1 -1.7l-5.2 1.1M914.4 294.1l-0.5 -8.5l-7.8 3.4M924.4 290.5l-2 -5.2M920.9 283.8l-7 1.8M930.4 281.6l-8 3.7M828.7 309.9l-7.4 -9.4M828.7 296.7l-3.3 -2M838.2 296.7l-5 -2.6l-4.5 2.6M836.6 302.1l1.6 -5.4M847.4 299.8l-3.8 -5.2l-0.4 -0.2l-5 2.3M849.1 289.8l-5.5 4.8M854.8 296.8l-1.6 -6.4l-4.1 -0.6M861.6 295.5l0.4 -4.8l-5.4 -3.7l-3.4 3.4M871.3 293.2l-0.4 -4.3l-4.1 -1.1l-4.8 2.9M882 291.8l-4.4 -5.1l-4.1 0l-2.6 2.2M887.8 289.8l-0.1 -3l-6.3 -5.4l-3.8 5.3M897.7 287.6l-1 -3.4l-6.5 -1.4l-2.5 4M904 287.3l2.4 -7.4M906.3 279.9l-8.6 1.3l-1 3M913.9 285.6l-3.9 -5.6l-3.6 -0.1M913.3 276.1l-3.3 3.9M930.4 281.6l-1.3 -4.3l-6 -1.6l-1.8 2.1M833.6 287.7l-5.8 -1M833.2 294.1l0.4 -6.4M839.4 286.5l-3.4 -0.3l-2.4 1.5M843.2 294.4l-3.8 -7.9M849.1 289.8l-2.3 -7.1l-2.7 -0.6l-4.7 4.4M853 280.2l-6.2 2.5M856.6 287l0 -2.8l-3.6 -4M866.8 287.8l-2.3 -5.2l-3 -0.5l-4.9 2.1M873.5 286.7l-1.6 -7.7M868.9 276.8l-4.4 5.8M881.4 281.4l0.1 -1.1l-4.3 -2.7l-5.3 1.4M890.2 282.8l-1.4 -6.3l-2.6 -0.4l-4.7 4.2M897.7 281.2l-2.7 -7.3l-0.5 -0.3l-5.7 2.9M906.3 279.9l-3 -6.5M905.6 269.5l-2.3 3.9M913.3 276.1l-0.5 -4.5l-4.3 -2.7l-2.9 0.6M923.1 275.7l-0.3 -5.6l-5.5 -1.3l-4.5 2.8M932.4 274.6l-3.3 -8l-3.6 0.2l-2.7 3.3M932.6 264.5l-3.5 2.1M836 286.2l-2.4 -8.2l-0.4 -0.4M842.5 277.7l-8.9 0.3M844.1 282.1l-1.6 -4.4M842.3 275.3l0.2 2.3M853 280.2l1.1 -6M861.5 282.1l-1.4 -9.3M868.9 276.8l-1 -3.2l-5 -2M877.2 277.6l0.4 -6.3l-6.5 -0.4l-3.2 2.7M886.2 276.1l-4.5 -7.4l-4.1 2.6M893.8 265.8l-2.4 -1.1l-9.4 2.8l-0.3 1.2M897.6 263.4l-3.8 2.4M905.6 269.5l-4.3 -5.3l-3.7 -0.8M911.8 260.5l-1 -1.1l-4.7 0.6l-4.8 4.2M908.5 268.9l3.3 -8.4M917.3 268.8l-2.4 -7.8l-3.1 -0.5M925.5 266.8l-3.1 -6.6l-3 -1l-4.5 1.8M928.7 254.9l-6.3 5.3M871.1 270.9l0.7 -6.7l-2.2 -0.6M882 267.5l-2.9 -5.4l-3.9 -0.5l-3.4 2.6M891.4 264.7l-2.6 -6.4l-6.4 -1.3l-3.3 5.1M897.6 263.4l0.3 -6.4l-5.6 -3l-3.5 4.3M901.5 255.1l-1 -0.2l-2.6 2.1M906.1 260l-4.6 -4.9M910.8 259.4l-0.3 -3.6l-2.8 -3.5l-6.2 2.8M919.4 259.2l-0.6 -9.2l-1 -0.6l-7.3 6.4M926.3 248.7l-7.5 1.3M875.2 261.6l-3 -5.3M879.4 250.9l-7 3.1M882.4 257l-0.8 -4.1l-2.2 -2M892.3 254l-0.5 -2.5l-5.2 -1.3l-5 2.7M900.5 254.9l-0.8 -5.6l-6.1 -0.5l-1.8 2.7M903.8 244.9l-4.1 4.4M907.7 252.3l-0.4 -6.9l-3.5 -0.5M917.8 249.4l-2.6 -3.5l-6.1 -1.5l-1.8 1M919.4 239.7l-4.2 6.2M924.6 242.2l-5.2 -2.5M879.4 250.9l-1.2 -5.9l-5.5 -0.7M886.6 250.2l-0.3 -7.5l-7 1.1l-1.1 1.2M893.6 248.8l-1.2 -6.4l-3.3 -1.8l-2.8 2.1M903.8 244.9l-4.3 -4.7l-7.1 2.2M899.5 239.7l0 0.5M909.1 244.4l1.4 -9.3l-5.9 -1.7M919.4 239.7l-0.9 -5l-4.8 -1.6l-3.2 2M922.4 232.6l-3.9 2.1M879.3 243.8l-0.8 -8.9M889.1 240.6l-1.1 -6.7l-6.9 -2.9M899.5 239.7l-5.5 -9.6l-0.4 0l-5.6 3.8M901.9 228.4l-1.6 -0.4l-6.3 2.1M904.6 233.4l-2.7 -5M913.1 227.5l-5.9 -3.1M913.7 233.1l-0.6 -5.6M919.8 221.1l-1.3 0.3l-5.4 6.1M893.6 230.1l-1.8 -5.1l-3.5 -1.9M900.3 228l-1.9 -9.5M907.2 224.4l-0.2 -4.7l-3.4 -2.7M918.5 221.4l-6.2 -3.8l-5.3 2.1M912.3 217.6l0.1 -3.3M943.5 310l-0.6 -3.9M951.7 307l-1.7 -3.1M954.5 300.2l-4.5 3.7M959.2 303.5l-0.8 -2.3M966.9 300.7l-5.1 -3.2M948 303.3l-1.9 -6.1l-3.7 -1.4l-5.2 3.6M954.5 300.2l-1.1 -4.5l-3.3 -1.2M957.3 292.6l-3.9 3.1M964.7 291l-3.1 2.7M942.1 290.7l-4 -4.1M952.2 283.2l-3 5.2M967.1 282.8l-4.1 1.8M969.5 290.5l-0.7 0.1M975.5 296.2l-6 -5.7M978.9 292.4l-4 -6.3M978.4 284.6l-3.5 1.5M974.5 285.9l-2.1 -3.6l-4.5 -2.9M988.3 282.2l-0.5 1.9M988.3 282.2l-6.3 -2.4l-5.5 1.6M938.7 286.4l-2.5 -3.4M943.1 282.1l-0.5 -0.5M960.1 275.8l-3.5 -1.1l-4.3 5.5M960.3 281.3l-0.2 -5.5M967.7 279.5l-2.1 -5.3M972.5 271.8l-6.9 2.4M975 278.8l-0.2 -5.9M982 279.8l-0.8 -6.8M935.2 275l-1.1 0.7M950 278.8l-3.8 -5M955.1 271.8l-5.3 -1M956.6 274.7l-1.5 -2.9M965.5 274.2l-1.5 -6.5l-6 -1.6M972.5 271.8l-0.6 -4.3l-6.4 -1.5M978.5 271.6l1.1 -7l-5.2 -1.9M980.1 264.4l-0.5 0.2M958 266.1l-1.1 -2.8M965.5 266l1 -4.9M974.4 262.7l-2.2 -3.7M946.4 262.9l-3.9 2.6l-0.1 1.1M942.5 265.5l-4.3 -5.3l-1.6 -0.6l-4.4 4.1M946.4 262.9l-0.2 -6.9l-2 0.1l-6 4.1M936.6 259.6l-2.1 -5.1M939.1 250.3l-4.6 4.2M947.1 248.6l-7.4 0.4M930.3 246.9l-4.6 0.2M942.8 241.4l-4.3 4.4M942.8 241.4l-0.4 -3.5l-5.2 -1.4l-4.5 3.3M946.5 234.6l-4.1 3.3M932.7 239.8l-3.2 -6.5M937 228.9l-3.1 0.2l-4.4 4.2M938.4 227.4l-1.4 1.5M946.7 228.5l-8.3 -1.1M933.9 229.1l-6.9 -4.7l-5.8 3M938.4 227.4l-1.5 -6.4l-2.8 -1.2l-6 2.8l-1.1 1.8M947.4 220.6l-9 -0.8l-1.5 1.2M928.1 222.6l-2.5 -7.6l-7.5 -1.5M932.3 214.5l-2 -1.6M940.5 214.7l-4 -2l-4.2 1.8M948.9 213.6l-4.6 -1.2l-3.8 2.3M936.5 212.7l0.8 -7.8M944.3 212.4l-5 -8M950.6 205.4l-5.6 -2.2M965.4 255.1l-6.9 3.2l-2.8 5.3M967.5 260.8l-2.1 -5.7M973.6 253.3l-7.9 1.2l-0.3 0.6M976.7 254.9l-3.1 -1.6M958.5 258.3l-3.2 -7l-2 -1M962.9 248.9l-7.6 2.4M965.7 254.5l-1.8 -5.2l-1 -0.4M971.7 245.2l-3 -0.8l-4.8 4.9M975.7 243.3l-4 1.9M953.3 250.3l1 -6.7l-6.9 0.7M962.9 248.9l-4.9 -7.3l-2.1 -0.4M968.7 244.4l-2 -4.7M971.8 234.8l-5.1 4.9M955.9 241.2l-2.8 -5.3M952.8 235.9l-5.6 2.1M947.2 238l-0.8 -0.1M964.5 238.9l-1.7 -5.4l-7.7 0.4l-2 2M964.7 229.8l-1.9 3.7M952.8 235.9l-5.2 -7M955.1 233.9l1.8 -5.9l-4.7 -4.1l-4.6 5M963.4 225.5l-6.5 2.5M963.5 225.2l-0.1 0.3M963.5 225.2l-6.5 -6.9l-4.9 2.9M963.9 214.9l-6.6 2.2l-0.3 1.2M957.3 217.1l-2.1 -5.9l-5.4 -2.2M961.5 207.5l-6.3 3.7M981.1 235.7l-8.9 0.1M981.3 235l-5.1 -12.3M991.6 221.9l-4.2 -2.9M971.7 216.5l-6.9 1.1M978.2 211.6l-6.1 2.9l-0.4 2M993.7 205.5l-5.4 0.4l-2.9 6.2M997.3 203l-3.6 2.5M1002.5 206.3l-5.2 -3.3M972.1 214.5l-4.4 -9.4l-7.2 -0.5M978.2 211.6l0 -10.2l-5.6 -1.4M983.8 200.6l-5.6 0.8M988.3 205.9l-4.5 -5.3M997.3 203l0.9 -4.1M993.3 194.5l-8.6 3l-0.9 3.1M1014.3 203.1l-9.9 -9.2M1011.6 187.7l-7 4.8l-0.2 1.4M1020.1 191.8l-8.5 -4.1M972.6 200l-1.3 -8.7l-1 -0.5l-12.3 6.2M984.7 197.5l-1.8 -8.3l-8.3 0.2M1011.2 181.1l-3.3 -1.3M1017.9 176.5l-6.7 4.6M970.3 190.8l-6.7 -7.8M974.6 189.4l1.3 -11.3l-12.1 4.3M986.7 184.9l-5.2 -7.3l-4.3 -1.3l-1.3 1.8M988.9 170.5l-7.4 7.1M994.4 183.2l1.4 -8.7M1007.9 179.8l-4.7 -8.3M1015.1 163.5l-1.3 3.7M973.9 168.9l-9.5 1.4M977.2 176.3l-3.3 -7.4M987.7 167.4l-7.7 -4.1l-5.9 5.2l-0.2 0.4M988.9 170.5l-1.2 -3.1M1001.1 171l-1.7 -8.2M995 159.5l-7.3 7.9M1011.3 157.9l-3.6 0.3l-8.3 4.6M968.5 158.1l-3.2 -0.7M980 163.3l0.7 -9.3l-2 -1.1l-10.2 5.2M992.4 151.9l-3.9 -0.7l-7.8 2.8M996.8 148.8l-4.4 3.1M997.3 148.1l-0.5 0.7M986.6 136.1l-0.8 4.2" fill="none"/>
<path d="M31.4 168.2l-11.4 -6.5M23.4 179l8 -10.8M34.9 167.1l-3.5 1.1M41.6 182.8l-1.1 -11l-5.6 -4.7M49.1 183.3l7.2 -9.2l-0.1 -0.8l-9.5 -3.7l-6.2 2.2M64.9 184.2l0 -0.6M81.5 180.2l-9.7 -5.7l-6.9 9.1M80.2 185l1.3 -4.8M91.3 181.1l-7.5 -2.3M95.6 188.8l-4.3 -7.7M102.2 185.4l-4.3 4M34.9 167.1l2.1 -9.6l-2.8 -2.9l-14.2 0.1M46.7 169.6l3 -8.1l-3.1 -7l-9.6 3M56.2 173.3l4.3 -5.9l-1.6 -2.6M71.8 174.5l-0.5 -2.8l-3.6 -4.3l-7.2 0M86.7 166.9l-1.4 -1.9l-14 6.7M94.1 168.6l-7.4 -1.7M91.3 181.1l6.1 -7.4l-3.3 -5.1M102.2 185.4l0.1 -9.7l-0.4 -0.6l-4.5 -1.4M115.3 178.8l-13 -3.1M34.2 154.6l-1.3 -12.6l-2.6 -1.3l-10.3 5.5M47.6 147.6l-6.6 -7.9l-8.1 2.3M48.6 151.8l-1 -4.2M58.9 164.8l0.9 -12.9l-11.2 -0.1M67.7 167.4l5.6 -12.8l-0.9 -1.4l-11.2 -2.1l-1.4 0.8M85.3 165l-0.4 -2.2l-3.7 -5.5l-7.9 -2.7M102.5 159.4l-3.2 -5.1l-14.4 8.5M94.1 168.6l8.4 -9.2M101.9 175.1l8.7 -12.1l-8.1 -3.6M110.9 163l-0.3 0M117.9 167.8l-7 -4.8M30.3 140.7l-3.8 -10.7l-6.5 0.5M44.1 133.2l-0.8 -5.4l-15.8 0.8l-1 1.4M41 139.7l3.1 -6.5M56.7 137l-12.6 -3.8M47.6 147.6l9.1 -10.6M61.2 151.1l-0.7 -14l-1 -0.7l-2.8 0.6M74.4 145.4l-6.6 -9.1l-7.3 0.8M72.4 153.2l2 -7.8M85.7 143.2l-11.2 2.1M81.2 157.3l7.1 -8.2l-2.6 -5.9M99.3 154.3l-0.6 -3.9M110.9 163l4.4 -11.5l-1.3 -4.2l-13 -0.9l-2.3 4M121.4 152.8l-6.1 -1.3M27.5 128.6l0.2 -6.6M43.3 127.8l2.4 -5.8M59.5 136.4l-1.8 -14.4M67.8 136.3l3.3 -3.9l-1.9 -10.4M80.3 134.5l-2.9 -2.1l-6.3 0M74.5 145.3l5.8 -10.8M87.9 135.5l-7.6 -1M85.7 143.2l2.2 -7.7M101 146.4l-1.2 -8.9l-7.6 -5l-4.3 3M114 147.3l4.1 -7.5l-2.1 -5.9l-13 1.9l-3.2 1.7M124 141.7l-5.9 -1.9M77.4 132.4l3 -10.4M92.2 132.5l-0.5 -10.5M103 135.8l2.6 -12.3l-1.2 -1.5M116 133.9l1.7 -5.3l-12.1 -5.1M123.9 122l-6.2 6.6M20 273.5l6.1 1.5l3.1 -15.4l-9.2 1.1M35.5 282.4l2.9 -11.1M38.4 271.3l-8.1 -12.4M30.3 258.9l-1.1 0.7M57.1 272.7l-0.9 -1.9l-8.2 -5.8l-9.6 6.3M49.1 285.6l8 -12.9M74 277.7l-2.4 -3.2l-14.5 -1.8M70.2 290.7l3.8 -13M89 279l-15 -1.3M91.9 278l-2.9 1M30.3 258.9l1 -1.7l-10.6 -18l-0.7 0M48 265l-2.2 -7.5l-14.4 -0.3M59.9 248.9l-7.9 -1.3l-6.2 9.9M56.2 270.8l5.6 -14.5l-1.5 -7M73.9 264.9l-12.1 -8.6M76.8 261.7l-2.9 3.2M39.6 242l-5.2 -4.5l-11.1 0.3l-2.6 1.4M31.4 257.2l8.2 -15.2M52 247.6l-2.6 -3.5l-9.8 -2.1M76.8 261.7l3.1 -10.1l-19.6 -2.3M80.8 250.8l-0.9 0.8M29.3 216.4l-9.3 -0.4M23.3 237.8l6 -21.4M31 215.6l-1.7 0.8M34.4 237.5l6.6 -12.7l-10 -9.2M49.5 225.1l-8.5 -0.3M49.4 244.1l2.8 -16.8l-2.7 -2.2M54.5 227.1l-2.3 0.2M59.9 248.9l9.9 -16.5M76 230.3l-6.2 2.1M80.8 250.8l-2.2 -19.5l-2.6 -1M105 225.7l-2.1 -0.7M31 215.6l2.1 -5.3l-13.1 -15.4M51.2 209.1l-2.6 -4.5M48.3 204.4l-11.3 3l-3.9 2.9M49.5 225.1l1.7 -16M64.6 213.4l-13.4 -4.3M54.5 227.1l10.1 -13.7M70.9 212.1l-6.3 1.3M37 207.4l-3.2 -18l-13.8 -0.1M36.5 188.2l-2.7 1.2M48.3 204.4l-1.4 -9.9l-10.4 -6.3M70.9 212.1l4.6 -9.7M74.1 193l-25.5 11.6M102.9 225l-6.6 -10.1l-20.8 -12.5M36.5 188.2l2.4 -5.5M46.9 194.5l9.5 -10.8M74.1 193l1.6 -8.7M96.3 214.9l2.1 -25.4M27.3 519.3l-7.3 -2M20 534.9l7.3 -15.6M35.6 526.6l-7.8 -7.3l-0.5 0M36.5 539.5l-0.9 -12.9M55.3 532.7l-9.2 -13.4l-10.5 7.3M72.4 526.7l-11 -1.2l-6.1 7.2M69.3 545l3.1 -18.3M77.9 522.6l-5.5 4.1M85.3 530.7l-7.4 -8.1M27.8 519.3l7.5 -12.8M46.1 519.3l1.9 -5.1l-9 -8.8l-3.7 1.1M61.4 525.5l-2.8 -13.9l-10.6 2.6M77.9 522.6l0.2 -1.4l-10.2 -10.4l-8.4 -0.2M96.9 506.7l-3.3 -0.2M39 505.4l3.5 -9.4l-2.2 -7l-11.3 -4.9M59.5 510.6l-1.7 -12.2l-15.3 -2.4M79.8 496.5l-0.6 -1.3l-19.7 0.9l-1.7 2.3M93.6 506.5l-13.8 -10M48.9 481.6l-1.5 -7.5l-15.9 1M40.3 489l8.6 -7.4M59.5 496.1l-0.6 -12.5l-10 -2M79.2 495.2l-0.1 -5.3l-7.7 -10.8l-7.4 0.7l-5.1 3.8M85.5 485.3l-6.4 4.6M95.1 483.4l-9.6 1.9M47.4 474.1l1.2 -7.4l-13.1 -7M64 479.8l-8.4 -15.9M57.3 461.7l-1.7 2.2M71.4 479.1l3.4 -7.4l-12.3 -10.6M85.5 485.3l1.8 -13.4M57.3 461.7l-3.8 -13l-10.9 -1.8l-7 4.9M62.5 461.1l6.9 -6.4l-8.2 -12.6l-7.7 6.6M75.6 454.4l-6.2 0.3M41.6 427.3l-6.1 -12.3l-7.3 -1.4M42.6 446.9l1.1 -17l-0.6 -1.5l-1.5 -1.1M62.5 439.1l-18.8 -9.2M61.2 442.1l1.3 -3M64.3 437.5l-1.8 1.6M43.1 428.4l11.6 -5.2M44.2 407.5l-8.7 7.5M29 289.7l-9 -0.6M81.8 447.1l-8.7 3.5M99.7 457.2l-17.9 -10.1M81.8 447.1l3.5 -10.4l-20.8 -18.7l-9.9 5.1M93.6 426.5l-8.3 10.2M120.5 430.4l-26.9 -3.9M60.5 392.9l-20.3 0l-3.5 3.5M64.5 418l14.8 -15.5l-18.8 -9.6M93.6 426.5l-9.2 -24.7l-0.6 -0.5M99.3 402.4l-14.9 -0.6M40.2 392.9l4 -19.1l-22.4 -6.6l-1.8 1.1M48.1 367.6l-3.9 6.2M60.5 392.9l4.1 -15l-16.5 -10.3M72.8 375.6l-8.2 2.3M83.8 401.3l1.9 -10l-1 -4.4l-11.9 -11.3M120.6 391l-8.2 -11.9l-26.7 12.2M127.7 394.7l-7.1 -3.7M21.8 367.2l10.8 -21.5l-12.6 -3.6M48.1 367.6l2.4 -12.3l-17.8 -9.6M51.4 354.9l-0.9 0.4M72.8 375.6l0.2 -14.6l-21.6 -6.1M83.4 356.3l-10.4 4.7M84.7 386.9l7.6 -19.8l-8.9 -10.8M107.8 367l-15.5 0.1M112.1 372.4l-4.3 -5.4M132.7 369.9l-8.6 -2.2M40.2 322.1l-0.6 -1.1l-16.9 -8M65.9 330l-25.7 -7.9M83.4 356.3l5.7 -18.8l-1.6 -1.7l-21.6 -5.7M110.8 347.8l-8.3 -9.3l-13.4 -1M107.8 367l3 -19.2M124.1 367.7l2.9 -19.3l-16.2 -0.6M137.8 344.7l-10.8 3.7M39.6 321l9.4 -16.6l-20.5 -12.9M65.9 330l0.6 -19.1l-13 -7.9M87.5 335.8l2.5 -16.8l-9.9 -18.1l-13.6 10M102.5 338.5l9.1 -11.4l-5.9 -18.1l-15.7 10M123.4 324.4l-11.8 2.7M53.5 303l3.5 -15.6M80.1 300.9l2.8 -6.6M105.7 309l2.6 -9.5M123.4 324.4l-2.1 -21.8M108.8 299.7l0 -5.9l-0.5 -0.5l-19 -4.2M122.8 303l3.6 -5l-10.1 -6.2M137.4 306.4l-0.2 -1.2M129 296.9l-2.6 1.1M147.9 299l-4.7 -0.7l-6 6.9M147.7 308.7l0.2 -9.7M156.1 310.2l2.3 -8.8l-9.7 -2.6l-0.8 0.2M170.7 303.2l-9.9 -4.1l-2.4 2.3M169.7 312.7l1 -9.5M182.6 306.4l-1.3 -3.2l-8.9 -0.9M180.7 314.8l1.9 -8.4M192.3 307.7l-9.7 -1.3M189 316.3l3.3 -8.6M197.6 305.3l-5.3 2.4M204.7 307.6l-7.1 -2.3M108.7 283.1l-8.3 -3.7l-9.7 3.9M116.3 291.8l6.4 -9.2l-0.9 -1.8l-9.1 -2M131.5 290.6l-2.4 -4.8l-6.4 -3.2M143.2 298.3l-2.7 -8.4l-9 0.7M148.7 298.8l2.3 -9.8l-8.8 -0.8l-1.7 1.7M160.8 299.1l0.2 -6l-6.6 -5.5M162.6 292l-1.6 1.1M181.3 303.2l2.5 -4.7l-0.5 -1.8l-6.9 -8.9l-2.3 2.1M197.6 305.3l-4.8 -7l-9 0.2M104.8 267.6l-11.1 3M100.4 279.4l4.4 -11.8M110.3 269.9l-5.4 -2.5M115.2 267.8l-4.9 2.1M121.8 280.8l2.3 -6.5l-8.9 -6.5M136.1 276.7l-0.7 -2.2M128.2 270.9l-4.1 3.4M142.2 288.2l0 -8l-6.1 -3.5M154.4 287.6l0.5 -6.7l-8.4 -3.2l-4.3 2.5M162.6 292l3.2 -11.4l-10.1 -0.6l-0.8 0.9M176.4 287.8l0.3 -1.2l-2 -3.9l-5.1 -4.1l-3.8 2M183.3 296.7l6.1 -8l-4 -4.3l-8.7 2.2M192.8 298.3l2 -7.5l-5.4 -2.1M208.2 286.7l-5.5 -0.6l-7.9 4.7M104.9 267.4l-1 -5.1l-7.7 -2.4M120.8 260.3l-5.2 -4.9l-9.9 3.2M115.2 267.8l5.6 -7.5M128.2 270.9l-0.5 -8.4M125 260.4l-4.2 -0.1M135.4 274.5l4.1 -5.2l-3.6 -8.3l-8.2 1.5M146.9 269l-7.4 0.3M146.5 277.7l0.4 -8.7M155.7 280l1.5 -7.7l-7.5 -6M162.6 270.1l-5.4 2.2M169.6 278.6l-0.3 -2.9l-6.7 -5.6M174.7 282.7l9 -12l-1 -2M173.9 270l-4.6 5.7M185.4 284.4l4.7 -8.6l-6.4 -5.1M202.7 286.1l-10.3 -10.4l-2.3 0.1M105.7 258.6l-3.1 -10.6l-3.9 -1.6M115.8 249l-5.6 -4l-7.6 3M125 260.4l3.3 -11l-7.9 -2.9l-4.6 2.5M135.9 261l5.4 -5.6l-11.1 -7.2M149.7 266.3l0.5 -5.5l-8.7 -5.5M165.3 258.8l-9.7 -1l-5.4 3M162.6 270.1l2.7 -11.3M165.9 258.5l-0.6 0.3M182.7 268.7l0.2 -1.4l-6.8 -8.3l-9 0M192.4 275.7l8 -9.5l-3.6 -6.1l-0.6 -0.1l-8 1.1l-5.3 6.2M110.2 245l1.4 -9.1M120.4 246.5l0.9 -8.2l-9.3 -2.9l-0.4 0.5M130.2 248.2l2.5 -7.4M126.7 235.5l-5.4 2.8M141.5 255.3l4.9 -13.2M146 241.4l-11.9 -1l-1.4 0.4M155.6 257.8l-1.6 -12.7l-7.6 -3M167.3 251.2l-10.5 -6.9l-2.8 0.8M165.9 258.5l1.4 -7.3M170.9 246.7l-3.6 4.5M176.1 259l6.3 -8l0.1 -0.5M178.7 248.6l-7.8 -1.9M188.2 261.1l-5.8 -10.1M196.2 260l-6 -9.3M112.4 226.3l-5.3 -3.2M126.9 230.7l-8.7 -6.5l-5.8 2.1M134.1 240.4l3.3 -10.3l-0.7 -1.5l-7.2 0.1M146 241.4l1 -5.1l-9.6 -6.2M162.6 237.4l-3.9 -5.8l-10.2 2.3M170.9 246.7l-1.1 -8.2l-7.2 -1.1M172.3 235.9l-2.5 2.6M122.1 216.2l-6.5 -4.3M130.6 220.9l-3.5 -5.1l-2.8 -0.7l-2.2 1.1M139.3 221.2l-8.7 -0.3M136.7 228.6l3.5 -5.5l-0.9 -1.9M148.5 233.9l-1.5 -8.7l-6.8 -2.1M158.7 231.6l1.6 -5.5l-11.6 -2.6l-1.7 1.7M167.3 217.8l-7 8.3M124.8 206.5l-7.1 -1.1M137.2 206.2l-10.5 -2.8M127.1 215.8l11.2 -5.6l-0.1 -2.6M140.2 212.6l-1.9 -2.4M139.3 221.2l0.9 -8.6M148.7 223.5l3 -9l-11.5 -1.9M124 193.3l-10 0.8M126.7 203.4l-2.7 -10.1M137.1 197.1l-0.5 -0.9l-11.6 -3.7l-1 0.8M137.2 206.2l-0.1 -9.1M150.1 201l-1 -3.6l-12 -0.3M138.2 207.6l11.9 -6.6M157 206.6l-6.9 -5.6M128.9 182.2l-13 -6.1M134.6 182.8l-4.3 -1.5l-1.4 0.9M149.1 197.4l1 -7.7l-0.3 -1M161.3 193.9l-11.2 -4.2M130.3 181.3l2.1 -8.1l-0.5 -1.5l-14.6 -1.3M144.3 172.1l-11.9 1.1M134.6 182.8l12.7 -4.8l-3 -5.9M152.1 181.7l-4.8 -3.7M121.6 160.2l-2 0.2M131.9 171.7l-0.7 -9M132.6 161.6l-1.4 1.1M144.3 172.1l2.2 -7.4M145.2 162.4l-12.6 -0.8M121.6 160.2l5.2 -11.9l-3.1 -5.2M134.4 152.9l-0.6 -1.8M132.6 161.6l1.8 -8.7M133.8 151.1l5.4 -8.7l-14.2 -4.8M142.1 141.4l-2.9 1M143.6 134.4l-2.9 -3M140.7 131.4l2.8 -9.4M187.2 244.6l-10.7 -8.6l-3 2.3M186.1 250.6l1.1 -6M202.5 242.6l-10.9 -2.3l-4.4 4.3M208.9 252.2l-6.4 -9.6M176.5 236l3.7 -6.2l-0.9 -3.1l-10.1 -1M191.6 240.3l-2.7 -8.5l-8.7 -2M196 227.3l-7.1 4.5M202.5 242.6l0.3 -13.1l-6.8 -2.2M212.6 253.4l3.8 -21.8l-8.6 -5.3l-5 3.2M230 242.6l-7.5 -13l-6.1 2M167.2 210.3l-7.3 3.4M179.3 226.7l0.9 -8M192 214.3l-4.9 0.4l-6.9 4M207.8 226.3l0.6 -3.4l-13.6 -10.9l-2.8 2.3M224 217.8l-15.1 4.5l-0.5 0.6M222.5 229.6l3.5 -5.2l-2 -6.6M235.9 226.8l-9.9 -2.4M231.6 242.8l4.3 -16M245.9 227.1l-3.9 -2.2l-6.1 1.9M249 245l-3.1 -17.9M256.6 246l7.2 -19.8l-1.8 -2.1M249.5 225.3l-3.6 1.8M274.7 248.3l-0.4 -19.1M291.3 233.8l-13.7 -7.2l-3.3 2.6M286 249.7l5.3 -15.9M310.8 252.9l-0.3 -22.2l-0.2 -0.5l-10 -2.6l-9 6.2M318 253.8l14.6 -17.7M338.5 239.8l-5.7 -3.8l-0.2 0.1M339 256.5l-0.5 -16.7M348.1 235.8l-9.6 4M170.9 202.1l-0.8 -3.7l-9.2 -3.3M181.3 202.2l-10.4 -0.1M187.1 214.7l-5.8 -12.5M185.5 198.7l-4.2 3.5M194.8 212l2.7 -4.4l-12 -8.9M208.9 222.3l1.6 -14.4l-0.9 -1l-8 -2.3l-4.1 3M224 217.8l0.7 -6.2l-14.2 -3.7M242 224.9l-2.2 -13.4l-13.6 -1.2M249.5 225.3l3 -13l-10.1 -3.5l-2.6 2.7M262 224.1l1.2 -11.4M263.2 212.7l-4.7 -1.9l-6 1.5M277.6 226.6l3.8 -9.9l-1.7 -2.3l-16.5 -1.7M300.3 227.6l-7.1 -11l-11.8 0.1M332.8 236l1.1 -9.7l-16.2 -8.5l-7.4 12.4M349 225l-12.6 -0.6M170.1 198.4l2.3 -8l-11.7 -11l-4.5 1.9M187.8 189.2l-1.1 -2l-4.6 -1.7l-9.7 4.9M185.5 198.7l2.3 -9.5M201.6 204.6l-0.9 -9.7l-12.9 -5.7M209.6 206.9l8.2 -13l-1.9 -2.1l-11.4 -1.1l-3.8 4.2M226.9 195.8l-9.1 -1.9M229 194.2l-2.1 1.6M242.4 208.8l2.2 -10.8l-2.8 -4.1M258.5 210.8l-5.1 -12.1l-8.8 -0.7M263.2 212.7l4.7 -12.1l-7.3 -6.1l-7.2 4.2M268.9 200.5l-1 0.1M293.2 216.6l5.1 -10.9l-3.8 -12.6l-6.3 1.8l-8.6 9.8M317.7 217.8l0.8 -6l-20.2 -6.1M336.4 224.4l0.1 -16.8l-3.3 -3.8l-6.5 -0.7l-1.9 0.5M160.7 179.4l5.2 -7.9l-13.1 -10.7l-4.8 6.5M177.6 172.9l-9.6 -2.5l-2.1 1.1M186.7 187.2l9.4 -10.1l-2.8 -5.8M184.4 167.9l-6.8 5M204.5 190.7l-0.5 -11.5l-0.7 -0.7M215.9 191.8l1 -12.5l-12.9 -0.1M227.9 184.3l-9.1 -6.5M243.2 189.3l-7.9 -11.6l-7.4 6.6M241.8 193.9l1.4 -4.6M260.6 194.5l0.4 -3.1l-5.4 -8.9l-4.6 -0.5l-7.8 7.3M268.9 200.5l6.9 -10.5l-3.3 -5.1l-11.5 6.5M288.2 194.9l-12.4 -4.9M317.3 195.2l-21.4 -4.5l-1.4 2.4M324.8 203.6l-7.5 -8.4M345.2 193.5l-12 10.3M152.8 160.8l-0.6 -7.1M168 170.4l2.5 -15.6l-10.1 -4l-8.2 2.9M184.4 167.9l0.3 -8.2l-0.4 -1.3l-12.6 -4.2l-1.2 0.6M193.3 171.3l6.1 -9.6l-14.7 -2M203.3 178.5l5.2 -14.4l-8.5 -2.9l-0.6 0.5M218.8 177.8l2.9 -10l-12.6 -3.9M223.9 166.5l-2.2 1.3M235.3 177.7l0.7 -6l-12.1 -5.2M247 172.8l-9.2 -1.9l-1.8 0.8M255.6 182.5l7.1 -6.6l-3.2 -7.6l-7 -1.2l-5.5 5.7M272.9 177.9l-10.2 -2M295.9 190.7l0.2 -4l-4.5 -6.7l-15 -5.5M317.3 195.2l0.7 -16.1l-12.3 0l-9.6 7.6M326.7 203.1l4.8 -28.6M325.1 173.3l-7.1 5.8M354.9 159.2l-10.6 3.6M160.4 150.8l1.6 -10l-5.8 -5.3l-13.9 5.2M172.2 136.4l-10.2 4.4M171.7 154.2l3.3 -7.3M184.3 158.4l4.8 -7.4l-3.7 -5.7l-10.4 1.6M200 161.2l-2 -10.6l-8.9 0.4M209.1 163.9l3.4 -15.8M212.3 147.8l-11.3 -0.9l-3 3.7M223.9 166.5l2.2 -10.7M225.3 153l-12.8 -4.9M242.2 156.8l-16.1 -1M252.5 167.1l-3.2 -10.3l-4.5 -1.8l-2.6 1.8M259.5 168.3l6.1 -7.7l-1.7 -5.5l-8.8 -0.5l-5.8 2.2M276.6 174.5l0.2 -8.4l-11.2 -5.5M291.6 180l2.9 -16.6l-8.5 -6.8l-9.2 9.5M305.7 179.1l-0.1 -14.1M303.5 162.8l-9 0.6M322.6 166.8l-17 -1.8M156.2 135.5l3.6 -13.5M172.2 136.4l1.4 -3.1l-5.8 -9.8M185.4 145.3l2.6 -12.8M201 146.9l-5.2 -17.7M193.7 128.8l-5.7 3.7M212.3 147.8l2 -7.5M231.3 142l-14.5 -4.3l-2.5 2.6M225.3 153l6 -11M238.1 136.7l-6.8 5.3M255.1 154.6l-0.3 -15.3M263.9 155.1l3 -5.4l-10.5 -10.1M286 156.6l-0.6 -7.2M270.1 148l-3.2 1.7M286.6 147.3l-1.2 2.1M303.5 162.8l3.7 -9.7l-20.6 -5.8M326.6 161l-16.1 -11.3l-3.3 3.4M270.1 148l-0.2 -6.4M286.6 147.3l1 -3.3M310.5 149.7l0.1 -2.8M322.3 360.6l-0.5 -0.9M313.8 346.6l-15.3 -7.4M315.5 344.5l8.4 -25.4M132.5 439.4l3.4 -21.1l-2.6 -2.1l-8.1 -1.3l-1.5 -0.1M155.3 443.3l-3.2 -10.2l-9.2 -11.8M187.2 439.9l-16.8 -13.7M170.4 426.2l0.1 -15.4l-5.7 0.1l-21.9 10.4M173.3 409.3l-2.8 1.5M229.2 410.6l-0.9 -0.1M164.8 410.9l-7.4 -12.9l-18.9 9.3l-5.2 8.9M125.2 414.9l7.1 -31.7M138.5 407.3l4.3 -15.8l-7.8 -8.3l-2.7 0M157.4 398l2.3 -8.1l-11.9 -1.4M163.8 387.4l-4.1 2.5M173.3 409.3l-4.7 -19.3M177 388.1l-8.4 1.9M185.5 390.5l-8.5 -2.4M135 383.2l8.1 -11.8l-1.9 -3.5l-8.2 0.7M147.8 388.5l0.4 -14.5M163.8 387.4l-0.3 -5.1l-10.7 -8.6l-4.6 0.3M177.8 378l-10.1 -1.8l-4.2 6.1M177 388.1l0.8 -10.1M195.1 376.9l-9.3 -5.8l-8 6.9M141.2 367.9l0.8 -4.3l-6.6 -7.1M152.8 373.7l8.2 -11.3l-14.4 -3.1l-4.6 4.3M167.7 376.2l1.4 -10.5l-8 -3.4M184.9 369.6l-14.2 -4.5l-1.6 0.6M146.6 359.3l2.1 -12.9l-1.6 -1.6l-8.9 -2M161.1 362.3l-0.4 -14l-12 -1.9M170.7 365.1l6.4 -15M162.5 347.1l-1.8 1.2M184.9 369.6l2.5 -15l-0.8 -1.3l-7.3 -4.2l-2.2 1M212.1 387.6l0.9 0.5M235.8 363.2l-1 -0.1M147.1 344.8l5.8 -12.6M164.6 335.1l-7 -6.2l-4.7 3.3M179.3 349.1l1.1 -8.9l-0.6 -1.4l-11.9 -4.5l-3.3 0.8M186.6 353.3l13.1 -15.7l-19.3 2.6M157.5 317.1l-14.7 2.5M167.9 334.3l7.4 -12.7l-16.9 -5.7l-0.9 1.2M179.8 338.8l4 -14.5l-8.3 -2.7M200.5 318.4l-16.7 5.9M158.4 315.9l0.3 -5.2M175.5 321.6l0.8 -7.7M293.8 458.7l-3.4 -2.4l-12.1 3.4l-1.2 1.3M293.5 462.8l0.3 -4.1M310.7 463.7l-10.4 -7.1l-6.5 2.1M311.2 464.8l-0.5 -1.1M359.5 459.4l-15 -6l-7 14.3M362.9 469.7l-3.4 -10.3M242.4 448l-8.9 -7.6M233.5 440.4l-9 3.3M268.1 448.5l-8.2 -5l-2.9 1.3M278.3 459.7l3.6 -13l-10.2 -2.3l-3.6 4.1M291.4 447.5l-7.3 -2.7l-2.2 1.9M290.4 456.3l1 -8.8M300.3 456.6l-0.8 -8.6l-5.7 -1.3l-2.4 0.8M310.7 463.7l1.1 -11.1l-10.1 -6l-2.2 1.4M321.8 465.9l2.1 -13.6l-8.6 -4.7l-3.5 5M344.5 453.4l-1.4 -7.3l-11.4 0.5l-7.8 5.7M370.8 451l-11.3 8.4M233.5 440.4l2.5 -7l-9.2 -5.8M239.6 432.4l-3.6 1M245.1 444.5l-0.2 -8.2M252.1 434.8l-2.8 -0.7l-4.4 2.2M254.6 443l-2.5 -8.2M259.9 443.5l2.9 -8.2l-3.7 -3l-7 2.5M271.7 444.4l0.1 -7.7l-3.2 -2.7M283.8 440.7l-5.6 -4.6l-6.4 0.6M284.1 444.8l-0.3 -4.1M288.8 435.4l-5 5.3M301.7 446.6l3.5 -7.1l-5.5 -3.5l-5.2 2.5M315.3 447.6l0.2 -4.4M308.6 438.5l-3.4 1M321.1 440.3l-5.6 2.9M371.3 444.3l-2.8 -1.7M343.8 443.9l-0.7 2.2M239.6 432.4l5.7 -18.3M249.3 434.1l0.9 -13.7l-4.9 -6.3M259.1 432.3l-1.7 -7.4l-7.2 -4.5M270.5 426.5l-9.6 -2.9l-3.5 1.3M278.2 436.1l3.9 -10.9M272.6 424.2l-2.1 2.3M288.8 435.4l0.4 -8.3M283.4 424.6l-1.3 0.6M299.7 436l-2.1 -9.1l-2.4 -1.6l-6 1.8M308.6 438.5l2.4 -9.1l-4.6 -3l-8.8 0.5M321.1 440.3l2 -8.3l-0.8 -1.3l-9.9 -1.8l-1.4 0.5M343.8 443.9l-0.3 -9.1l-20.4 -2.8M368.5 442.6l-6.3 -14.2l-12.4 -6.6l-2.4 0.9l-3.9 12.1M260.9 423.6l5.2 -8.8l-6.1 -11M272.6 424.2l-1.9 -6.3l-4.6 -3.1M278.2 412.4l-7.5 5.5M283.4 424.6l0 -5l-5.2 -7.2M295.2 425.3l1.7 -8.1l-8.4 -3.1l-5.1 5.5M306.4 426.4l0.7 -9.2l-8.4 -2.1l-1.8 2.1M310.4 415.5l-3.3 1.7M322.3 430.7l2 -7.1l-3.5 -4.9l-5.4 0.9M342.8 419l-18.5 4.6M372.5 426l-10.3 2.4M278.2 412.4l0.7 -6l-0.8 -1.1l-14.7 -6.8M288.5 414.1l-1 -5.7l-8.6 -2M298.7 415.1l0.1 -8l-6.2 -1.9M310.4 415.5l2.1 -9.2l-11 -1.3M320.8 418.7l2.8 -7.7l-6.4 -7.3M316.9 403.5l-4.4 2.8M342.8 419l-4.7 -6.9l-14.5 -1.1M373.3 414.6l-13.4 -4.3l-10.1 11.5M278.1 405.3l7.8 -9.2l-1.5 -2.9l-10.9 -6.8M292.6 405.2l-2.7 -7.8l-4 -1.3M301.5 405l-0.3 -8.9l-4.7 -3.2l-6.6 4.5M315.6 391.2l-3 -0.7l-11.4 5.6M316.9 403.5l-1.3 -12.3M338.1 412.1l-0.3 -9.4l-2.1 -4.4l-18.5 5.4M361 397.8l-1.8 -2.1l-21.4 7M374.6 395.4l-13.6 2.4M284.4 393.2l7.8 -9.8l-13.8 -4l-3.4 0.3M296.5 392.9l-0.9 -7.6l-2.8 -2l-0.6 0.1M312.6 390.5l-7.8 -7.5l-9.2 2.3M335.7 398.3l-1.5 -20.3M359.2 395.7l-2 -5M294.5 373.7l-6.1 -1.9l-10 7.6M304.8 383l1.2 -7.5l-9.2 -3.7l-2.3 1.9M306.8 374.9l-0.8 0.6M316.5 378.1l-9.7 -3.2M367.6 381.1l-10.4 9.6M286.3 366.4l-15.2 -5M296.8 371.8l0.3 -4.3l-4.9 -4.9l-5.9 3.8M310.6 366.1l-6.9 -3.5l-6.6 4.9M306.8 374.9l3.8 -8.8M339.6 363.8l0.3 -2.1M319.2 363.1l-8.6 3M367.6 381.1l-1.3 -7.4l-20.6 -11.4M376.1 371.6l-0.7 -0.3l-9.1 2.4M292.2 362.6l-0.1 -5.9M303.7 362.6l-1.2 -4.5M139.3 586.9l1.3 -17.8l-4.4 -6.7M161 596.6l12.6 -20.9l-11.8 -13.7l-21.2 7.1M203.6 587.9l-17.2 -15.6l-12.8 3.4M105.7 555l4.1 -14.9l-24.2 -10.3M136.2 562.4l0.1 -22.1M116 536.2l-6.2 3.9M161.3 545.7l-17.5 -9l-7.5 3.6M186.4 572.3l8.4 -21.7M180.6 537.6l-19.3 8.1M116 510.5l-4.9 -7.2l-14.2 3.5M116 536.2l0 -25.7M143.8 536.7l5.6 -20.3l-11.9 -6.9l-21.5 1M180.6 537.6l0.9 -22.1l-18.9 -7.8l-13.2 8.7M212.9 523.6l-20.9 -14.1M111.1 503.3l3.9 -22.5l-16.9 -6.8M137.5 509.5l-1.5 -29l-12.9 -4l-8.1 4.3M162.6 507.7l-4.4 -27.1l-1.2 -1l-21 0.9M192 509.5l4 -9.6l-21.6 -20.7M126.1 452.6l-8.8 -6.1M123.1 476.5l3 -23.9M157 479.6l1.4 -15.2l-20 -19.9l-12.3 8.1M174.4 479.2l34 -26.7M173.6 446.5l-15.2 17.9M138.4 444.5l1.6 -3.8M221.5 600.1l-12.5 -5.3M209 594.8l11 -14.1l-14.7 -4.6M232.2 596.3l-2.3 -10.9l-9 -5l-0.9 0.3M254.7 582.3l-15.1 -5.8l-9.7 8.9M258.2 581.2l-3.5 1.1M264 593l0.3 -6.5M293.1 595.8l-9.3 -8.6M220.9 580.4l1.1 -16l-2.6 -2.1l-12.2 0.8M239.6 576.5l-2 -13.5l-15.6 1.4M239.6 560.6l-2 2.4M258.2 581.2l2.9 -10.5l-6.8 -10.3l-14.7 0.2M283.8 587.2l-3 -19.5l-6.4 -1.4l-13.3 4.4M296.5 555.4l-15.7 12.3M301.1 555l-4.6 0.4M219.4 562.3l1.3 -18.6l-10 -4.5M239.6 560.6l-2.5 -12.5l-7.7 -6.5l-8.7 2.1M254.3 560.4l5.7 -12.3l-0.9 -2.5l-9.6 -3.7l-12.4 6.2M274.4 566.3l-4.8 -15.6M296.5 555.4l-15.2 -10.2l-11.7 5.5M229.4 541.6l4.8 -13.2l-19.7 -15.8M246.1 530l-11.8 -1.7l-0.1 0.1M249.5 541.9l-3.4 -11.9M259.1 545.6l6.3 -14.2M255.4 523.3l-9.3 6.7M277.7 531.2l-3.2 -1.7l-9.1 1.9M305.3 544.1l-3 -9.8l-10.2 -8.2l-14.4 5.1M342.7 536.1l-16.5 -4.2l-8 12.2M329.7 558.9l13 -22.8M343.3 535.9l-0.6 0.2M244.5 508l-16.6 -1.4M234.3 528.3l10.2 -20.3M253.9 504.4l-9.4 3.6M255.4 523.3l-1.5 -18.9M254.3 503.8l-0.4 0.6M292.1 526.1l0.5 -8.2l-13.1 -19.5M302.3 534.3l11.9 -17.1M306 512.4l-13.4 5.5M326.2 531.9l-1 -7.9l-9.9 -7M345.4 511l-0.5 0l-19.7 13M227.9 506.6l7.9 -23.2M306 512.4l-3.5 -12.1M311.5 492.7l-9 7.6M315.3 517l7.1 -15.1M327.4 501.2l-5 0.7M311.5 492.7l-0.1 -7.3l-3.9 -3.5l-22.6 0.5M327.4 501.2l5.8 -17l-13.2 -2.9l-8.6 4.1M347.6 483.8l-7.2 -3.1l-7.2 3.5M307.5 481.9l-0.9 -17.7M320 481.3l2.6 -15.3M340.4 480.7l-3.9 -13.2" fill="none" stroke-width="1.8"/>
<path d="M215.5 250.5l5.9 0.7l4.9 4.4l3.2 10.3l-0.4 10.8l0.6 0.2l2.3 -2.6l3.1 1.9l5.3 -3.3l3.8 3.8l6.8 -0.7l3.3 -4l6.5 -0.7l0.7 -23.7l-46 -5.6zM363.8 565.6l0 -12.4l-12.9 0l0 12.4zM393.9 590l0 -11.8l-12.8 0l0 11.8zM381.2 601.4l0 -11.4l-0.1 0l0 -0.4l-11.3 0l0 10.5l-1 0l0 1.3zM331.7 609.4l0 -9.8l-12.9 0l0 2.4l2 2l2 3.3l2.6 2.1zM818.6 370.2l3.6 -5.1l-5.3 -6.4l-8.5 -1.6l1.6 11.5zM832.1 349.9l-1.5 -11.5l-8 1.7l0.8 11.4zM838 353.5l1.5 -14l-8.6 1.2l1.2 9.2l-3 0.5l-0.3 2.2zM801.4 367.4l-0.9 -7.4l-2 0l0 0.1l-5.4 0l0.8 7.3zM802.5 382.1l0.8 -6.7l-7.4 0l0 -0.7l-1.5 0l0.9 7.4z" fill="#c5d4f3" stroke-width="1.7"/>
<path d="M285.5 274.1l0 -12.2l-9.4 -6l-1.4 -6.7l-14 -1.7l0.8 0.1l-0.7 23.7l-0.9 0.1zM400.1 168.6l0 -12.8l-8.9 -0.2l-0.1 0.8l1.3 12.2z" fill="#f0f4fe" stroke-width="1.7"/>
<path d="M285.7 263.3l22.5 1.4l1.5 -11.8l-35.7 -3.8l0.7 0.1l1.4 6.7l9.4 6l0 1.3zM343 279l1.7 -21.8l-18.3 -1.7l-2 22.5zM340.6 320.5l1.4 -23.4l-3.9 -0.5l-12.6 -1l0 0.1l0.5 0l-2.1 23.4z" fill="#f4f7ff" stroke-width="1.7"/>
<path d="M305.5 293.8l2.9 -30.5l-0.1 0l-0.1 1.4l-22.5 -1.4l-0.2 -0.1l0 10.9l-1.3 -0.1l-1.2 16.9z" fill="#dfe7fa" stroke-width="1.7"/>
<path d="M273.2 283.8l1.3 5.8l8.5 1.3l1.2 -16.9l-24.3 -2.6l0.9 -0.1l-1.6 0.1l1.9 7.1z" fill="#e8eefc" stroke-width="1.7"/>
<path d="M246.5 283.9l12.5 5.5l16.2 0.3l-0.7 -0.1l-1.3 -5.8l-12.1 -5.3l-1.9 -7.1l-4.9 0.6l-3.3 4l-6.8 0.7l-0.6 -0.5l0.7 3.2zM299.8 572.6l0.1 -0.5l7.8 0.7l17.2 0.5l0.3 -1.7l1.5 -12.8l2 0.1l1.4 -1l-5.8 -7.9l-1.5 -5.9l-20.9 0l-2.2 28.5z" fill="#edf2fd" stroke-width="1.7"/>
<path d="M322.9 294.8l3.5 -39.5l-16.8 -1.8l-1.3 9.8l0.1 0l-2.9 30.4zM357.8 599.4l0 -10.7l-17.9 0l0 -1.5l-0.5 0l0 12.2zM366.2 626.8l0 -14.7l-11.5 0l0 -0.4l-0.1 0l0 9.8l-1.3 0l0 4.8l0.9 0.5zM431.4 711.1l0 -16.5l-14.1 0l0 11.4l-0.7 0l0 5.1zM803.9 372.4l0 0.9l1.7 6.1l4.7 -3.6l-5.3 -7.6l-0.5 0.1z" fill="#7b9be3" stroke-width="1.7"/>
<path d="M341.6 296.8l1.5 -18.8l-0.1 1l-18.6 -1l0.1 -1.1l-1.6 17.9l-0.1 0l-0.1 0.6z" fill="#d9e3f8" stroke-width="1.7"/>
<path d="M233 286.5l1.3 11.7l7.3 10l0.7 9.5l31.4 3.9l2.7 -31.7l-1.9 -0.3l0.7 0.1l-16.2 -0.3l-12.5 -5.5l-2.2 -4.5l-0.7 -3.2l0.6 0.5l-3.8 -3.8l-5.3 3.3l-3.1 -1.9l-2.3 2.6l-0.6 -0.2l0.1 -1.7l-1.8 9.4zM384.7 213.9l0.2 -5.8l-15.6 0l-0.3 2.8l-3.7 0l-0.3 2.5zM345.4 651.9l1.5 -6.4l5.4 -0.7l0.7 -5.3l11.9 -1.4l-3.3 -8.2l-7 -2.8l-3.9 -2.6l-6.8 -3.4l-7.2 -2.9l-9.1 10.1l-4.1 4.7zM354.6 621.5l0 -10l-11.2 0l-0.8 7.3l0 1.8l1.3 0.5l0.7 0.4zM442.9 695.4l3.7 -2.7l0.6 -1.4l-10.4 -11.1l-5.9 1.2l0 13.2l0.5 0l11.2 0l0 0.8zM437.5 758.6l11.5 0l0 -13.3l-11.3 1.6l-1.5 11.1zM569.4 600.6l0 -10.2l-11.6 1.6l1.4 7.9l0.6 0l0.4 1.4zM507.5 465.2l0 -6.8l-9.3 0l0 6.8zM463.2 546.3l0 -10.7l-12.6 0l0 10.7z" fill="#cddaf5" stroke-width="1.7"/>
<path d="M301.2 321.3l2.8 -27.7l-20.1 -2.6l0.9 0.1l0 0.1l-1 -0.2l-0.8 -0.1l-2.2 -0.4l-4.4 -0.4l-2.5 28.5z" fill="#c4d3f3" stroke-width="1.7"/>
<path d="M214.1 313.6l27.8 4l0.3 -1.8l-0.6 -7.6l-7.3 -10l-1.3 -11.7l-5.6 -2.1l-1.8 -0.1l-8 3.6l-1.4 5.8z" fill="#3a62cf" stroke-width="1.7"/>
<path d="M220.5 332.6l2.7 -17.7l-9.1 -1.3l2.1 -19.9l1.4 -5.8l0.3 -0.1l-8.6 -1.7l-7.6 43.6zM415.4 731.8l15 0l0 -20.7l-13.8 0l0 -5.1l-3.8 0l-9.8 0l6.9 13.9l2.7 2.8z" fill="#6688dd" stroke-width="1.7"/>
<path d="M309.4 321.5l1.3 3.2l3.2 1.1l2.8 -6.9l7.1 0.2l2.2 -23.4l-19.9 -2l-0.6 0l0 0.1l-1.3 -0.2l-1.2 10.5l-1.8 17z" fill="#83a0e3" stroke-width="1.7"/>
<path d="M209 287.6l0.3 -1.5l8.6 1.7l-0.3 0.1l8 -3.6l1.8 0.1l1.8 -9.4l-0.1 1.7l0.4 -10.8l-3.2 -10.3l-4.9 -4.4l-5.9 -0.7l0 -1.2l-1.3 1.3z" fill="#f7f7f7" stroke-width="1.7"/>
<path d="M218.6 347.4l2.2 -16.1l-0.1 0l-0.2 1.3l-18.8 -2.9l0.1 -0.6l-0.1 0l-2.3 15.4zM256.1 389.5l1.4 -3.7l10.8 0l1.3 -5.3l5 0.3l1.5 -4.7l-7.7 -0.9l-0.1 0.3l-33.3 -3.8l-2.2 14.9zM806.6 396.9l0 -3.5l-1.8 0.3l0.5 -4.3l-7.4 0l0 7.5z" fill="#aec2ee" stroke-width="1.7"/>
<path d="M261 353.4l2 -15l8.5 0.7l1 -17.6l-15.7 -2l-33.7 -3.7l-2.6 16.8l0.2 -1.3l0.1 0l-1.1 8.1l-0.9 7.8z" fill="#f5d6a0" stroke-width="1.7"/>
<path d="M292.4 356.7l1.4 -8.2l4 -0.7l2.2 -26.1l-13.8 -1.9l-12.3 -1.2l0.1 -0.4l-0.3 3.4l-0.9 -0.1l-0.4 2.9l-0.9 14.7l-8.5 -0.7l-2 14.9z" fill="#4470d0" stroke-width="1.7"/>
<path d="M215.3 378.6l2.9 -26.8l-18.6 1.5l-2.9 22.3zM554.4 599.5l2.3 -8l-2.2 -11l-7.2 0l0.7 9.4l3.8 8.8l-1.1 0zM846.9 319.1l-1.7 -9l-14 1.9l0.9 9.4zM803.9 375.4l0 -8.8l-2.6 0.3l0.1 0.5l-6 0l-0.3 0.1l0.8 7.9z" fill="#bccbf0" stroke-width="1.7"/>
<path d="M212.8 387.9l18.8 3l4.2 -36.4l-17.4 0.8l-1.4 6.8l-1.7 16.5l-1 -0.2z" fill="#f3f2bc" stroke-width="1.7"/>
<path d="M212.5 387.6l1 -4.6l0.5 -2.9l-25.6 -4.4l2.6 8z" fill="#7898e3" stroke-width="1.7"/>
<path d="M210.3 413l-2.3 -10.7l4.2 -14.8l-21.2 -3.8l0 -0.2l-4 -0.7l-5 25.9z" fill="#e8effd" stroke-width="1.7"/>
<path d="M227.5 415.6l3.6 -24.8l-19.1 -2.8l-4 14.3l2.3 10.7zM378.8 612.8l0 -11.4l-10 0l0 -1.1l-1 0l0 11.8l-1.1 0l0 0.7zM377.9 627.5l0 -14.7l-11.2 0l0 -0.5l-0.5 0l0 14.5l-1.1 0l0 0.7zM442.6 711.1l0 -16.5l-11.2 0l0 16.5zM561.6 605.9l-1.8 -6l-8.5 0l0.2 0.4l1 0.6l1.6 4.2l0.9 1.7z" fill="#9db4ea" stroke-width="1.7"/>
<path d="M268.3 375.5l3.7 -18.8l-34.9 -4.2l-2.2 19.2zM242.5 418.6l3.1 -10l16 -5.3l1.8 -5.1l-31 -4.9l-0.2 0l-0.4 0l-3.7 24.6zM422.5 167.1l0.7 -10.2l-22.7 -1.4l0.9 11.1zM334.1 174.9l3.1 -1.5l7.6 0.5l7.5 2.3l0.7 -8.3l-8.2 -2.6l-1.1 -5.2l-20.5 1l-1.2 11.6zM314.3 622.9l-1.2 -1.1l3.7 -21.6l0.2 -0.1l0.3 0.3l0.1 -0.7l-21.6 -2.2l-2.1 34.1zM344.4 609.8l0 -10.2l-6.5 0l0 0.1l-2 -0.1l-4.2 0l0 9.8l-0.5 0l0 0.4zM435 757.5l1.2 0.5l1.5 -11.1l1.2 -0.2l-16.2 1.5l0.9 4.8zM832 321.2l-0.7 -8.7l-12.8 2.2l0.9 8.7zM25.8 404.9l-5.8 -4.3l0 20.9l9 -4.9z" fill="#e4ebfb" stroke-width="1.7"/>
<path d="M271 398.2l3.7 -17.1l-3 -0.5l-2.1 -0.1l-1.3 5.3l-10.8 0l-1.4 3.7l-23 -2.8l-0.9 6.6z" fill="#4f78d3" stroke-width="1.7"/>
<path d="M315 386.6l18.3 1.5l0.6 -12.1l12.1 0l0.7 -11.8l-27.3 -1.7l-1.5 7.5z" fill="#adc0c5" stroke-width="1.7"/>
<path d="M336.3 361.1l0.8 -14.5l-23.2 -2.2l-1 14.5z" fill="#eef2fe" stroke-width="1.7"/>
<path d="M374 162.7l0.7 -9l-18.5 -1.7l-1 9zM339.6 186.8l4.6 1.9l1 5.1l6.7 1.3l0.5 -18.7l-1.3 -0.6l-6.3 -1.9l-7.6 -0.5l-3.1 1.5l-1 -0.1l-1.1 7.7zM335.9 617.7l6.7 1.6l0.8 -8.2l-17.9 -1.6l1.9 6.1zM313.1 621.8l11.1 10.4l12.7 -14.3l-1 -0.2l-8.5 -2.1l-1.9 -6l-2.7 -2.3l-2 -3.3l-3.8 -3.9l-0.2 0.1zM351.4 576.9l0 -11.3l-0.5 0l0 -1.4l-10.5 0l-0.5 6.7l0 6zM359.1 588.7l0 -13.2l-7.7 0l0 1.4l-11.5 0l0 11.8zM429.8 480.6l4.8 5.8l9.1 4l0 -16.2l-19.1 0l-0.1 0.3z" fill="#a9bdee" stroke-width="1.7"/>
<path d="M387 166.2l0.5 -5.3l3 -1l0.7 -4.5l-16 -1.4l-0.6 11z" fill="#d6e1f8" stroke-width="1.7"/>
<path d="M359.6 178.1l1.7 -2.1l2.7 2.8l5.5 -2.2l5.6 -1.7l0 -9.8l-0.5 -0.1l0.1 -2.4l-0.7 0l0 0.1l-2.6 -0.3l-16 -0.8l-1.4 16.5zM385.6 207.2l-0.5 -20.3l-4.4 -0.5l-1 0.8l-0.3 -0.9l-0.2 0l-1.5 0.3l-0.3 0.9l-7.4 1l-0.3 2.6l0.6 14.9zM871 328.8l11.5 -6.7l-0.1 -0.6l-4.9 -0.9l-4.1 -5.9l-14.4 5.1l6.8 6z" fill="#8fa8cb" stroke-width="1.7"/>
<path d="M377.4 179.6l0.9 2.9l1.4 4.7l2.8 -2.1l9.1 -0.6l0 -17.9l-15.7 -0.5l0 11.4z" fill="#f9dfa0" stroke-width="1.7"/>
<path d="M369 196.7l1 -8.2l7.4 -1l1.2 -4.2l-0.3 -0.8l-0.9 -2.9l-1.2 -1.6l-0.6 -0.6l-5.3 -1.1l-0.8 0.3l-5.5 2.2l-2.7 -2.8l-1.7 2.1l-2.3 0l-4.2 2.4l-0.5 15z" fill="#cf5c48" stroke-width="1.7"/>
<path d="M369 210.9l1 -11.9l0 -1.7l-10.8 -0.2l-1.2 13.8zM426.3 744.1l0 -12.3l-10.9 0l-0.2 -0.4l5.4 16.6zM560.2 620.1l-3.1 -9.5l-11 0.8l7.1 15.3zM529.9 610l0 -13.4l-9.4 0l0 13.4zM541.3 606.7l0 -9.4l-10.8 0l0 9.4zM875.4 314.7l10.8 -3.1l-0.1 -1.6l0.7 -0.1l-0.1 -0.6l-0.2 0.1l-1.6 -7.6l-14.2 2.9l0.8 5.8zM507.5 474.5l0 -9.3l-9.3 0l0 9.3zM490.9 496.6l6.2 0.8l0.8 -21.5l-16.7 -0.8l-1.5 10.6zM507.1 538.1l3 -17.6l-14.4 1.6l0.8 16z" fill="#dbe5f9" stroke-width="1.7"/>
<path d="M249.5 484.8l3.6 -24.1l-29.4 -4.3l-3.6 25.5z" fill="#aec0ec" stroke-width="1.7"/>
<path d="M264.7 482.6l0.7 4.7l27.7 3.6l0.3 -0.7l-9.2 -8.5l2.3 -2.2l0.7 -14.9l-34.1 -3.5l-0.2 1.3l-2.7 18.2zM584.8 588.5l0 -8.6l-15.3 0l4.9 10.2zM822.8 374.7l-0.9 -6.7l-1.8 0.1l-1.5 2.1l-8.3 -1.5l-1.3 0.1l1.8 7.4zM833.8 366.3l3.1 -12.9l-4 -0.4l-4.1 -0.4l0 -0.1l-6.1 -0.6l-1.5 11.3z" fill="#d0dcf6" stroke-width="1.7"/>
<path d="M237.7 456.4l18.6 2.3l0.8 -15.5l-9.5 -0.7l-3.8 3zM447.8 473.9l0 -12.4l-13.8 0l0 12.4z" fill="#aabded" stroke-width="1.7"/>
<path d="M255 486.6l-0.7 19.4l22.1 2.9l1.4 -20l-12.4 -1.6l-0.7 -4.7l-14.5 -2l-0.3 1.6z" fill="#eaf0fd" stroke-width="1.7"/>
<path d="M323 599.1l0.7 -13.8l-1.3 -0.7l0.7 -10.3l-23.2 -2.2l-2.2 24.8z" fill="#3c66d0" stroke-width="1.7"/>
<path d="M322.5 584.7l1.2 0.6l0 0.2l0.4 0.2l-1 13.3l14.8 0.7l2.8 -40.2l-14 -0.7l-1.5 12.8z" fill="#4b74d6" stroke-width="1.7"/>
<path d="M366.1 639.3l0.7 8.5l16.7 0.7l0 -20.8l-23.8 0l0.5 1.7l1.4 0.5l3.3 8.2l-1.4 0.1zM476.6 552.3l0 -11.9l-13.4 0l0 5.9l-0.6 0l0 6z" fill="#c8d7f4" stroke-width="1.7"/>
<path d="M369.8 600.1l0 -11.9l-10.7 0l0 0.5l-1.3 0l0 10.7l-0.7 0l0 0.7zM355.9 611.5l0 -12.1l-12.8 0l0 0.2l1.3 0l0 10.2l-1.3 0l0 1.2l0.3 0.1l0 0.4zM367.8 612.1l0 -12l-10.7 0l0 -0.5l-1.2 0l0 11.9l-1.2 0l0 0.6zM798.5 360.1l0.9 -7.5l-8.3 0l0.8 7.5zM452.6 488.7l0 -13.8l-8.9 0l0 13.8z" fill="#8aa6e6" stroke-width="1.7"/>
<path d="M391.2 628.2l0 -11.9l-13.3 0l0 11.2l-1.2 0l0 0.2l6.8 0l0 0.5zM454.3 710.3l-7.4 -17.8l-4.3 3.1l0 15.5zM459.7 682.9l7.7 -4.6l1.3 -1l0.2 0.1l0.2 -0.1l0.7 -7.6l-3.8 -3.8l-11.5 8.5l2 4.8zM459.3 473.9l0 -9.7l-11.4 0l0 9.7zM466.5 485.4l0 -10.5l-13.9 0l0 10.5zM461.2 518.2l0 -10l-13.9 0l0 10zM461.2 535.5l0 -17.3l-9.3 0l0 17.3zM410.3 520.8l0 -11.9l-11.1 0l0 11.9z" fill="#b5c7ef" stroke-width="1.7"/>
<path d="M400 700l2.9 5.8l14.4 0.2l0 -11.8l-17.8 0l0 5zM893.5 315l0.9 -7l-0.3 0l-8 2l0.5 7.6z" fill="#4a72d3" stroke-width="1.7"/>
<path d="M457.4 694.3l1.8 -4.3l-1.9 -2.5l1.9 -2.6l-2.3 -4.4l-10.6 8.2l3.8 4.5zM545.7 610.1l10 -0.8l-3.2 -8.4l-3.8 -2.2l-2.8 0l-0.5 -0.3l-3 1.9l-0.5 4.8zM811.4 392.7l-0.9 -7.8l-4.8 1.4l-0.9 7.4z" fill="#2f5ccc" stroke-width="1.7"/>
<path d="M464.1 688.1l3 1.4l6.3 -6.7l-4.7 -5.5l-9.5 7.4l0 0.2l-1.9 2.6l3.2 3.5zM818.7 391.5l0 -7.3l-7.5 -0.9l0 8.1l0.1 0.1z" fill="#5a80d9" stroke-width="1.7"/>
<path d="M545.9 598.7l5.9 0l-3.8 -8.8l-0.7 -9.4l-6.1 0l0.7 15.5zM811 383.5l2 -5.3l-5.1 -0.5l-2.3 1.7l-0.6 -2.1l-0.4 0l0 6.2z" fill="#6f90df" stroke-width="1.7"/>
<path d="M899.5 307.1l-1.4 -8.4l-13.3 2.6l1.7 8.1z" fill="#f0b27a" stroke-width="1.7"/>
<path d="M885.6 319l-0.9 -6.2l-7.8 1.5l-1.5 0.4l-0.1 -0.1l-1.1 0.2l4 5.9l1.6 0.3z" fill="#c0d0f2" stroke-width="1.7"/>
<path d="M37.5 452.3l-17.5 -4.4l0 26.2l11 2.6z" fill="#6785cc" stroke-width="1.7"/>
<path d="M30.8 476.7l-10.8 -2.6l0 17.8l7.1 0zM411.4 514.7l12.8 0l0.7 -17.4l-4.2 -12.7l-8.6 -0.8l0.7 16.3z" fill="#b9caf0" stroke-width="1.7"/>
<path d="M223.3 454.1l3.9 -38.5l-8.4 -1.3l-8.3 1.9l-11.1 11.2l-18.1 18.6l0 0.1z" fill="#e7eefc" stroke-width="1.7"/>
</g>
<path d="M34.9 182.4l35.9 2.2l6.2 -0.3l35 8.6l2.5 -10.9l14.2 -60l-108.7 0l0 56zM99.1 233.4l9.8 -12.7l9.7 -12.7l-4.6 -13.3l0.5 -12.7l-2.5 10.9l-35 -8.6l-6.2 0.3l-35.9 -2.2l-14.9 -4.4l0 98.5l0 1.5l11.2 3.4l35.6 8.4l21 5.9l10.8 -46.2zM96.9 507.7l0 -21.5l-76.9 -114.7l0 165.4l0 0.1l5 0.5l50 8.5l4.5 2.8l2.6 -4.3l4.1 -17.5zM20 322.9l11.2 -41.5l-11.2 -3.4zM20 371.5l76.9 114.7l2.8 -29l15.3 0.5l30.1 -149.5l-57.1 -13.4l-0.2 0.9l-21 -5.9l-35.6 -8.4l-11.2 41.5zM118.6 208l-9.7 12.7l-9.8 12.7l-0.5 16.1l-10.8 46.2l0.2 -0.9l28.4 6.7l28.7 6.7l57.7 10.6l0.1 0l10.8 -65l-8.1 -2.7l-25.9 -0.6l-8.4 -16.4l-5.3 -21.3l-11.7 1.7l9.5 -27.9l-6 -2.6l-13.6 -23.3l-2.9 -15.6l5.1 -23.1l-17.7 0l-14.2 60l-0.5 12.7zM144.2 160.7l13.6 23.3l6 2.6l-9.5 27.9l11.7 -1.7l5.3 21.3l8.4 16.4l25.9 0.6l8.1 2.7l2.2 -13l130.2 16.6l9.5 -105.9l-7.9 -0.7l-8.8 -0.8l-8.7 -0.9l-8.8 -1l-8.7 -1l-8.8 -1l-8.7 -1.1l-8.7 -1.1l-8.7 -1.2l-8.7 -1.2l-8.7 -1.3l-8.7 -1.3l-8.7 -1.4l-8.7 -1.4l-8.7 -1.5l-8.6 -1.5l-8.7 -1.6l-8.7 -1.6l-8.6 -1.7l-8.6 -1.7l-8.6 -1.7l-8.6 -1.8l-4.6 -1l-14.2 0l-5.1 23.1zM346.1 257.4l-130.2 -16.6l-3.5 20.6l-13.9 83.4l39.4 6.1l49.5 5.3l0 -0.1l49.4 6.4zM222.8 455l15.1 -104.1l-39.4 -6.1l4.3 -26l-57.7 -10.6l-25.9 128.9zM376.5 365.5l-39.6 -4.1l-0.1 1.1l-49.4 -6.4l-49.5 -5.2l-15.1 104.1l126.8 14l9 0.3l11 1.1zM96.9 486.2l0 21.5l-10.7 19.3l-4.1 17.5l-2.6 4.3l28 17.2l42.5 28l25 6l26.5 2.9l21.3 -147.9l-103.6 -17.9l-4.2 20.6l-15.3 -0.5zM208.7 603.7l12.3 1.3l1 -9l25.6 0.7l11.7 0.3l-1 -4.6l79.8 7.8l9.6 -118.2l1.9 -13l-126.8 -14l-21.3 147.9zM486.6 239.2l-0.6 -9.6l-3.6 -15.9l-0.7 -18.6l-4.7 -24.1l-1.6 -13.4l-4.8 0l-8.8 -0.2l-8.8 -0.2l-8.8 -0.3l-8.8 -0.3l-8.8 -0.4l-8.7 -0.4l-8.8 -0.4l-8.8 -0.5l-8.8 -0.6l-8.8 -0.6l-8.7 -0.6l-8.8 -0.7l-8.8 -0.8l-0.8 -0.1l-7.2 81.1zM448.6 316.2l11.5 5.6l13.6 -1.1l14.5 9.4l-2.8 -10.6l3 -15.8l0.2 -47.5l-7.4 -8l5.4 -9l-138.2 -6.6l-2.3 24.8l-1.5 17.8l-3.1 34.8zM374.8 391.8l136.3 4l-5 -6.5l-4.5 -8.7l-1.6 -3.2l-1 -13.1l-4 -13.2l-6.8 -21l-14.5 -9.4l-13.6 1.1l-11.5 -5.6l-107.1 -6.2l-4.6 51.4l39.6 4.1zM526.1 474.5l-0.4 -55.2l-10.4 -10.4l4 -7.9l-8.2 -5.2l-136.3 -4l-5.2 78.6zM412.1 486l-2.2 50.9l17.2 7.6l13 4.4l10.9 1.6l19.6 9.5l13.2 -2.5l24.2 -1.3l22.5 6.4l0.3 -46.1l-4.5 -28.9l-0.2 -13.1l-156.5 -4.1l-11 -1.1l-9 -0.3l-1.9 13zM291.5 633.5l0.5 0.5l4 18l12 14l20 15l2.8 -4.5l9.2 -14.5l10.2 -2.5l1.8 -0.5l18 5l8.9 6.4l5.1 3.6l8 14l8 12l10 20l0 0.1l5 14.9l2.1 5l5.4 12.5l12.5 5l15 6.5l10 3.5l9.1 0l0.9 0l-2.5 -12.5l-5 -15l2.5 -15l10 -12.5l10 -11.5l15 -9l20 -14l26 -10l0.9 0l0 -1.2l2.9 -21.3l3 -18.7l-11.6 -20.9l-0.6 -26.4l-0.3 -14.5l-9.8 -2.4l-22.5 -6.4l-24.2 1.3l-13.2 2.5l-19.6 -9.5l-10.9 -1.6l-13 -4.4l-17.2 -7.6l2.2 -50.9l-64.4 -4l-9.6 118.2l-79.8 -7.8l1 4.6l0.7 0l6 10l14 15l11.5 11.5zM511 147l0 5.4l0 4.6l-5.2 0.8l-8.8 0l-8.8 0l-8.8 -0.1l-4 -0.1l1.6 13.4l4.7 24.1l0.7 18.6l3.6 15.9l0.6 9.6l-5.4 9l7.4 8l-0.2 47.5l100.3 -2.4l-2 -9.1l-12 -11.3l-16.5 -11.3l-1.7 -22.4l8.7 -13.6l-0.6 -14.6l3.6 -2.8l3.6 -1.9l6.2 -4.3l10 -10l12 -10l11 -8l0 -2l-11 -3l-16 1l-18 -2l-8 -6l-12 -3l-26 -7l-0.6 -7.9l-0.4 -5.1l-3.3 0l-3.8 0l-0.9 0zM488.2 330.1l6.8 21l4 13.2l1 13.1l1.6 3.2l81.5 -2.6l5.9 5.5l6 -8.7l0.3 -13.2l15.8 -16.7l-9.7 -17.9l-9.7 -12.6l-3 -13.1l-100.3 2.4l-3 15.8zM511.1 395.8l8.2 5.2l-4 7.9l10.4 10.4l0.4 55.2l0.2 13.1l90.1 -3.5l0.8 13.1l14.3 -0.9l5.5 -13.6l4.3 -12.9l-8 -7.9l-19.2 -22.4l2.1 -15.9l-10.4 -2l-17.7 -25.4l0.9 -12.7l-5.9 -5.5l-81.5 2.6l4.5 8.7zM530.5 562.6l9.8 2.4l0.3 14.5l64.2 -2.4l-0.2 -23.7l9.9 -19.1l5.9 -10.9l4.1 -2.9l7 -24.2l-14.3 0.9l-0.8 -13.1l-90.1 3.5l4.5 28.9zM552.8 626.8l-3 18.7l-2.9 21.3l0 1.2l19.1 -1l20 3l6 -6l12 4l4 8l16 4l14 -4l12 2l10 -2l-2 -5l-12 -5l-6 -6l10 -6l0 -2l-3.3 -3.3l-7.6 -10.1l0.9 -10.7l-42.6 2.5l1.6 -13.3l7.8 -24.2l-2 -15.8l-64.2 2.4l0.6 26.4zM565.2 233.6l-8.7 13.6l1.7 22.4l16.5 11.3l12 11.3l2 9.1l3 13.1l9.7 12.6l55 -4.3l-0.9 -7.7l-1.5 -15l0 -10l-1 -12l1 -10l4 -10l0.4 -0.5l-4.3 -3.3l-4.3 -6.2l-6.8 -14.1l-18.9 -3.7l-18.8 -5.4l-5.8 -4.9l-0.2 -3.5l-1.3 0.6l-4 -7l-10 -1l-14 6.6l1.8 -1.3l-3.6 1.9l-3.6 2.8zM595.3 361.6l-0.3 13.2l-6 8.7l-0.9 12.7l17.7 25.4l10.4 2l-2.1 15.9l19.2 22.4l8 7.9l11.4 -3.6l9.7 -9.2l0.6 -10.6l1.5 -13.4l5.2 -11l-0.2 -17.1l-5.6 -60.8l-3.9 -3.1l-3 -13l-0.6 -5.3l-55 4.3l9.7 17.9zM669.7 422l-5.2 11l-1.5 13.4l8.5 -4.8l10.8 3.5l12.1 -4.4l10.1 -3.7l4.4 -7.7l5.9 -12l10.9 -11.9l-8.4 -67.8l-34.1 2.4l-0.2 1l-6 5.5l-9 1l-4.1 -3.4l5.6 60.8zM743.6 333.3l7.8 -8.3l0.8 -1.5l0.8 -2l7 -15l-3 -15l-4 -14.5l-5.5 -4.5l-15 10l-2.5 -7.5l6 -15l-3.5 -17.5l-12.5 -6.5l-14 -5l-6 3l-4 10l-6 10l-6 8l-4 12l-1 20l3.5 17l3 17l-2.3 12l34.1 -2.4zM728 224l-1 -4l-7 -2l-4 -8l-16 -4l-8 1l-18 5l-14 2l-16 -7l-10 -2l4 -5l9 -6l1 -3l-12 5l-8 8l-8 3l-12 5l-8.7 4.4l0.2 3.5l5.8 4.9l18.8 5.4l18.9 3.7l6.8 14.1l4.3 6.2l4.3 3.3l7.6 -9.5l4 -10l4 -6l12 -4l10 -5l16 -1l16 2zM731.8 404.6l17.9 9.6l13.9 -4.1l9.4 6.9l7.4 -5.9l7.6 -11.8l2.9 -7.7l12.2 -13.4l1 -10.1l0.9 -8.9l0.5 -6.5l-6 -34.9l-12.5 8.2l-17 9l-17.5 2l-4 -4.5l3.1 -7.6l-0.2 0.1l-7.8 8.3l-26.3 4.3l8.4 67.8zM664.7 476.3l43.7 -3.5l48.9 -5.3l18.9 -14.6l13.2 -15l-7.4 -3.1l-5.2 -5.9l-3.8 -11.9l-9.4 -6.9l-13.9 4.1l-17.9 -9.6l-6.1 0.8l-10.9 11.9l-5.9 12l-4.4 7.7l-10.1 3.7l-12.1 4.4l-10.8 -3.5l-8.5 4.8l-0.6 10.6l-9.7 9.2l-11.4 3.6l-4.3 12.9l28.1 -2.2zM664.7 476.3l0.4 4.2l-28.1 2.2l-5.5 13.6l-7 24.2l-4.1 2.9l45.3 -3.4l56.1 -5.3l27.5 -3.4l4.9 -7.5l6.4 -8.9l12.1 -7l9.6 -8l11.2 -4.4l6.4 -7.6l-0.6 -6.3l-42 5.9l-48.9 5.3zM604.6 553.4l0.2 23.7l2 15.8l-7.8 24.2l-1.6 13.3l42.6 -2.5l-0.9 10.7l7.6 10.1l3.3 3.3l0 -4l10 -3l11.6 -0.6l-4.9 -42.4l1.4 -79.5l-2.4 -2.5l-45.3 3.4l-5.9 10.9zM666.7 602l4.9 42.4l8.4 -0.4l10 -2l4.3 -0.4l0.2 -2.2l-5.8 -12.7l-0.3 -2.7l57.9 -6.2l-3 -34.2l-6.2 -13.9l-15.3 -55l-56.1 5.3l2.4 2.5zM743.3 583.6l3 34.2l5.3 7.4l60.9 -4.9l4.2 5l-0.4 -10.4l15.1 -1.4l-1.4 -8.5l0 -15l6.3 -12.5l-5.5 -1.2l-12.7 -22l-17.8 -13.2l-18.7 -21.2l-10.4 -3.8l4.3 -8.6l-26.2 3.8l-27.5 3.4l15.3 55zM816.7 625.3l-4.2 -5l-60.9 4.9l-5.3 -7.4l-57.9 6.2l0.3 2.7l5.8 12.7l-0.2 2.2l15.7 -1.6l15 1l15 6.5l10 6.5l12.5 -6.5l12.5 -5l17.5 10l15 17.5l2.5 15l5 17.5l10 15l15 17.5l10 12.5l15 12.5l12.5 2.5l5 -12.5l-1.5 -10l-1 -22.5l-7.5 -17.5l-12.5 -25l-12.5 -20l-10 -20l-5 -15l-1.1 -6.5l-15.1 1.4zM886 524l2.1 -1.7l-3.5 1.4l-34.9 -22.9l-24.2 3.7l-6.4 -5.1l-29.4 0.7l-14.2 7.4l-4.3 8.6l10.4 3.8l18.7 21.2l17.8 13.2l12.7 22l5.5 1.2l1.2 -2.5l14.5 -12l11 -11l5 -12l8 -10l10 -6zM789.7 500.1l29.4 -0.7l6.4 5.1l24.2 -3.7l34.9 22.9l3.5 -1.4l7.9 -6.3l8 -12l10 -8l8 -8l-2 -10l8 -12l5 -10l-8.8 -17.5l-124.9 23.1l0.6 6.3l-6.4 7.6l-11.2 4.4l-9.6 8l-12.1 7l-6.4 8.9l-4.9 7.5l26.2 -3.8zM924.2 438.5l-0.2 -0.5l-8 -12l4 -14l-1.4 -9.8l-14.6 4.5l-23.1 -8.4l1.4 -13.8l-14.7 -8.2l-13.3 -0.8l-7.8 18.9l-13.2 7.8l-9.2 31l-17.8 8.3l-16.9 -3.6l-13.2 15l-18.9 14.6l42 -5.9zM782 434.8l7.4 3.1l16.9 3.6l17.8 -8.3l9.2 -31l13.2 -7.8l7.8 -18.9l13.3 0.8l-14.3 -6l-12.2 6.4l-8.2 9.6l-2.5 -13.5l-20.8 3.7l-4.1 -23.8l-0.5 6.5l-0.9 8.9l-1 10.1l-12.2 13.4l-2.9 7.7l-7.6 11.8l-7.4 5.9l3.8 11.9zM841.1 376.7l12.2 -6.4l14.3 6l14.7 8.2l-1.4 13.8l23.1 8.4l14.6 -4.5l-0.6 -4.2l8.7 -11.3l-15.6 3.6l-7.3 -32.5l-73.4 15l2.5 13.5zM926.7 386.7l1.2 -1.5l-9.6 -8.6l-8.5 -14.3l1.2 -8.3l-2.3 -0.8l-4.9 4.6l7.3 32.5zM809.6 376.5l20.8 -3.7l73.4 -15l4.9 -4.6l2.3 0.8l10.7 -12l-11.4 -17.6l5.1 -13.3l-16.4 -13.7l-84.8 17.4l-1.4 -7.6l-12.8 10.3l-0.5 0.3l6 34.9zM911 354l-1.2 8.3l8.5 14.3l9.6 8.6l2.1 -2.7l-2.5 -15l10 -17.5l-2.5 -17.5l0 -0.8l-1.8 -1.9l-0.2 -13.5l-17.6 -5.2l-5.1 13.3l11.4 17.6zM953 309.7l2 -0.7l10 -5l8 -1l1.4 -1.4l-0.7 -2.7zM899 297.4l16.4 13.7l17.6 5.2l0.2 13.5l1.8 1.9l0 -4.7l4 -3l4 -5l0.7 -4.4l-6.2 3.3l2.3 -8.8l-5.8 -21.5l0.1 -19.1l-8.3 -21l-8.2 -36.1l-0.4 -1.7l-24.2 7.3l-6 3l-9 10l-8 13l-2 4.5l1.5 7.5l-4.5 12.5l-8.5 3.5l-21.5 2l-9 5.5l-2 13l-11 15.5l-0.2 0.2l1.4 7.6zM937.5 317.9l6.2 -3.3l-0.2 1.6l0.5 -3.2l9 -3.3l18 -9.4l-0.6 -1.9l-4 -18.6l-32.4 7.8l5.8 21.5zM981 295l1.5 -3.5l-1 -1.6l-7.1 -12.2l-8 2.1l4 18.6l0.6 1.9l2.7 -1.4l0.7 2.7zM966.4 279.8l8 -2.1l7.1 12.2l1 1.6l1.5 -3.5l3 -1l4 5.7l10 -0.7l7 -3l-3 -12l-5 -1l-9 3l-4 -7l-4 -7l2 -8l-2.2 -5.5l-3.7 1.3l-8 7.2l-21.8 5.1l-15.2 3.4l-0.1 19.1zM934.1 268.5l15.2 -3.4l-3.1 -22.9l0.7 -19.3l4.3 -20.4l-0.9 -3.1l-2.3 3.1l-25 5.5l-5.8 1.7l0.4 1.7l8.2 36.1zM946.2 242.2l3.1 22.9l21.8 -5.1l8 -7.2l3.7 -1.3l-1.4 -3.4l-3.9 -0.9l-10.1 -21.8l-10.5 -31.8l-4.9 3.4l-1.7 2.4l0.9 3.1l-4.3 20.4zM977.5 247.2l3.9 0.9l-0.4 -1.1l4 -14l7 -8l6 -3l4 -5l3 -9l3 2l9 -3l0.5 -6l5.5 -8l1 -16l-3 -12l-8 -2l-5 -15l-5 -16l-11 -8l-10 7l-9 -4l-6 21l-3 17l1 12l-3 13l-5.1 3.6l10.5 31.8z" fill="none" stroke="#f7f7f7" stroke-width="2.1" stroke-linejoin="round"/>
<path d="M45.1 672.8L43.1 678.8L43.8 685.5L31.1 688.2L20.1 690.8L20.1 698.9L24.4 700.2L24.4 709.6L31.1 712.2L41.8 716.3L45.8 720.3L36.4 720.3L27.0 721.6L20.1 725.6L20.1 771.1L136.1 771.1L135.4 747.0L133.4 712.2L132.1 684.1L115.3 684.8L114.0 688.2L95.3 686.2L79.2 683.5L61.8 677.5Z" fill="#f7f7f7"/>
<path d="M80.6 741.7L107.3 736.6L107.6 747.0L107.3 755.1L73.9 755.1L77.9 745.7Z" fill="#f4f8ff"/>
<path d="M75.2 755.1L85.9 757.1L97.9 765.1L95.3 770.4L71.2 770.4Z" fill="#aabded"/>
<path d="M39.7 691.5L37.7 698.9L39.1 702.2L55.1 706.2L57.8 701.5L65.8 698.9L73.9 701.5L80.6 697.5L80.6 690.8L79.2 685.5M55.1 706.2L51.1 718.9L46.4 725.6L37.7 725.6M46.4 725.6L41.1 739.0L23.0 743.0L20.1 745.7M41.1 739.0L61.8 743.0L77.9 745.7M77.9 745.7L81.9 731.0L89.9 725.6L102.0 725.6L100.6 717.6L112.7 715.6L116.7 718.9L122.0 720.3L126.0 716.3L132.7 712.9M102.0 725.6L107.3 728.3L107.3 736.3L114.0 739.0L126.0 740.3L130.1 747.0L131.4 760.4M107.3 736.3L79.2 741.7M77.9 745.7L73.9 755.1L59.1 760.4L55.1 770.4M41.1 739.0L37.7 753.7L31.1 760.4M107.3 747.0L108.6 770.4" fill="none" stroke="#cccccc" stroke-width="1.5" stroke-linejoin="round"/>
<path d="M40.4 670.1L42.4 666.8L47.1 668.1L53.8 664.7L59.1 658.7L68.5 656.7L72.5 654.7L76.5 655.4L81.9 652.0L87.2 656.7L92.6 658.7L96.6 664.1L104.6 664.1L114.0 668.1L120.7 671.4L124.7 669.4L132.1 674.8L132.1 684.1L115.3 684.8L114.0 688.2L95.3 686.2L79.2 683.5L61.8 677.5L45.1 672.8Z" fill="#c4463a" stroke="#cccccc" stroke-width="1.2"/>
<path d="M40.4 670.1L42.4 666.8L47.1 668.1L53.8 664.7L59.1 658.7L68.5 656.7L72.5 654.7L76.5 655.4L81.9 652.0L87.2 656.7L92.6 658.7L96.6 664.1L104.6 664.1L114.0 668.1L120.7 671.4L124.7 669.4L132.1 674.8L132.1 684.1L132.1 684.1" fill="none" stroke="#f7f7f7" stroke-width="2"/>
<path d="M20 590L370 770M213 702L213 770" fill="none" stroke="#ebebeb" stroke-width="1.2"/>
<path d="M237 757l4-6 6-4 8-2 3 4-4 6-8 3zM232 760l3-4 2 2-2 4zM275 765l3-6 6-3 5 2 1 6-4 4h-8z" fill="#f7f7f7"/>
</g>
</svg>
<div id="title">2014 NEIv2 Annual Emissions Totals</div>
<div id="sub">Pollutants: Multiple Pollutants; Sectors: Industrial Processes – Oil &amp; Gas Production</div>
<div id="ltitle">lbs/year</div>
<div id="bar"></div>
<div class="tick" style="top:211px"></div>
<div class="tick" style="top:312px"></div>
<div class="tick" style="top:412.5px"></div>
<div class="tick" style="top:512.5px"></div>
<div class="tick" style="top:612.5px"></div>
<div class="lab" style="top:201px">0</div>
<div class="lab" style="top:301px">2.5M</div>
<div class="lab" style="top:401px">5M</div>
<div class="lab" style="top:501px">7.5M</div>
<div class="lab" style="top:601px">10M</div>
<div id="credits">Highcharts.com © USA Census Bureau</div>
</body></html>
